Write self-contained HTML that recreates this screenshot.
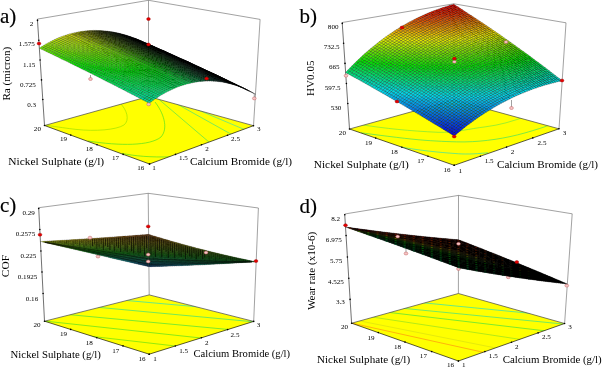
<!DOCTYPE html>
<html lang="en"><head><meta charset="utf-8"><title>Response surface plots</title>
<style>html,body{margin:0;padding:0;background:#fff}svg{display:block}text{font-family:"Liberation Serif",serif;fill:#000}text.b{stroke:#000;stroke-width:.15px}</style></head><body>
<svg width="602" height="368" viewBox="0 0 602 368">
<rect width="602" height="368" fill="#fff"/>
<!-- panel a -->
<path d="M37.4 19.1 L148.5 0.3 L260.1 19.4 L253.5 125.7 M148.5 0.3 L148.5 96.5" fill="none" stroke="#555" stroke-width=".55"/>
<clipPath id="fca"><path d="M149.5 164.0 L253.5 125.7 L148.5 96.5 L44.5 125.5Z"/></clipPath>
<path d="M149.5 164.0 L253.5 125.7 L148.5 96.5 L44.5 125.5Z" fill="#ff0"/>
<g clip-path="url(#fca)" fill="none" stroke-width=".8" stroke-opacity=".85">
<path d="M120 103 C127 110 130 120 124 125 C116 130 95 131.5 76 129.4 C68 128.5 58 127 46 125.2" stroke="#9be000"/>
<path d="M155 102 C163 112 169 128 161 137 C150 146 120 146 88 141" stroke="#4fe020"/>
<path d="M155.9 96.8 L212.1 144.7" stroke="#50e050"/>
<path d="M170.0 100.1 L235.0 136.4" stroke="#40e080"/>
<path d="M195.6 108.9 L249.4 131.6" stroke="#40e0a8"/>
<path d="M122 153.4 C135 156 150 157.5 172 156.8" stroke="#4fe020"/>
</g>
<path d="M44.5 125.5 L148.5 96.5 L253.5 125.7" fill="none" stroke="#444" stroke-width=".7"/>
<path d="M44.5 125.5 L149.5 164.0 L253.5 125.7" fill="none" stroke="#000" stroke-width=".65"/>
<circle cx="149.5" cy="164.0" r=".8"/>
<circle cx="149.5" cy="164.0" r=".8"/>
<circle cx="123.2" cy="154.4" r=".8"/>
<circle cx="175.5" cy="154.4" r=".8"/>
<circle cx="97.0" cy="144.8" r=".8"/>
<circle cx="201.5" cy="144.8" r=".8"/>
<circle cx="70.8" cy="135.1" r=".8"/>
<circle cx="227.5" cy="135.3" r=".8"/>
<circle cx="44.5" cy="125.5" r=".8"/>
<circle cx="253.5" cy="125.7" r=".8"/>
<path d="M37.4 19.1 L44.5 125.5" fill="none" stroke="#111" stroke-width=".6"/>
<circle cx="37.5" cy="20.4" r=".8"/>
<circle cx="38.8" cy="40.2" r=".8"/>
<circle cx="40.1" cy="60.0" r=".8"/>
<circle cx="41.5" cy="79.9" r=".8"/>
<circle cx="42.8" cy="99.5" r=".8"/>
<ellipse cx="148.5" cy="19.0" rx="1.9" ry="1.5" fill="#e60000" stroke="#900" stroke-width=".4"/>
<g transform="scale(.1)" stroke="#000" stroke-width="2.1" stroke-linejoin="round">
<path fill="#000000" d="M1377 395l21 9-21-9-22-9zM1355 387l22 8-22-9-22-9zM1399 405l21 9-22-10-21-9zM1442 423l22 10-22-10-22-9zM1420 414l22 9-22-9-21-9zM1311 371l22 8-22-10-22-7zM1529 461l22 10-22-9-22-10zM1355 388l22 8-22-9-22-8zM1399 406l21 8-21-9-22-9zM1289 364l22 7-22-9-22-8zM1333 381l22 7-22-9-22-8zM1420 415l22 9-22-10-21-8zM1464 433l22 9-22-9-22-9zM1507 452l22 9-22-9-21-10zM1377 398l22 8-22-10-22-8zM1355 390l22 8-22-10-22-7zM1399 407l21 8-21-9-22-8zM1442 425l22 8-22-9-22-9zM1486 443l21 9-21-10-22-9zM1377 400l22 7-22-9-22-8zM1464 434l22 9-22-10-22-8zM1508 452l21 9-22-9-21-9zM1551 471l22 9-22-9-22-10zM1399 409l22 8-22-10-22-7zM1529 462l22 9-22-10-21-9zM1421 419l21 7-21-9-22-8zM1464 436l22 8-22-10-22-8zM1508 454l21 8-21-10-22-8zM1443 428l21 8-22-10-21-7zM1530 463l21 9-22-10-21-8zM1573 481l21 9-21-9-22-9zM1616 500l22 9-22-9-22-10zM1659 519l22 10-22-10-21-10zM1486 445l22 9-22-10-22-8zM1464 438l22 7-22-9-21-8zM1508 455l22 8-22-9-22-9zM1551 473l22 8-22-9-21-9zM1595 491l21 9-22-10-21-9zM1638 509l21 10-21-10-22-9zM1486 448l22 7-22-10-22-7zM1530 465l21 8-21-10-22-8zM1573 482l22 9-22-10-22-8zM1616 501l22 8-22-9-21-9zM1508 457l22 8-22-10-22-7zM1552 474l21 8-22-9-21-8zM1595 492l21 9-21-10-22-9zM1638 510l22 9-22-10-22-8zM1681 529l22 9-22-9-21-10zM1530 467l22 7-22-9-22-8zM1660 520l21 9-21-10-22-9zM1703 539l21 9-21-10-22-9zM1552 476l21 8-21-10-22-7zM1595 494l22 8-22-10-22-8zM1638 511l22 9-22-10-21-8zM1682 530l21 9-22-10-21-9zM1725 548l21 10-22-10-21-9zM1573 486l22 8-22-10-21-8zM1617 503l21 8-21-9-22-8zM1660 521l22 9-22-10-22-9zM1703 539l22 9-22-9-21-9zM1595 496l22 7-22-9-22-8zM1639 513l21 8-22-10-21-8zM1617 506l22 7-22-10-22-7zM1660 523l22 8-22-10-21-8zM1746 559l22 9-22-10-21-9zM1639 515l21 8-21-10-22-7zM1682 533l21 8-21-10-22-8zM1725 550l21 9-21-10-22-8zM1768 569l21 9-21-10-22-9zM1660 525l22 8-22-10-21-8zM1704 542l21 8-22-9-21-8zM1747 560l21 9-22-10-21-9zM1790 578l21 9-22-9-21-9zM1833 597l21 10-22-10-21-10zM1875 616l22 10-22-10-21-9zM1682 535l22 7-22-9-22-8zM1725 552l22 8-22-10-21-8zM1768 570l22 8-22-9-21-9zM1811 588l22 9-22-10-21-9zM1854 607l21 9-21-9-21-10zM1897 626l21 10-21-10-22-10zM1704 545l21 7-21-10-22-7zM1747 562l21 8-21-10-22-8zM1790 580l21 8-21-10-22-8zM1833 598l21 9-21-10-22-9zM1876 617l21 9-22-10-21-9zM1918 636l22 10-22-10-21-10zM1726 555l21 7-22-10-21-7zM1769 572l21 8-22-10-21-8zM1812 590l21 8-22-10-21-8zM1855 608l21 9-22-10-21-9zM1897 627l21 9-21-10-21-9zM1747 564l22 8-22-10-21-7zM1790 582l22 8-22-10-21-8zM1833 600l22 8-22-10-21-8zM1876 618l21 9-21-10-21-9zM1769 574l21 8-21-10-22-8zM1855 610l21 8-21-10-22-8zM1898 628l21 9-22-10-21-9zM1940 647l21 9-21-10-21-9zM1791 584l21 8-22-10-21-8zM1876 619l22 9-22-10-21-8zM1919 638l21 9-21-10-21-9zM1962 657l21 9-22-10-21-9zM1812 594l22 8-22-10-21-8zM1983 667l21 9-21-10-21-9zM1898 629l21 9-21-10-22-9zM1941 648l21 9-22-10-21-9zM1834 604l21 7-21-9-22-8zM1962 658l21 9-21-10-21-9zM2005 677l21 9-22-10-21-9zM1920 639l21 9-22-10-21-9zM1856 614l21 7-22-10-21-7zM1984 668l21 9-22-10-21-9zM2026 687l21 9-21-10-21-9zM1877 624l21 7-21-10-21-7zM1920 641l21 8-21-10-22-8zM2005 678l21 9-21-10-21-9zM2048 697l21 9-22-10-21-9zM1942 651l21 8-22-10-21-8zM2027 688l21 9-22-10-21-9zM2069 707l21 9-21-10-21-9zM1963 661l21 8-21-10-21-8zM2006 679l21 9-22-10-21-9zM2048 698l21 9-21-10-21-9zM2091 717l21 9-22-10-21-9zM1985 671l21 8-22-10-21-8zM2027 689l21 9-21-10-21-9zM2070 708l21 9-22-10-21-9zM2112 727l21 9-21-10-21-9zM2154 746l21 10-21-10-21-10zM2176 756l20 10-21-10-21-10zM2049 699l21 9-22-10-21-9zM2091 718l21 9-21-10-21-9zM2134 737l20 9-21-10-21-9zM2155 747l21 9-22-10-20-9zM2197 766l21 10-22-10-20-10zM2070 710l21 8-21-10-21-9zM2113 728l21 9-22-10-21-9zM2134 738l21 9-21-10-21-9zM2176 757l21 9-21-10-21-9zM2218 777l21 9-21-10-21-10zM2092 720l21 8-22-10-21-8zM2260 797l21 10-21-10-21-11zM2113 730l21 8-21-10-21-8zM2155 748l21 9-21-10-21-9zM2198 767l20 10-21-11-21-9zM2240 787l20 10-21-11-21-9zM2282 807l20 10-21-10-21-10zM2092 722l21 8-21-10-21-8zM2135 740l20 8-21-10-21-8zM2177 758l21 9-22-10-21-9zM2219 777l21 10-22-10-20-10zM2261 797l21 10-22-10-20-10zM2114 732l21 8-22-10-21-8zM2156 750l21 8-22-10-20-8zM2198 769l21 8-21-10-21-9zM2135 742l21 8-21-10-21-8zM2177 760l21 9-21-11-21-8zM2220 779l20 9-21-11-21-8zM2157 752l20 8-21-10-21-8zM2199 770l21 9-22-10-21-9zM2241 789l21 9-22-10-20-9zM2178 763l21 7-22-10-20-8zM2220 781l21 8-21-10-21-9zM2262 799l21 9-21-10-21-9zM2304 818l21 10-21-11-21-9zM2430 879l20 11-21-11-21-11zM2471 900l20 11-21-10-20-11zM2199 773l21 8-21-11-21-7zM2242 791l20 8-21-10-21-8zM2284 810l20 8-21-10-21-9zM2326 829l20 9-21-10-21-10zM2451 889l20 11-21-10-20-11zM2221 783l21 8-22-10-21-8zM2263 801l21 9-22-11-20-8zM2305 820l21 9-22-11-20-8zM2347 839l21 9-22-10-20-9zM2242 793l21 8-21-10-21-8zM2326 830l21 9-21-10-21-9zM2368 849l21 10-21-11-21-9zM2410 869l20 10-21-11-20-9zM2452 889l20 10-21-10-21-10zM2493 910l20 11-21-11-20-11zM2534 931l21 11-22-10-20-11zM2431 879l21 10-22-10-20-10zM2264 804l20 7-21-10-21-8zM2348 840l20 9-21-10-21-9zM2390 860l20 9-21-10-21-10zM2473 900l20 10-21-11-20-10zM2514 920l20 11-21-10-20-11zM2411 870l20 9-21-10-20-9zM2452 890l21 10-21-11-21-10zM2285 814l21 8-22-11-20-7zM2327 832l21 8-22-10-20-8zM2369 851l21 9-22-11-20-9zM2494 910l20 10-21-10-20-10zM2390 861l21 9-21-10-21-9zM2474 900l20 10-21-10-21-10zM2306 824l21 8-21-10-21-8zM2348 842l21 9-21-11-21-8zM2370 853l20 8-21-10-21-9zM2411 871l21 9-21-10-21-9zM2453 891l21 9-22-10-20-10zM2328 835l20 7-21-10-21-8zM2349 845l21 8-22-11-20-7zM2391 863l20 8-21-10-20-8zM2433 882l20 9-21-11-21-9zM2370 855l21 8-21-10-21-8zM2412 874l21 8-22-11-20-8zM2392 866l20 8-21-11-21-8z"/>
<path fill="#000600" d="M1267 357l22 7-22-10-22-6zM1311 373l22 8-22-10-22-7zM1245 351l22 6-22-9-22-6zM1289 367l22 6-22-9-22-7zM1333 383l22 7-22-9-22-8zM1355 392l22 8-22-10-22-7zM1223 345l22 6-22-9-22-6zM1267 361l22 6-22-10-22-6zM1311 376l22 7-22-10-22-6zM1333 386l22 6-22-9-22-7zM1377 402l22 7-22-9-22-8zM1245 355l22 6-22-10-22-6zM1289 370l22 6-22-9-22-6zM1311 380l22 6-22-10-22-6zM1355 395l22 7-22-10-22-6zM1399 412l22 7-22-10-22-7zM1333 389l22 6-22-9-22-6zM1377 405l22 7-22-10-22-7zM1421 421l22 7-22-9-22-7zM1355 399l22 6-22-10-22-6zM1399 415l22 6-22-9-22-7zM1443 431l21 7-21-10-22-7zM1377 408l22 7-22-10-22-6zM1421 424l22 7-22-10-22-6zM1465 440l21 8-22-10-21-7zM1399 418l22 6-22-9-22-7zM1443 434l22 6-22-9-22-7zM1486 450l22 7-22-9-21-8zM1421 428l22 6-22-10-22-6zM1465 443l21 7-21-10-22-6zM1508 460l22 7-22-10-22-7zM1443 437l22 6-22-9-22-6zM1486 453l22 7-22-10-21-7zM1530 469l22 7-22-9-22-7zM1465 447l21 6-21-10-22-6zM1508 463l22 6-22-9-22-7zM1552 479l21 7-21-10-22-7zM1487 457l21 6-22-10-21-6zM1530 473l22 6-22-10-22-6zM1574 489l21 7-22-10-21-7zM1508 466l22 7-22-10-21-6zM1552 482l22 7-22-10-22-6zM1595 499l22 7-22-10-21-7zM1530 476l22 6-22-9-22-7zM1574 492l21 7-21-10-22-7zM1617 508l22 7-22-9-22-7zM1552 486l22 6-22-10-22-6zM1596 502l21 6-22-9-21-7zM1639 518l21 7-21-10-22-7zM1574 496l22 6-22-10-22-6zM1617 512l22 6-22-10-21-6zM1661 528l21 7-22-10-21-7zM1596 505l21 7-21-10-22-6zM1639 521l22 7-22-10-22-6zM1682 538l22 7-22-10-21-7zM1618 515l21 6-22-9-21-7zM1661 531l21 7-21-10-22-7zM1704 548l22 7-22-10-22-7zM1639 525l22 6-22-10-21-6zM1683 541l21 7-22-10-21-7zM1726 557l21 7-21-9-22-7zM1748 567l21 7-22-10-21-7zM1661 535l22 6-22-10-22-6zM1704 551l22 6-22-9-21-7zM1726 561l22 6-22-10-22-6zM1769 577l22 7-22-10-21-7zM1683 545l21 6-21-10-22-6zM1748 571l21 6-21-10-22-6zM1791 587l21 7-21-10-22-7zM1813 597l21 7-22-10-21-7zM1834 607l22 7-22-10-21-7zM1856 617l21 7-21-10-22-7zM1899 634l21 7-22-10-21-7zM1920 644l22 7-22-10-21-7zM1942 654l21 7-21-10-22-7zM1963 664l22 7-22-10-21-7zM1985 674l21 7-21-10-22-7zM2007 684l21 8-22-11-21-7zM2028 694l21 8-21-10-21-8zM2050 704l21 8-22-10-21-8z"/>
<path fill="#060c00" d="M1201 340l22 5-22-9-22-6zM1179 335l22 5-22-10-22-4zM1224 350l21 5-22-10-22-5zM1202 345l22 5-23-10-22-5zM1246 359l21 5-22-9-21-5zM1268 369l21 5-22-10-21-5zM1290 378l21 5-22-9-21-5z"/>
<path fill="#000c00" d="M1267 364l22 6-22-9-22-6zM1289 374l22 6-22-10-22-6zM1311 383l22 6-22-9-22-6zM1333 393l22 6-22-10-22-6zM1311 388l22 5-22-10-21-5zM1355 403l22 5-22-9-22-6zM1333 397l22 6-22-10-22-5zM1377 412l22 6-22-10-22-5zM1355 407l22 5-22-9-22-6zM1399 422l22 6-22-10-22-6zM1377 417l22 5-22-10-22-5zM1421 432l22 5-22-9-22-6zM1399 426l22 6-22-10-22-5zM1443 441l22 6-22-10-22-5zM1421 436l22 5-22-9-22-6zM1465 451l22 6-22-10-22-6zM1443 446l22 5-22-10-22-5zM1487 461l21 5-21-9-22-6zM1465 456l22 5-22-10-22-5zM1509 471l21 5-22-10-21-5zM1487 465l22 6-22-10-22-5zM1530 480l22 6-22-10-21-5zM1509 475l21 5-21-9-22-6zM1552 490l22 6-22-10-22-6zM1531 485l21 5-22-10-21-5zM1574 500l22 5-22-9-22-6zM1552 495l22 5-22-10-21-5zM1596 510l22 5-22-10-22-5zM1574 505l22 5-22-10-22-5zM1618 520l21 5-21-10-22-5zM1596 515l22 5-22-10-22-5zM1640 529l21 6-22-10-21-5zM1618 524l22 5-22-9-22-5z"/>
<path fill="#0c1200" d="M1157 331l22 4-22-9-22-5zM1180 340l22 5-23-10-22-4z"/>
<path fill="#0c1800" d="M1135 327l22 4-22-10-22-4zM1158 337l22 3-23-9-22-4zM1180 346l22 4-22-10-22-3zM1202 356l22 4-22-10-22-4zM1224 365l22 4-22-9-22-4zM1246 375l22 4-22-10-22-4zM1268 385l22 4-22-10-22-4z"/>
<path fill="#061200" d="M1224 354l22 5-22-9-22-5zM1202 350l22 4-22-9-22-5zM1246 364l22 5-22-10-22-5zM1224 360l22 4-22-10-22-4zM1268 374l22 4-22-9-22-5zM1246 369l22 5-22-10-22-4zM1290 383l21 5-21-10-22-4zM1268 379l22 4-22-9-22-5zM1312 393l21 4-22-9-21-5zM1290 389l22 4-22-10-22-4zM1334 402l21 5-22-10-21-4zM1312 398l22 4-22-9-22-4zM1355 412l22 5-22-10-21-5zM1334 408l21 4-21-10-22-4zM1356 418l21 4-22-10-21-4zM1378 427l21 5-22-10-21-4zM1399 437l22 4-22-9-21-5z"/>
<path fill="#121e00" d="M1113 324l22 3-22-10-22-3zM1135 333l23 4-23-10-22-3zM1158 343l22 3-22-9-23-4zM1180 353l22 3-22-10-22-3z"/>
<path fill="#181e00" d="M1091 321l22 3-22-10-22-3zM1113 330l22 3-22-9-22-3z"/>
<path fill="#1e2400" d="M1069 318l22 3-22-10-22-2zM1091 328l22 2-22-9-22-3z"/>
<path fill="#242a00" d="M1047 317l22 1-22-9-22-2zM1069 326l22 2-22-10-22-1z"/>
<path fill="#122400" d="M1136 340l22 3-23-10-22-3zM1158 350l22 3-22-10-22-3zM1180 359l22 3-22-9-22-3zM1202 369l22 3-22-10-22-3zM1224 379l22 3-22-10-22-3zM1246 388l22 3-22-9-22-3zM1268 398l22 3-22-10-22-3z"/>
<path fill="#2a3600" d="M1025 315l22 2-22-10-22-1zM1047 325l22 1-22-9-22-2zM1069 335l22 1-22-10-22-1z"/>
<path fill="#182400" d="M1114 338l22 2-23-10-22-2z"/>
<path fill="#0c1e00" d="M1202 362l22 3-22-9-22-3zM1224 372l22 3-22-10-22-3zM1246 382l22 3-22-10-22-3zM1268 391l22 3-22-9-22-3zM1290 401l22 3-22-10-22-3zM1312 411l22 3-22-10-22-3zM1334 420l22 4-22-10-22-3z"/>
<path fill="#303c00" d="M1003 314l22 1-22-9-22-1zM1025 324l22 1-22-10-22-1zM1047 334l22 1-22-10-22-1zM1070 343l22 1-23-9-22-1z"/>
<path fill="#1e3000" d="M1091 336l23 2-23-10-22-2zM1114 346l22 1-22-9-23-2zM1136 355l22 2-22-10-22-1zM1158 365l22 2-22-10-22-2zM1180 375l22 2-22-10-22-2z"/>
<path fill="#182a00" d="M1136 347l22 3-22-10-22-2zM1158 357l22 2-22-9-22-3zM1180 367l22 2-22-10-22-2zM1202 377l22 2-22-10-22-2zM1224 386l22 2-22-9-22-2z"/>
<path fill="#3c4200" d="M981 314l22 0-22-9-22-1zM1003 324l22 0-22-10-22 0z"/>
<path fill="#061800" d="M1290 394l22 4-22-9-22-4zM1312 404l22 4-22-10-22-4zM1334 414l22 4-22-10-22-4zM1356 424l22 3-22-9-22-4zM1378 433l21 4-21-10-22-3zM1400 443l21 4-22-10-21-4zM1422 453l21 4-22-10-21-4zM1443 463l22 3-22-9-21-4z"/>
<path fill="#001200" d="M1377 422l22 4-22-9-22-5zM1399 432l22 4-22-10-22-4zM1421 441l22 5-22-10-22-4zM1443 451l22 5-22-10-22-5zM1421 447l22 4-22-10-22-4zM1465 461l22 4-22-9-22-5zM1443 457l22 4-22-10-22-4zM1487 471l22 4-22-10-22-4zM1509 480l22 5-22-10-22-4zM1531 490l21 5-21-10-22-5zM1553 500l21 5-22-10-21-5zM1574 510l22 5-22-10-21-5zM1596 520l22 4-22-9-22-5zM1618 530l22 4-22-10-22-4z"/>
<path fill="#424e00" d="M959 314l22 0-22-10-22 0zM981 324l22 0-22-10-22 0zM1003 334l22-1-22-9-22 0zM1026 343l22 0-23-10-22 1z"/>
<path fill="#243600" d="M1092 344l22 2-23-10-22-1zM1114 354l22 1-22-9-22-2zM1136 364l22 1-22-10-22-1zM1158 373l22 2-22-10-22-1z"/>
<path fill="#4e5400" d="M937 315l22-1-22-10-22 1zM959 325l22-1-22-10-22 1z"/>
<path fill="#364200" d="M1025 333l22 1-22-10-22 0zM1048 343l22 0-23-9-22-1zM1070 353l22 0-22-10-22 0z"/>
<path fill="#5a6000" d="M915 316l22-1-22-10-22 1zM937 326l22-1-22-10-22 1z"/>
<path fill="#2a3c00" d="M1092 353l22 1-22-10-22-1zM1114 363l22 1-22-10-22-1zM1136 373l22 0-22-9-22-1zM1158 383l22 0-22-10-22 0z"/>
<path fill="#666600" d="M893 318l22-2-22-10-22 2z"/>
<path fill="#485400" d="M981 334l22 0-22-10-22 1zM1003 344l23-1-23-9-22 0zM1026 354l22-1-22-10-23 1z"/>
<path fill="#183000" d="M1202 385l22 1-22-9-22-2zM1224 394l22 2-22-10-22-1zM1246 404l22 2-22-10-22-2zM1268 414l22 2-22-10-22-2zM1290 424l22 1-22-9-22-2z"/>
<path fill="#122a00" d="M1246 396l22 2-22-10-22-2zM1268 406l22 2-22-10-22-2zM1290 416l22 2-22-10-22-2zM1312 425l22 3-22-10-22-2zM1334 435l22 2-22-9-22-3z"/>
<path fill="#0c2400" d="M1290 408l22 3-22-10-22-3zM1312 418l22 2-22-9-22-3zM1334 428l22 2-22-10-22-2zM1356 437l22 3-22-10-22-2zM1378 447l22 3-22-10-22-3zM1400 457l22 3-22-10-22-3z"/>
<path fill="#727200" d="M871 320l22-2-22-10-22 2zM893 330l22-3-22-9-22 2z"/>
<path fill="#666c00" d="M915 327l22-1-22-10-22 2z"/>
<path fill="#546000" d="M959 336l22-2-22-9-22 1zM981 345l22-1-22-10-22 2zM1004 355l22-1-23-10-22 1z"/>
<path fill="#3c4e00" d="M1048 353l22 0-22-10-22 0zM1070 363l22 0-22-10-22 0zM1092 373l22 0-22-10-22 0z"/>
<path fill="#304800" d="M1092 363l22 0-22-10-22 0zM1114 373l22 0-22-10-22 0zM1136 382l22 1-22-10-22 0zM1158 392l22 0-22-9-22-1z"/>
<path fill="#1e3600" d="M1180 383l22 2-22-10-22-2zM1202 393l22 1-22-9-22-2zM1224 403l22 1-22-10-22-1zM1246 413l22 1-22-10-22-1zM1268 423l22 1-22-10-22-1z"/>
<path fill="#061e00" d="M1356 430l22 3-22-9-22-4zM1378 440l22 3-22-10-22-3zM1400 450l22 3-22-10-22-3zM1422 460l21 3-21-10-22-3zM1444 470l21 3-22-10-21-3zM1465 479l22 4-22-10-21-3z"/>
<path fill="#787e00" d="M849 323l22-3-22-10-22 3z"/>
<path fill="#606c00" d="M937 337l22-1-22-10-22 1zM959 347l22-2-22-9-22 1z"/>
<path fill="#001800" d="M1465 466l22 5-22-10-22-4zM1487 476l22 4-22-9-22-5zM1465 473l22 3-22-10-22-3zM1509 486l22 4-22-10-22-4zM1487 483l22 3-22-10-22-3zM1531 496l22 4-22-10-22-4zM1509 492l22 4-22-10-22-3zM1553 506l21 4-21-10-22-4zM1531 502l22 4-22-10-22-4zM1575 516l21 4-22-10-21-4zM1553 512l22 4-22-10-22-4zM1596 526l22 4-22-10-21-4zM1618 536l22 4-22-10-22-4z"/>
<path fill="#243c00" d="M1180 392l22 1-22-10-22 0zM1202 402l22 1-22-10-22-1z"/>
<path fill="#848a00" d="M827 326l22-3-22-10-22 3z"/>
<path fill="#7e7e00" d="M871 332l22-2-22-10-22 3z"/>
<path fill="#6c7800" d="M915 340l22-3-22-10-22 3zM937 349l22-2-22-10-22 3z"/>
<path fill="#425a00" d="M1048 364l22-1-22-10-22 1zM1070 374l22-1-22-10-22 1zM1092 383l22 0-22-10-22 1z"/>
<path fill="#5a6c00" d="M982 357l22-2-23-10-22 2zM1004 367l22-2-22-10-22 2zM1026 377l22-2-22-10-22 2z"/>
<path fill="#969c00" d="M805 330l22-4-22-10-22 4zM827 340l22-4-22-10-22 4zM849 350l22-4-22-10-22 4z"/>
<path fill="#8a9000" d="M849 336l22-4-22-9-22 3z"/>
<path fill="#788400" d="M893 342l22-2-22-10-22 2zM916 352l21-3-22-9-22 2z"/>
<path fill="#4e6000" d="M1026 365l22-1-22-10-22 1zM1048 375l22-1-22-10-22 1z"/>
<path fill="#364e00" d="M1114 383l22-1-22-9-22 0zM1136 393l22-1-22-10-22 1zM1158 402l22 0-22-10-22 1z"/>
<path fill="#667800" d="M960 359l22-2-23-10-22 2zM982 369l22-2-22-10-22 2z"/>
<path fill="#2a4800" d="M1180 402l22 0-22-10-22 0zM1202 412l22 0-22-10-22 0zM1224 422l22 0-22-10-22 0z"/>
<path fill="#244200" d="M1224 412l22 1-22-10-22-1zM1246 422l22 1-22-10-22-1z"/>
<path fill="#000606" d="M1705 555l21 6-22-10-21-6zM1726 565l22 6-22-10-21-6zM1770 581l21 6-22-10-21-6zM1748 575l22 6-22-10-22-6zM1791 591l22 6-22-10-21-6zM1770 585l21 6-21-10-22-6zM1813 601l21 6-21-10-22-6zM1791 595l22 6-22-10-21-6zM1835 610l21 7-22-10-21-6zM1877 627l22 7-22-10-21-7zM1856 620l21 7-21-10-21-7zM1899 637l21 7-21-10-22-7zM1921 647l21 7-22-10-21-7zM1878 630l21 7-22-10-21-7zM1899 641l22 6-22-10-21-7zM1942 657l21 7-21-10-21-7zM1921 651l21 6-21-10-22-6zM1964 667l21 7-22-10-21-7zM1943 661l21 6-22-10-21-6zM1985 677l22 7-22-10-21-7zM1964 671l21 6-21-10-21-6zM2007 687l21 7-21-10-22-7zM1986 681l21 6-22-10-21-6zM2029 697l21 7-22-10-21-7zM2071 714l21 8-21-10-21-8zM2007 691l22 6-22-10-21-6zM2050 708l21 6-21-10-21-7zM2093 725l21 7-22-10-21-8zM2029 701l21 7-21-11-22-6zM2072 718l21 7-22-11-21-6zM2114 735l21 7-21-10-21-7zM2050 711l22 7-22-10-21-7zM2093 728l21 7-21-10-21-7zM2136 745l21 7-22-10-21-7zM2072 721l21 7-21-10-22-7zM2115 738l21 7-22-10-21-7zM2157 755l21 8-21-11-21-7zM2093 732l22 6-22-10-21-7zM2136 748l21 7-21-10-21-7zM2178 765l21 8-21-10-21-8zM2115 742l21 6-21-10-22-6zM2157 759l21 6-21-10-21-7zM2200 776l21 7-22-10-21-8zM2221 786l21 7-21-10-21-7zM2136 752l21 7-21-11-21-6zM2179 769l21 7-22-11-21-6zM2200 779l21 7-21-10-21-7zM2243 796l21 8-22-11-21-7zM2158 762l21 7-22-10-21-7zM2179 773l21 6-21-10-21-7zM2222 789l21 7-22-10-21-7zM2264 807l21 7-21-10-21-8zM2201 783l21 6-22-10-21-6zM2243 800l21 7-21-11-21-7zM2285 817l21 7-21-10-21-7zM2307 827l21 8-22-11-21-7zM2222 793l21 7-21-11-21-6zM2265 810l20 7-21-10-21-7zM2286 820l21 7-22-10-20-7zM2328 838l21 7-21-10-21-8zM2244 804l21 6-22-10-21-7zM2265 814l21 6-21-10-21-6zM2307 831l21 7-21-11-21-7zM2349 848l21 7-21-10-21-7zM2286 824l21 7-21-11-21-6zM2329 841l20 7-21-10-21-7zM2371 858l21 8-22-11-21-7zM2308 835l21 6-22-10-21-7zM2350 851l21 7-22-10-20-7zM2329 845l21 6-21-10-21-6z"/>
<path fill="#a2a800" d="M783 334l22-4-22-10-22 4zM805 344l22-4-22-10-22 4zM827 354l22-4-22-10-22 4z"/>
<path fill="#849000" d="M871 346l22-4-22-10-22 4zM894 356l22-4-23-10-22 4z"/>
<path fill="#123000" d="M1312 434l22 1-22-10-22-1zM1334 443l22 2-22-10-22-1zM1356 453l22 2-22-10-22-2zM1378 463l22 2-22-10-22-2z"/>
<path fill="#0c2a00" d="M1356 445l22 2-22-10-22-2zM1378 455l22 2-22-10-22-2zM1400 465l22 2-22-10-22-2zM1422 475l22 2-22-10-22-2z"/>
<path fill="#000c06" d="M1661 539l22 6-22-10-21-6zM1683 549l22 6-22-10-22-6zM1640 534l21 5-21-10-22-5zM1661 544l22 5-22-10-21-5zM1705 559l21 6-21-10-22-6zM1683 554l22 5-22-10-22-5zM1727 569l21 6-22-10-21-6zM1705 564l22 5-22-10-22-5zM1748 579l22 6-22-10-21-6zM1770 589l21 6-21-10-22-6zM1813 604l22 6-22-9-22-6zM1792 599l21 5-22-9-21-6zM1835 615l21 5-21-10-22-6zM1813 609l22 6-22-11-21-5zM1856 625l22 5-22-10-21-5zM1878 635l21 6-21-11-22-5zM1835 619l21 6-21-10-22-6zM1857 629l21 6-22-10-21-6zM1900 645l21 6-22-10-21-6zM1878 639l22 6-22-10-21-6zM1921 655l22 6-22-10-21-6zM1900 649l21 6-21-10-22-6zM1943 665l21 6-21-10-22-6zM1922 659l21 6-22-10-21-6zM1965 675l21 6-22-10-21-6zM1943 670l22 5-22-10-21-6zM1986 685l21 6-21-10-21-6zM1965 680l21 5-21-10-22-5zM2008 695l21 6-22-10-21-6zM1986 690l22 5-22-10-21-5zM2029 705l21 6-21-10-21-6zM2051 716l21 5-22-10-21-6zM2072 726l21 6-21-11-21-5zM2094 736l21 6-22-10-21-6zM2115 746l21 6-21-10-21-6z"/>
<path fill="#aeb400" d="M761 339l22-5-22-10-22 5z"/>
<path fill="#728400" d="M938 362l22-3-23-10-21 3zM960 372l22-3-22-10-22 3z"/>
<path fill="#3c5a00" d="M1114 393l22 0-22-10-22 0zM1136 403l22-1-22-9-22 0zM1158 413l22-1-22-10-22 1z"/>
<path fill="#183600" d="M1290 432l22 2-22-10-22-1zM1312 442l22 1-22-9-22-2zM1334 452l22 1-22-10-22-1z"/>
<path fill="#062400" d="M1422 467l22 3-22-10-22-3zM1444 477l21 2-21-9-22-3zM1466 487l21 2-22-10-21-2zM1488 497l21 2-22-10-21-2z"/>
<path fill="#486000" d="M1070 385l22-2-22-9-22 1z"/>
<path fill="#c0c600" d="M739 344l22-5-22-10-22 5zM761 354l22-5-22-10-22 5z"/>
<path fill="#aeba00" d="M783 349l22-5-22-10-22 5zM806 359l21-5-22-10-22 5z"/>
<path fill="#909c00" d="M872 360l22-4-23-10-22 4z"/>
<path fill="#7e9000" d="M916 366l22-4-22-10-22 4zM938 376l22-4-22-10-22 4z"/>
<path fill="#607800" d="M1004 379l22-2-22-10-22 2zM1026 389l22-2-22-10-22 2z"/>
<path fill="#546c00" d="M1048 387l22-2-22-10-22 2zM1070 397l22-2-22-10-22 2z"/>
<path fill="#486600" d="M1092 395l22-2-22-10-22 2zM1114 405l22-2-22-10-22 2z"/>
<path fill="#304e00" d="M1180 412l22 0-22-10-22 0z"/>
<path fill="#1e4200" d="M1268 432l22 0-22-9-22-1zM1290 442l22 0-22-10-22 0zM1312 452l22 0-22-10-22 0z"/>
<path fill="#001e00" d="M1487 489l22 3-22-9-22-4zM1509 499l22 3-22-10-22-3zM1531 509l22 3-22-10-22-3zM1575 522l21 4-21-10-22-4zM1597 532l21 4-22-10-21-4zM1553 519l22 3-22-10-22-3zM1575 529l22 3-22-10-22-3zM1618 542l22 4-22-10-21-4zM1597 539l21 3-21-10-22-3z"/>
<path fill="#ccd800" d="M717 350l22-6-22-10-22 6zM740 360l21-6-22-10-22 6zM762 370l22-6-23-10-21 6z"/>
<path fill="#9ca800" d="M850 364l22-4-23-10-22 4z"/>
<path fill="#8a9c00" d="M894 369l22-3-22-10-22 4zM916 379l22-3-22-10-22 3z"/>
<path fill="#6c8400" d="M982 382l22-3-22-10-22 3zM1004 392l22-3-22-10-22 3z"/>
<path fill="#305400" d="M1202 422l22 0-22-10-22 0zM1224 432l22 0-22-10-22 0z"/>
<path fill="#244800" d="M1246 432l22 0-22-10-22 0zM1268 442l22 0-22-10-22 0zM1290 452l22 0-22-10-22 0z"/>
<path fill="#001206" d="M1640 540l21 4-21-10-22-4zM1662 550l21 4-22-10-21-4zM1683 560l22 4-22-10-21-4zM1727 574l21 5-21-10-22-5zM1705 570l22 4-22-10-22-4zM1748 584l22 5-22-10-21-5zM1727 580l21 4-21-10-22-4zM1770 594l22 5-22-10-22-5zM1749 590l21 4-22-10-21-4zM1792 604l21 5-21-10-22-5zM1770 600l22 4-22-10-21-4zM1814 614l21 5-22-10-21-5zM1835 624l22 5-22-10-21-5zM1792 610l22 4-22-10-22-4zM1814 620l21 4-21-10-22-4zM1857 634l21 5-21-10-22-5zM1836 630l21 4-22-10-21-4zM1879 644l21 5-22-10-21-5zM1900 654l22 5-22-10-21-5z"/>
<path fill="#123c00" d="M1356 462l22 1-22-10-22-1zM1378 472l22 1-22-10-22-1zM1400 482l22 1-22-10-22-1zM1422 492l22 1-22-10-22-1z"/>
<path fill="#dee400" d="M696 357l21-7-22-10-22 7z"/>
<path fill="#bac600" d="M784 364l22-5-23-10-22 5z"/>
<path fill="#a8ba00" d="M828 369l22-5-23-10-21 5zM850 379l22-5-22-10-22 5z"/>
<path fill="#9cae00" d="M872 374l22-5-22-9-22 4z"/>
<path fill="#789000" d="M960 386l22-4-22-10-22 4zM982 396l22-4-22-10-22 4z"/>
<path fill="#5a7800" d="M1048 399l22-2-22-10-22 2zM1070 409l22-2-22-10-22 2z"/>
<path fill="#4e7200" d="M1092 407l22-2-22-10-22 2zM1115 417l21-2-22-10-22 2z"/>
<path fill="#426600" d="M1136 415l22-2-22-10-22 2zM1159 425l21-2-22-10-22 2z"/>
<path fill="#365a00" d="M1180 423l22-1-22-10-22 1zM1203 433l21-1-22-10-22 1zM1225 443l22-1-23-10-21 1z"/>
<path fill="#0c3000" d="M1400 473l22 2-22-10-22-2zM1422 483l22 2-22-10-22-2zM1444 493l22 2-22-10-22-2z"/>
<path fill="#062a00" d="M1444 485l22 2-22-10-22-2zM1466 495l22 2-22-10-22-2zM1488 505l21 2-21-10-22-2zM1510 515l21 2-22-10-21-2z"/>
<path fill="#668400" d="M1026 402l22-3-22-10-22 3z"/>
<path fill="#184200" d="M1334 462l22 0-22-10-22 0zM1356 472l22 0-22-10-22 0zM1378 482l22 0-22-10-22 0z"/>
<path fill="#001806" d="M1640 546l22 4-22-10-22-4zM1662 556l21 4-21-10-22-4zM1684 566l21 4-22-10-21-4zM1705 576l22 4-22-10-21-4zM1727 586l22 4-22-10-22-4zM1749 596l21 4-21-10-22-4zM1771 606l21 4-22-10-21-4zM1792 616l22 4-22-10-21-4zM1814 626l22 4-22-10-22-4z"/>
<path fill="#deea00" d="M674 364l22-7-23-10-22 7zM718 367l22-7-23-10-21 7zM652 371l22-7-23-10-21 7z"/>
<path fill="#bacc00" d="M806 374l22-5-22-10-22 5z"/>
<path fill="#96ae00" d="M894 384l22-5-22-10-22 5z"/>
<path fill="#84a200" d="M938 389l22-3-22-10-22 3zM960 400l22-4-22-10-22 3z"/>
<path fill="#2a5400" d="M1247 442l21 0-22-10-22 0zM1269 452l21 0-22-10-21 0zM1291 462l21 0-22-10-21 0z"/>
<path fill="#002400" d="M1509 507l22 2-22-10-21-2zM1531 517l22 2-22-10-22-2zM1553 527l22 2-22-10-22-2zM1575 537l22 2-22-10-22-2zM1619 549l21 3-22-10-21-3z"/>
<path fill="#c6d800" d="M784 380l22-6-22-10-22 6z"/>
<path fill="#729600" d="M1004 406l22-4-22-10-22 4z"/>
<path fill="#668a00" d="M1049 412l21-3-22-10-22 3z"/>
<path fill="#1e4800" d="M1312 462l22 0-22-10-22 0zM1334 472l22 0-22-10-22 0zM1356 482l22 0-22-10-22 0z"/>
<path fill="#d8ea00" d="M696 374l22-7-22-10-22 7zM740 377l22-7-22-10-22 7zM630 380l22-9-22-10-22 8zM674 382l22-8-22-10-22 7z"/>
<path fill="#b4cc00" d="M828 384l22-5-22-10-22 5z"/>
<path fill="#a2ba00" d="M872 389l22-5-22-10-22 5z"/>
<path fill="#90ae00" d="M916 394l22-5-22-10-22 5zM939 404l21-4-22-11-22 5z"/>
<path fill="#547e00" d="M1093 419l22-2-23-10-22 2zM1115 429l22-2-22-10-22 2z"/>
<path fill="#487200" d="M1137 427l22-2-23-10-21 2zM1159 437l22-2-22-10-22 2z"/>
<path fill="#3c6600" d="M1181 435l22-2-23-10-21 2zM1203 445l22-2-22-10-22 2z"/>
<path fill="#d2ea00" d="M762 387l22-7-22-10-22 7zM718 384l22-7-22-10-22 7zM609 388l21-8-22-11-22 9zM653 390l21-8-22-11-22 9z"/>
<path fill="#c0d800" d="M806 391l22-7-22-10-22 6z"/>
<path fill="#7ea200" d="M983 410l21-4-22-10-22 4z"/>
<path fill="#6c9600" d="M1027 416l22-4-23-10-22 4zM1049 426l22-4-22-10-22 4z"/>
<path fill="#608a00" d="M1071 422l22-3-23-10-21 3zM1093 432l22-3-22-10-22 3z"/>
<path fill="#001e06" d="M1640 552l22 4-22-10-22-4zM1662 562l22 4-22-10-22-4zM1684 572l21 4-21-10-22-4zM1706 582l21 4-22-10-21-4zM1727 592l22 4-22-10-21-4zM1749 602l22 4-22-10-22-4zM1771 612l21 4-21-10-22-4z"/>
<path fill="#aecc00" d="M850 395l22-6-22-10-22 5z"/>
<path fill="#9cba00" d="M894 399l22-5-22-10-22 5z"/>
<path fill="#305a00" d="M1247 453l22-1-22-10-22 1z"/>
<path fill="#0c3600" d="M1466 503l22 2-22-10-22-2z"/>
<path fill="#ccea00" d="M740 394l22-7-22-10-22 7zM785 397l21-6-22-11-22 7zM696 392l22-8-22-10-22 8zM587 398l22-10-23-10-21 9zM631 399l22-9-23-10-21 8zM675 400l21-8-22-10-21 8z"/>
<path fill="#bade00" d="M829 401l21-6-22-11-22 7z"/>
<path fill="#8aae00" d="M961 414l22-4-23-10-21 4z"/>
<path fill="#78a200" d="M1005 420l22-4-23-10-21 4zM1027 430l22-4-22-10-22 4z"/>
<path fill="#306000" d="M1269 463l22-1-22-10-22 1z"/>
<path fill="#245400" d="M1313 472l21 0-22-10-21 0zM1335 482l21 0-22-10-21 0z"/>
<path fill="#124200" d="M1400 492l22 0-22-10-22 0zM1422 502l22 0-22-10-22 0zM1444 512l22 0-22-10-22 0z"/>
<path fill="#0c3c00" d="M1444 502l22 1-22-10-22-1zM1466 512l22 1-22-10-22-1zM1488 522l22 1-22-10-22-1z"/>
<path fill="#002a00" d="M1531 525l22 2-22-10-21-2zM1597 547l22 2-22-10-22-2zM1619 557l21 2-21-10-22-2z"/>
<path fill="#a8cc00" d="M873 405l21-6-22-10-22 6zM895 415l22-6-23-10-21 6z"/>
<path fill="#9cc000" d="M917 409l22-5-23-10-22 5z"/>
<path fill="#4e7e00" d="M1137 439l22-2-22-10-22 2zM1159 449l22-2-22-10-22 2z"/>
<path fill="#427200" d="M1181 447l22-2-22-10-22 2zM1203 457l22-2-22-10-22 2z"/>
<path fill="#366600" d="M1225 455l22-2-22-10-22 2zM1247 465l22-2-22-10-22 2zM1269 475l22-2-22-10-22 2z"/>
<path fill="#063600" d="M1488 513l22 2-22-10-22-2zM1510 523l21 2-21-10-22-2zM1532 533l21 2-22-10-21-2z"/>
<path fill="#c6ea00" d="M719 402l21-8-22-10-22 8zM763 404l22-7-23-10-22 7zM807 407l22-6-23-10-21 6zM653 409l22-9-22-10-22 9z"/>
<path fill="#b4de00" d="M851 411l22-6-23-10-21 6z"/>
<path fill="#96c000" d="M939 419l22-5-22-10-22 5z"/>
<path fill="#84ae00" d="M983 424l22-4-22-10-22 4z"/>
<path fill="#669600" d="M1071 436l22-4-22-10-22 4zM1093 446l22-4-22-10-22 4z"/>
<path fill="#5a8a00" d="M1115 442l22-3-22-10-22 3z"/>
<path fill="#2a6000" d="M1291 473l22-1-22-10-22 1zM1313 483l22-1-22-10-22 1z"/>
<path fill="#184e00" d="M1378 492l22 0-22-10-22 0zM1400 502l22 0-22-10-22 0z"/>
<path fill="#003000" d="M1553 535l22 2-22-10-22-2zM1575 545l22 2-22-10-22-2zM1597 555l22 2-22-10-22-2zM1619 565l22 2-22-10-22-2z"/>
<path fill="#002406" d="M1640 559l22 3-22-10-21-3zM1662 569l22 3-22-10-22-3zM1684 579l22 3-22-10-22-3zM1706 589l21 3-21-10-22-3zM1728 599l21 3-22-10-21-3zM1749 609l22 3-22-10-21-3z"/>
<path fill="#c0ea00" d="M565 407l22-9-22-11-22 10zM697 410l22-8-23-10-21 8zM741 412l22-8-23-10-21 8zM785 415l22-8-22-10-22 7zM609 408l22-9-22-11-22 10z"/>
<path fill="#baea00" d="M829 418l22-7-22-10-22 6zM544 418l21-11-22-10-21 11zM588 418l21-10-22-10-22 9zM675 419l22-9-22-10-22 9zM719 420l22-8-22-10-22 8zM763 422l22-7-22-11-22 8zM807 425l22-7-22-11-22 8zM631 418l22-9-22-10-22 9z"/>
<path fill="#aede00" d="M873 421l22-6-22-10-22 6zM895 431l22-6-22-10-22 6z"/>
<path fill="#a2cc00" d="M917 425l22-6-22-10-22 6z"/>
<path fill="#90c000" d="M961 429l22-5-22-10-22 5z"/>
<path fill="#7eb400" d="M1005 434l22-4-22-10-22 4zM1027 444l22-4-22-10-22 4z"/>
<path fill="#72a200" d="M1049 440l22-4-22-10-22 4z"/>
<path fill="#548a00" d="M1137 452l22-3-22-10-22 3zM1159 462l22-3-22-10-22 3z"/>
<path fill="#3c7200" d="M1225 467l22-2-22-10-22 2zM1247 477l22-2-22-10-22 2z"/>
<path fill="#1e5400" d="M1357 492l21 0-22-10-21 0zM1379 502l21 0-22-10-21 0z"/>
<path fill="#487e00" d="M1181 459l22-2-22-10-22 2zM1203 469l22-2-22-10-22 2z"/>
<path fill="#b4ea00" d="M851 428l22-7-22-10-22 7zM566 428l22-10-23-11-21 11zM610 428l21-10-22-10-21 10zM654 429l21-10-22-10-22 9zM698 429l21-9-22-10-22 9zM741 431l22-9-22-10-22 8zM785 433l22-8-22-10-22 7zM829 435l22-7-22-10-22 7z"/>
<path fill="#9cd200" d="M939 435l22-6-22-10-22 6z"/>
<path fill="#8ac000" d="M983 440l22-6-22-10-22 5zM1005 450l22-6-22-10-22 6z"/>
<path fill="#6ca200" d="M1071 450l22-4-22-10-22 4z"/>
<path fill="#609600" d="M1115 456l22-4-22-10-22 4z"/>
<path fill="#306c00" d="M1291 485l22-2-22-10-22 2zM1313 495l22-2-22-10-22 2z"/>
<path fill="#246000" d="M1335 493l22-1-22-10-22 1zM1357 503l22-1-22-10-22 1z"/>
<path fill="#124e00" d="M1422 512l22 0-22-10-22 0zM1444 522l22 0-22-10-22 0zM1466 532l22 0-22-10-22 0z"/>
<path fill="#0c4200" d="M1466 522l22 0-22-10-22 0zM1488 532l22 0-22-10-22 0zM1510 542l22 0-22-10-22 0z"/>
<path fill="#063c00" d="M1510 532l22 1-22-10-22-1zM1532 542l21 1-21-10-22-1zM1554 552l21 1-22-10-21-1z"/>
<path fill="#003600" d="M1553 543l22 2-22-10-21-2zM1575 553l22 2-22-10-22-2zM1597 563l22 2-22-10-22-2zM1619 573l22 2-22-10-22-2z"/>
<path fill="#002a06" d="M1641 567l21 2-22-10-21-2zM1662 577l22 2-22-10-21-2zM1684 587l22 2-22-10-22-2zM1706 597l22 2-22-10-22-2zM1728 607l21 2-21-10-22-2z"/>
<path fill="#aeea00" d="M522 429l22-11-22-10-22 11zM873 438l22-7-22-10-22 7zM588 439l22-11-22-10-22 10zM632 438l22-9-23-11-21 10zM676 439l22-10-23-10-21 10zM720 440l21-9-22-11-21 9zM764 441l21-8-22-11-22 9zM808 443l21-8-22-10-22 8zM852 445l21-7-22-10-22 7z"/>
<path fill="#a8de00" d="M917 441l22-6-22-10-22 6z"/>
<path fill="#96d200" d="M961 445l22-5-22-11-22 6z"/>
<path fill="#78b400" d="M1049 455l22-5-22-10-22 4z"/>
<path fill="#6ca800" d="M1093 460l22-4-22-10-22 4z"/>
<path fill="#5a9600" d="M1137 466l22-4-22-10-22 4z"/>
<path fill="#4e8a00" d="M1181 472l22-3-22-10-22 3zM1203 483l22-4-22-10-22 3z"/>
<path fill="#427e00" d="M1225 479l22-2-22-10-22 2zM1247 490l22-3-22-10-22 2z"/>
<path fill="#367200" d="M1269 487l22-2-22-10-22 2z"/>
<path fill="#185400" d="M1401 512l21 0-22-10-21 0zM1423 522l21 0-22-10-21 0z"/>
<path fill="#a8ea00" d="M501 440l21-11-22-10-21 11zM545 439l21-11-22-10-22 11zM896 448l21-7-22-10-22 7zM611 449l21-11-22-10-22 11zM654 449l22-10-22-10-22 9zM698 449l22-9-22-11-22 10zM742 450l22-9-23-10-21 9zM786 451l22-8-23-10-21 8zM830 453l22-8-23-10-21 8zM874 456l22-8-23-10-21 7z"/>
<path fill="#a2e400" d="M939 452l22-7-22-10-22 6z"/>
<path fill="#90d200" d="M983 455l22-5-22-10-22 5z"/>
<path fill="#84c600" d="M1027 460l22-5-22-11-22 6z"/>
<path fill="#72b400" d="M1071 465l22-5-22-10-22 5zM1093 475l22-5-22-10-22 5z"/>
<path fill="#66a800" d="M1115 470l22-4-22-10-22 4z"/>
<path fill="#5a9c00" d="M1159 476l22-4-22-10-22 4z"/>
<path fill="#367800" d="M1291 497l22-2-22-10-22 2z"/>
<path fill="#2a6c00" d="M1335 505l22-2-22-10-22 2z"/>
<path fill="#1e6000" d="M1379 513l22-1-22-10-22 1zM1401 523l22-1-22-10-22 1z"/>
<path fill="#003006" d="M1641 575l21 2-21-10-22-2zM1662 585l22 2-22-10-21-2zM1684 595l22 2-22-10-22-2zM1706 605l22 2-22-10-22-2zM1728 615l21 2-21-10-22-2z"/>
<path fill="#00120c" d="M1857 640l22 4-22-10-21-4zM1879 650l21 4-21-10-22-4zM1922 665l21 5-21-11-22-5zM1901 660l21 5-22-11-21-4zM1944 675l21 5-22-10-21-5zM1922 670l22 5-22-10-21-5zM1965 685l21 5-21-10-21-5zM1944 681l21 4-21-10-22-5zM1987 695l21 5-22-10-21-5zM1965 691l22 4-22-10-21-4zM2008 705l22 5-22-10-21-5zM1987 701l21 4-21-10-22-4zM2030 716l21 4-21-10-22-5zM2051 726l22 5-22-11-21-4zM2073 736l21 5-21-10-22-5zM2095 746l21 5-22-10-21-5zM2116 757l21 4-21-10-21-5zM2138 767l21 5-22-11-21-4z"/>
<path fill="#9cea00" d="M479 453l22-13-22-10-22 12zM523 451l22-12-23-10-21 11zM589 460l22-11-23-10-21 11zM896 466l22-8-22-10-22 8zM940 469l22-7-23-10-21 6zM699 470l21-10-22-11-21 10zM743 470l21-10-22-10-22 10zM786 471l22-9-22-11-22 9zM830 472l22-9-22-10-22 9zM874 474l22-8-22-10-22 7z"/>
<path fill="#a2ea00" d="M567 450l21-11-22-11-21 11zM918 458l21-6-22-11-21 7zM633 459l21-10-22-11-21 11zM677 459l21-10-22-10-22 10zM720 460l22-10-22-10-22 9zM764 460l22-9-22-10-22 9zM808 462l22-9-22-10-22 8zM852 463l22-7-22-11-22 8z"/>
<path fill="#9ce400" d="M962 462l21-7-22-10-22 7z"/>
<path fill="#8ad200" d="M1006 466l21-6-22-10-22 5z"/>
<path fill="#7ec600" d="M1050 470l21-5-22-10-22 5z"/>
<path fill="#60a800" d="M1137 480l22-4-22-10-22 4zM1160 491l21-5-22-10-22 4z"/>
<path fill="#549c00" d="M1181 486l22-3-22-11-22 4z"/>
<path fill="#489000" d="M1225 493l22-3-22-11-22 4z"/>
<path fill="#3c8400" d="M1269 500l22-3-22-10-22 3z"/>
<path fill="#307800" d="M1313 507l22-2-22-10-22 2zM1335 517l22-2-22-10-22 2z"/>
<path fill="#246c00" d="M1357 515l22-2-22-10-22 2zM1379 525l22-2-22-10-22 2z"/>
<path fill="#125400" d="M1444 532l22 0-22-10-21 0z"/>
<path fill="#0c4e00" d="M1488 542l22 0-22-10-22 0zM1510 552l22 0-22-10-22 0z"/>
<path fill="#064800" d="M1532 552l22 0-22-10-22 0zM1554 562l21 0-21-10-22 0z"/>
<path fill="#003c00" d="M1575 562l22 1-22-10-21-1zM1597 573l22 0-22-10-22-1zM1619 583l22 1-22-11-22 0z"/>
<path fill="#001e0c" d="M1793 622l21 4-22-10-21-4zM1814 633l22 3-22-10-21-4zM1836 643l21 3-21-10-22-3zM1858 653l21 3-22-10-21-3zM1879 663l22 3-22-10-21-3zM1901 673l21 4-21-11-22-3zM1923 684l21 3-22-10-21-4z"/>
<path fill="#00180c" d="M1836 636l21 4-21-10-22-4zM1857 646l22 4-22-10-21-4zM1879 656l22 4-22-10-22-4zM1901 666l21 4-21-10-22-4zM1922 677l22 4-22-11-21-4zM1944 687l21 4-21-10-22-4zM1966 697l21 4-22-10-21-4zM2009 711l21 5-22-11-21-4zM2030 721l21 5-21-10-21-5z"/>
<path fill="#90ea00" d="M458 465l21-12-22-11-21 13zM524 474l21-13-22-10-21 12zM568 472l21-12-22-10-22 11zM634 481l21-11-22-11-22 12zM677 480l22-10-22-11-22 11zM940 486l22-7-22-10-22 7zM984 489l22-7-22-10-22 7zM743 490l22-10-22-10-22 10zM787 491l22-10-23-10-21 9zM831 491l21-9-22-10-21 9zM875 493l21-9-22-10-22 8zM918 494l22-8-22-10-22 8z"/>
<path fill="#96ea00" d="M502 463l21-12-22-11-22 13zM545 461l22-11-22-11-22 12zM611 471l22-12-22-10-22 11zM655 470l22-11-23-10-21 10zM918 476l22-7-22-11-22 8zM962 479l22-7-22-10-22 7zM721 480l22-10-23-10-21 10zM765 480l21-9-22-11-21 10zM809 481l21-9-22-10-22 9zM852 482l22-8-22-11-22 9zM896 484l22-8-22-10-22 8z"/>
<path fill="#96e400" d="M984 472l22-6-23-11-21 7z"/>
<path fill="#84d200" d="M1028 476l22-6-23-10-21 6z"/>
<path fill="#78c600" d="M1072 480l21-5-22-10-21 5z"/>
<path fill="#6cb400" d="M1116 485l21-5-22-10-22 5z"/>
<path fill="#4e9c00" d="M1203 496l22-3-22-10-22 3zM1225 507l22-4-22-10-22 3z"/>
<path fill="#429000" d="M1247 503l22-3-22-10-22 3zM1269 513l22-3-22-10-22 3z"/>
<path fill="#368400" d="M1291 510l22-3-22-10-22 3zM1313 520l22-3-22-10-22 3z"/>
<path fill="#186000" d="M1423 534l21-2-21-10-22 1zM1445 544l21-1-22-11-21 2z"/>
<path fill="#125a00" d="M1466 543l22-1-22-10-22 0zM1488 553l22-1-22-10-22 1z"/>
<path fill="#003606" d="M1641 584l21 1-21-10-22-2zM1663 594l21 1-22-10-21-1zM1684 604l22 1-22-10-21-1zM1706 614l22 1-22-10-22-1z"/>
<path fill="#00240c" d="M1771 620l22 2-22-10-22-3zM1793 630l21 3-21-11-22-2zM1814 640l22 3-22-10-21-3zM1836 650l22 3-22-10-22-3zM1858 660l21 3-21-10-22-3zM1880 671l21 2-22-10-21-3z"/>
<path fill="#84e400" d="M437 479l21-14-22-10-21 13zM503 486l21-12-22-11-22 13zM1050 503l22-7-22-10-22 7zM612 493l22-12-23-10-21 11zM722 501l21-11-22-10-22 11zM1028 510l22-7-22-10-22 7zM678 502l21-11-22-11-21 12zM941 505l21-8-22-11-22 8zM984 507l22-7-22-11-22 8zM831 512l22-10-22-11-22 10zM875 512l22-9-22-10-22 9zM919 514l22-9-23-11-21 9z"/>
<path fill="#8ae400" d="M480 476l22-13-23-10-21 12zM546 484l22-12-23-11-21 13zM590 482l21-11-22-11-21 12zM1028 493l22-7-22-10-22 6zM656 492l21-12-22-10-21 11zM699 491l22-11-22-10-22 10zM962 497l22-8-22-10-22 7zM1006 500l22-7-22-11-22 7zM765 501l22-10-22-11-22 10zM809 501l22-10-22-10-22 10zM853 502l22-9-23-11-21 9zM897 503l21-9-22-10-21 9z"/>
<path fill="#90e400" d="M1006 482l22-6-22-10-22 6z"/>
<path fill="#84d800" d="M1050 486l22-6-22-10-22 6z"/>
<path fill="#72c600" d="M1094 491l22-6-23-10-21 5z"/>
<path fill="#66ba00" d="M1138 495l22-4-23-11-21 5z"/>
<path fill="#5aa800" d="M1182 501l21-5-22-10-21 5z"/>
<path fill="#2a7800" d="M1357 527l22-2-22-10-22 2z"/>
<path fill="#1e6c00" d="M1401 535l22-1-22-11-22 2zM1423 546l22-2-22-10-22 1z"/>
<path fill="#064e00" d="M1532 562l22 0-22-10-22 0zM1554 572l22 0-22-10-22 0zM1576 583l21-1-21-10-22 0z"/>
<path fill="#004800" d="M1576 572l21 1-22-11-21 0zM1597 582l22 1-22-10-21-1zM1619 593l22 0-22-10-22-1z"/>
<path fill="#002a0c" d="M1749 617l22 3-22-11-21-2zM1771 627l22 3-22-10-22-3zM1793 638l21 2-21-10-22-3zM1815 648l21 2-22-10-21-2zM1836 658l22 2-22-10-21-2z"/>
<path fill="#000c0c" d="M2008 700l21 5-21-10-22-5zM2030 710l21 6-22-11-21-5zM2051 720l21 6-21-10-21-6zM2073 731l21 5-22-10-21-6zM2094 741l21 5-21-10-21-5zM2137 757l21 5-22-10-21-6zM2158 767l21 6-21-11-21-5zM2116 751l21 6-22-11-21-5zM2137 761l21 6-21-10-21-6zM2180 777l21 6-22-10-21-6zM2159 772l21 5-22-10-21-6zM2201 787l21 6-21-10-21-6zM2180 782l21 5-21-10-21-5zM2223 798l21 6-22-11-21-6zM2244 808l21 6-21-10-21-6zM2202 792l21 6-22-11-21-5zM2223 803l21 5-21-10-21-6zM2266 819l20 5-21-10-21-6zM2245 813l21 6-22-11-21-5zM2287 829l21 6-22-11-20-5zM2266 824l21 5-21-10-21-6zM2308 839l21 6-21-10-21-6zM2287 834l21 5-21-10-21-5z"/>
<path fill="#72e400" d="M416 493l21-14-22-11-22 14zM613 516l21-13-22-10-21 12zM679 525l21-12-22-11-22 12zM1073 531l21-7-22-11-22 7zM1116 534l22-7-22-10-22 7zM963 534l22-8-22-11-22 9zM788 533l22-11-22-11-22 11zM832 532l21-10-22-10-21 10zM1007 536l22-8-22-11-22 9zM1051 538l22-7-23-11-21 8zM876 533l21-10-22-11-22 10zM919 533l22-9-22-10-22 9z"/>
<path fill="#7ee400" d="M459 489l21-13-22-11-21 14zM525 497l21-13-22-10-21 12zM568 495l22-13-22-10-22 12zM1072 513l22-6-22-11-22 7zM634 503l22-11-22-11-22 12zM700 513l22-12-23-10-21 11zM744 512l21-11-22-11-21 11zM788 511l21-10-22-10-22 10zM1007 517l21-7-22-10-22 7zM963 515l21-8-22-10-21 8zM853 522l22-10-22-10-22 10zM897 523l22-9-22-11-22 9z"/>
<path fill="#7ed800" d="M1072 496l22-5-22-11-22 6z"/>
<path fill="#6cc600" d="M1116 501l22-6-22-10-22 6zM1138 511l22-5-22-11-22 6z"/>
<path fill="#60ba00" d="M1160 506l22-5-22-10-22 4z"/>
<path fill="#54a800" d="M1204 511l21-4-22-11-21 5z"/>
<path fill="#489c00" d="M1248 517l21-4-22-10-22 4z"/>
<path fill="#3c9000" d="M1291 523l22-3-22-10-22 3z"/>
<path fill="#308400" d="M1335 530l22-3-22-10-22 3z"/>
<path fill="#247800" d="M1379 538l22-3-22-10-22 2zM1401 548l22-2-22-11-22 3z"/>
<path fill="#126000" d="M1467 554l21-1-22-10-21 1zM1488 564l22-1-22-10-21 1z"/>
<path fill="#0c5a00" d="M1510 563l22-1-22-10-22 1zM1532 573l22-1-22-10-22 1z"/>
<path fill="#003c06" d="M1641 593l22 1-22-10-22-1zM1663 603l21 1-21-10-22-1z"/>
<path fill="#369000" d="M1313 533l22-3-22-10-22 3zM1335 544l22-4-22-10-22 3z"/>
<path fill="#6ce400" d="M438 503l21-14-22-10-21 14zM504 511l21-14-22-11-22 14zM569 518l22-13-23-10-21 13zM635 526l21-12-22-11-21 13zM701 535l21-12-22-10-21 12zM744 534l22-12-22-10-22 11zM1095 541l21-7-22-10-21 7zM941 544l22-10-22-10-22 9zM985 545l22-9-22-10-22 8zM810 543l22-11-22-10-22 11zM854 543l22-10-23-11-21 10zM1029 547l22-9-22-10-22 8zM1073 549l22-8-22-10-22 7zM898 543l21-10-22-10-21 10z"/>
<path fill="#78e400" d="M481 500l22-14-23-10-21 13zM547 508l21-13-22-11-21 13zM591 505l21-12-22-11-22 13zM1050 520l22-7-22-10-22 7zM1094 524l22-7-22-10-22 6zM656 514l22-12-22-10-22 11zM722 523l22-11-22-11-22 12zM766 522l22-11-23-10-21 11zM810 522l21-10-22-11-21 10zM985 526l22-9-23-10-21 8zM1029 528l21-8-22-10-21 7zM941 524l22-9-22-10-22 9z"/>
<path fill="#78d800" d="M1094 507l22-6-22-10-22 5z"/>
<path fill="#5aba00" d="M1182 516l22-5-22-10-22 5zM1204 526l22-5-22-10-22 5z"/>
<path fill="#4eae00" d="M1226 521l22-4-23-10-21 4z"/>
<path fill="#429c00" d="M1270 527l21-4-22-10-21 4z"/>
<path fill="#2a8400" d="M1357 540l22-2-22-11-22 3zM1379 551l22-3-22-10-22 2z"/>
<path fill="#186c00" d="M1445 556l22-2-22-10-22 2zM1467 566l21-2-21-10-22 2z"/>
<path fill="#00300c" d="M1750 626l21 1-22-10-21-2zM1771 636l22 2-22-11-21-1zM1793 646l22 2-22-10-22-2zM1815 656l21 2-21-10-22-2z"/>
<path fill="#3c9c00" d="M1292 537l21-4-22-10-21 4z"/>
<path fill="#004806" d="M1641 603l22 0-22-10-22 0zM1663 613l22 0-22-10-22 0zM1685 623l21 0-21-10-22 0z"/>
<path fill="#004206" d="M1685 613l21 1-22-10-21-1zM1706 623l22 1-22-10-21-1z"/>
<path fill="#66e400" d="M460 514l21-14-22-11-21 14zM526 521l21-13-22-11-21 14zM591 529l22-13-22-11-22 13zM657 537l22-12-23-11-21 12zM1138 544l22-6-22-11-22 7zM723 546l21-12-22-11-21 12zM767 544l21-11-22-11-22 12zM1117 551l21-7-22-10-21 7zM920 554l21-10-22-11-21 10zM964 554l21-9-22-11-22 10zM1007 555l22-8-22-11-22 9zM832 554l22-11-22-11-22 11zM876 553l22-10-22-10-22 10zM1051 557l22-8-22-11-22 9z"/>
<path fill="#72d800" d="M1116 517l22-6-22-10-22 6z"/>
<path fill="#66cc00" d="M1160 521l22-5-22-10-22 5z"/>
<path fill="#48ae00" d="M1248 531l22-4-22-10-22 4zM1270 542l22-5-22-10-22 4z"/>
<path fill="#1e7800" d="M1423 558l22-2-22-10-22 2z"/>
<path fill="#0c6600" d="M1510 574l22-1-22-10-22 1zM1532 585l22-2-22-10-22 1z"/>
<path fill="#065a00" d="M1554 583l22 0-22-11-22 1zM1576 594l22-1-22-10-22 0z"/>
<path fill="#004e00" d="M1598 593l21 0-22-11-21 1zM1619 603l22 0-22-10-21 0z"/>
<path fill="#00360c" d="M1728 624l22 2-22-11-22-1zM1750 634l21 2-21-10-22-2zM1772 645l21 1-22-10-21-2zM1793 655l22 1-22-10-21-1z"/>
<path fill="#60e400" d="M482 525l22-14-23-11-21 14zM548 532l21-14-22-10-21 13zM614 539l21-13-22-10-22 13zM679 548l22-13-22-10-22 12zM1160 555l22-7-22-10-22 6zM789 555l21-12-22-10-21 11zM1095 559l22-8-22-10-22 8zM1139 562l21-7-22-11-21 7zM898 564l22-10-22-11-22 10zM942 564l22-10-23-10-21 10zM986 565l21-10-22-10-21 9zM1029 566l22-9-22-10-22 8zM1073 567l22-8-22-10-22 8z"/>
<path fill="#3ca200" d="M1314 548l21-4-22-11-21 4z"/>
<path fill="#309000" d="M1357 554l22-3-22-11-22 4z"/>
<path fill="#6cd800" d="M1138 527l22-6-22-10-22 6z"/>
<path fill="#60cc00" d="M1182 532l22-6-22-10-22 5z"/>
<path fill="#54ba00" d="M1226 536l22-5-22-10-22 5z"/>
<path fill="#248400" d="M1401 561l22-3-22-10-22 3z"/>
<path fill="#187800" d="M1445 568l22-2-22-10-22 2zM1467 579l22-3-22-10-22 2z"/>
<path fill="#126c00" d="M1489 576l21-2-22-10-21 2z"/>
<path fill="#5ae400" d="M505 535l21-14-22-10-22 14zM570 542l21-13-22-11-21 14zM636 550l21-13-22-11-21 13zM702 558l21-12-22-11-22 13zM1183 565l21-7-22-10-22 7zM745 556l22-12-23-10-21 12zM811 565l21-11-22-11-21 12zM855 564l21-11-22-10-22 11zM1117 570l22-8-22-11-22 8zM920 575l22-11-22-10-22 10zM964 575l22-10-22-11-22 10zM1008 575l21-9-22-11-21 10zM1051 576l22-9-22-10-22 9z"/>
<path fill="#4eba00" d="M1248 547l22-5-22-11-22 5z"/>
<path fill="#42ae00" d="M1292 552l22-4-22-11-22 5z"/>
<path fill="#36a200" d="M1336 558l21-4-22-10-21 4z"/>
<path fill="#2a9000" d="M1379 564l22-3-22-10-22 3z"/>
<path fill="#005a00" d="M1598 604l21-1-21-10-22 1zM1620 614l21-1-22-10-21 1z"/>
<path fill="#004e06" d="M1641 613l22 0-22-10-22 0z"/>
<path fill="#00420c" d="M1728 634l22 0-22-10-22-1zM1750 644l22 1-22-11-22 0zM1772 654l21 1-21-10-22-1z"/>
<path fill="#002a12" d="M1858 668l22 3-22-11-22-2zM1880 678l21 3-21-10-22-3zM1901 689l22 2-22-10-21-3zM1923 699l22 2-22-10-22-2zM1945 709l21 3-21-11-22-2z"/>
<path fill="#002412" d="M1901 681l22 3-22-11-21-2zM1923 691l21 3-21-10-22-3zM1945 701l21 3-22-10-21-3zM1966 712l22 2-22-10-21-3zM1988 722l21 3-21-11-22-2z"/>
<path fill="#001e12" d="M1944 694l22 3-22-10-21-3zM1966 704l21 3-21-10-22-3zM1988 714l21 4-22-11-21-3zM2009 725l22 3-22-10-21-4zM2031 735l21 3-21-10-22-3zM2052 745l22 4-22-11-21-3z"/>
<path fill="#001812" d="M1987 707l22 4-22-10-21-4zM2009 718l21 3-21-10-22-4zM2052 732l21 4-22-10-21-5zM2031 728l21 4-22-11-21-3zM2073 742l22 4-22-10-21-4zM2052 738l21 4-21-10-21-4zM2095 752l21 5-21-11-22-4zM2074 749l21 3-22-10-21-4zM2116 763l22 4-22-10-21-5zM2095 759l21 4-21-11-21-3zM2138 773l21 4-21-10-22-4zM2117 769l21 4-22-10-21-4zM2159 783l22 5-22-11-21-4zM2181 794l21 4-21-10-22-5zM2202 804l22 4-22-10-21-4zM2224 815l21 4-21-11-22-4zM2245 825l21 4-21-10-21-4z"/>
<path fill="#66d800" d="M1160 538l22-6-22-11-22 6z"/>
<path fill="#5acc00" d="M1204 542l22-6-22-10-22 6z"/>
<path fill="#1e8400" d="M1423 571l22-3-22-10-22 3z"/>
<path fill="#0c7200" d="M1510 586l22-1-22-11-21 2zM1532 597l22-2-22-10-22 1z"/>
<path fill="#066600" d="M1554 595l22-1-22-11-22 2zM1576 605l22-1-22-10-22 1z"/>
<path fill="#54cc00" d="M1226 552l22-5-22-11-22 6z"/>
<path fill="#54e400" d="M527 546l21-14-22-11-21 14zM592 553l22-14-23-10-21 13zM658 561l21-13-22-11-21 13zM724 569l21-13-22-10-21 12zM1161 572l22-7-23-10-21 7zM1205 575l21-6-22-11-21 7zM767 567l22-12-22-11-22 12zM877 575l21-11-22-11-21 11zM1139 580l22-8-22-10-22 8zM833 576l22-12-23-10-21 11zM1095 578l22-8-22-11-22 8zM986 585l22-10-22-10-22 10zM1030 586l21-10-22-10-21 9z"/>
<path fill="#48c000" d="M1270 557l22-5-22-10-22 5z"/>
<path fill="#3cae00" d="M1314 562l22-4-22-10-22 4z"/>
<path fill="#30a200" d="M1358 568l21-4-22-10-21 4z"/>
<path fill="#249600" d="M1401 575l22-4-22-10-22 3z"/>
<path fill="#127e00" d="M1489 589l21-3-21-10-22 3zM1511 599l21-2-22-11-21 3z"/>
<path fill="#005406" d="M1663 623l22 0-22-10-22 0zM1685 634l22-1-22-10-22 0z"/>
<path fill="#00480c" d="M1707 633l21 1-22-11-21 0zM1728 644l22 0-22-10-21-1zM1750 654l22 0-22-10-22 0z"/>
<path fill="#003012" d="M1837 666l21 2-22-10-21-2zM1858 677l22 1-22-10-21-2zM1880 687l21 2-21-11-22-1zM1902 697l21 2-22-10-21-2z"/>
<path fill="#60de00" d="M1182 548l22-6-22-10-22 6z"/>
<path fill="#1e8a00" d="M1445 581l22-2-22-11-22 3z"/>
<path fill="#5ade00" d="M1204 558l22-6-22-10-22 6z"/>
<path fill="#4ecc00" d="M1248 563l22-6-22-10-22 5z"/>
<path fill="#4ee400" d="M549 557l21-15-22-10-21 14zM615 564l21-14-22-11-22 14zM680 571l22-13-23-10-21 13zM1183 583l22-8-22-10-22 7zM789 578l22-13-22-10-22 12zM855 587l22-12-22-11-22 12zM899 586l21-11-22-11-21 11zM942 585l22-10-22-11-22 11zM1074 587l21-9-22-11-22 9zM1117 588l22-8-22-10-22 8zM1161 591l22-8-22-11-22 8z"/>
<path fill="#42c000" d="M1292 567l22-5-22-10-22 5z"/>
<path fill="#36ae00" d="M1336 573l22-5-22-10-22 4z"/>
<path fill="#2aa200" d="M1379 579l22-4-22-11-21 4z"/>
<path fill="#1e9600" d="M1423 585l22-4-22-10-22 4zM1445 595l22-3-22-11-22 4z"/>
<path fill="#188a00" d="M1467 592l22-3-22-10-22 2z"/>
<path fill="#067200" d="M1554 607l22-2-22-10-22 2zM1576 617l22-2-22-10-22 2z"/>
<path fill="#006600" d="M1598 615l22-1-22-10-22 1zM1620 626l21-2-21-10-22 1z"/>
<path fill="#005a06" d="M1641 624l22-1-22-10-21 1zM1663 635l22-1-22-11-22 1zM1685 645l22-1-22-10-22 1z"/>
<path fill="#003612" d="M1815 665l22 1-22-10-22-1z"/>
<path fill="#54de00" d="M1226 569l22-6-22-11-22 6z"/>
<path fill="#48cc00" d="M1270 573l22-6-22-10-22 6z"/>
<path fill="#0c7e00" d="M1532 609l22-2-22-10-21 2z"/>
<path fill="#00540c" d="M1707 644l21 0-21-11-22 1zM1728 654l22 0-22-10-21 0zM1750 665l22-1-22-10-22 0z"/>
<path fill="#004212" d="M1793 664l22 1-22-10-21-1zM1815 675l22 0-22-10-22-1zM1837 685l21 1-21-11-22 0zM1859 695l21 1-22-10-21-1z"/>
<path fill="#42e400" d="M571 567l21-14-22-11-21 15zM637 575l21-14-22-11-21 14zM702 582l22-13-22-11-22 13zM768 590l21-12-22-11-21 13zM1249 596l21-6-22-11-21 7zM834 599l21-12-22-11-22 12zM877 597l22-11-22-11-22 12zM1183 601l22-8-22-10-22 8zM1227 604l22-8-22-10-22 7zM943 607l21-11-22-11-21 11zM987 606l21-10-22-11-22 11zM1030 606l22-10-22-10-22 10zM1074 607l22-10-22-10-22 9zM1118 608l21-9-22-11-21 9zM1161 609l22-8-22-10-22 8z"/>
<path fill="#3cc000" d="M1314 578l22-5-22-11-22 5z"/>
<path fill="#30ae00" d="M1358 583l21-4-21-11-22 5z"/>
<path fill="#24a200" d="M1401 589l22-4-22-10-22 4z"/>
<path fill="#128a00" d="M1489 602l22-3-22-10-22 3z"/>
<path fill="#003c12" d="M1837 675l21 2-21-11-22-1zM1858 686l22 1-22-10-21-2zM1880 696l22 1-22-10-22-1z"/>
<path fill="#3ce400" d="M593 578l22-14-23-11-21 14zM659 585l21-14-22-10-21 14zM724 593l22-13-22-11-22 13zM1292 600l22-6-22-11-22 7zM790 601l21-13-22-10-21 12zM1271 607l21-7-22-10-21 6zM856 610l21-13-22-10-21 12zM899 608l22-12-22-10-22 11zM1205 612l22-8-22-11-22 8zM1249 614l22-7-22-11-22 8zM1009 617l21-11-22-10-21 10zM1052 617l22-10-22-11-22 10zM1096 617l22-9-22-11-22 10zM1140 619l21-10-22-10-21 9z"/>
<path fill="#4ede00" d="M1248 579l22-6-22-10-22 6z"/>
<path fill="#42d200" d="M1292 583l22-5-22-11-22 6z"/>
<path fill="#1ea200" d="M1423 599l22-4-22-10-22 4zM1445 610l22-4-22-11-22 4z"/>
<path fill="#189600" d="M1467 606l22-4-22-10-22 3z"/>
<path fill="#0c8a00" d="M1511 612l21-3-21-10-22 3zM1533 623l21-3-22-11-21 3z"/>
<path fill="#067e00" d="M1554 620l22-3-22-10-22 2z"/>
<path fill="#004812" d="M1772 664l21 0-21-10-22 0zM1794 675l21 0-22-11-21 0zM1815 685l22 0-22-10-21 0z"/>
<path fill="#36c000" d="M1336 588l22-5-22-10-22 5z"/>
<path fill="#2ab400" d="M1380 593l21-4-22-10-21 4z"/>
<path fill="#007200" d="M1598 628l22-2-22-11-22 2z"/>
<path fill="#006606" d="M1642 636l21-1-22-11-21 2zM1663 646l22-1-22-10-21 1z"/>
<path fill="#001212" d="M2159 777l21 5-21-10-21-5zM2181 788l21 4-22-10-21-5zM2202 798l21 5-21-11-21-4zM2224 808l21 5-22-10-21-5zM2245 819l21 5-21-11-21-5zM2266 829l21 5-21-10-21-5z"/>
<path fill="#36e400" d="M615 589l22-14-22-11-22 14zM681 596l21-14-22-11-21 14zM747 604l21-14-22-10-22 13zM1314 610l22-6-22-10-22 6zM812 612l22-13-23-11-21 13zM1293 617l21-7-22-10-21 7zM921 619l22-12-22-11-22 12zM965 618l22-12-23-10-21 11zM1183 620l22-8-22-11-22 8zM1227 622l22-8-22-10-22 8zM1031 628l21-11-22-11-21 11zM1074 628l22-11-22-10-22 10zM1118 628l22-9-22-11-22 9zM1162 629l21-9-22-11-21 10z"/>
<path fill="#48e400" d="M746 580l21-13-22-11-21 13zM1227 586l21-7-22-10-21 6zM1205 593l22-7-22-11-22 8zM811 588l22-12-22-11-22 13zM921 596l21-11-22-10-21 11zM964 596l22-11-22-10-22 10zM1008 596l22-10-22-11-22 10zM1052 596l22-9-23-11-21 10zM1096 597l21-9-22-10-21 9zM1139 599l22-8-22-11-22 8z"/>
<path fill="#42de00" d="M1270 590l22-7-22-10-22 6z"/>
<path fill="#3cd200" d="M1314 594l22-6-22-10-22 5z"/>
<path fill="#24b400" d="M1402 604l21-5-22-10-21 4z"/>
<path fill="#129600" d="M1489 616l22-4-22-10-22 4z"/>
<path fill="#007e00" d="M1576 630l22-2-22-11-22 3zM1598 640l22-2-22-10-22 2z"/>
<path fill="#00600c" d="M1707 655l21-1-21-10-22 1zM1729 666l21-1-22-11-21 1z"/>
<path fill="#003018" d="M1923 708l22 1-22-10-21-2zM1945 718l21 2-21-11-22-1z"/>
<path fill="#002a18" d="M1966 720l22 2-22-10-21-3zM1988 730l21 2-21-10-22-2zM2010 740l21 3-22-11-21-2zM2031 751l22 2-22-10-21-3z"/>
<path fill="#002418" d="M2009 732l22 3-22-10-21-3zM2031 743l21 2-21-10-22-3zM2053 753l21 3-22-11-21-2zM2074 763l21 3-21-10-21-3zM2096 774l21 2-22-10-21-3z"/>
<path fill="#30c000" d="M1358 599l22-6-22-10-22 5z"/>
<path fill="#007206" d="M1620 638l22-2-22-10-22 2zM1642 648l21-2-21-10-22 2zM1663 659l22-2-22-11-21 2z"/>
<path fill="#30e400" d="M638 600l21-15-22-10-22 14zM703 607l21-14-22-11-21 14zM769 614l21-13-22-11-21 14zM1336 621l22-6-22-11-22 6zM834 623l22-13-22-11-22 13zM878 620l21-12-22-11-21 13zM1271 625l22-8-22-10-22 7zM1315 628l21-7-22-11-21 7zM943 629l22-11-22-11-22 12zM987 628l22-11-22-11-22 12zM1205 631l22-9-22-10-22 8zM1249 633l22-8-22-11-22 8zM1096 638l22-10-22-11-22 11zM1140 639l22-10-22-10-22 9z"/>
<path fill="#36d200" d="M1336 604l22-5-22-11-22 6z"/>
<path fill="#2ac000" d="M1380 609l22-5-22-11-22 6z"/>
<path fill="#1eb400" d="M1424 614l21-4-22-11-21 5z"/>
<path fill="#18a200" d="M1467 620l22-4-22-10-22 4z"/>
<path fill="#0c9600" d="M1511 626l22-3-22-11-22 4z"/>
<path fill="#068a00" d="M1555 633l21-3-22-10-21 3z"/>
<path fill="#00660c" d="M1685 657l22-2-22-10-22 1zM1707 667l22-1-22-11-22 2z"/>
<path fill="#005412" d="M1772 675l22 0-22-11-22 1zM1794 685l21 0-21-10-22 0z"/>
<path fill="#003c18" d="M1902 706l21 2-21-11-22-1zM1924 717l21 1-22-10-21-2zM1945 727l22 1-22-10-21-1z"/>
<path fill="#001e18" d="M2074 756l21 3-21-10-22-4zM2095 766l22 3-22-10-21-3zM2138 780l21 3-21-10-21-4zM2117 776l21 4-21-11-22-3zM2160 790l21 4-22-11-21-3zM2181 800l21 4-21-10-21-4zM2139 787l21 3-22-10-21-4zM2160 797l21 3-21-10-21-3zM2203 811l21 4-22-11-21-4zM2224 821l21 4-21-10-21-4z"/>
<path fill="#2ae400" d="M660 610l21-14-22-11-21 15zM725 618l22-14-23-11-21 14zM791 625l21-13-22-11-21 13zM1358 631l22-6-22-10-22 6zM900 631l21-12-22-11-21 12zM1293 635l22-7-22-11-22 8zM1009 639l22-11-22-11-22 11zM1053 638l21-10-22-11-21 11zM965 640l22-12-22-10-22 11zM1184 640l21-9-22-11-21 9zM1227 641l22-8-22-11-22 9zM1271 643l22-8-22-10-22 8z"/>
<path fill="#2ad200" d="M1358 615l22-6-22-10-22 5z"/>
<path fill="#24c000" d="M1402 619l22-5-22-10-22 5z"/>
<path fill="#18b400" d="M1445 625l22-5-22-10-21 4z"/>
<path fill="#12a800" d="M1489 630l22-4-22-10-22 4z"/>
<path fill="#069600" d="M1533 637l22-4-22-10-22 3zM1555 647l21-4-21-10-22 4z"/>
<path fill="#008a00" d="M1576 643l22-3-22-10-21 3zM1598 654l22-3-22-11-22 3z"/>
<path fill="#007e06" d="M1620 651l22-3-22-10-22 2zM1642 661l21-2-21-11-22 3z"/>
<path fill="#006012" d="M1750 676l22-1-22-10-21 1zM1772 686l22-1-22-10-22 1z"/>
<path fill="#004e18" d="M1837 695l22 0-22-10-22 0zM1859 706l21 0-21-11-22 0zM1881 716l21 0-22-10-21 0z"/>
<path fill="#004218" d="M1880 706l22 0-22-10-21-1zM1902 716l22 1-22-11-22 0zM1924 727l21 0-21-10-22-1z"/>
<path fill="#003618" d="M1967 728l21 2-22-10-21-2zM1988 739l22 1-22-10-21-2z"/>
<path fill="#24e400" d="M682 621l21-14-22-11-21 14zM747 628l22-14-22-10-22 14zM813 636l21-13-22-11-21 13zM856 633l22-13-22-10-22 13zM1336 638l22-7-22-10-21 7zM922 642l21-13-22-10-21 12zM1315 646l21-8-21-10-22 7zM1031 650l22-12-22-10-22 11zM1075 649l21-11-22-10-21 10zM1118 649l22-10-22-11-22 10zM1162 649l22-9-22-11-22 10zM1206 650l21-9-22-10-21 9zM1249 652l22-9-22-10-22 8z"/>
<path fill="#24d200" d="M1380 625l22-6-22-10-22 6z"/>
<path fill="#1ec600" d="M1424 630l21-5-21-11-22 5z"/>
<path fill="#12b400" d="M1467 635l22-5-22-10-22 5z"/>
<path fill="#0ca800" d="M1511 641l22-4-22-11-22 4z"/>
<path fill="#00720c" d="M1685 669l22-2-22-10-22 2zM1707 679l22-2-22-10-22 2z"/>
<path fill="#006c12" d="M1729 677l21-1-21-10-22 1zM1751 688l21-2-22-10-21 1z"/>
<path fill="#005418" d="M1816 696l21-1-22-10-21 0zM1837 706l22 0-22-11-21 1zM1859 717l22-1-22-10-22 0z"/>
<path fill="#18e400" d="M704 632l21-14-22-11-21 14zM769 639l22-14-22-11-22 14zM835 647l21-14-22-10-21 13zM1402 652l22-6-22-10-22 6zM1380 659l22-7-22-10-22 7zM900 655l22-13-22-11-22 13zM966 663l21-12-22-11-21 13zM1010 662l21-12-22-11-22 12zM1315 664l22-8-22-10-22 8zM1359 667l21-8-22-10-21 7zM1075 671l22-11-22-11-22 11zM1119 671l21-11-22-11-21 11zM1206 671l22-10-22-11-22 10zM1250 672l21-10-22-10-21 9zM1162 670l22-10-22-11-22 11z"/>
<path fill="#1ed200" d="M1402 636l22-6-22-11-22 6z"/>
<path fill="#18c600" d="M1446 640l21-5-22-10-21 5z"/>
<path fill="#0cb400" d="M1489 646l22-5-22-11-22 5z"/>
<path fill="#06a800" d="M1533 651l22-4-22-10-22 4z"/>
<path fill="#009c00" d="M1576 658l22-4-22-11-21 4z"/>
<path fill="#008a06" d="M1620 664l22-3-22-10-22 3z"/>
<path fill="#007e0c" d="M1664 672l21-3-22-10-21 2z"/>
<path fill="#006018" d="M1794 697l22-1-22-11-22 1zM1816 707l21-1-21-10-22 1zM1837 718l22-1-22-11-21 1z"/>
<path fill="#003c1e" d="M1967 738l21 1-21-11-22-1zM1988 748l22 1-22-10-21-1zM2010 758l22 2-22-11-22-1zM2032 769l21 1-21-10-22-2z"/>
<path fill="#00361e" d="M2010 749l21 2-21-11-22-1zM2032 760l21 1-22-10-21-2zM2053 770l21 2-21-11-21-1zM2075 780l21 2-22-10-21-2z"/>
<path fill="#002a1e" d="M2053 761l21 2-21-10-22-2zM2139 795l21 2-21-10-22-3zM2160 805l22 3-22-11-21-2zM2182 816l21 2-21-10-22-3z"/>
<path fill="#00421e" d="M1945 737l22 1-22-11-21 0zM1967 747l21 1-21-10-22-1zM1989 758l21 0-22-10-21-1z"/>
<path fill="#12e400" d="M726 643l21-15-22-10-21 14zM791 650l22-14-22-11-22 14zM857 658l21-14-22-11-21 14zM1424 663l22-6-22-11-22 6zM1402 670l22-7-22-11-22 7zM922 666l22-13-22-11-22 13zM1032 672l21-12-22-10-21 12zM1293 673l22-9-22-10-22 8zM1337 675l22-8-22-11-22 8zM1272 682l21-9-22-11-21 10zM1141 681l21-11-22-10-21 11zM1184 681l22-10-22-11-22 10zM1228 681l22-9-22-11-22 10z"/>
<path fill="#1ee400" d="M1380 642l22-6-22-11-22 6zM1358 649l22-7-22-11-22 7zM878 644l22-13-22-11-22 13zM987 651l22-12-22-11-22 12zM1337 656l21-7-22-11-21 8zM944 653l21-13-22-11-21 13zM1293 654l22-8-22-11-22 8zM1053 660l22-11-22-11-22 12zM1097 660l21-11-22-11-21 11zM1228 661l21-9-22-11-21 9zM1140 660l22-11-22-10-22 10zM1184 660l22-10-22-10-22 9zM1271 662l22-8-22-11-22 9z"/>
<path fill="#18d800" d="M1424 646l22-6-22-10-22 6z"/>
<path fill="#12c600" d="M1468 651l21-5-22-11-21 5z"/>
<path fill="#06b400" d="M1511 656l22-5-22-10-22 5z"/>
<path fill="#00a800" d="M1555 662l21-4-21-11-22 4z"/>
<path fill="#009c06" d="M1598 668l22-4-22-10-22 4zM1620 678l22-3-22-11-22 4z"/>
<path fill="#00900c" d="M1642 675l22-3-22-11-22 3zM1664 685l21-3-21-10-22 3z"/>
<path fill="#00840c" d="M1685 682l22-3-22-10-21 3z"/>
<path fill="#007812" d="M1729 690l22-2-22-11-22 2zM1751 700l21-2-21-10-22 2z"/>
<path fill="#006c18" d="M1772 698l22-1-22-11-21 2zM1794 709l22-2-22-10-22 1zM1816 719l21-1-21-11-22 2z"/>
<path fill="#004e1e" d="M1902 727l22 0-22-11-21 0zM1924 737l21 0-21-10-22 0zM1946 747l21 0-22-10-21 0z"/>
<path fill="#00301e" d="M2074 772l22 2-22-11-21-2zM2096 782l21 2-21-10-22-2zM2118 793l21 2-22-11-21-2zM2139 803l21 2-21-10-21-2z"/>
<path fill="#00241e" d="M2117 784l22 3-22-11-21-2zM2182 808l21 3-22-11-21-3zM2203 818l21 3-21-10-21-3z"/>
<path fill="#0ce400" d="M748 654l21-15-22-11-21 15zM814 661l21-14-22-11-22 14zM879 668l21-13-22-11-21 14zM1446 674l22-7-22-10-22 6zM944 676l22-13-22-10-22 13zM988 674l22-12-23-11-21 12zM1381 678l21-8-22-11-21 8zM1054 683l21-12-22-11-21 12zM1097 682l22-11-22-11-22 11zM1315 684l22-9-22-11-22 9zM1359 686l22-8-22-11-22 8zM1250 692l22-10-22-10-22 9zM1206 692l22-11-22-10-22 10z"/>
<path fill="#12d800" d="M1446 657l22-6-22-11-22 6z"/>
<path fill="#0cc600" d="M1489 661l22-5-22-10-21 5z"/>
<path fill="#00ba00" d="M1533 666l22-4-22-11-22 5zM1555 677l22-5-22-10-22 4z"/>
<path fill="#00a806" d="M1577 672l21-4-22-10-21 4zM1598 683l22-5-22-10-21 4z"/>
<path fill="#008412" d="M1707 693l22-3-22-11-22 3zM1729 703l22-3-22-10-22 3z"/>
<path fill="#00541e" d="M1881 727l21 0-21-11-22 1zM1902 737l22 0-22-10-21 0z"/>
<path fill="#06e400" d="M770 665l21-15-22-11-21 15zM836 672l21-14-22-11-21 14zM901 679l21-13-22-11-21 13zM1424 681l22-7-22-11-22 7zM1468 684l22-6-22-11-22 7zM967 687l21-13-22-11-22 13zM1010 685l22-13-22-10-22 12zM1402 688l22-7-22-11-21 8zM1163 692l21-11-22-11-21 11zM1294 693l21-9-22-11-21 9zM1076 694l21-12-22-11-21 12zM1119 693l22-12-22-10-22 11zM1337 694l22-8-22-11-22 9z"/>
<path fill="#009c0c" d="M1642 689l22-4-22-10-22 3z"/>
<path fill="#0cd800" d="M1468 667l21-6-21-10-22 6z"/>
<path fill="#06c600" d="M1511 672l22-6-22-10-22 5z"/>
<path fill="#009012" d="M1686 696l21-3-22-11-21 3zM1707 706l22-3-22-10-21 3z"/>
<path fill="#007818" d="M1772 711l22-2-22-11-21 2z"/>
<path fill="#00601e" d="M1859 728l22-1-22-10-22 1zM1881 739l21-2-21-10-22 1z"/>
<path fill="#00de00" d="M792 676l22-15-23-11-21 15zM858 683l21-15-22-10-21 14zM923 690l21-14-22-10-21 13zM989 698l21-13-22-11-21 13zM1424 699l22-8-22-10-22 7zM1141 704l22-12-22-11-22 12zM1098 705l21-12-22-11-21 12zM1359 705l22-9-22-10-22 8z"/>
<path fill="#06d800" d="M1490 678l21-6-22-11-21 6z"/>
<path fill="#00ba06" d="M1577 688l21-5-21-11-22 5z"/>
<path fill="#00a80c" d="M1620 693l22-4-22-11-22 5z"/>
<path fill="#009c12" d="M1664 699l22-3-22-11-22 4zM1686 710l21-4-21-10-22 3z"/>
<path fill="#008418" d="M1751 713l21-2-21-11-22 3z"/>
<path fill="#005a24" d="M1924 748l22-1-22-10-22 0zM1946 758l21 0-21-11-22 1zM1967 769l22-1-22-10-21 0z"/>
<path fill="#004e24" d="M1967 758l22 0-22-11-21 0zM1989 768l21 0-21-10-22 0zM2010 779l22 0-22-11-21 0z"/>
<path fill="#004224" d="M2010 768l22 1-22-11-21 0z"/>
<path fill="#003624" d="M2096 791l22 2-22-11-21-2zM2118 801l21 2-21-10-22-2zM2139 812l22 1-22-10-21-2z"/>
<path fill="#00c600" d="M1533 682l22-5-22-11-22 6z"/>
<path fill="#00781e" d="M1794 721l22-2-22-10-22 2zM1816 732l22-2-22-11-22 2z"/>
<path fill="#006c1e" d="M1838 730l21-2-22-10-21 1zM1859 740l22-1-22-11-21 2z"/>
<path fill="#003c24" d="M2053 779l22 1-22-10-21-1zM2075 790l21 1-21-11-22-1zM2096 800l22 1-22-10-21-1z"/>
<path fill="#004824" d="M2032 779l21 0-21-10-22-1zM2054 789l21 1-22-11-21 0z"/>
<path fill="#00de06" d="M814 687l22-15-22-11-22 15zM880 694l21-15-22-11-21 15zM1490 695l21-7-21-10-22 6zM945 701l22-14-23-11-21 14zM1468 702l22-7-22-11-22 7zM1512 705l21-6-22-11-21 7zM1011 709l21-13-22-11-21 13zM1403 707l21-8-22-11-21 8zM1446 709l22-7-22-11-22 8zM1054 707l22-13-22-11-22 13zM1120 716l21-12-22-11-21 12zM1163 714l22-11-22-11-22 12zM1207 714l21-11-22-11-21 11zM1250 713l22-10-22-11-22 11zM1294 714l21-10-21-11-22 10zM1337 714l22-9-22-11-22 10zM1381 716l22-9-22-11-22 9zM1425 718l21-9-22-10-21 8z"/>
<path fill="#00d800" d="M1511 688l22-6-22-10-21 6z"/>
<path fill="#00cc06" d="M1555 693l22-5-22-11-22 5z"/>
<path fill="#00ba0c" d="M1599 698l21-5-22-10-21 5z"/>
<path fill="#00ae12" d="M1642 704l22-5-22-10-22 4zM1664 714l22-4-22-11-22 5z"/>
<path fill="#009018" d="M1729 717l22-4-22-10-22 3z"/>
<path fill="#00841e" d="M1773 724l21-3-22-10-21 2zM1794 735l22-3-22-11-21 3z"/>
<path fill="#006024" d="M1903 749l21-1-22-11-21 2zM1924 760l22-2-22-10-21 1z"/>
<path fill="#003024" d="M2161 813l21 3-22-11-21-2z"/>
<path fill="#00e400" d="M1446 691l22-7-22-10-22 7zM1032 696l22-13-22-11-22 13zM1381 696l21-8-21-10-22 8zM1185 703l21-11-22-11-21 11zM1228 703l22-11-22-11-22 11zM1272 703l22-10-22-11-22 10zM1315 704l22-10-22-10-21 9z"/>
<path fill="#00d806" d="M1533 699l22-6-22-11-22 6z"/>
<path fill="#009c18" d="M1707 721l22-4-22-11-21 4z"/>
<path fill="#00de0c" d="M836 697l22-14-22-11-22 15zM902 704l21-14-22-11-21 15zM1555 709l22-6-22-10-22 6zM967 712l22-14-22-11-22 14zM1490 712l22-7-22-10-22 7zM1533 716l22-7-22-10-21 6zM1033 720l21-13-22-11-21 13zM1468 720l22-8-22-10-22 7zM1076 718l22-13-22-11-22 13zM1141 727l22-13-22-10-21 12zM1185 725l22-11-22-11-22 11zM1229 724l21-11-22-10-21 11zM1272 724l22-10-22-11-22 10zM1316 724l21-10-22-10-21 10zM1359 725l22-9-22-11-22 9zM1403 727l22-9-22-11-22 9zM1446 728l22-8-22-11-21 9zM1250 735l22-11-22-11-21 11zM1294 735l22-11-22-10-22 10zM1338 735l21-10-22-11-21 10z"/>
<path fill="#00cc0c" d="M1577 703l22-5-22-10-22 5z"/>
<path fill="#00ba12" d="M1620 709l22-5-22-11-21 5z"/>
<path fill="#00901e" d="M1751 727l22-3-22-11-22 4zM1773 738l21-3-21-11-22 3z"/>
<path fill="#007824" d="M1838 742l21-2-21-10-22 2zM1859 753l22-2-22-11-21 2z"/>
<path fill="#006c24" d="M1881 751l22-2-22-10-22 1zM1903 761l21-1-21-11-22 2z"/>
<path fill="#00ae18" d="M1686 725l21-4-21-11-22 4z"/>
<path fill="#00a21e" d="M1729 731l22-4-22-10-22 4zM1751 742l22-4-22-11-22 4z"/>
<path fill="#008424" d="M1816 745l22-3-22-10-22 3zM1838 756l21-3-21-11-22 3z"/>
<path fill="#005a2a" d="M1989 780l21-1-21-11-22 1zM2011 790l21-1-22-10-21 1z"/>
<path fill="#004e2a" d="M2032 789l22 0-22-10-22 0zM2054 800l21 0-21-11-22 0z"/>
<path fill="#00482a" d="M2075 800l21 0-21-10-21-1zM2097 810l21 1-22-11-21 0z"/>
<path fill="#00de12" d="M858 708l22-14-22-11-22 14zM924 715l21-14-22-11-21 14zM1577 720l22-6-22-11-22 6zM989 723l22-14-22-11-22 14zM1512 723l21-7-21-11-22 7zM1555 727l22-7-22-11-22 7zM1055 731l21-13-22-11-21 13zM1098 728l22-12-22-11-22 13zM1490 731l22-8-22-11-22 8zM1534 734l21-7-22-11-21 7zM1120 739l21-12-21-11-22 12zM1163 737l22-12-22-11-22 13zM1207 736l22-12-22-10-22 11zM1381 736l22-9-22-11-22 9zM1425 737l21-9-21-10-22 9zM1468 739l22-8-22-11-22 8zM1272 746l22-11-22-11-22 11zM1316 746l22-11-22-11-22 11zM1360 746l21-10-22-11-21 10zM1403 747l22-10-22-10-22 9z"/>
<path fill="#00cc12" d="M1599 714l21-5-21-11-22 5z"/>
<path fill="#00ba18" d="M1642 719l22-5-22-10-22 5zM1664 730l22-5-22-11-22 5z"/>
<path fill="#00602a" d="M1946 770l21-1-21-11-22 2z"/>
<path fill="#003c2a" d="M2118 811l21 1-21-11-22-1z"/>
<path fill="#00de18" d="M880 719l22-15-22-10-22 14zM946 726l21-14-22-11-21 14zM1599 731l22-6-22-11-22 6zM968 737l21-14-22-11-21 14zM1011 734l22-14-22-11-22 14zM1577 737l22-6-22-11-22 7zM1076 742l22-14-22-10-21 13zM1512 742l22-8-22-11-22 8zM1555 745l22-8-22-10-21 7zM1142 750l21-13-22-10-21 12zM1185 748l22-12-22-11-22 12zM1229 747l21-12-21-11-22 12zM1447 748l21-9-22-11-21 9zM1490 750l22-8-22-11-22 8zM1294 757l22-11-22-11-22 11zM1381 757l22-10-22-11-21 10zM1425 758l22-10-22-11-22 10zM1251 758l21-12-22-11-21 12zM1338 757l22-11-22-11-22 11z"/>
<path fill="#00ae1e" d="M1708 735l21-4-22-10-21 4z"/>
<path fill="#009024" d="M1794 748l22-3-22-10-21 3z"/>
<path fill="#00662a" d="M1968 781l21-1-22-11-21 1z"/>
<path fill="#00cc18" d="M1621 725l21-6-22-10-21 5z"/>
<path fill="#00782a" d="M1881 763l22-2-22-10-22 2zM1903 774l21-2-21-11-22 2z"/>
<path fill="#006c2a" d="M1924 772l22-2-22-10-21 1zM1946 782l22-1-22-11-22 2z"/>
<path fill="#00de1e" d="M902 730l22-15-22-11-22 15zM924 741l22-15-22-11-22 15zM1621 741l21-6-21-10-22 6zM990 748l21-14-22-11-21 14zM1033 745l22-14-22-11-22 14zM1599 748l22-7-22-10-22 6zM1055 756l21-14-21-11-22 14zM1098 753l22-14-22-11-22 14zM1534 752l21-7-21-11-22 8zM1577 755l22-7-22-11-22 8zM1164 761l21-13-22-11-21 13zM1207 759l22-12-22-11-22 12zM1468 759l22-9-22-11-21 9zM1512 761l22-9-22-10-22 8zM1273 769l21-12-22-11-21 12zM1316 768l22-11-22-11-22 11zM1360 767l21-10-21-11-22 11zM1403 768l22-10-22-11-22 10zM1447 768l21-9-21-11-22 10z"/>
<path fill="#00cc1e" d="M1642 735l22-5-22-11-21 6zM1664 746l22-6-22-10-22 5z"/>
<path fill="#00c01e" d="M1686 740l22-5-22-10-22 5z"/>
<path fill="#00ae24" d="M1729 746l22-4-22-11-21 4zM1751 757l22-5-22-10-22 4z"/>
<path fill="#00a224" d="M1773 752l21-4-21-10-22 4z"/>
<path fill="#00962a" d="M1816 759l22-3-22-11-22 3zM1838 770l21-4-21-10-22 3z"/>
<path fill="#00842a" d="M1859 766l22-3-22-10-21 3z"/>
<path fill="#006630" d="M1989 791l22-1-22-10-21 1zM2011 802l21-1-21-11-22 1z"/>
<path fill="#005a30" d="M2032 801l22-1-22-11-21 1zM2054 811l21 0-21-11-22 1z"/>
<path fill="#004e30" d="M2075 811l22-1-22-10-21 0z"/>
<path fill="#00c024" d="M1708 751l21-5-21-11-22 5z"/>
<path fill="#00a22a" d="M1794 763l22-4-22-11-21 4z"/>
<path fill="#008430" d="M1881 777l22-3-22-11-22 3z"/>
<path fill="#007830" d="M1924 785l22-3-22-10-21 2z"/>
<path fill="#007230" d="M1968 793l21-2-21-10-22 1z"/>
<path fill="#00de24" d="M946 752l22-15-22-11-22 15zM1642 752l22-6-22-11-21 6zM1012 759l21-14-22-11-21 14zM1621 759l21-7-21-11-22 7zM1120 764l22-14-22-11-22 14zM1556 763l21-8-22-10-21 7zM1599 766l22-7-22-11-22 7zM1077 767l21-14-22-11-21 14zM1534 771l22-8-22-11-22 9zM1577 774l22-8-22-11-21 8zM1186 772l21-13-22-11-21 13zM1229 770l22-12-22-11-22 12zM1490 770l22-9-22-11-22 9zM1338 779l22-12-22-10-22 11zM1251 781l22-12-22-11-22 12zM1295 780l21-12-22-11-21 12zM1382 778l21-10-22-11-21 10zM1425 779l22-11-22-10-22 10zM1469 779l21-9-22-11-21 9zM1512 780l22-9-22-10-22 9z"/>
<path fill="#00cc24" d="M1686 757l22-6-22-11-22 6z"/>
<path fill="#00c02a" d="M1729 762l22-5-22-11-21 5z"/>
<path fill="#00ae2a" d="M1773 767l21-4-21-11-22 5z"/>
<path fill="#00a230" d="M1816 773l22-3-22-11-22 4zM1838 784l22-4-22-10-22 3z"/>
<path fill="#009630" d="M1860 780l21-3-22-11-21 4z"/>
<path fill="#008a30" d="M1903 787l21-2-21-11-22 3z"/>
<path fill="#007e30" d="M1946 795l22-2-22-11-22 3z"/>
<path fill="#007236" d="M1989 804l22-2-22-11-21 2zM2011 814l21-2-21-10-22 2z"/>
<path fill="#006636" d="M2032 812l22-1-22-10-21 1z"/>
<path fill="#00de2a" d="M968 763l22-15-22-11-22 15zM1664 763l22-6-22-11-22 6zM1034 770l21-14-22-11-21 14zM1643 769l21-6-22-11-21 7zM1099 778l21-14-22-11-21 14zM1142 775l22-14-22-11-22 14zM1621 777l22-8-22-10-22 7zM1164 786l22-14-22-11-22 14zM1556 782l21-8-21-11-22 8zM1599 785l22-8-22-11-22 8zM1208 783l21-13-22-11-21 13zM1317 791l21-12-22-11-21 12zM1360 790l22-12-22-11-22 12zM1491 790l21-10-22-10-21 9zM1273 792l22-12-22-11-22 12zM1403 789l22-10-22-11-21 10zM1447 789l22-10-22-11-22 11zM1534 791l22-9-22-11-22 9z"/>
<path fill="#00d22a" d="M1708 767l21-5-21-11-22 6z"/>
<path fill="#00c030" d="M1751 772l22-5-22-10-22 5zM1773 783l22-5-22-11-22 5z"/>
<path fill="#00b430" d="M1795 778l21-5-22-10-21 4z"/>
<path fill="#009636" d="M1881 791l22-4-22-10-21 3zM1903 801l22-3-22-11-22 4z"/>
<path fill="#008a36" d="M1925 798l21-3-22-10-21 2zM1946 809l22-3-22-11-21 3z"/>
<path fill="#007e36" d="M1968 806l21-2-21-11-22 2z"/>
<path fill="#00de30" d="M1686 773l22-6-22-10-22 6zM990 774l22-15-22-11-22 15zM1664 780l22-7-22-10-21 6zM1056 781l21-14-22-11-21 14zM1643 787l21-7-21-11-22 8zM1121 789l21-14-22-11-21 14zM1230 794l21-13-22-11-21 13zM1621 795l22-8-22-10-22 8zM1186 797l22-14-22-11-22 14zM1578 793l21-8-22-11-21 8zM1295 803l22-12-22-11-22 12zM1338 802l22-12-22-11-21 12zM1382 801l21-12-21-11-22 12zM1469 800l22-10-22-11-22 10zM1512 801l22-10-22-11-21 10zM1425 800l22-11-22-10-22 10zM1556 802l22-9-22-11-22 9z"/>
<path fill="#00a236" d="M1860 795l21-4-21-11-22 4z"/>
<path fill="#00d230" d="M1730 778l21-6-22-10-21 5z"/>
<path fill="#00b436" d="M1816 789l22-5-22-11-21 5z"/>
<path fill="#007e3c" d="M1989 816l22-2-22-10-21 2z"/>
<path fill="#00de36" d="M1012 785l22-15-22-11-22 15zM1708 784l22-6-22-11-22 6zM1077 792l22-14-22-11-21 14zM1686 791l22-7-22-11-22 7zM1664 798l22-7-22-11-21 7zM1143 800l21-14-22-11-21 14zM1208 808l22-14-22-11-22 14zM1251 805l22-13-22-11-21 13zM1599 804l22-9-22-10-21 8zM1643 806l21-8-21-11-22 8zM1317 814l21-12-21-11-22 12zM1360 812l22-11-22-11-22 12zM1404 812l21-12-22-11-21 12zM1447 811l22-11-22-11-22 11zM1491 811l21-10-21-11-22 10zM1534 812l22-10-22-11-22 10zM1578 813l21-9-21-11-22 9zM1469 822l22-11-22-11-22 11z"/>
<path fill="#00b43c" d="M1838 799l22-4-22-11-22 5zM1860 810l21-5-21-10-22 4z"/>
<path fill="#00a23c" d="M1881 805l22-4-22-10-21 4z"/>
<path fill="#008a3c" d="M1968 819l21-3-21-10-22 3z"/>
<path fill="#00d236" d="M1751 789l22-6-22-11-21 6z"/>
<path fill="#00c036" d="M1795 794l21-5-21-11-22 5z"/>
<path fill="#00963c" d="M1925 812l21-3-21-11-22 3z"/>
<path fill="#00a842" d="M1903 816l22-4-22-11-22 4zM1925 827l21-4-21-11-22 4z"/>
<path fill="#00de3c" d="M1034 797l22-16-22-11-22 15zM1730 795l21-6-21-11-22 6zM1099 803l22-14-22-11-22 14zM1751 806l22-7-22-10-21 6zM1708 802l22-7-22-11-22 7zM1686 809l22-7-22-11-22 7zM1730 812l21-6-21-11-22 7zM1165 811l21-14-22-11-21 14zM1230 819l21-14-21-11-22 14zM1273 816l22-13-22-11-22 13zM1621 815l22-9-22-11-22 9zM1665 817l21-8-22-11-21 8zM1426 822l21-11-22-11-21 12zM1556 823l22-10-22-11-22 10zM1295 827l22-13-22-11-22 13zM1339 825l21-13-22-10-21 12zM1382 823l22-11-22-11-22 11zM1513 822l21-10-22-11-21 10zM1599 824l22-9-22-11-21 9zM1643 826l22-9-22-11-22 9zM1447 833l22-11-22-11-21 11zM1534 833l22-10-22-11-21 10zM1491 833l22-11-22-11-22 11z"/>
<path fill="#00c03c" d="M1816 804l22-5-22-10-21 5z"/>
<path fill="#009642" d="M1946 823l22-4-22-10-21 3z"/>
<path fill="#00d23c" d="M1773 799l22-5-22-11-22 6z"/>
<path fill="#00de42" d="M1056 808l21-16-21-11-22 16zM1078 819l21-16-22-11-21 16zM1121 815l22-15-22-11-22 14zM1773 816l22-6-22-11-22 7zM1143 826l22-15-22-11-22 15zM1187 822l21-14-22-11-21 14zM1708 820l22-8-22-10-22 7zM1751 823l22-7-22-10-21 6zM1252 830l21-14-22-11-21 14zM1686 828l22-8-22-11-21 8zM1404 834l22-12-22-10-22 11zM1578 834l21-10-21-11-22 10zM1317 838l22-13-22-11-22 13zM1361 836l21-13-22-11-21 13zM1621 835l22-9-22-11-22 9zM1665 837l21-9-21-11-22 9zM1426 846l21-13-21-11-22 12zM1469 844l22-11-22-11-22 11zM1513 844l21-11-21-11-22 11zM1556 844l22-10-22-11-22 10zM1600 845l21-10-22-11-21 10z"/>
<path fill="#00b442" d="M1881 821l22-5-22-11-21 5z"/>
<path fill="#00d242" d="M1795 810l21-6-21-10-22 5z"/>
<path fill="#00c642" d="M1838 815l22-5-22-11-22 5z"/>
<path fill="#00c648" d="M1860 826l21-5-21-11-22 5z"/>
<path fill="#00b448" d="M1903 832l22-5-22-11-22 5z"/>
<path fill="#00d248" d="M1816 821l22-6-22-11-21 6z"/>
<path fill="#00de48" d="M1100 830l21-15-22-12-21 16zM1795 827l21-6-21-11-22 6zM1730 831l21-8-21-11-22 8zM1165 837l22-15-22-11-22 15zM1208 833l22-14-22-11-21 14zM1773 834l22-7-22-11-22 7zM1230 844l22-14-22-11-22 14zM1274 841l21-14-22-11-21 14zM1708 839l22-8-22-11-22 8zM1752 842l21-8-22-11-21 8zM1382 847l22-13-22-11-21 13zM1686 847l22-8-22-11-21 9zM1339 849l22-13-22-11-22 13zM1643 846l22-9-22-11-22 9zM1491 855l22-11-22-11-22 11zM1621 856l22-10-22-11-21 10zM1448 857l21-13-22-11-21 13zM1534 855l22-11-22-11-21 11zM1578 855l22-10-22-11-22 10z"/>
<path fill="#00d84e" d="M1838 832l22-6-22-11-22 6z"/>
<path fill="#00c64e" d="M1882 837l21-5-22-11-21 5z"/>
<path fill="#00de4e" d="M1122 841l21-15-22-11-21 15zM1817 838l21-6-22-11-21 6zM1187 848l21-15-21-11-22 15zM1795 845l22-7-22-11-22 7zM1773 852l22-7-22-11-21 8zM1252 855l22-14-22-11-22 14zM1296 852l21-14-22-11-21 14zM1730 850l22-8-22-11-22 8zM1361 860l21-13-21-11-22 13zM1404 858l22-12-22-12-22 13zM1665 857l21-10-21-10-22 9zM1708 858l22-8-22-11-22 8zM1469 868l22-13-22-11-21 13zM1513 866l21-11-21-11-22 11zM1600 866l21-10-21-11-22 10zM1643 867l22-10-22-11-22 10zM1556 866l22-11-22-11-22 11z"/>
<path fill="#00d854" d="M1860 842l22-5-22-11-22 6z"/>
<path fill="#00de54" d="M1144 852l21-15-22-11-21 15zM1838 849l22-7-22-10-21 6zM1209 859l21-15-22-11-21 15zM1817 856l21-7-21-11-22 7zM1752 861l21-9-21-10-22 8zM1795 863l22-7-22-11-22 7zM1274 866l22-14-22-11-22 14zM1317 863l22-14-22-11-21 14zM1339 874l22-14-22-11-22 14zM1383 871l21-13-22-11-21 13zM1730 869l22-8-22-11-22 8zM1426 869l22-12-22-11-22 12zM1687 868l21-10-22-11-21 10zM1448 880l21-12-21-11-22 12zM1491 879l22-13-22-11-22 13zM1535 878l21-12-22-11-21 11zM1578 877l22-11-22-11-22 11zM1621 877l22-10-22-11-21 10zM1665 878l22-10-22-11-22 10z"/>
<path fill="#00de5a" d="M1166 863l21-15-22-11-21 15zM1231 870l21-15-22-11-21 15zM1773 871l22-8-22-11-21 9zM1296 878l21-15-21-11-22 14zM1361 885l22-14-22-11-22 14zM1404 883l22-14-22-11-21 13zM1708 879l22-10-22-11-21 10zM1752 880l21-9-21-10-22 8zM1556 889l22-12-22-11-21 12zM1687 889l21-10-21-11-22 10zM1470 891l21-12-22-11-21 12zM1513 890l22-12-22-12-22 13zM1600 888l21-11-21-11-22 11zM1643 888l22-10-22-11-22 10zM1730 890l22-10-22-11-22 10z"/>
<path fill="#00de60" d="M1187 875l22-16-22-11-21 15zM1253 881l21-15-22-11-21 15zM1318 889l21-15-22-11-21 15zM1426 894l22-14-22-11-22 14zM1383 897l21-14-21-12-22 14zM1578 900l22-12-22-11-22 12zM1708 900l22-10-22-11-21 10zM1491 903l22-13-22-11-21 12zM1535 901l21-12-21-11-22 12zM1665 899l22-10-22-11-22 10zM1622 899l21-11-22-11-21 11z"/>
<path fill="#00de66" d="M1209 886l22-16-22-11-22 16zM1274 893l22-15-22-12-21 15zM1340 900l21-15-22-11-21 15zM1405 908l21-14-22-11-21 14zM1448 905l22-14-22-11-22 14zM1513 914l22-13-22-11-22 13zM1557 912l21-12-22-11-21 12zM1600 911l22-12-22-11-22 12zM1687 910l21-10-21-11-22 10zM1643 910l22-11-22-11-21 11z"/>
<path fill="#00de6c" d="M1231 897l22-16-22-11-22 16zM1296 904l22-15-22-11-22 15zM1253 908l21-15-21-12-22 16zM1318 915l22-15-22-11-22 15zM1361 911l22-14-22-12-21 15zM1426 919l22-14-22-11-21 14zM1470 916l21-13-21-12-22 14zM1622 922l21-12-21-11-22 12zM1492 927l21-13-22-11-21 13zM1535 925l22-13-22-11-22 13zM1578 923l22-12-22-11-21 12zM1665 921l22-11-22-11-22 11z"/>
<path fill="#00de72" d="M1275 920l21-16-22-11-21 15zM1383 922l22-14-22-11-22 14zM1340 926l21-15-21-11-22 15zM1448 930l22-14-22-11-22 14zM1643 933l22-12-22-11-21 12zM1513 938l22-13-22-11-21 13zM1557 936l21-13-21-11-22 13zM1600 934l22-12-22-11-22 12z"/>
<path fill="#00de78" d="M1297 931l21-16-22-11-21 16zM1362 938l21-16-22-11-21 15zM1405 934l21-15-21-11-22 14zM1427 945l21-15-22-11-21 15zM1470 941l22-14-22-11-22 14zM1535 950l22-14-22-11-22 13zM1578 947l22-13-22-11-21 13zM1622 945l21-12-21-11-22 12z"/>
<path fill="#00de7e" d="M1318 942l22-16-22-11-21 16zM1383 949l22-15-22-12-21 16zM1448 956l22-15-22-11-21 15zM1492 953l21-15-21-11-22 14zM1557 961l21-14-21-11-22 14zM1600 958l22-13-22-11-22 13z"/>
<path fill="#00de84" d="M1340 953l22-15-22-12-22 16zM1405 960l22-15-22-11-22 15zM1470 967l22-14-22-12-22 15zM1514 964l21-14-22-12-21 15zM1535 975l22-14-22-11-21 14zM1579 972l21-14-22-11-21 14z"/>
<path fill="#00de8a" d="M1362 965l21-16-21-11-22 15zM1427 971l21-15-21-11-22 15zM1492 979l22-15-22-11-22 14zM1557 986l22-14-22-11-22 14z"/>
<path fill="#00d890" d="M1384 976l21-16-22-11-21 16zM1449 983l21-16-22-11-21 15zM1514 990l21-15-21-11-22 15z"/>
<path fill="#00d896" d="M1405 987l22-16-22-11-21 16zM1470 994l22-15-22-12-21 16zM1535 1001l22-15-22-11-21 15z"/>
<path fill="#00d89c" d="M1427 999l22-16-22-12-22 16zM1449 1010l21-16-21-11-22 16zM1492 1005l22-15-22-11-22 15zM1514 1017l21-16-21-11-22 15z"/>
<path fill="#00d8a2" d="M1471 1022l21-17-22-11-21 16z"/>
<path fill="#00d8a8" d="M1492 1033l22-16-22-12-21 17z"/>
</g>
<ellipse cx="148.5" cy="44.5" rx="1.9" ry="1.5" fill="#e60000" stroke="#900" stroke-width=".4"/>
<ellipse cx="39.0" cy="43.5" rx="1.9" ry="1.5" fill="#e60000" stroke="#900" stroke-width=".4"/>
<ellipse cx="206.6" cy="78.6" rx="1.9" ry="1.5" fill="#e60000" stroke="#900" stroke-width=".4"/>
<path d="M90.5 79.0L90.5 75.0" stroke="#777" stroke-width=".7"/><ellipse cx="90.5" cy="79.0" rx="1.9" ry="1.5" fill="#f6c4c4" stroke="#b55" stroke-width=".45"/>
<ellipse cx="148.7" cy="104.3" rx="1.9" ry="1.5" fill="#f6c4c4" stroke="#b55" stroke-width=".45"/>
<path d="M254.3 98.4L254.3 94.0" stroke="#777" stroke-width=".7"/><ellipse cx="254.3" cy="98.4" rx="1.9" ry="1.5" fill="#f6c4c4" stroke="#b55" stroke-width=".45"/>
<text x="0.0" y="23.0" font-size="21" class="b">a)</text>
<text x="33.3" y="25.7" font-size="7.1" text-anchor="end">2</text>
<text x="34.8" y="45.7" font-size="7.1" text-anchor="end">1.575</text>
<text x="35.3" y="66.9" font-size="7.1" text-anchor="end">1.15</text>
<text x="35.9" y="86.7" font-size="7.1" text-anchor="end">0.725</text>
<text x="36.1" y="106.8" font-size="7.1" text-anchor="end">0.3</text>
<text x="9.9" y="100.6" font-size="10.5" textLength="53.9" lengthAdjust="spacingAndGlyphs" class="t" transform="rotate(-90 9.9 100.6)">Ra (micron)</text>
<text x="37.4" y="131.3" font-size="7.1" text-anchor="middle">20</text>
<text x="63.5" y="141.3" font-size="7.1" text-anchor="middle">19</text>
<text x="89.2" y="151.0" font-size="7.1" text-anchor="middle">18</text>
<text x="115.5" y="160.3" font-size="7.1" text-anchor="middle">17</text>
<text x="140.7" y="169.8" font-size="7.1" text-anchor="middle">16</text>
<text x="154.0" y="169.8" font-size="7.1" text-anchor="middle">1</text>
<text x="183.4" y="160.3" font-size="7.1" text-anchor="middle">1.5</text>
<text x="207.0" y="151.0" font-size="7.1" text-anchor="middle">2</text>
<text x="235.5" y="141.3" font-size="7.1" text-anchor="middle">2.5</text>
<text x="258.7" y="131.3" font-size="7.1" text-anchor="middle">3</text>
<text x="8.2" y="164.7" font-size="11" textLength="96.0" lengthAdjust="spacingAndGlyphs" class="t">Nickel Sulphate (g/l)</text>
<text x="190.0" y="164.6" font-size="11" textLength="102.0" lengthAdjust="spacingAndGlyphs" class="t">Calcium Bromide (g/l)</text>
<!-- panel b -->
<path d="M342.2 22.5 L453.8 3.8 L566.0 22.8 L559.0 128.8 M453.8 3.8 L454.0 100.0" fill="none" stroke="#555" stroke-width=".55"/>
<clipPath id="fcb"><path d="M454.2 165.3 L559.0 128.8 L454.0 100.0 L349.5 129.0Z"/></clipPath>
<path d="M454.2 165.3 L559.0 128.8 L454.0 100.0 L349.5 129.0Z" fill="#ff0"/>
<g clip-path="url(#fcb)" fill="none" stroke-width=".8" stroke-opacity=".85">
<path d="M360 124.5 C385 128.5 410 131 438 132.3 C455 133 470 128.5 485 126.9 C500 125 512 121.5 527 116" stroke="#70e840"/>
<path d="M361 132.8 C385 136 410 139.2 425 140.3 C440 141.4 455 142 465 141.9 C485 141.5 505 138.5 525 132.9 C535 130 545 127 552 124" stroke="#40e060"/>
<path d="M400 146.9 C420 150.5 440 152.5 455 153.5 C465 154.3 472 154.2 488 152.8" stroke="#30e0b0"/>
</g>
<path d="M349.5 129.0 L454.0 100.0 L559.0 128.8" fill="none" stroke="#444" stroke-width=".7"/>
<path d="M349.5 129.0 L454.2 165.3 L559.0 128.8" fill="none" stroke="#000" stroke-width=".65"/>
<circle cx="454.2" cy="165.3" r=".8"/>
<circle cx="454.2" cy="165.3" r=".8"/>
<circle cx="428.0" cy="156.2" r=".8"/>
<circle cx="480.4" cy="156.2" r=".8"/>
<circle cx="401.9" cy="147.2" r=".8"/>
<circle cx="506.6" cy="147.1" r=".8"/>
<circle cx="375.7" cy="138.1" r=".8"/>
<circle cx="532.8" cy="137.9" r=".8"/>
<circle cx="349.5" cy="129.0" r=".8"/>
<circle cx="559.0" cy="128.8" r=".8"/>
<path d="M342.2 22.5 L349.5 129.0" fill="none" stroke="#111" stroke-width=".6"/>
<circle cx="342.3" cy="23.4" r=".8"/>
<circle cx="343.6" cy="43.3" r=".8"/>
<circle cx="345.0" cy="63.4" r=".8"/>
<circle cx="346.4" cy="83.5" r=".8"/>
<circle cx="347.8" cy="103.5" r=".8"/>
<path d="M511.5 108.0L511.5 100.0" stroke="#777" stroke-width=".7"/><ellipse cx="511.5" cy="108.0" rx="1.9" ry="1.5" fill="#f6c4c4" stroke="#b55" stroke-width=".45"/>
<g transform="scale(.1)" stroke="#000" stroke-width="2.5" stroke-linejoin="round">
<path fill="#e40600" d="M4538 63l22-6-22-14-22 6zM4516 70l22-7-22-14-23 6zM4494 76l22-6-23-15-22 7z"/>
<path fill="#e40c00" d="M4561 77l22-6-23-14-22 6zM4538 84l23-7-23-14-22 7zM4471 83l23-7-23-14-22 7zM4449 90l22-7-22-14-22 7z"/>
<path fill="#e41200" d="M4583 92l22-6-22-15-22 6zM4516 90l22-6-22-14-22 6zM4494 97l22-7-22-14-23 7zM4427 98l22-8-22-14-23 8zM4472 105l22-8-23-14-22 7zM4405 106l22-8-23-14-22 8z"/>
<path fill="#e41800" d="M4561 98l22-6-22-15-23 7zM4538 105l23-7-23-14-22 6zM4516 112l22-7-22-15-22 7zM4449 112l23-7-23-15-22 8zM4382 114l23-8-23-14-22 8zM4427 120l22-8-22-14-22 8zM4360 122l22-8-22-14-22 8z"/>
<path fill="#e41e00" d="M4605 106l23-6-23-14-22 6zM4583 112l22-6-22-14-22 6zM4561 119l22-7-22-14-23 7zM4494 119l22-7-22-15-22 8zM4472 126l22-7-22-14-23 7zM4405 128l22-8-22-14-23 8zM4338 131l22-9-22-14-23 9zM4383 136l22-8-23-14-22 8zM4316 140l22-9-23-14-22 9z"/>
<path fill="#e42400" d="M4628 121l22-6-22-15-23 6zM4605 127l23-6-23-15-22 6zM4539 126l22-7-23-14-22 7zM4516 133l23-7-23-14-22 7zM4494 140l22-7-22-14-22 7zM4450 134l22-8-23-14-22 8zM4427 142l23-8-23-14-22 8zM4360 145l23-9-23-14-22 9zM4294 149l22-9-23-14-22 9z"/>
<path fill="#e42a00" d="M4650 135l22-6-22-14-22 6zM4583 133l22-6-22-15-22 7zM4561 140l22-7-22-14-22 7zM4539 147l22-7-22-14-23 7zM4472 148l22-8-22-14-22 8zM4405 150l22-8-22-14-22 8zM4450 156l22-8-22-14-23 8zM4338 154l22-9-22-14-22 9zM4383 159l22-9-22-14-23 9zM4272 159l22-10-23-14-22 10zM4316 163l22-9-22-14-22 9zM4249 169l23-10-23-14-22 10z"/>
<path fill="#e43000" d="M4628 141l22-6-22-14-23 6zM4605 148l23-7-23-14-22 6zM4583 155l22-7-22-15-22 7zM4516 155l23-8-23-14-22 7zM4494 162l22-7-22-15-22 8zM4428 165l22-9-23-14-22 8zM4361 168l22-9-23-14-22 9zM4294 173l22-10-22-14-22 10zM4227 179l22-10-22-14-22 10z"/>
<path fill="#e43600" d="M4672 149l22-5-22-15-22 6zM4561 162l22-7-22-15-22 7zM4472 170l22-8-22-14-22 8zM4405 173l23-8-23-15-22 9zM4339 177l22-9-23-14-22 9zM4272 182l22-9-22-14-23 10z"/>
<path fill="#e43c00" d="M4650 156l22-7-22-14-22 6zM4628 162l22-6-22-15-23 7zM4539 169l22-7-22-15-23 8zM4517 177l22-8-23-14-22 7zM4450 179l22-9-22-14-22 9zM4383 182l22-9-22-14-22 9zM4317 187l22-10-23-14-22 10zM4205 189l22-10-22-14-22 10zM4250 193l22-11-23-13-22 10z"/>
<path fill="#e44200" d="M4694 164l23-6-23-14-22 5zM4606 169l22-7-23-14-22 7zM4583 176l23-7-23-14-22 7zM4494 185l23-8-23-15-22 8zM4428 187l22-8-22-14-23 8zM4361 191l22-9-22-14-22 9zM4294 196l23-9-23-14-22 9zM4183 200l22-11-22-14-22 11z"/>
<path fill="#e45400" d="M4717 179l22-6-22-15-23 6zM4694 185l23-6-23-15-22 6zM4583 198l23-8-23-14-22 7zM4495 207l22-8-23-14-22 8zM4428 210l22-9-22-14-22 9zM4361 215l22-10-22-14-22 10zM4250 217l22-11-22-13-22 10zM4295 220l22-10-23-14-22 10zM4139 222l22-11-22-14-22 12z"/>
<path fill="#e44800" d="M4672 170l22-6-22-15-22 7zM4650 177l22-7-22-14-22 6zM4561 183l22-7-22-14-22 7zM4472 193l22-8-22-15-22 9zM4406 196l22-9-23-14-22 9zM4339 201l22-10-22-14-22 10zM4228 203l22-10-23-14-22 10zM4272 206l22-10-22-14-22 11z"/>
<path fill="#e46000" d="M4739 193l22-6-22-14-22 6zM4717 199l22-6-22-14-23 6zM4628 205l22-7-22-15-22 7zM4606 212l22-7-22-15-23 8zM4539 213l22-8-22-14-22 8zM4517 221l22-8-22-14-22 8zM4450 224l22-8-22-15-22 9zM4384 229l22-10-23-14-22 10zM4273 231l22-11-23-14-22 11zM4317 234l22-10-22-14-22 10zM4117 234l22-12-22-13-22 11zM4162 236l22-11-23-14-22 11z"/>
<path fill="#e44e00" d="M4628 183l22-6-22-15-22 7zM4606 190l22-7-22-14-23 7zM4539 191l22-8-22-14-22 8zM4517 199l22-8-22-14-23 8zM4450 201l22-8-22-14-22 8zM4383 205l23-9-23-14-22 9zM4317 210l22-9-22-14-23 9zM4161 211l22-11-22-14-22 11zM4206 214l22-11-23-14-22 11z"/>
<path fill="#e45a00" d="M4672 191l22-6-22-15-22 7zM4650 198l22-7-22-14-22 6zM4561 205l22-7-22-15-22 8zM4472 216l23-9-23-14-22 8zM4406 219l22-9-22-14-23 9zM4339 224l22-9-22-14-22 9zM4184 225l22-11-23-14-22 11zM4228 228l22-11-22-14-22 11z"/>
<path fill="#e46c00" d="M4761 208l22-6-22-15-22 6zM4650 219l22-7-22-14-22 7zM4628 227l22-8-22-14-22 7zM4561 228l23-8-23-15-22 8zM4539 236l22-8-22-15-22 8zM4473 239l22-9-23-14-22 8zM4406 243l22-9-22-15-22 10zM4295 245l22-11-22-14-22 11zM4340 248l22-10-23-14-22 10zM4140 248l22-12-23-14-22 12zM4184 250l22-11-22-14-22 11zM4229 252l22-11-23-13-22 11z"/>
<path fill="#e46600" d="M4694 206l23-7-23-14-22 6zM4672 212l22-6-22-15-22 7zM4584 220l22-8-23-14-22 7zM4495 230l22-9-22-14-23 9zM4428 234l22-10-22-14-22 9zM4362 238l22-9-23-14-22 9zM4206 239l22-11-22-14-22 11zM4251 241l22-10-23-14-22 11zM4095 246l22-12-22-14-22 12z"/>
<path fill="#e47200" d="M4739 214l22-6-22-15-22 6zM4717 220l22-6-22-15-23 7zM4694 227l23-7-23-14-22 6zM4606 234l22-7-22-15-22 8zM4517 244l22-8-22-15-22 9zM4451 248l22-9-23-15-22 10zM4384 253l22-10-22-14-22 9zM4273 255l22-10-22-14-22 10zM4074 258l21-12-22-14-22 13zM4118 260l22-12-23-14-22 12z"/>
<path fill="#e47800" d="M4783 223l22-6-22-15-22 6zM4672 234l22-7-22-15-22 7zM4584 242l22-8-22-14-23 8zM4495 253l22-9-22-14-22 9zM4428 257l23-9-23-14-22 9zM4318 259l22-11-23-14-22 11zM4362 262l22-9-22-15-22 10zM4162 262l22-12-22-14-22 12zM4207 264l22-12-23-13-22 11zM4251 266l22-11-22-14-22 11z"/>
<path fill="#e47e00" d="M4761 229l22-6-22-15-22 6zM4739 235l22-6-22-15-22 6zM4650 241l22-7-22-15-22 8zM4628 249l22-8-22-14-22 7zM4561 250l23-8-23-14-22 8zM4539 259l22-9-22-14-22 8zM4473 262l22-9-22-14-22 9zM4406 267l22-10-22-14-22 10zM4296 269l22-10-23-14-22 10zM4052 271l22-13-23-13-22 12zM4096 272l22-12-23-14-21 12zM4140 273l22-11-22-14-22 12zM4185 275l22-11-23-14-22 12z"/>
<path fill="#e48a00" d="M4805 237l22-6-22-14-22 6zM4783 243l22-6-22-14-22 6zM4761 250l22-7-22-14-22 6zM4672 256l22-7-22-15-22 7zM4650 263l22-7-22-15-22 8zM4584 265l22-8-22-15-23 8zM4562 273l22-8-23-15-22 9zM4495 276l22-9-22-14-22 9zM4429 281l22-10-23-14-22 10zM4318 283l22-10-22-14-22 10zM4030 284l22-13-23-14-22 13zM4074 285l22-13-22-14-22 13zM4119 286l21-13-22-13-22 12zM4163 287l22-12-23-13-22 11zM4207 289l22-11-22-14-22 11z"/>
<path fill="#ea9600" d="M4827 252l22-6-22-15-22 6zM4805 258l22-6-22-15-22 6zM4694 270l23-7-23-14-22 7zM4606 279l22-8-22-14-22 8zM4517 291l22-9-22-15-22 9zM4451 295l22-10-22-14-22 10zM4340 297l22-10-22-14-22 10zM4008 297l22-13-23-14-21 14zM4097 298l22-12-23-14-22 13zM4141 299l22-12-23-14-21 13zM4185 301l22-12-22-14-22 12zM4230 303l22-12-23-13-22 11z"/>
<path fill="#e48400" d="M4717 242l22-7-22-15-23 7zM4694 249l23-7-23-15-22 7zM4606 257l22-8-22-15-22 8zM4517 267l22-8-22-15-22 9zM4451 271l22-9-22-14-23 9zM4340 273l22-11-22-14-22 11zM4384 277l22-10-22-14-22 9zM4229 278l22-12-22-14-22 12zM4274 280l22-11-23-14-22 11z"/>
<path fill="#eaa200" d="M4849 267l22-6-22-15-22 6zM4739 278l22-7-22-15-22 7zM4717 285l22-7-22-15-23 7zM4628 294l22-8-22-15-22 8zM4540 305l22-9-23-14-22 9zM4473 309l22-9-22-15-22 10zM4363 311l22-10-23-14-22 10zM4208 315l22-12-23-14-22 12zM4252 317l22-12-22-14-22 12z"/>
<path fill="#ea9000" d="M4739 256l22-6-22-15-22 7zM4717 263l22-7-22-14-23 7zM4628 271l22-8-22-14-22 8zM4539 282l23-9-23-14-22 8zM4473 285l22-9-22-14-22 9zM4362 287l22-10-22-15-22 11zM4407 291l22-10-23-14-22 10zM4252 291l22-11-23-14-22 12zM4296 294l22-11-22-14-22 11zM4052 298l22-13-22-14-22 13z"/>
<path fill="#eaae00" d="M4871 282l22-6-22-15-22 6zM4761 293l22-7-22-15-22 7zM4739 300l22-7-22-15-22 7zM4650 308l22-8-22-14-22 8zM4562 319l22-9-22-14-22 9zM4495 324l22-10-22-14-22 9zM4385 325l22-10-22-14-22 10zM4230 329l22-12-22-14-22 12zM4274 331l22-12-22-14-22 12zM4319 333l22-11-23-14-22 11z"/>
<path fill="#ea9c00" d="M4783 264l22-6-22-15-22 7zM4761 271l22-7-22-14-22 6zM4672 278l22-8-22-14-22 7zM4650 286l22-8-22-15-22 8zM4584 287l22-8-22-14-22 8zM4562 296l22-9-22-14-23 9zM4495 300l22-9-22-15-22 9zM4385 301l22-10-23-14-22 10zM4429 305l22-10-22-14-22 10zM4274 305l22-11-22-14-22 11zM4318 308l22-11-22-14-22 11zM3986 311l22-14-22-13-22 13zM4031 311l21-13-22-14-22 13zM4075 311l22-13-23-13-22 13zM4119 312l22-13-22-13-22 12zM4163 313l22-12-22-14-22 12z"/>
<path fill="#eaa800" d="M4827 273l22-6-22-15-22 6zM4805 279l22-6-22-15-22 6zM4783 286l22-7-22-15-22 7zM4694 292l23-7-23-15-22 8zM4672 300l22-8-22-14-22 8zM4606 302l22-8-22-15-22 8zM4584 310l22-8-22-15-22 9zM4517 314l23-9-23-14-22 9zM4407 315l22-10-22-14-22 10zM4451 319l22-10-22-14-22 10zM4296 319l22-11-22-14-22 11zM4341 322l22-11-23-14-22 11zM3965 325l21-14-22-14-22 14zM4009 324l22-13-23-14-22 14zM4053 324l22-13-23-13-21 13zM4097 325l22-13-22-14-22 13zM4142 326l21-13-22-14-22 13zM4186 327l22-12-23-14-22 12z"/>
<path fill="#eab400" d="M4849 288l22-6-22-15-22 6zM4827 294l22-6-22-15-22 6zM4805 301l22-7-22-15-22 7zM4716 307l23-7-22-15-23 7zM4694 315l22-8-22-15-22 8zM4628 316l22-8-22-14-22 8zM4540 328l22-9-22-14-23 9zM4429 329l22-10-22-14-22 10zM4473 333l22-9-22-15-22 10zM4363 336l22-11-22-14-22 11zM3943 339l22-14-23-14-21 15zM3987 338l22-14-23-13-21 14zM4031 338l22-14-22-13-22 13zM4075 338l22-13-22-14-22 13zM4120 338l22-12-23-14-22 13zM4164 339l22-12-23-14-21 13zM4208 341l22-12-22-14-22 12zM4252 342l22-11-22-14-22 12z"/>
<path fill="#eac000" d="M4893 297l22-6-22-15-22 6zM4871 303l22-6-22-15-22 6zM4849 309l22-6-22-15-22 6zM4739 322l22-8-22-14-23 7zM4650 331l22-8-22-15-22 8zM4562 343l22-9-22-15-22 9zM4496 348l22-10-23-14-22 9zM4385 350l22-10-22-15-22 11zM3965 352l22-14-22-13-22 14zM4010 352l21-14-22-14-22 14zM4054 351l21-13-22-14-22 14zM4098 351l22-13-23-13-22 13zM4142 352l22-13-22-13-22 12zM4186 353l22-12-22-14-22 12zM4230 354l22-12-22-13-22 12zM4275 356l22-11-23-14-22 11z"/>
<path fill="#eacc00" d="M4915 312l22-6-22-15-22 6zM4893 318l22-6-22-15-22 6zM4783 329l22-7-22-15-22 7zM4761 336l22-7-22-15-22 8zM4672 345l22-8-22-14-22 8zM4584 357l22-9-22-14-22 9zM4518 362l22-10-22-14-22 10zM4407 364l22-10-22-14-22 10zM4253 368l22-12-23-14-22 12zM3944 367l21-15-22-13-22 15zM3988 366l22-14-23-14-22 14zM4032 365l22-14-23-13-21 14zM4076 365l22-14-23-13-21 13zM4209 367l21-13-22-13-22 12zM4297 370l22-11-22-14-22 11z"/>
<path fill="#ead800" d="M4937 327l22-6-22-15-22 6zM4915 333l22-6-22-15-22 6zM4805 344l22-7-22-15-22 7zM4783 351l22-7-22-15-22 7zM4694 360l22-8-22-15-22 8zM4628 363l22-9-22-15-22 9zM4606 372l22-9-22-15-22 9zM4540 376l22-9-22-15-22 10zM4430 379l22-11-23-14-22 10zM4010 379l22-14-22-13-22 14zM4275 382l22-12-22-14-22 12zM3922 382l22-15-23-13-21 14zM3966 380l22-14-23-14-21 15zM4319 384l22-11-22-14-22 11z"/>
<path fill="#eaba00" d="M4783 307l22-6-22-15-22 7zM4761 314l22-7-22-14-22 7zM4672 323l22-8-22-15-22 8zM4606 325l22-9-22-14-22 8zM4584 334l22-9-22-15-22 9zM4518 338l22-10-23-14-22 10zM4407 340l22-11-22-14-22 10zM4451 343l22-10-22-14-22 10zM4297 345l22-12-23-14-22 12zM4341 347l22-11-22-14-22 11z"/>
<path fill="#eac600" d="M4827 315l22-6-22-15-22 7zM4805 322l22-7-22-14-22 6zM4716 329l23-7-23-15-22 8zM4694 337l22-8-22-14-22 8zM4628 339l22-8-22-15-22 9zM4606 348l22-9-22-14-22 9zM4540 352l22-9-22-15-22 10zM4429 354l22-11-22-14-22 11zM4474 358l22-10-23-15-22 10zM3921 354l22-15-22-13-22 14zM4319 359l22-12-22-14-22 12zM4363 361l22-11-22-14-22 11zM4120 365l22-13-22-14-22 13zM4164 366l22-13-22-14-22 13z"/>
<path fill="#ead200" d="M4871 324l22-6-22-15-22 6zM4849 330l22-6-22-15-22 6zM4827 337l22-7-22-15-22 7zM4738 344l23-8-22-14-23 7zM4716 352l22-8-22-15-22 8zM4650 354l22-9-22-14-22 8zM4562 367l22-10-22-14-22 9zM4452 368l22-10-23-15-22 11zM4496 372l22-10-22-14-22 10zM3900 368l21-14-22-14-22 15zM4341 373l22-12-22-14-22 12zM4385 375l22-11-22-14-22 11zM4231 381l22-13-23-14-21 13zM4054 379l22-14-22-14-22 14zM4098 378l22-13-22-14-22 14zM4143 379l21-13-22-14-22 13zM4187 379l22-12-23-14-22 13z"/>
<path fill="#eae400" d="M4959 342l22-6-22-15-22 6zM4827 359l22-7-22-15-22 7zM4805 366l22-7-22-15-22 7zM4716 375l22-8-22-15-22 8zM4650 377l22-8-22-15-22 9zM4628 386l22-9-22-14-22 9zM4562 391l22-10-22-14-22 9zM4452 393l22-11-22-14-22 11zM3989 394l21-15-22-13-22 14zM4297 396l22-12-22-14-22 12zM3945 395l21-15-22-13-22 15zM4341 398l22-11-22-14-22 11zM4386 401l22-11-23-15-22 12z"/>
<path fill="#eade00" d="M4893 339l22-6-22-15-22 6zM4871 345l22-6-22-15-22 6zM4849 352l22-7-22-15-22 7zM4760 359l23-8-22-15-23 8zM4738 367l22-8-22-15-22 8zM4672 369l22-9-22-15-22 9zM4584 381l22-9-22-15-22 10zM4474 382l22-10-22-14-22 10zM4518 386l22-10-22-14-22 10zM3878 384l22-16-23-13-21 15zM4363 387l22-12-22-14-22 12zM4408 390l22-11-23-15-22 11zM4033 393l21-14-22-14-22 14zM4209 393l22-12-22-14-22 12zM4253 394l22-12-22-14-22 13zM4077 392l21-14-22-13-22 14zM4121 392l22-13-23-14-22 13zM4165 392l22-13-23-13-21 13z"/>
<path fill="#eaea00" d="M4937 348l22-6-22-15-22 6zM4915 354l22-6-22-15-22 6zM4893 360l22-6-22-15-22 6zM4871 367l22-7-22-15-22 7zM4782 374l23-8-22-15-23 8zM4760 381l22-7-22-15-22 8zM4694 383l22-8-22-15-22 9zM4672 392l22-9-22-14-22 8zM4606 396l22-10-22-14-22 9zM4540 401l22-10-22-15-22 10zM4496 396l22-10-22-14-22 10zM3857 399l21-15-22-14-22 16zM3901 397l21-15-22-14-22 16zM4430 404l22-11-22-14-22 11zM4474 407l22-11-22-14-22 11zM4011 407l22-14-23-14-21 15zM4055 406l22-14-23-13-21 14zM4187 406l22-13-22-14-22 13zM4231 407l22-13-22-13-22 12zM4275 408l22-12-22-14-22 12zM4320 410l21-12-22-14-22 12zM4099 406l22-14-23-14-21 14zM4143 406l22-14-22-13-22 13z"/>
<path fill="#deea00" d="M4981 357l22-6-22-15-22 6zM4959 363l22-6-22-15-22 6zM4937 369l22-6-22-15-22 6zM4915 375l22-6-22-15-22 6zM4804 388l22-7-21-15-23 8zM4716 398l22-9-22-14-22 8zM4628 410l22-9-22-15-22 10zM4562 415l22-10-22-14-22 10zM3879 412l22-15-23-13-21 15zM4452 418l22-11-22-14-22 11zM3989 422l22-15-22-13-22 14zM4033 420l22-14-22-13-22 14zM4077 420l22-14-22-14-22 14zM4254 421l21-13-22-14-22 13zM4298 422l22-12-23-14-22 12zM4342 424l22-12-23-14-21 12z"/>
<path fill="#d2ea00" d="M5002 372l22-6-21-15-22 6zM4980 378l22-6-21-15-22 6zM4848 396l22-7-21-15-23 7zM4826 403l22-7-22-15-22 7zM4738 413l22-9-22-15-22 9zM4672 415l22-9-22-14-22 9zM4540 425l22-10-22-14-22 10zM4474 432l22-11-22-14-22 11zM3858 428l21-16-22-13-22 16zM3902 426l21-16-22-13-22 15zM4012 435l21-15-22-13-22 15zM4056 434l21-14-22-14-22 14zM4100 433l21-14-22-13-22 14zM4276 435l22-13-23-14-21 13zM4320 436l22-12-22-14-22 12zM4364 438l22-12-22-14-22 12z"/>
<path fill="#c0ea00" d="M5024 387l22-5-22-16-22 6zM5002 393l22-6-22-15-22 6zM4980 399l22-6-22-15-22 6zM4958 405l22-6-22-15-22 6zM4848 418l22-7-22-15-22 7zM4826 426l22-8-22-15-22 8zM4760 427l22-8-22-15-22 9zM4738 436l22-9-22-14-22 8zM4672 439l22-9-22-15-22 10zM4606 444l22-10-22-14-22 9zM3836 444l22-16-23-13-21 16zM4540 450l22-10-22-15-22 11zM3946 452l22-15-23-14-21 16zM3990 450l22-15-23-13-21 15zM4430 455l22-12-22-14-22 11zM4188 460l22-13-22-14-22 14zM4232 461l22-13-22-14-22 13z"/>
<path fill="#ccea00" d="M4958 384l22-6-21-15-22 6zM4936 390l22-6-21-15-22 6zM4914 397l22-7-21-15-23 7zM4804 411l22-8-22-15-22 8zM4716 421l22-8-22-15-22 8zM4650 425l22-10-22-14-22 9zM4584 429l22-9-22-15-22 10zM3814 431l21-16-22-13-22 16zM4518 436l22-11-22-14-22 10zM3924 439l21-16-22-13-21 16zM3968 437l21-15-22-14-22 15zM4452 443l22-11-22-14-22 11zM4408 440l22-11-22-14-22 11zM4166 447l22-14-23-14-21 14zM4210 447l22-13-22-14-22 13zM4254 448l22-13-22-14-22 13z"/>
<path fill="#b4ea00" d="M5046 402l22-5-22-15-22 5zM5024 408l22-6-22-15-22 6zM4892 426l22-7-22-15-22 7zM4870 433l22-7-22-15-22 7zM4782 442l22-8-22-15-22 8zM4694 454l22-9-22-15-22 9zM4628 458l22-9-22-15-22 10zM3859 457l21-16-22-13-22 16zM4562 464l22-10-22-14-22 10zM4408 466l22-11-22-15-22 12zM3969 465l21-15-22-13-22 15zM4012 463l22-14-22-14-22 15zM4452 469l22-12-22-14-22 12zM4166 474l22-14-22-13-22 13zM4210 474l22-13-22-14-22 13zM4254 474l22-13-22-13-22 13z"/>
<path fill="#e4ea00" d="M4849 374l22-7-22-15-22 7zM4826 381l23-7-22-15-22 7zM4738 389l22-8-22-14-22 8zM4650 401l22-9-22-15-22 9zM4584 405l22-9-22-15-22 10zM4518 411l22-10-22-15-22 10zM3967 408l22-14-23-14-21 15zM3923 410l22-15-23-13-21 15zM4364 412l22-11-23-14-22 11zM4408 415l22-11-22-14-22 11zM4165 419l22-13-22-14-22 14zM4210 420l21-13-22-14-22 13zM4121 419l22-13-22-14-22 14z"/>
<path fill="#d8ea00" d="M4892 382l23-7-22-15-22 7zM4870 389l22-7-21-15-22 7zM4782 396l22-8-22-14-22 7zM4760 404l22-8-22-15-22 8zM4694 406l22-8-22-15-22 9zM4606 420l22-10-22-14-22 9zM4496 421l22-10-22-15-22 11zM3835 415l22-16-23-13-21 16zM3945 423l22-15-22-13-22 15zM4386 426l22-11-22-14-22 11zM4430 429l22-11-22-14-22 11zM4144 433l21-14-22-13-22 13zM4188 433l22-13-23-14-22 13zM4232 434l22-13-23-14-21 13z"/>
<path fill="#a2ea00" d="M5068 417l22-5-22-15-22 5zM5046 423l22-6-22-15-22 6zM5024 429l22-6-22-15-22 6zM5002 435l22-6-22-15-22 6zM4892 448l22-7-22-15-22 7zM4870 456l22-8-22-15-22 8zM4782 465l22-8-22-15-22 9zM4694 478l22-10-22-14-22 9zM3837 474l22-17-23-13-21 17zM4628 483l22-10-22-15-22 10zM3903 484l22-16-23-14-21 17zM3947 481l22-16-23-13-21 16zM4518 486l22-11-22-14-22 11zM4057 490l22-15-23-13-21 15zM4101 489l22-14-23-14-21 14zM4365 491l21-13-22-14-22 13zM4409 492l21-12-22-14-22 12zM4145 488l21-14-22-14-21 15zM4321 489l21-12-22-14-22 12z"/>
<path fill="#aeea00" d="M5002 414l22-6-22-15-22 6zM4980 420l22-6-22-15-22 6zM4958 427l22-7-22-15-22 7zM4848 441l22-8-22-15-22 8zM4760 451l22-9-22-15-22 9zM4672 463l22-9-22-15-22 10zM3815 461l21-17-22-13-22 17zM4606 468l22-10-22-14-22 10zM3925 468l21-16-22-13-22 15zM4496 472l22-11-22-15-22 11zM4079 475l21-14-22-14-22 15zM4386 478l22-12-22-14-22 12zM4035 477l21-15-22-13-22 14zM4123 475l21-15-22-13-22 14zM4298 475l22-12-22-14-22 12zM4342 477l22-13-22-14-22 13z"/>
<path fill="#96ea00" d="M5089 433l22-6-21-15-22 5zM4936 456l22-7-22-15-22 7zM4914 463l22-7-22-15-22 7zM4826 472l22-8-22-15-22 8zM4804 480l22-8-22-15-22 8zM4738 483l22-9-22-15-22 9zM4672 487l22-9-22-15-22 10zM3750 482l21-17-22-13-21 17zM3816 491l21-17-22-13-21 17zM4606 493l22-10-22-15-22 11zM3926 497l21-16-22-13-22 16zM3969 494l22-15-22-14-22 16zM4540 500l22-11-22-14-22 11zM4079 504l22-15-22-14-22 15zM4123 503l22-15-22-13-22 14zM4343 503l22-12-23-14-21 12zM4387 505l22-13-23-14-21 13zM4431 506l21-11-22-15-21 12zM4167 502l22-14-23-14-21 14z"/>
<path fill="#c6ea00" d="M4892 404l22-7-22-15-22 7zM4870 411l22-7-22-15-22 7zM4782 419l22-8-22-15-22 8zM4694 430l22-9-22-15-22 9zM4628 434l22-9-22-15-22 10zM4562 440l22-11-22-14-22 10zM4496 446l22-10-22-15-22 11zM3880 441l22-15-23-14-21 16zM4034 449l22-15-23-14-21 15zM4078 447l22-14-23-13-21 14zM4122 447l22-14-23-14-21 14zM4298 449l22-13-22-14-22 13zM4342 450l22-12-22-14-22 12zM4386 452l22-12-22-14-22 12z"/>
<path fill="#baea00" d="M4936 412l22-7-22-15-22 7zM4914 419l22-7-22-15-22 7zM4804 434l22-8-22-15-22 8zM4716 445l22-9-22-15-22 9zM4650 449l22-10-22-14-22 9zM3792 448l22-17-23-13-21 17zM4584 454l22-10-22-15-22 11zM3902 454l22-15-22-13-22 15zM4474 457l22-11-22-14-22 11zM4518 461l22-11-22-14-22 10zM4056 462l22-15-22-13-22 15zM4100 461l22-14-22-14-22 14zM4144 460l22-13-22-14-22 14zM4276 461l22-12-22-14-22 13zM4320 463l22-13-22-14-22 13zM4364 464l22-12-22-14-22 12z"/>
<path fill="#90ea00" d="M5067 438l22-5-21-16-22 6zM5045 444l22-6-21-15-22 6zM5023 451l22-7-21-15-22 6zM5001 457l22-6-21-16-22 7zM4892 471l22-8-22-15-22 8zM4870 478l22-7-22-15-22 8zM4782 489l22-9-22-15-22 9zM4716 492l22-9-22-15-22 10zM4650 497l22-10-22-14-22 10zM3882 500l21-16-22-13-21 16zM4584 504l22-11-22-14-22 10zM4035 505l22-15-22-13-22 15zM4475 509l21-12-22-14-22 12zM3992 508l21-16-22-13-22 15zM4518 511l22-11-22-14-22 11zM4321 516l22-13-22-14-22 13zM4189 515l22-14-22-13-22 14zM4233 515l22-13-22-14-22 13zM4277 515l22-13-22-14-22 14z"/>
<path fill="#84e400" d="M5111 448l22-5-22-16-22 6zM5089 454l22-6-22-15-22 5zM5067 460l22-6-22-16-22 6zM5045 466l22-6-22-16-22 7zM4935 478l22-7-21-15-22 7zM4914 486l21-8-21-15-22 8zM4826 495l22-8-22-15-22 8zM4804 504l22-9-22-15-22 9zM3729 499l21-17-22-13-22 18zM4738 507l22-9-22-15-22 9zM4672 512l22-10-22-15-22 10zM3795 508l21-17-22-13-22 17zM4606 518l22-10-22-15-22 11zM3904 513l22-16-23-13-21 16zM4014 521l21-16-22-13-21 16zM4058 519l21-15-22-14-22 15zM4497 523l21-12-22-14-21 12zM4299 529l22-13-22-14-22 13zM4343 530l22-13-22-14-22 13zM4211 529l22-14-22-14-22 14zM4255 529l22-14-22-13-22 13z"/>
<path fill="#72e400" d="M5133 463l21-5-21-15-22 5zM5111 469l22-6-22-15-22 6zM5089 475l22-6-22-15-22 6zM5067 481l22-6-22-15-22 6zM5045 487l22-6-22-15-22 6zM4913 508l22-7-21-15-22 7zM4826 519l22-9-22-15-22 9zM3708 517l21-18-23-12-21 17zM4738 531l22-9-22-15-22 10zM3773 525l22-17-23-13-21 17zM3883 530l21-17-22-13-22 17zM4672 537l22-10-22-15-22 10zM3992 537l22-16-22-13-22 15zM4562 540l22-11-22-14-22 11zM4606 543l22-10-22-15-22 11zM3949 540l21-17-22-13-22 16zM4102 546l22-15-23-14-21 15zM4146 544l22-14-23-14-21 15zM4190 543l21-14-22-14-21 15zM4409 545l22-12-22-14-22 12zM4453 547l22-12-22-14-22 12z"/>
<path fill="#a8ea00" d="M4936 434l22-7-22-15-22 7zM4914 441l22-7-22-15-22 7zM4826 449l22-8-22-15-22 8zM4804 457l22-8-22-15-22 8zM4738 459l22-8-22-15-22 9zM4716 468l22-9-22-14-22 9zM3771 465l21-17-22-13-21 17zM4650 473l22-10-22-14-22 9zM3881 471l21-17-22-13-21 16zM4540 475l22-11-22-14-22 11zM4584 479l22-11-22-14-22 10zM4430 480l22-11-22-14-22 11zM3991 479l21-16-22-13-21 15zM4474 483l22-11-22-15-22 12zM4189 488l21-14-22-14-22 14zM4233 488l21-14-22-13-22 13zM4277 488l21-13-22-14-22 13z"/>
<path fill="#9cea00" d="M4980 442l22-7-22-15-22 7zM4958 449l22-7-22-15-22 7zM4848 464l22-8-22-15-22 8zM4760 474l22-9-22-14-22 8zM3794 478l21-17-23-13-21 17zM3860 487l21-16-22-14-22 17zM4562 489l22-10-22-15-22 11zM4452 495l22-12-22-14-22 11zM4013 492l22-15-23-14-21 16zM4496 497l22-11-22-14-22 11zM4211 501l22-13-23-14-21 14zM4255 502l22-14-23-14-21 14zM4299 502l22-13-23-14-21 13z"/>
<path fill="#66e400" d="M5154 479l22-5-22-16-21 5zM5132 484l22-5-21-16-22 6zM5110 490l22-6-21-15-22 6zM5088 496l22-6-21-15-22 6zM4957 516l22-8-22-15-22 8zM4935 523l22-7-22-15-22 7zM4847 533l22-8-21-15-22 9zM3730 530l21-18-22-13-21 18zM4782 537l22-10-22-14-22 9zM3796 538l21-17-22-13-22 17zM4760 546l22-9-22-15-22 9zM3861 547l22-17-23-13-21 17zM4694 551l22-10-22-14-22 10zM3971 553l21-16-22-14-21 17zM4584 555l22-12-22-14-22 11zM4124 559l22-15-22-13-22 15zM4168 558l22-15-22-13-22 14zM4431 559l22-12-22-14-22 12zM4475 561l22-12-22-14-22 12z"/>
<path fill="#54e400" d="M5176 494l22-5-22-15-22 5zM5154 500l22-6-22-15-22 5zM5132 506l22-6-22-16-22 6zM5110 512l22-6-22-16-22 6zM5088 518l22-6-22-16-22 7zM5066 525l22-7-22-15-21 6zM4957 539l22-8-22-15-22 7zM4935 547l22-8-22-16-22 8zM3709 548l21-18-22-13-22 19zM4847 557l22-9-22-15-22 9zM3774 556l22-18-23-13-21 18zM4782 561l21-10-21-14-22 9zM3840 564l21-17-22-13-21 17zM4716 566l22-10-22-15-22 10zM3949 569l22-16-22-13-22 16zM4650 572l22-10-22-15-22 11zM4059 577l22-16-23-13-21 15zM4541 578l22-12-22-14-22 11zM4584 580l22-11-22-14-21 11zM4212 585l22-14-22-14-22 15zM4256 585l22-15-22-13-22 14zM4300 584l22-13-23-14-21 13zM4344 584l21-13-22-14-21 14zM4387 585l22-13-22-14-22 13zM4431 586l22-13-22-14-22 13z"/>
<path fill="#8ae400" d="M4979 464l22-7-21-15-22 7zM4957 471l22-7-21-15-22 7zM4848 487l22-9-22-14-22 8zM4760 498l22-9-22-15-22 9zM4694 502l22-10-22-14-22 9zM3772 495l22-17-23-13-21 17zM3838 504l22-17-23-13-21 17zM4628 508l22-11-22-14-22 10zM3948 510l21-16-22-13-21 16zM4562 515l22-11-22-15-22 11zM4101 517l22-14-22-14-22 15zM4145 516l22-14-22-14-22 15zM4365 517l22-12-22-14-22 12zM4409 519l22-13-22-14-22 13zM4453 521l22-12-23-14-21 11z"/>
<path fill="#7ee400" d="M5023 472l22-6-22-15-22 6zM5001 479l22-7-22-15-22 7zM4979 486l22-7-22-15-22 7zM4892 493l22-7-22-15-22 7zM4870 502l22-9-22-15-22 9zM4782 513l22-9-22-15-22 9zM4716 517l22-10-22-15-22 10zM3860 517l22-17-22-13-22 17zM4650 522l22-10-22-15-22 11zM4584 529l22-11-22-14-22 11zM3970 523l22-15-23-14-21 16zM4540 526l22-11-22-15-22 11zM4080 532l21-15-22-13-21 15zM4124 531l21-15-22-13-22 14zM4168 530l21-15-22-13-22 14zM4387 531l22-12-22-14-22 12zM4431 533l22-12-22-15-22 13zM4475 535l22-12-22-14-22 12z"/>
<path fill="#48e400" d="M5197 510l22-5-21-16-22 5zM5175 515l22-5-21-16-22 6zM5153 521l22-6-21-15-22 6zM5132 527l21-6-21-15-22 6zM5000 546l22-7-21-16-22 8zM4978 554l22-8-21-15-22 8zM4891 563l22-8-22-15-22 8zM4869 572l22-9-22-15-22 9zM3797 569l21-18-22-13-22 18zM4803 576l22-10-22-15-21 10zM3862 577l22-17-23-13-21 17zM4738 581l22-10-22-15-22 10zM3972 583l21-17-22-13-22 16zM4672 587l22-11-22-14-22 10zM4081 590l22-15-22-14-22 16zM4563 592l21-12-21-14-22 12zM4606 595l22-12-22-14-22 11zM4234 599l22-14-22-14-22 14zM4278 598l22-14-22-14-22 15zM4322 598l22-14-22-13-22 13zM4366 598l21-13-22-14-21 13zM4409 599l22-13-22-14-22 13zM4453 600l22-12-22-15-22 13z"/>
<path fill="#36e400" d="M5219 525l22-5-22-15-22 5zM5197 531l22-6-22-15-22 5zM5175 537l22-6-22-16-22 6zM5153 543l22-6-22-16-21 6zM5131 549l22-6-21-16-22 6zM5109 555l22-6-21-16-22 7zM5000 569l22-8-22-15-22 8zM4978 577l22-8-22-15-22 8zM4891 587l22-9-22-15-22 9zM3775 587l22-18-23-13-21 18zM3841 595l21-18-22-13-21 18zM4803 600l22-9-22-15-22 9zM3907 603l21-17-22-13-21 17zM4738 606l21-11-21-14-22 10zM4016 609l21-16-22-14-21 17zM4628 609l22-11-22-15-22 12zM4672 612l22-10-22-15-22 11zM4125 617l22-15-22-14-22 16zM4169 615l22-15-22-14-22 16zM4519 616l22-12-22-14-22 12zM4563 618l21-12-21-14-22 12z"/>
<path fill="#6ce400" d="M5023 494l22-7-22-15-22 7zM5001 501l22-7-22-15-22 7zM4979 508l22-7-22-15-22 7zM4891 516l22-8-21-15-22 9zM4869 525l22-9-21-14-22 8zM4804 527l22-8-22-15-22 9zM3839 534l21-17-22-13-21 17zM4716 541l22-10-22-14-22 10zM3905 543l21-17-22-13-21 17zM4650 547l22-10-22-15-22 11zM4015 550l21-16-22-13-22 16zM4058 548l22-16-22-13-22 15zM4497 549l22-12-22-14-22 12zM4541 552l21-12-22-14-21 11zM4212 557l21-14-22-14-21 14zM4256 557l21-14-22-14-22 14zM4299 557l22-14-22-14-22 14zM4343 557l22-13-22-14-22 13zM4387 558l22-13-22-14-22 13z"/>
<path fill="#60e400" d="M5066 503l22-7-21-15-22 6zM5045 509l21-6-21-16-22 7zM5023 516l22-7-22-15-22 7zM4913 531l22-8-22-15-22 8zM3686 536l22-19-23-13-21 19zM4825 542l22-9-21-14-22 8zM3752 543l21-18-22-13-21 18zM3927 556l22-16-23-14-21 17zM4628 558l22-11-22-14-22 10zM4037 563l21-15-22-14-21 16zM4081 561l21-15-22-14-22 16zM4519 563l22-11-22-15-22 12zM4563 566l21-11-22-15-21 12zM4234 571l22-14-23-14-21 14zM4278 570l21-13-22-14-21 14zM4322 571l21-14-22-14-22 14zM4365 571l22-13-22-14-22 13zM4409 572l22-13-22-14-22 13z"/>
<path fill="#2ae400" d="M5240 541l22-5-21-16-22 5zM5218 546l22-5-21-16-22 6zM5196 552l22-6-21-15-22 6zM5175 558l21-6-21-15-22 6zM5022 584l22-8-22-15-22 8zM5000 592l22-8-22-15-22 8zM4912 602l22-9-21-15-22 9zM3863 608l22-18-23-13-21 18zM4825 615l22-10-22-14-22 9zM3929 616l21-17-22-13-21 17zM4759 620l22-10-22-15-21 11zM4038 622l22-16-23-13-21 16zM4650 624l22-12-22-14-22 11zM4694 627l22-11-22-14-22 10zM4147 631l22-16-22-13-22 15zM4191 629l22-15-22-14-22 15zM4541 630l22-12-22-14-22 12zM4585 632l21-11-22-15-21 12z"/>
<path fill="#18e400" d="M5262 557l21-6-21-15-22 5zM5240 562l22-5-22-16-22 5zM5218 568l22-6-22-16-22 6zM5196 574l22-6-22-16-21 6zM5174 580l22-6-21-16-22 6zM5152 586l22-6-21-16-22 7zM5021 607l22-8-21-15-22 8zM5000 615l21-8-21-15-22 8zM4912 626l22-9-22-15-22 9zM4847 630l22-10-22-15-22 10zM3908 634l21-18-22-13-22 18zM3973 643l22-17-23-14-21 17zM4716 642l21-11-21-15-22 11zM4082 649l22-16-22-14-22 17zM4126 646l21-15-22-14-21 16zM4650 650l22-12-22-14-22 11zM4366 654l22-14-22-14-22 14zM4235 656l22-15-22-14-22 15zM4279 655l21-15-22-14-21 15zM4322 654l22-14-22-14-22 14zM4410 654l22-14-22-14-22 14zM4453 654l22-13-22-14-21 13zM4497 655l22-12-22-14-22 12zM4541 657l22-12-22-15-22 13z"/>
<path fill="#78e400" d="M4957 493l22-7-22-15-22 7zM4935 501l22-8-22-15-21 8zM4848 510l22-8-22-15-22 8zM3751 512l21-17-22-13-21 17zM4760 522l22-9-22-15-22 9zM3817 521l21-17-22-13-21 17zM4694 527l22-10-22-15-22 10zM4628 533l22-11-22-14-22 10zM3926 526l22-16-22-13-22 16zM4036 534l22-15-23-14-21 16zM4519 537l21-11-22-15-21 12zM4277 543l22-14-22-14-22 14zM4321 543l22-13-22-14-22 13zM4365 544l22-13-22-14-22 13zM4233 543l22-14-22-14-22 14z"/>
<path fill="#42e400" d="M5110 533l22-6-22-15-22 6zM5088 540l22-7-22-15-22 7zM5066 547l22-7-22-15-22 7zM4956 562l22-8-21-15-22 8zM4935 570l21-8-21-15-22 8zM3688 567l21-19-23-12-21 18zM3753 574l21-18-22-13-21 18zM4847 581l22-9-22-15-22 9zM3819 582l21-18-22-13-21 18zM4781 585l22-9-21-15-22 10zM3928 586l21-17-22-13-21 17zM4716 591l22-10-22-15-22 10zM3994 596l21-17-22-13-21 17zM4037 593l22-16-22-14-22 16zM4650 598l22-11-22-15-22 11zM4147 602l22-16-23-13-21 15zM4191 600l21-15-22-13-21 14zM4497 602l22-12-22-15-22 13zM4541 604l22-12-22-14-22 12z"/>
<path fill="#06e400" d="M5283 572l22-5-22-16-21 6zM5196 595l22-6-22-15-22 6zM5174 602l22-7-22-15-22 6zM5152 608l22-6-22-16-21 7zM5130 615l22-7-21-15-22 7zM3625 624l21-19-23-13-21 20zM5021 630l22-8-22-15-21 8zM4999 639l22-9-21-15-22 9zM4912 650l22-9-22-15-22 9zM3886 651l22-17-23-13-21 17zM4846 655l22-10-21-15-22 10zM3952 660l21-17-22-14-21 18zM4781 660l22-10-22-15-22 10zM4716 667l21-11-21-14-22 11zM4061 665l21-16-22-13-21 16zM4170 673l22-15-22-14-22 16zM4214 671l21-15-22-14-21 16zM4606 673l22-12-22-14-21 12z"/>
<path fill="#5ae400" d="M5001 523l22-7-22-15-22 7zM4979 531l22-8-22-15-22 8zM4891 540l22-9-22-15-22 9zM4869 548l22-8-22-15-22 8zM4803 551l22-9-21-15-22 10zM3818 551l21-17-22-13-21 17zM4738 556l22-10-22-15-22 10zM3884 560l21-17-22-13-22 17zM4672 562l22-11-22-14-22 10zM3993 566l22-16-23-13-21 16zM4606 569l22-11-22-15-22 12zM4103 575l21-16-22-13-21 15zM4146 573l22-15-22-14-22 15zM4190 572l22-15-22-14-22 15zM4453 573l22-12-22-14-22 12zM4497 575l22-12-22-14-22 12z"/>
<path fill="#4ee400" d="M5044 532l22-7-21-16-22 7zM5022 539l22-7-21-16-22 7zM4913 555l22-8-22-16-22 9zM3665 554l21-18-22-13-21 18zM3731 561l21-18-22-13-21 18zM4825 566l22-9-22-15-22 9zM4760 571l22-10-22-15-22 10zM3906 573l21-17-22-13-21 17zM4694 576l22-10-22-15-22 11zM4015 579l22-16-22-13-22 16zM4628 583l22-11-22-14-22 11zM4125 588l21-15-22-14-21 16zM4169 586l21-14-22-14-22 15zM4475 588l22-13-22-14-22 12zM4519 590l22-12-22-15-22 12z"/>
<path fill="#0ce400" d="M5261 578l22-6-21-15-22 5zM5239 583l22-5-21-16-22 6zM5218 589l21-6-21-15-22 6zM5065 615l22-8-22-15-22 7zM5043 622l22-7-22-16-22 8zM3690 630l21-19-22-13-21 20zM4956 632l22-8-22-16-22 9zM3755 637l22-19-23-13-21 19zM4934 641l22-9-22-15-22 9zM3821 644l21-19-22-12-21 18zM4868 645l22-10-21-15-22 10zM4803 650l22-10-22-15-22 10zM3995 656l22-17-22-13-22 17zM4737 656l22-11-22-14-21 11zM4104 662l22-16-22-13-22 16zM4672 664l22-11-22-15-22 12zM4344 668l22-14-22-14-22 14zM4388 668l22-14-22-14-22 14zM4257 670l22-15-22-14-22 15zM4301 669l21-15-22-14-21 15zM4432 668l21-14-21-14-22 14zM4475 669l22-14-22-14-22 13zM4519 670l22-13-22-14-22 12zM4563 671l22-12-22-14-22 12z"/>
<path fill="#00de06" d="M5304 588l22-5-21-16-22 5zM5283 593l21-5-21-16-22 6zM5261 599l22-6-22-15-22 5zM5239 605l22-6-22-16-21 6zM5217 611l22-6-21-16-22 6zM5195 617l22-6-21-16-22 7zM5173 624l22-7-21-15-22 6zM3582 632l20-20-22-13-21 20zM5043 646l22-8-22-16-22 8zM3734 656l21-19-22-13-21 19zM4955 656l22-9-21-15-22 9zM3800 662l21-18-22-13-21 18zM4934 665l21-9-21-15-22 9zM4868 669l22-9-22-15-22 10zM3974 673l21-17-22-13-21 17zM4803 675l22-10-22-15-22 10zM4083 679l21-17-22-13-21 16zM4737 682l22-11-22-15-21 11zM4040 682l21-17-22-13-22 17zM4192 687l22-16-22-13-22 15zM4628 688l22-12-22-15-22 12zM4388 696l22-14-22-14-22 14zM4432 696l22-14-22-14-22 14z"/>
<path fill="#24e400" d="M5153 564l22-6-22-15-22 6zM5131 571l22-7-22-15-22 6zM5109 578l22-7-22-16-22 7zM5087 585l22-7-22-16-21 7zM3623 592l21-19-22-13-21 20zM4978 600l22-8-22-15-22 8zM3689 598l21-18-22-13-21 19zM3754 605l21-18-22-13-21 18zM4890 611l22-9-21-15-22 9zM3820 613l21-18-22-13-21 18zM3885 621l22-18-22-13-22 18zM4803 625l22-10-22-15-22 10zM3995 626l21-17-22-13-22 16zM4737 631l22-11-21-14-22 10zM4104 633l21-16-22-13-21 15zM4628 635l22-11-22-15-22 12zM4257 641l21-15-22-13-21 14zM4300 640l22-14-22-14-22 14zM4344 640l22-14-22-14-22 14zM4388 640l22-14-22-14-22 14zM4432 640l21-13-22-14-21 13zM4475 641l22-12-22-15-22 13zM4519 643l22-13-22-14-22 13z"/>
<path fill="#00de18" d="M5326 604l21-5-21-16-22 5zM5304 609l22-5-22-16-21 5zM5260 620l22-5-21-16-22 6zM5239 626l21-6-21-15-22 6zM5217 633l22-7-22-15-22 6zM5195 639l22-6-22-16-22 7zM5173 646l22-7-22-15-21 7zM5151 653l22-7-21-15-22 7zM3561 652l21-20-23-13-20 21zM3626 657l21-20-22-13-21 20zM5042 669l22-8-21-15-22 8zM4955 680l22-9-22-15-21 9zM4933 690l22-10-21-15-22 10zM3953 691l21-18-22-13-21 18zM4868 694l22-10-22-15-22 10zM4018 699l22-17-23-13-21 17zM4803 700l21-10-21-15-22 11zM4127 706l22-17-23-13-21 16zM4694 705l21-12-21-14-22 11zM4737 708l22-11-22-15-22 11zM4280 712l21-15-22-14-21 15zM4323 711l22-15-22-14-22 15zM4541 711l22-13-22-14-22 13zM4628 714l22-12-22-14-22 12zM4236 714l22-16-22-13-22 15zM4585 712l21-12-21-14-22 12z"/>
<path fill="#3ce400" d="M5044 554l22-7-22-15-22 7zM5022 561l22-7-22-15-22 7zM4913 578l22-8-22-15-22 8zM3644 573l21-19-22-13-21 19zM3710 580l21-19-22-13-21 19zM4825 591l22-10-22-15-22 10zM3885 590l21-17-22-13-22 17zM4759 595l22-10-21-14-22 10zM3950 599l22-16-23-14-21 17zM4694 602l22-11-22-15-22 11zM4060 606l21-16-22-13-22 16zM4103 604l22-16-22-13-22 15zM4584 606l22-11-22-15-21 12zM4213 614l21-15-22-14-21 15zM4256 613l22-15-22-13-22 14zM4300 612l22-14-22-14-22 14zM4344 612l22-14-22-14-22 14zM4388 612l21-13-22-14-21 13zM4431 613l22-13-22-14-22 13zM4475 614l22-12-22-14-22 12z"/>
<path fill="#30e400" d="M5087 562l22-7-21-15-22 7zM5066 569l21-7-21-15-22 7zM5044 576l22-7-22-15-22 7zM4956 585l22-8-22-15-21 8zM4934 593l22-8-21-15-22 8zM3667 586l21-19-23-13-21 19zM3732 592l21-18-22-13-21 19zM4869 596l22-9-22-15-22 9zM3798 600l21-18-22-13-22 18zM4847 605l22-9-22-15-22 10zM4781 610l22-10-22-15-22 10zM3972 612l22-16-22-13-22 16zM4716 616l22-10-22-15-22 11zM4082 619l21-15-22-14-21 16zM4606 621l22-12-22-14-22 11zM4235 627l21-14-22-14-21 15zM4278 626l22-14-22-14-22 15zM4322 626l22-14-22-14-22 14zM4366 626l22-14-22-14-22 14zM4410 626l21-13-22-14-21 13zM4453 627l22-13-22-14-22 13zM4497 629l22-13-22-14-22 12z"/>
<path fill="#00de24" d="M5347 620l22-5-22-16-21 5zM5325 625l22-5-21-16-22 5zM5303 630l22-5-21-16-22 6zM5282 636l21-6-21-15-22 5zM5260 642l22-6-22-16-21 6zM5238 648l22-6-21-16-22 7zM5216 655l22-7-21-15-22 6zM3583 665l21-21-22-12-21 20zM5086 676l22-8-22-15-22 8zM5064 684l22-8-22-15-22 8zM3736 688l21-20-23-12-21 19zM3801 694l21-19-22-13-21 19zM4977 695l22-9-22-15-22 9zM3866 701l21-19-22-12-21 18zM3931 708l22-17-22-13-22 17zM4890 709l21-10-21-15-22 10zM4040 713l22-18-22-13-22 17zM4824 715l22-10-22-15-21 10zM4106 722l21-16-22-14-21 17zM4149 719l22-16-22-14-22 17zM4715 719l22-11-22-15-21 12zM4759 722l22-11-22-14-22 11zM4258 728l22-16-22-14-22 16zM4301 726l22-15-22-14-21 15zM4563 725l22-13-22-14-22 13zM4606 727l22-13-22-14-21 12zM4650 729l22-12-22-15-22 12z"/>
<path fill="#00de12" d="M5282 615l22-6-21-16-22 6zM5086 653l22-8-22-15-21 8zM5064 661l22-8-21-15-22 8zM3691 662l21-19-22-13-21 20zM3757 668l21-19-23-12-21 19zM4977 671l22-9-22-15-22 9zM3822 675l21-18-22-13-21 18zM3887 682l22-18-23-13-21 19zM4890 684l22-9-22-15-22 9zM4824 690l22-11-21-14-22 10zM4062 695l21-16-22-14-21 17zM4759 697l22-11-22-15-22 11zM4171 703l21-16-22-14-21 16zM4650 702l22-12-22-14-22 12zM4214 700l22-15-22-14-22 16zM4367 710l21-14-22-14-21 14zM4410 710l22-14-22-14-22 14zM4454 710l22-14-22-14-22 14zM4497 710l22-13-22-14-21 13z"/>
<path fill="#00de36" d="M5368 635l22-5-21-15-22 5zM5347 641l21-6-21-15-22 5zM5325 646l22-5-22-16-22 5zM5303 652l22-6-22-16-21 6zM5281 658l22-6-21-16-22 6zM5259 664l22-6-21-16-22 6zM5238 671l21-7-21-16-22 7zM5216 677l22-6-22-16-21 7zM5194 684l22-7-21-15-22 7zM3562 685l21-20-22-13-21 21zM5085 700l22-8-21-16-22 8zM5064 708l21-8-21-16-22 9zM3780 713l21-19-22-13-21 19zM3845 720l21-19-22-13-21 19zM4976 720l22-9-21-16-22 10zM3910 727l21-19-22-13-21 19zM4889 734l22-10-21-15-22 10zM4781 737l21-11-21-15-22 11zM4824 741l22-11-22-15-22 11zM4084 739l22-17-22-13-22 17zM4193 746l21-16-21-14-22 16zM4715 746l22-12-22-15-21 12zM4345 753l22-15-22-13-22 15zM4476 752l22-14-22-14-22 14zM4519 752l22-14-22-14-21 14zM4563 753l22-13-22-15-22 13zM4389 752l21-14-21-14-22 14zM4432 752l22-14-22-14-22 14z"/>
<path fill="#12e400" d="M5131 593l21-7-21-15-22 7zM5109 600l22-7-22-15-22 7zM5087 607l22-7-22-15-22 7zM3602 612l21-20-22-12-21 19zM3668 618l21-20-22-12-21 19zM4978 624l22-9-22-15-22 8zM3733 624l21-19-22-13-21 19zM3799 631l21-18-22-13-21 18zM4890 635l22-9-22-15-21 9zM3864 638l21-17-22-13-21 17zM4825 640l22-10-22-15-22 10zM3930 647l21-18-22-13-21 18zM4759 645l22-10-22-15-22 11zM4039 652l21-16-22-14-21 17zM4694 653l22-11-22-15-22 11zM4148 660l22-16-23-13-21 15zM4192 658l21-16-22-13-21 15zM4585 659l21-12-21-15-22 13zM4628 661l22-11-22-15-22 12z"/>
<path fill="#00de42" d="M5390 651l21-5-21-16-22 5zM5368 656l22-5-22-16-21 6zM5346 662l22-6-21-15-22 5zM5324 668l22-6-21-16-22 6zM5303 674l21-6-21-16-22 6zM5281 680l22-6-22-16-22 6zM5259 686l22-6-22-16-21 7zM5237 693l22-7-21-15-22 6zM3519 694l21-21-22-12-21 21zM3584 698l21-21-22-12-21 20zM3672 715l20-20-22-13-21 20zM5107 715l22-8-22-15-22 8zM3737 720l21-20-22-12-21 19zM5085 723l22-8-22-15-21 8zM3802 726l21-19-22-13-21 19zM3867 732l21-18-22-13-21 19zM4998 735l22-9-22-15-22 9zM4933 739l22-10-22-15-22 10zM3932 740l22-19-23-13-21 19zM3998 748l21-18-22-13-21 18zM4802 752l22-11-22-15-21 11zM4106 752l22-17-22-13-22 17zM4215 759l21-16-22-13-21 16zM4737 760l22-12-22-14-22 12zM4367 767l22-15-22-14-22 15zM4454 766l22-14-22-14-22 14zM4498 766l21-14-21-14-22 14zM4541 766l22-13-22-15-22 14zM4585 767l21-13-21-14-22 13zM4628 768l22-13-22-14-22 13zM4411 766l21-14-22-14-21 14z"/>
<path fill="#1ee400" d="M5065 592l22-7-21-16-22 7zM5043 599l22-7-21-16-22 8zM3646 605l21-19-23-13-21 19zM4956 608l22-8-22-15-22 8zM3711 611l21-19-22-12-21 18zM4934 617l22-9-22-15-22 9zM3777 618l21-18-23-13-21 18zM4869 620l21-9-21-15-22 9zM3842 625l21-17-22-13-21 18zM3951 629l21-17-22-13-21 17zM4781 635l22-10-22-15-22 10zM4017 639l21-17-22-13-21 17zM4060 636l22-17-22-13-22 16zM4672 638l22-11-22-15-22 12zM4170 644l21-15-22-14-22 16zM4213 642l22-15-22-13-22 15zM4563 645l22-13-22-14-22 12zM4606 647l22-12-22-14-21 11z"/>
<path fill="#00de54" d="M5411 667l21-5-21-16-21 5zM5389 672l22-5-21-16-22 5zM5367 678l22-6-21-16-22 6zM5346 683l21-5-21-16-22 6zM5302 695l22-6-21-15-22 6zM5280 702l22-7-21-15-22 6zM5259 709l21-7-21-16-22 7zM5237 715l22-6-22-16-22 7zM3564 719l20-21-22-13-20 21zM5215 723l22-8-22-15-21 7zM3716 740l21-20-22-13-21 20zM5106 739l22-9-21-15-22 8zM3781 745l21-19-22-13-21 20zM5085 747l21-8-21-16-22 9zM3846 751l21-19-22-12-21 19zM3911 758l21-18-22-13-21 18zM4998 760l21-10-21-15-22 9zM3976 766l22-18-22-13-22 18zM4932 764l22-10-21-15-22 10zM4042 774l21-18-22-13-21 18zM4867 770l22-10-22-15-21 10zM4802 778l22-12-22-14-22 11zM4150 779l22-17-22-13-22 17zM4259 786l21-16-22-13-21 16zM4302 784l22-15-22-14-22 15zM4693 784l22-12-22-14-21 12zM4737 787l22-12-22-15-22 12z"/>
<path fill="#00de60" d="M5432 683l22-5-22-16-21 5zM5410 688l22-5-21-16-22 5zM5389 694l21-6-21-16-22 6zM5367 699l22-5-22-16-21 5zM5345 705l22-6-21-16-22 6zM5323 711l22-6-21-16-22 6zM5302 718l21-7-21-16-22 7zM5280 724l22-6-22-16-21 7zM3521 728l21-22-23-12-20 21zM5258 731l22-7-21-15-22 6zM3586 731l21-21-23-12-20 21zM3673 748l21-21-22-12-21 20zM3738 752l21-19-22-13-21 20zM5128 754l22-8-22-16-22 9zM5041 765l22-9-22-15-22 9zM5019 775l22-10-22-15-21 10zM3998 779l22-18-22-13-22 18zM4954 779l22-10-22-15-22 10zM4063 787l22-17-22-14-21 18zM4889 785l22-10-22-15-22 10zM4172 792l21-16-21-14-22 17zM4824 792l21-11-21-15-22 12zM4281 800l21-16-22-14-21 16zM4715 799l22-12-22-15-22 12zM4758 801l22-12-21-14-22 12zM4476 808l22-14-22-14-22 14zM4520 808l21-14-22-14-21 14zM4563 808l22-14-22-14-22 14z"/>
<path fill="#00e400" d="M5108 622l22-7-21-15-22 7zM3712 643l21-19-22-13-21 19zM4977 647l22-8-21-15-22 8zM3778 649l21-18-22-13-22 19zM4825 665l21-10-21-15-22 10zM4017 669l22-17-22-13-22 17zM4759 671l22-11-22-15-22 11zM4126 676l22-16-22-14-22 16zM4650 676l22-12-22-14-22 11zM4323 682l21-14-22-14-21 15zM4366 682l22-14-22-14-22 14zM4410 682l22-14-22-14-22 14zM4454 682l21-13-22-15-21 14zM4497 683l22-13-22-15-22 14z"/>
<path fill="#00de0c" d="M5152 631l21-7-21-16-22 7zM5130 638l22-7-22-16-22 7zM5108 645l22-7-22-16-22 8zM3604 644l21-20-23-12-20 20zM3669 650l21-20-22-12-21 19zM5021 654l22-8-22-16-22 9zM4999 662l22-8-22-15-22 8zM3865 670l21-19-22-13-21 19zM4912 675l22-10-22-15-22 10zM3931 678l21-18-22-13-21 17zM4846 679l22-10-22-14-21 10zM3996 686l21-17-22-13-21 17zM4781 686l22-11-22-15-22 11zM4105 692l21-16-22-14-21 17zM4149 689l21-16-22-13-22 16zM4672 690l22-11-22-15-22 12zM4715 693l22-11-21-15-22 12zM4301 697l22-15-22-13-22 14zM4345 696l21-14-22-14-21 14zM4258 698l21-15-22-13-21 15zM4476 696l21-13-22-14-21 13zM4519 697l22-13-22-14-22 13zM4563 698l22-12-22-15-22 13zM4606 700l22-12-22-15-21 13z"/>
<path fill="#00de72" d="M5453 699l22-5-21-16-22 5zM5431 704l22-5-21-16-22 5zM5410 710l21-6-21-16-21 6zM5388 715l22-5-21-16-22 5zM5323 733l22-6-22-16-21 7zM3478 737l21-22-22-12-21 22zM5301 740l22-7-21-15-22 6zM5279 747l22-7-21-16-22 7zM3565 752l21-21-22-12-21 21zM5258 754l21-7-21-16-22 7zM5236 761l22-7-22-16-21 8zM3717 773l21-21-22-12-21 20zM3782 778l21-20-22-13-21 20zM5127 778l22-8-21-16-22 9zM5106 787l21-9-21-15-22 8zM5041 790l21-10-21-15-22 10zM5019 799l22-9-22-15-22 9zM4042 805l21-18-21-13-22 18zM4954 804l22-10-22-15-22 10zM4107 813l22-17-22-13-22 17zM4889 811l21-11-21-15-22 11zM4216 819l21-16-22-14-21 17zM4823 819l22-12-21-15-22 12zM4324 827l22-16-22-13-22 16zM4368 825l21-15-22-14-21 15zM4411 824l22-15-22-14-22 15zM4628 823l22-13-22-15-22 14zM4671 824l22-13-21-14-22 13zM4715 826l22-13-22-14-22 12z"/>
<path fill="#00de00" d="M5086 630l22-8-21-15-22 8zM5065 638l21-8-21-15-22 7zM3647 637l21-19-22-13-21 19zM3843 657l21-19-22-13-21 19zM4890 660l22-10-22-15-22 10zM3909 664l21-17-22-13-22 17zM4694 679l22-12-22-14-22 11zM4236 685l21-15-22-14-21 15zM4279 683l22-14-22-14-22 15zM4541 684l22-13-22-14-22 13zM4585 686l21-13-21-14-22 12z"/>
<path fill="#00de84" d="M5474 715l22-5-21-16-22 5zM3609 777l21-21-22-13-21 22zM5257 777l22-7-21-16-22 7zM5235 784l22-7-21-16-22 8zM5214 792l21-8-21-15-22 8zM3761 798l21-20-22-13-21 20zM5127 802l22-9-22-15-21 9zM3826 803l21-20-22-12-21 19zM5105 811l22-9-21-15-22 9zM4021 823l21-18-22-13-21 18zM5018 824l22-9-21-16-22 10zM4086 831l21-18-22-13-21 18zM4953 830l22-11-21-15-22 11zM4151 840l21-17-21-14-22 18zM4888 837l22-11-21-15-22 11zM4259 846l22-16-22-14-21 17zM4303 843l21-16-22-13-21 16zM4780 842l22-12-22-14-22 12zM4823 845l22-12-22-14-21 11zM4411 853l22-15-22-14-22 15zM4671 852l22-13-22-15-21 13zM4455 851l21-14-22-14-21 15zM4498 851l22-15-22-14-22 15zM4541 850l22-14-22-14-21 14zM4585 850l21-14-21-14-22 14zM4628 851l22-14-22-14-22 13z"/>
<path fill="#00de2a" d="M5195 662l21-7-21-16-22 7zM5173 669l22-7-22-16-22 7zM5151 676l22-7-22-16-22 8zM3605 677l21-20-22-13-21 21zM3670 682l21-20-22-12-21 19zM5042 693l22-9-22-15-22 9zM5020 702l22-9-22-15-21 8zM4955 705l22-10-22-15-22 10zM3997 717l21-18-22-13-21 18zM4868 719l22-10-22-15-22 11zM4802 726l22-11-21-15-22 11zM4062 726l22-17-22-14-22 18zM4171 732l22-16-22-13-22 16zM4214 730l22-16-22-14-21 16zM4694 731l21-12-21-14-22 12zM4498 738l21-14-22-14-21 14zM4367 738l22-14-22-14-22 15zM4410 738l22-14-22-14-21 14zM4454 738l22-14-22-14-22 14zM4541 738l22-13-22-14-22 13z"/>
<path fill="#00de4e" d="M5324 689l22-6-22-15-21 6zM3542 706l20-21-22-12-21 21zM3629 723l20-21-22-12-20 20zM5150 722l22-7-22-16-21 8zM3694 727l21-20-23-12-20 20zM5128 730l22-8-21-15-22 8zM5041 741l22-9-21-15-22 9zM5019 750l22-9-21-15-22 9zM4954 754l22-10-21-15-22 10zM4020 761l21-18-22-13-21 18zM4889 760l22-11-22-15-22 11zM4085 770l21-18-22-13-21 17zM4824 766l22-11-22-14-22 11zM4193 776l22-17-22-13-21 16zM4237 773l21-16-22-14-21 16zM4759 775l21-12-21-15-22 12zM4346 782l21-15-22-14-21 16zM4389 781l22-15-22-14-22 15zM4432 780l22-14-22-14-21 14zM4476 780l22-14-22-14-22 14zM4519 780l22-14-22-14-21 14zM4563 780l22-13-22-14-22 13zM4606 781l22-13-22-14-21 13zM4650 783l22-13-22-15-22 13z"/>
<path fill="#00de7e" d="M5453 720l21-5-21-16-22 5zM5431 726l22-6-22-16-21 6zM5409 731l22-5-21-16-22 5zM5388 737l21-6-21-16-22 6zM5366 743l22-6-22-16-21 6zM5344 749l22-6-21-16-22 6zM5322 756l22-7-21-16-22 7zM5301 763l21-7-21-16-22 7zM3523 762l20-22-22-12-21 21zM3587 765l21-22-22-12-21 21zM5279 770l22-7-22-16-21 7zM3674 781l21-21-22-12-21 20zM3739 785l21-20-22-13-21 21zM5171 785l21-8-21-16-22 9zM5149 793l22-8-22-15-22 8zM5062 805l22-9-22-16-21 10zM3891 809l21-19-22-13-21 19zM3956 816l21-19-22-13-21 19zM5040 815l22-10-21-15-22 9zM4975 819l22-10-21-15-22 10zM4129 827l22-18-22-13-22 17zM4910 826l22-11-22-15-21 11zM4194 836l22-17-22-13-22 17zM4238 833l21-17-22-13-21 16zM4845 833l22-11-22-15-22 12zM4346 841l22-16-22-14-22 16zM4389 839l22-15-22-14-21 15zM4693 839l22-13-22-15-22 13zM4737 840l21-12-21-15-22 13z"/>
<path fill="#00d890" d="M5495 731l22-4-21-17-22 5zM5474 736l21-5-21-16-21 5zM5452 742l22-6-21-16-22 6zM5430 747l22-5-21-16-22 5zM5322 778l22-6-22-16-21 7zM3567 786l20-21-22-13-20 22zM5300 785l22-7-21-15-22 7zM5278 793l22-8-21-15-22 7zM5257 800l21-7-21-16-22 7zM3718 806l21-21-22-12-21 20zM5148 817l22-8-21-16-22 9zM5127 826l21-9-21-15-22 9zM3870 828l21-19-22-13-21 20zM3935 835l21-19-22-13-21 19zM5062 830l21-10-21-15-22 10zM4000 842l21-19-22-13-21 19zM5040 840l22-10-22-15-22 9zM4975 845l22-10-22-16-22 11zM4173 853l21-17-22-13-21 17zM4910 852l22-11-22-15-22 11zM4281 860l22-17-22-13-22 16zM4801 857l22-12-21-15-22 12zM4845 860l22-12-22-15-22 12zM4433 867l22-16-22-13-22 15zM4650 865l21-13-21-15-22 14zM4693 866l22-13-22-14-22 13zM4476 865l22-14-22-14-21 14zM4520 865l21-15-21-14-22 15zM4563 864l22-14-22-14-22 14zM4606 864l22-13-22-15-21 14z"/>
<path fill="#00de1e" d="M5129 661l22-8-21-15-22 7zM5108 668l21-7-21-16-22 8zM3648 669l21-19-22-13-21 20zM3713 675l21-19-22-13-21 19zM5020 678l22-9-21-15-22 8zM3779 681l21-19-22-13-21 19zM4999 686l21-8-21-16-22 9zM3844 688l21-18-22-13-21 18zM3909 695l22-17-22-14-22 18zM4911 699l22-9-21-15-22 9zM3975 704l21-18-22-13-21 18zM4846 705l22-11-22-15-22 11zM4084 709l21-17-22-13-21 16zM4781 711l22-11-22-14-22 11zM4193 716l21-16-22-13-21 16zM4672 717l22-12-22-15-22 12zM4345 725l22-15-22-14-22 15zM4389 724l21-14-22-14-21 14zM4432 724l22-14-22-14-22 14zM4476 724l21-14-21-14-22 14zM4519 724l22-13-22-14-22 13z"/>
<path fill="#00d8a2" d="M5516 747l22-4-21-16-22 4zM3611 811l20-22-22-12-20 21zM5278 816l22-8-22-15-21 7zM3697 826l21-20-22-13-21 21zM5256 824l22-8-21-16-22 8zM3762 831l21-21-22-12-21 20zM5235 832l21-8-21-16-22 8zM5148 842l22-9-22-16-21 9zM3914 854l21-19-22-13-21 19zM5126 851l22-9-21-16-22 10zM3979 860l21-18-22-13-21 19zM5061 855l22-10-21-15-22 10zM4044 868l21-19-22-13-21 19zM5040 865l21-10-21-15-22 10zM4975 871l21-11-21-15-22 11zM4152 871l21-18-22-13-21 18zM4217 880l21-17-22-14-21 18zM4910 878l21-11-21-15-22 11zM4368 884l22-16-22-13-22 15zM4801 884l22-12-22-15-21 12zM4325 887l21-17-21-13-22 16zM4758 882l22-13-22-14-22 12zM4520 893l21-14-21-14-22 14zM4563 893l22-15-22-14-22 15zM4606 892l22-13-22-15-21 14zM4650 893l21-14-21-14-22 14z"/>
<path fill="#00de30" d="M3540 673l21-21-22-12-21 21zM5129 684l22-8-22-15-21 7zM3627 690l21-21-22-12-21 20zM5107 692l22-8-21-16-22 8zM3692 695l21-20-22-13-21 20zM3758 700l21-19-22-13-21 20zM3823 707l21-19-22-13-21 19zM4998 711l22-9-21-16-22 9zM4933 714l22-9-22-15-22 9zM3888 714l21-19-22-13-21 19zM4911 724l22-10-22-15-21 10zM3954 721l21-17-22-13-22 17zM4019 730l21-17-22-14-21 18zM4846 730l22-11-22-14-22 10zM4128 735l21-16-22-13-21 16zM4737 734l22-12-22-14-22 11zM4236 743l22-15-22-14-22 16zM4280 741l21-15-21-14-22 16zM4323 740l22-15-22-14-22 15zM4585 740l21-13-21-15-22 13zM4628 741l22-12-22-15-22 13zM4672 743l22-12-22-14-22 12z"/>
<path fill="#00de6c" d="M5366 721l22-6-21-16-22 6zM5345 727l21-6-21-16-22 6zM3543 740l21-21-22-13-21 22zM3630 756l21-21-22-12-21 20zM3695 760l21-20-22-13-21 21zM5171 761l22-8-22-15-21 8zM5149 770l22-9-21-15-22 8zM5062 780l22-9-21-15-22 9zM3847 783l21-19-22-13-21 20zM3912 790l21-19-22-13-21 19zM3977 797l21-18-22-13-21 18zM4976 794l21-10-21-15-22 10zM4085 800l22-17-22-13-22 17zM4910 800l22-11-21-14-22 10zM4151 809l21-17-22-13-21 17zM4845 807l22-11-22-15-21 11zM4259 816l22-16-22-14-22 17zM4302 814l22-16-22-14-21 16zM4737 813l21-12-21-14-22 12zM4780 816l22-12-22-15-22 12zM4454 823l22-15-22-14-21 15zM4498 822l22-14-22-14-22 14zM4541 822l22-14-22-14-21 14zM4585 822l21-13-21-15-22 14z"/>
<path fill="#00d89c" d="M5495 752l21-5-21-16-21 5zM5473 758l22-6-21-16-22 6zM5451 763l22-5-21-16-22 5zM5430 769l21-6-21-16-21 6zM5408 775l22-6-21-16-22 6zM5387 781l21-6-21-16-22 6zM5365 787l22-6-22-16-21 7zM5343 794l22-7-21-15-22 6zM3589 798l20-21-22-12-20 21zM5321 801l22-7-21-16-22 7zM5300 808l21-7-21-16-22 8zM3675 814l21-21-22-12-21 21zM5192 824l21-8-21-16-22 9zM3827 836l21-20-22-13-21 20zM5170 833l22-9-22-15-22 8zM3892 841l21-19-22-13-21 19zM3957 848l21-19-22-13-21 19zM5083 845l22-9-22-16-21 10zM4022 855l21-19-22-13-21 19zM4087 862l21-18-22-13-21 18zM4996 860l22-10-21-15-22 10zM4195 867l21-18-22-13-21 17zM4931 867l22-11-21-15-22 11zM4260 876l21-16-22-14-21 17zM4303 873l22-16-22-14-22 17zM4823 872l22-12-22-15-22 12zM4866 875l22-12-21-15-22 12zM4411 882l22-15-22-14-21 15zM4455 880l21-15-21-14-22 16zM4541 879l22-15-22-14-21 15zM4628 879l22-14-22-14-22 13zM4671 879l22-13-22-14-21 13zM4715 880l21-13-21-14-22 13zM4498 879l22-14-22-14-22 14z"/>
<path fill="#00d8ae" d="M5537 764l22-5-21-16-22 4zM5516 769l21-5-21-17-21 5zM5494 774l22-5-21-17-22 6zM5473 779l21-5-21-16-22 5zM5343 817l21-7-21-16-22 7zM5321 824l22-7-22-16-21 7zM5299 831l22-7-21-16-22 8zM3719 839l21-21-22-12-21 20zM5278 839l21-8-21-15-22 8zM3806 856l21-20-22-13-21 20zM3871 861l21-20-22-13-21 20zM5169 857l22-9-21-15-22 9zM3936 867l21-19-22-13-21 19zM4000 873l22-18-22-13-21 18zM5083 870l21-10-21-15-22 10zM4065 881l22-19-22-13-21 19zM4130 889l22-18-22-13-22 18zM4996 886l22-11-22-15-21 11zM4931 893l22-12-22-14-21 11zM4238 893l22-17-22-13-21 17zM4347 900l21-16-22-14-21 17zM4823 899l22-13-22-14-22 12zM4498 908l22-15-22-14-22 15zM4585 907l21-15-21-14-22 15zM4541 907l22-14-22-14-21 14zM4628 907l22-14-22-14-22 13zM4671 907l22-13-22-15-21 14z"/>
<path fill="#00de3c" d="M5172 692l22-8-21-15-22 7zM5150 699l22-7-21-16-22 8zM3649 702l21-20-22-13-21 21zM5129 707l21-8-21-15-22 8zM3715 707l21-19-23-13-21 20zM5042 717l22-9-22-15-22 9zM5020 726l22-9-22-15-22 9zM4955 729l21-9-21-15-22 9zM3976 735l21-18-22-13-21 17zM4041 743l21-17-22-13-21 17zM4867 745l22-11-21-15-22 11zM4759 748l22-11-22-15-22 12zM4150 749l21-17-22-13-21 16zM4258 757l22-16-22-13-22 15zM4302 755l21-15-22-14-21 15zM4606 754l22-13-22-14-21 13zM4650 755l22-12-22-14-22 12zM4693 758l22-12-21-15-22 12z"/>
<path fill="#00de48" d="M5215 700l22-7-21-16-22 7zM5194 707l21-7-21-16-22 8zM3607 710l20-20-22-13-21 21zM5172 715l22-8-22-15-22 7zM3759 733l21-20-22-13-21 20zM5063 732l22-9-21-15-22 9zM3824 739l21-19-22-13-21 19zM3889 745l21-18-22-13-21 18zM4976 744l22-9-22-15-21 9zM4911 749l22-10-22-15-22 10zM3954 753l22-18-22-14-22 19zM4063 756l21-17-22-13-21 17zM4846 755l21-10-21-15-22 11zM4780 763l22-11-21-15-22 11zM4128 766l22-17-22-14-22 17zM4172 762l21-16-22-14-21 17zM4280 770l22-15-22-14-22 16zM4324 769l21-16-22-13-21 15zM4715 772l22-12-22-14-22 12zM4672 770l21-12-21-15-22 12z"/>
<path fill="#00d8c0" d="M5558 780l22-5-21-16-22 5zM5537 785l21-5-21-16-21 5zM3699 860l20-21-22-13-20 22zM5299 855l21-8-21-16-21 8zM5277 863l22-8-21-16-22 8zM5255 871l22-8-21-16-22 8zM3850 881l21-20-22-13-21 20zM3915 886l21-19-22-13-21 20zM5169 882l22-9-22-16-21 9zM3979 893l21-20-21-13-22 20zM5147 891l22-9-21-16-22 10zM4044 899l21-18-21-13-22 18zM5082 895l22-10-21-15-22 10zM4109 907l21-18-22-13-21 18zM4174 915l21-18-22-13-21 18zM4996 911l21-10-21-15-22 10zM4282 920l21-17-21-13-22 17zM4888 916l21-12-21-15-22 12zM4931 919l21-11-21-15-22 11zM4779 924l22-13-21-15-22 13zM4390 928l22-16-22-14-22 16zM4433 925l22-15-22-14-21 16zM4823 926l21-13-21-14-22 12z"/>
<path fill="#00de5a" d="M3499 715l20-21-22-12-20 21zM5193 730l22-7-21-16-22 8zM3651 735l21-20-23-13-20 21zM5171 738l22-8-21-15-22 7zM5150 746l21-8-21-16-22 8zM5063 756l22-9-22-15-22 9zM3803 758l21-19-22-13-21 19zM3868 764l21-19-22-13-21 19zM3933 771l21-18-22-13-21 18zM4976 769l22-9-22-16-22 10zM4911 775l21-11-21-15-22 11zM4107 783l21-17-22-14-21 18zM4845 781l22-11-21-15-22 11zM4215 789l22-16-22-14-22 17zM4780 789l22-11-22-15-21 12zM4324 798l22-16-22-13-22 15zM4367 796l22-15-22-14-21 15zM4411 795l21-15-21-14-22 15zM4454 794l22-14-22-14-22 14zM4498 794l21-14-21-14-22 14zM4541 794l22-14-22-14-22 14zM4585 794l21-13-21-14-22 13zM4628 795l22-12-22-15-22 13zM4672 797l21-13-21-14-22 13z"/>
<path fill="#00de8a" d="M5409 753l21-6-21-16-21 6zM5387 759l22-6-21-16-22 6zM5365 765l22-6-21-16-22 6zM5344 772l21-7-21-16-22 7zM3545 774l20-22-22-12-20 22zM3631 789l21-21-22-12-21 21zM3696 793l21-20-22-13-21 21zM5192 800l22-8-22-15-21 8zM3783 810l21-20-22-12-21 20zM5170 809l22-9-21-15-22 8zM3848 816l21-20-22-13-21 20zM3913 822l21-19-22-13-21 19zM5083 820l22-9-21-15-22 9zM3978 829l21-19-22-13-21 19zM4043 836l21-18-22-13-21 18zM4997 835l21-11-21-15-22 10zM4108 844l21-17-22-14-21 18zM4932 841l21-11-21-15-22 11zM4216 849l22-16-22-14-22 17zM4867 848l21-11-21-15-22 11zM4325 857l21-16-22-14-21 16zM4368 855l21-16-21-14-22 16zM4715 853l22-13-22-14-22 13zM4758 855l22-13-22-14-21 12z"/>
<path fill="#00d8cc" d="M5579 796l22-5-21-16-22 5zM5558 801l21-5-21-16-21 5zM5536 806l22-5-21-16-22 5zM5515 811l21-5-21-16-21 5zM5342 863l21-7-21-16-22 7zM3720 872l21-21-22-12-20 21zM5320 871l22-8-22-16-21 8zM5298 878l22-7-21-16-22 8zM3807 889l21-21-22-12-21 20zM3872 894l21-20-22-13-21 20zM5190 897l22-9-21-15-22 9zM5104 910l21-10-21-15-22 10zM4131 920l21-18-22-13-21 18zM4196 928l21-17-22-14-21 18zM5017 926l22-10-22-15-21 10zM4304 934l21-17-22-14-21 17zM4261 937l21-17-22-13-21 17zM4909 931l22-12-22-15-21 12zM4952 934l22-12-22-14-21 11zM4801 938l22-12-22-15-22 13zM4844 940l22-12-22-15-21 13zM4412 941l21-16-21-13-22 16zM4606 949l22-14-22-14-21 14zM4650 949l21-14-21-14-22 14z"/>
<path fill="#00d8ba" d="M5515 790l22-5-21-16-22 5zM5494 795l21-5-21-16-21 5zM5472 801l22-6-21-16-22 6zM5450 807l22-6-21-16-22 6zM5429 813l21-6-21-16-21 6zM5407 819l22-6-21-16-22 6zM5385 826l22-7-21-16-22 7zM5364 833l21-7-21-16-21 7zM5342 840l22-7-21-16-22 7zM3677 848l20-22-22-12-20 21zM5320 847l22-7-21-16-22 7zM3763 864l21-21-22-12-21 20zM3828 868l21-20-22-12-21 20zM5212 864l22-9-21-15-22 8zM3893 874l21-20-22-13-21 20zM5191 873l21-9-21-16-22 9zM5104 885l22-9-22-16-21 10zM4152 902l21-18-21-13-22 18zM5017 901l22-11-21-15-22 11zM4952 908l22-12-21-15-22 12zM4217 911l21-18-21-13-22 17zM4325 917l22-17-22-13-22 16zM4368 914l22-16-22-14-21 16zM4844 913l22-12-21-15-22 13zM4477 923l21-15-22-14-21 16zM4520 922l21-15-21-14-22 15zM4563 921l22-14-22-14-22 14zM4606 921l22-14-22-15-21 15zM4736 922l22-13-22-14-21 13zM4650 921l21-14-21-14-22 14zM4693 921l22-13-22-14-22 13z"/>
<path fill="#00d8de" d="M5600 812l22-4-21-17-22 5zM5579 817l21-5-21-16-21 5zM5319 894l22-8-21-15-22 7zM5298 902l21-8-21-16-21 9zM3851 914l21-20-22-13-21 20zM5276 911l22-9-21-15-22 8zM5190 922l21-9-21-16-22 9zM5168 931l22-9-22-16-21 10zM5103 936l22-10-21-16-22 10zM4174 946l22-18-22-13-21 18zM4239 955l22-18-22-13-22 18zM5017 952l21-11-21-15-22 11zM4347 961l22-17-22-14-22 17zM4909 957l21-12-21-14-22 12zM4455 969l22-16-22-14-22 16zM4498 967l22-16-22-14-21 16zM4541 965l22-15-22-14-21 15zM4758 964l21-13-21-14-22 13zM4801 966l21-13-21-15-22 13zM4844 967l22-12-22-15-22 13z"/>
<path fill="#00de78" d="M3500 749l21-21-22-13-21 22zM3652 768l21-20-22-13-21 21zM5214 769l22-8-21-15-22 7zM5192 777l22-8-21-16-22 8zM3804 790l21-19-22-13-21 20zM5084 796l22-9-22-16-22 9zM3869 796l21-19-22-13-21 19zM3934 803l21-19-22-13-21 19zM3999 810l21-18-22-13-21 18zM4997 809l22-10-22-15-21 10zM4064 818l21-18-22-13-21 18zM4932 815l22-11-22-15-22 11zM4172 823l22-17-22-14-21 17zM4867 822l22-11-22-15-22 11zM4281 830l21-16-21-14-22 16zM4758 828l22-12-22-15-21 12zM4802 830l21-11-21-15-22 12zM4433 838l21-15-21-14-22 15zM4476 837l22-15-22-14-22 15zM4520 836l21-14-21-14-22 14zM4563 836l22-14-22-14-22 14zM4606 836l22-13-22-14-21 13zM4650 837l21-13-21-14-22 13z"/>
<path fill="#00de66" d="M5236 738l22-7-21-16-22 8zM3608 743l21-20-22-13-21 21zM5215 746l21-8-21-15-22 7zM5193 753l22-7-22-16-22 8zM3760 765l21-20-22-12-21 19zM5106 763l22-9-22-15-21 8zM5084 771l22-8-21-16-22 9zM3825 771l21-20-22-12-21 19zM3890 777l21-19-22-13-21 19zM3955 784l21-18-22-13-21 18zM4997 784l22-9-21-15-22 9zM4020 792l22-18-22-13-22 18zM4932 789l22-10-22-15-21 11zM4129 796l21-17-22-13-21 17zM4867 796l22-11-22-15-22 11zM4194 806l21-17-22-13-21 16zM4237 803l22-17-22-13-22 16zM4802 804l22-12-22-14-22 11zM4346 811l21-15-21-14-22 16zM4389 810l22-15-22-14-22 15zM4433 809l21-15-22-14-21 15zM4606 809l22-14-22-14-21 13zM4650 810l22-13-22-14-22 12zM4693 811l22-12-22-15-21 13z"/>
<path fill="#00d8a8" d="M5451 785l22-6-22-16-21 6zM5429 791l22-6-21-16-22 6zM5408 797l21-6-21-16-21 6zM5386 803l22-6-21-16-22 6zM5364 810l22-7-21-16-22 7zM3633 823l20-21-22-13-20 22zM3784 843l21-20-22-13-21 21zM5213 840l22-8-22-16-21 8zM3849 848l21-20-22-12-21 20zM5191 848l22-8-21-16-22 9zM5104 860l22-9-21-15-22 9zM4108 876l22-18-22-14-21 18zM5018 875l22-10-22-15-22 10zM4953 881l22-10-22-15-22 11zM4173 884l22-17-22-14-21 18zM4282 890l21-17-22-13-21 16zM4845 886l21-11-21-15-22 12zM4888 889l22-11-22-15-22 12zM4390 898l21-16-21-14-22 16zM4433 896l22-16-22-13-22 15zM4476 894l22-15-22-14-21 15zM4693 894l22-14-22-14-22 13zM4736 895l22-13-22-15-21 13zM4780 896l21-12-21-15-22 13z"/>
<path fill="#00d8d8" d="M5557 822l22-5-21-16-22 5zM5536 828l21-6-21-16-21 5zM5514 833l22-5-21-17-22 6zM5493 839l21-6-21-16-22 6zM5471 845l22-6-22-16-21 6zM5449 851l22-6-21-16-22 6zM5428 858l21-7-21-16-21 7zM5406 864l22-6-21-16-22 7zM5384 871l22-7-21-15-22 7zM5363 879l21-8-21-15-21 7zM5341 886l22-7-21-16-22 8zM3764 897l21-21-22-12-21 21zM3829 901l21-20-22-13-21 21zM5233 904l22-9-21-16-22 9zM3915 919l21-20-21-13-21 20zM5211 913l22-9-21-16-22 9zM3980 925l21-20-22-12-21 19zM4045 931l21-19-22-13-21 19zM5125 926l22-10-22-16-21 10zM5060 931l22-11-21-15-22 11zM4110 938l21-18-22-13-21 18zM5038 941l22-10-21-15-22 10zM4282 951l22-17-22-14-21 17zM4930 945l22-11-21-15-22 12zM4974 949l21-12-21-15-22 12zM4390 958l22-17-22-13-21 16zM4433 955l22-16-22-14-21 16zM4822 953l22-13-21-14-22 12zM4866 955l21-12-21-15-22 12zM4585 964l21-15-21-14-22 15zM4628 963l22-14-22-14-22 14zM4671 963l22-14-22-14-21 14zM4714 964l22-14-22-14-21 13z"/>
<path fill="#00d8c6" d="M5493 817l22-6-21-16-22 6zM5471 823l22-6-21-16-22 6zM5450 829l21-6-21-16-21 6zM5428 835l22-6-21-16-22 6zM5407 842l21-7-21-16-22 7zM5385 849l22-7-22-16-21 7zM5363 856l22-7-21-16-22 7zM3785 876l21-20-22-13-21 21zM5234 879l21-8-21-16-22 9zM5212 888l22-9-22-15-21 9zM3936 899l21-19-21-13-21 19zM4001 905l21-19-22-13-21 20zM5125 900l22-9-21-15-22 9zM4066 912l21-18-22-13-21 18zM5061 905l21-10-21-15-22 10zM5039 916l22-11-22-15-22 11zM4239 924l21-17-22-14-21 18zM4974 922l22-11-22-15-22 12zM4347 930l21-16-21-14-22 17zM4866 928l22-12-22-15-22 12zM4455 939l22-16-22-13-22 15zM4498 937l22-15-22-14-21 15zM4541 936l22-15-22-14-21 15zM4585 935l21-14-21-14-22 14zM4628 935l22-14-22-14-22 14zM4714 936l22-14-21-14-22 13zM4758 937l21-13-21-15-22 13zM4671 935l22-14-22-14-21 14z"/>
<path fill="#00d896" d="M3653 802l21-21-22-13-21 21zM5235 808l22-8-22-16-21 8zM3740 818l21-20-22-13-21 21zM5213 816l22-8-21-16-22 8zM3805 823l21-20-22-13-21 20zM5105 836l22-10-22-15-22 9zM4065 849l21-18-22-13-21 18zM5018 850l22-10-22-16-21 11zM4130 858l21-18-22-13-21 17zM4953 856l22-11-22-15-21 11zM4238 863l21-17-21-13-22 16zM4888 863l22-11-22-15-21 11zM4390 868l21-15-22-14-21 16zM4346 870l22-15-22-14-21 16zM4736 867l22-12-21-15-22 13zM4780 869l21-12-21-15-22 13zM4585 878l21-14-21-14-22 14z"/>
<path fill="#00d8b4" d="M3655 835l20-21-22-12-20 21zM3741 851l21-20-22-13-21 21zM5256 847l22-8-22-15-21 8zM5234 855l22-8-21-15-22 8zM5148 866l21-9-21-15-22 9zM3957 880l22-20-22-12-21 19zM5126 876l22-10-22-15-22 9zM4022 886l22-18-22-13-22 18zM5061 880l22-10-22-15-21 10zM4087 894l21-18-21-14-22 19zM5039 890l22-10-21-15-22 10zM4974 896l22-10-21-15-22 10zM4195 897l22-17-22-13-22 17zM4260 907l22-17-22-14-22 17zM4303 903l22-16-22-14-21 17zM4909 904l22-11-21-15-22 11zM4866 901l22-12-22-14-21 11zM4758 909l22-13-22-14-22 13zM4412 912l21-16-22-14-21 16zM4455 910l21-16-21-14-22 16zM4715 908l21-13-21-15-22 14zM4801 911l22-12-22-15-21 12z"/>
<path fill="#00d8d2" d="M3742 885l21-21-22-13-21 21zM5277 887l21-9-21-15-22 8zM5255 895l22-8-22-16-21 8zM3894 906l21-20-22-12-21 20zM5168 906l22-9-21-15-22 9zM3958 912l21-19-22-13-21 19zM4023 918l21-19-22-13-21 19zM5147 916l21-10-21-15-22 9zM5082 920l22-10-22-15-21 10zM4088 925l21-18-22-13-21 18zM4153 933l21-18-22-13-21 18zM4217 942l22-18-22-13-21 17zM4995 937l22-11-21-15-22 11zM4325 947l22-17-22-13-21 17zM4369 944l21-16-22-14-21 16zM4887 943l22-12-21-15-22 12zM4477 953l21-16-21-14-22 16zM4520 951l21-15-21-14-22 15zM4563 950l22-15-22-14-22 15zM4693 949l21-13-21-15-22 14zM4736 950l22-13-22-15-22 14zM4779 951l22-13-22-14-21 13z"/>
<path fill="#00d8e4" d="M3786 910l21-21-22-13-21 21zM3873 927l21-21-22-12-21 20zM5254 919l22-8-21-16-22 9zM3937 932l21-20-22-13-21 20zM5233 928l21-9-21-15-22 9zM4002 938l21-20-22-13-21 20zM4067 944l21-19-22-13-21 19zM5146 941l22-10-21-15-22 10zM5081 946l22-10-21-16-22 11zM4131 951l22-18-22-13-21 18zM4196 959l21-17-21-14-22 18zM5060 957l21-11-21-15-22 10zM4304 964l21-17-21-13-22 17zM4995 964l22-12-22-15-21 12zM4952 960l22-11-22-15-22 11zM4369 974l21-16-21-14-22 17zM4412 971l21-16-21-14-22 17zM4887 969l22-12-22-14-21 12zM4563 979l22-15-22-14-22 15zM4606 978l22-15-22-14-21 15zM4649 978l22-15-21-14-22 14zM4693 978l21-14-21-15-22 14zM4736 978l22-14-22-14-22 14z"/>
<path fill="#00d8ea" d="M3808 922l21-21-22-12-21 21zM3959 945l21-20-22-13-21 20zM5211 937l22-9-22-15-21 9zM4024 951l21-20-22-13-21 20zM5189 947l22-10-21-15-22 9zM5125 951l21-10-21-15-22 10zM4088 957l22-19-22-13-21 19zM4153 965l21-19-21-13-22 18zM4218 973l21-18-22-13-21 17zM4261 968l21-17-21-14-22 18zM5038 967l22-10-22-16-21 11zM4326 978l21-17-22-14-21 17zM4930 972l22-12-22-15-21 12zM4973 975l22-11-21-15-22 11zM4434 985l21-16-22-14-21 16zM4477 982l21-15-21-14-22 16zM4520 980l21-15-21-14-22 16zM4779 979l22-13-22-15-21 13zM4822 980l22-13-22-14-21 13zM4865 982l22-13-21-14-22 12z"/>
<path fill="#00d2ea" d="M3830 935l21-21-22-13-21 21zM3894 939l21-20-21-13-21 21zM3981 957l21-19-22-13-21 20zM4045 963l22-19-22-13-21 20zM5168 956l21-9-21-16-22 10zM5103 961l22-10-22-15-22 10zM4110 970l21-19-21-13-22 19zM4175 978l21-19-22-13-21 19zM5081 972l22-11-22-15-21 11zM4283 982l21-18-22-13-21 17zM5016 979l22-12-21-15-22 12zM4347 991l22-17-22-13-21 17zM4390 988l22-17-22-13-21 16zM4908 984l22-12-21-15-22 12zM4952 987l21-12-21-15-22 12zM4498 996l22-16-22-13-21 15zM4542 994l21-15-22-14-21 15zM4585 993l21-15-21-14-22 15zM4628 992l21-14-21-15-22 15zM4671 992l22-14-22-15-22 15zM4714 992l22-14-22-14-21 14zM4757 992l22-13-21-15-22 14zM4800 993l22-13-21-14-22 13zM4844 995l21-13-21-15-22 13z"/>
<path fill="#00ccea" d="M3852 947l21-20-22-13-21 21zM3916 952l21-20-22-13-21 20zM4003 970l21-19-22-13-21 19zM4067 976l21-19-21-13-22 19zM5146 966l22-10-22-15-21 10zM5124 976l22-10-21-15-22 10zM4132 983l21-18-22-14-21 19zM4197 991l21-18-22-14-21 19zM4240 986l21-18-22-13-21 18zM5059 982l22-10-21-15-22 10zM4304 995l22-17-22-14-21 18zM4995 990l21-11-21-15-22 11zM4412 1001l22-16-22-14-22 17zM4455 998l22-16-22-13-21 16zM4887 997l21-13-21-15-22 13zM4930 999l22-12-22-15-22 12zM4606 1007l22-15-22-14-21 15zM4649 1006l22-14-22-14-21 14zM4736 1006l21-14-21-14-22 14zM4520 1010l22-16-22-14-22 16zM4563 1008l22-15-22-14-21 15zM4693 1006l21-14-21-14-22 14zM4779 1007l21-14-21-14-22 13zM4822 1008l22-13-22-15-22 13z"/>
<path fill="#00c6ea" d="M3873 960l21-21-21-12-21 20zM3938 965l21-20-22-13-21 20zM4024 983l21-20-21-12-21 19zM4089 989l21-19-22-13-21 19zM4154 996l21-18-22-13-21 18zM5102 987l22-11-21-15-22 11zM4261 999l22-17-22-14-21 18zM5038 994l21-12-21-15-22 12zM5081 998l21-11-21-15-22 10zM4326 1008l21-17-21-13-22 17zM4369 1005l21-17-21-14-22 17zM4973 1002l22-12-22-15-21 12zM5016 1005l22-11-22-15-21 11zM4434 1015l21-17-21-13-22 16zM4477 1012l21-16-21-14-22 16zM4908 1011l22-12-22-15-21 13zM4865 1009l22-12-22-15-21 13zM4628 1021l21-15-21-14-22 15zM4671 1020l22-14-22-14-22 14zM4714 1020l22-14-22-14-21 14zM4757 1020l22-13-22-15-21 14z"/>
<path fill="#00c0ea" d="M3895 972l21-20-22-13-21 21zM3960 977l21-20-22-12-21 20zM4111 1002l21-19-22-13-21 19zM4218 1004l22-18-22-13-21 18zM4283 1012l21-17-21-13-22 17zM5059 1009l22-11-22-16-21 12zM4348 1022l21-17-22-14-21 17zM4391 1018l21-17-22-13-21 17zM4951 1014l22-12-21-15-22 12zM4994 1017l22-12-21-15-22 12zM4455 1029l22-17-22-14-21 17zM4498 1026l22-16-22-14-21 16zM4585 1022l21-15-21-14-22 15zM4886 1024l22-13-21-14-22 12zM4542 1024l21-16-21-14-22 16zM4800 1021l22-13-22-15-21 14zM4843 1022l22-13-21-14-22 13z"/>
<path fill="#00baea" d="M3917 985l21-20-22-13-21 20zM3982 990l21-20-22-13-21 20zM4046 996l21-20-22-13-21 20zM4175 1009l22-18-22-13-21 18zM4240 1017l21-18-21-13-22 18zM4305 1026l21-18-22-13-21 17zM5037 1020l22-11-21-15-22 11zM4412 1032l22-17-22-14-21 17zM4930 1026l21-12-21-15-22 12zM4973 1029l21-12-21-15-22 12zM4692 1035l22-15-21-14-22 14zM4520 1040l22-16-22-14-22 16zM4563 1038l22-16-22-14-21 16zM4606 1036l22-15-22-14-21 15zM4649 1035l22-15-22-14-21 15zM4736 1034l21-14-21-14-22 14zM4779 1035l21-14-21-14-22 13zM4865 1037l21-13-21-15-22 13zM4822 1036l21-14-21-14-22 13z"/>
<path fill="#00b4ea" d="M3939 998l21-21-22-12-21 20zM4003 1003l21-20-21-13-21 20zM4068 1009l21-20-22-13-21 20zM4132 1015l22-19-22-13-21 19zM4197 1022l21-18-21-13-22 18zM4262 1030l21-18-22-13-21 18zM4326 1039l22-17-22-14-21 18zM4369 1035l22-17-22-13-21 17zM5016 1031l21-11-21-15-22 12zM4951 1041l22-12-22-15-21 12zM4434 1045l21-16-21-14-22 17zM4477 1042l21-16-21-14-22 17zM4908 1039l22-13-22-15-22 13zM4671 1049l21-14-21-15-22 15zM4714 1049l22-15-22-14-22 15zM4800 1049l22-13-22-15-21 14zM4585 1052l21-16-21-14-22 16zM4628 1050l21-15-21-14-22 15zM4757 1049l22-14-22-15-21 14zM4843 1050l22-13-22-15-21 14z"/>
<path fill="#00aeea" d="M3961 1010l21-20-22-13-21 21zM4025 1016l21-20-22-13-21 20zM4090 1021l21-19-22-13-21 20zM4154 1028l21-19-21-13-22 19zM4219 1036l21-19-22-13-21 18zM4283 1044l22-18-22-14-21 18zM4391 1049l21-17-21-14-22 17zM4348 1053l21-18-21-13-22 17zM4994 1043l22-12-22-14-21 12zM4542 1053l21-15-21-14-22 16zM4929 1053l22-12-21-15-22 13zM4456 1059l21-17-22-13-21 16zM4499 1056l21-16-22-14-21 16zM4886 1051l22-12-22-15-21 13zM4649 1064l22-15-22-14-21 15zM4692 1063l22-14-22-14-21 14zM4735 1063l22-14-21-15-22 15zM4778 1063l22-14-21-14-22 14z"/>
<path fill="#00a8ea" d="M3982 1023l21-20-21-13-21 20zM4047 1028l21-19-22-13-21 20zM4111 1034l21-19-21-13-21 19zM4176 1041l21-19-22-13-21 19zM4240 1049l22-19-22-13-21 19zM4305 1057l21-18-21-13-22 18zM4412 1062l22-17-22-13-21 17zM4972 1055l22-12-21-14-22 12zM4520 1070l22-17-22-13-21 16zM4563 1067l22-15-22-14-21 15zM4821 1064l22-14-21-14-22 13zM4908 1066l21-13-21-14-22 12zM4606 1065l22-15-22-14-21 16zM4865 1065l21-14-21-14-22 13z"/>
<path fill="#00a2ea" d="M4004 1036l21-20-22-13-21 20zM4068 1041l22-20-22-12-21 19zM4133 1047l21-19-22-13-21 19zM4197 1054l22-18-22-14-21 19zM4262 1062l21-18-21-14-22 19zM4370 1066l21-17-22-14-21 18zM4327 1070l21-17-22-14-21 18zM4434 1076l22-17-22-14-22 17zM4951 1068l21-13-21-14-22 12zM4477 1072l22-16-22-14-21 17zM4542 1083l21-16-21-14-22 17zM4585 1081l21-16-21-13-22 15zM4628 1079l21-15-21-14-22 15zM4671 1078l21-15-21-14-22 15zM4714 1077l21-14-21-14-22 14zM4757 1077l21-14-21-14-22 14zM4800 1077l21-13-21-15-22 14zM4843 1078l22-13-22-15-22 14zM4886 1079l22-13-22-15-21 14z"/>
<path fill="#009cea" d="M4026 1048l21-20-22-12-21 20zM4090 1054l21-20-21-13-22 20zM4155 1060l21-19-22-13-21 19zM4219 1067l21-18-21-13-22 18zM4284 1075l21-18-22-13-21 18zM4348 1084l22-18-22-13-21 17zM4391 1079l21-17-21-13-21 17zM4456 1089l21-17-21-13-22 17zM4499 1086l21-16-21-14-22 16zM4929 1081l22-13-22-15-21 13zM4606 1095l22-16-22-14-21 16zM4778 1091l22-14-22-14-21 14zM4649 1093l22-15-22-14-21 15zM4692 1092l22-15-22-14-21 15zM4735 1092l22-15-22-14-21 14zM4821 1092l22-14-22-14-21 13zM4864 1092l22-13-21-14-22 13z"/>
<path fill="#0096ea" d="M4047 1061l21-20-21-13-21 20zM4112 1067l21-20-22-13-21 20zM4176 1073l21-19-21-13-21 19zM4241 1080l21-18-22-13-21 18zM4305 1088l22-18-22-13-21 18zM4413 1093l21-17-22-14-21 17zM4477 1103l22-17-22-14-21 17zM4520 1100l22-17-22-13-21 16zM4563 1097l22-16-22-14-21 16zM4907 1094l22-13-21-15-22 13zM4757 1106l21-15-21-14-22 15zM4800 1106l21-14-21-15-22 14zM4671 1107l21-15-21-14-22 15zM4714 1106l21-14-21-15-22 15zM4843 1106l21-14-21-14-22 14z"/>
<path fill="#0090ea" d="M4069 1074l21-20-22-13-21 20zM4133 1080l22-20-22-13-21 20zM4198 1086l21-19-22-13-21 19zM4262 1094l22-19-22-13-21 18zM4327 1102l21-18-21-14-22 18zM4370 1097l21-18-21-13-22 18zM4434 1106l22-17-22-13-21 17zM4585 1111l21-16-21-14-22 16zM4628 1109l21-16-21-14-22 16zM4886 1107l21-13-21-15-22 13zM4542 1113l21-16-21-14-22 17z"/>
<path fill="#008aea" d="M4091 1087l21-20-22-13-21 20zM4155 1093l21-20-21-13-22 20zM4220 1099l21-19-22-13-21 19zM4284 1107l21-19-21-13-22 19zM4348 1115l22-18-22-13-21 18zM4391 1110l22-17-22-14-21 18zM4456 1120l21-17-21-14-22 17zM4499 1116l21-16-21-14-22 17zM4821 1120l22-14-22-14-21 14zM4563 1127l22-16-22-14-21 16zM4606 1125l22-16-22-14-21 16zM4649 1123l22-16-22-14-21 16zM4735 1120l22-14-22-14-21 14zM4778 1120l22-14-22-15-21 15zM4864 1121l22-14-22-15-21 14zM4692 1121l22-15-22-14-21 15z"/>
<path fill="#0084ea" d="M4112 1099l21-19-21-13-21 20zM4177 1105l21-19-22-13-21 20zM4241 1112l21-18-21-14-21 19zM4306 1120l21-18-22-14-21 19zM4413 1124l21-18-21-13-22 17zM4477 1133l22-17-22-13-21 17zM4520 1130l22-17-22-13-21 16zM4671 1137l21-16-21-14-22 16zM4799 1134l22-14-21-14-22 14zM4842 1134l22-13-21-15-22 14zM4628 1139l21-16-21-14-22 16zM4713 1135l22-15-21-14-22 15zM4756 1135l22-15-21-14-22 14z"/>
<path fill="#007eea" d="M4134 1112l21-19-22-13-21 19zM4198 1118l22-19-22-13-21 19zM4263 1125l21-18-22-13-21 18zM4327 1133l21-18-21-13-21 18zM4370 1128l21-18-21-13-22 18zM4434 1137l22-17-22-14-21 18zM4542 1144l21-17-21-14-22 17zM4499 1147l21-17-21-14-22 17zM4585 1141l21-16-21-14-22 16zM4649 1152l22-15-22-14-21 16zM4692 1151l21-16-21-14-21 16zM4778 1149l21-15-21-14-22 15zM4821 1149l21-15-21-14-22 14zM4735 1150l21-15-21-15-22 15z"/>
<path fill="#0078ea" d="M4156 1125l21-20-22-12-21 19zM4220 1131l21-19-21-13-22 19zM4284 1138l22-18-22-13-21 18zM4349 1146l21-18-22-13-21 18zM4391 1141l22-17-22-14-21 18zM4456 1151l21-18-21-13-22 17zM4563 1157l22-16-22-14-21 17zM4606 1155l22-16-22-14-21 16zM4713 1165l22-15-22-15-21 16zM4756 1164l22-15-22-14-21 15zM4799 1163l22-14-22-15-21 15z"/>
<path fill="#0072ea" d="M4177 1138l21-20-21-13-21 20zM4241 1144l22-19-22-13-21 19zM4306 1152l21-19-21-13-22 18zM4413 1155l21-18-21-13-22 17zM4520 1160l22-16-22-14-21 17zM4477 1164l22-17-22-14-21 18zM4585 1171l21-16-21-14-22 16zM4627 1168l22-16-21-13-22 16zM4670 1166l22-15-21-14-22 15z"/>
<path fill="#006cea" d="M4199 1151l21-20-22-13-21 20zM4263 1157l21-19-21-13-22 19zM4327 1165l22-19-22-13-21 19zM4370 1159l21-18-21-13-21 18zM4434 1168l22-17-22-14-21 18zM4499 1177l21-17-21-13-22 17zM4542 1174l21-17-21-13-22 16zM4735 1179l21-15-21-14-22 15zM4649 1182l21-16-21-14-22 16zM4692 1180l21-15-21-14-22 15zM4778 1178l21-15-21-14-22 15z"/>
<path fill="#0066ea" d="M4220 1164l21-20-21-13-21 20zM4285 1170l21-18-22-14-21 19zM4392 1173l21-18-22-14-21 18zM4349 1178l21-19-21-13-22 19zM4456 1181l21-17-21-13-22 17zM4606 1185l21-17-21-13-21 16zM4520 1191l22-17-22-14-21 17zM4563 1188l22-17-22-14-21 17zM4756 1193l22-15-22-14-21 15zM4713 1194l22-15-22-14-21 15zM4670 1196l22-16-22-14-21 16z"/>
<path fill="#0060ea" d="M4242 1177l21-20-22-13-21 20zM4306 1183l21-18-21-13-21 18zM4370 1191l22-18-22-14-21 19zM4413 1186l21-18-21-13-21 18zM4477 1195l22-18-22-13-21 17zM4627 1198l22-16-22-14-21 17zM4585 1201l21-16-21-14-22 17zM4735 1208l21-15-21-14-22 15z"/>
<path fill="#005aea" d="M4263 1190l22-20-22-13-21 20zM4328 1197l21-19-22-13-21 18zM4435 1199l21-18-22-13-21 18zM4499 1208l21-17-21-14-22 18zM4542 1205l21-17-21-14-22 17zM4606 1215l21-17-21-13-21 16zM4649 1212l21-16-21-14-22 16zM4692 1210l21-16-21-14-22 16z"/>
<path fill="#0054ea" d="M4285 1203l21-20-21-13-22 20zM4349 1210l21-19-21-13-21 19zM4392 1204l21-18-21-13-22 18zM4456 1213l21-18-21-14-21 18zM4520 1222l22-17-22-14-21 17zM4563 1218l22-17-22-13-21 17zM4670 1226l22-16-22-14-21 16zM4627 1229l22-17-22-14-21 17zM4713 1224l22-16-22-14-21 16z"/>
<path fill="#004eea" d="M4306 1216l22-19-22-14-21 20zM4371 1223l21-19-22-13-21 19zM4413 1217l22-18-22-13-21 18zM4478 1226l21-18-22-13-21 18zM4542 1235l21-17-21-13-22 17zM4585 1232l21-17-21-14-22 17zM4692 1240l21-16-21-14-22 16z"/>
<path fill="#0048ea" d="M4328 1229l21-19-21-13-22 19zM4435 1231l21-18-21-14-22 18zM4499 1239l21-17-21-14-21 18zM4606 1245l21-16-21-14-21 17zM4649 1242l21-16-21-14-22 17z"/>
<path fill="#0042ea" d="M4349 1242l22-19-22-13-21 19zM4392 1236l21-19-21-13-21 19zM4456 1244l22-18-22-13-21 18zM4520 1253l22-18-22-13-21 17zM4563 1249l22-17-22-14-21 17zM4627 1259l22-17-22-13-21 16zM4670 1256l22-16-22-14-21 16z"/>
<path fill="#003cea" d="M4413 1249l22-18-22-14-21 19zM4371 1255l21-19-21-13-22 19zM4478 1257l21-18-21-13-22 18zM4542 1266l21-17-21-14-22 18zM4584 1262l22-17-21-13-22 17zM4649 1273l21-17-21-14-22 17z"/>
<path fill="#0036ea" d="M4392 1268l21-19-21-13-21 19zM4435 1262l21-18-21-13-22 18zM4499 1271l21-18-21-14-21 18zM4563 1280l21-18-21-13-21 17zM4606 1276l21-17-21-14-22 17z"/>
<path fill="#0030ea" d="M4414 1281l21-19-22-13-21 19zM4456 1275l22-18-22-13-21 18zM4520 1284l22-18-22-13-21 18zM4584 1293l22-17-22-14-21 18zM4627 1289l22-16-22-14-21 17z"/>
<path fill="#0024ea" d="M4435 1294l21-19-21-13-21 19zM4499 1302l21-18-21-13-21 18zM4563 1311l21-18-21-13-21 17z"/>
<path fill="#002aea" d="M4478 1289l21-18-21-14-22 18zM4542 1297l21-17-21-14-22 18zM4606 1307l21-18-21-13-22 17z"/>
<path fill="#001eea" d="M4456 1307l22-18-22-14-21 19zM4520 1315l22-18-22-13-21 18zM4584 1324l22-17-22-14-21 18z"/>
<path fill="#0018ea" d="M4478 1320l21-18-21-13-22 18zM4542 1329l21-18-21-14-22 18z"/>
<path fill="#0012ea" d="M4499 1333l21-18-21-13-21 18zM4563 1342l21-18-21-13-21 18z"/>
<path fill="#000cea" d="M4520 1347l22-18-22-14-21 18z"/>
<path fill="#0006ea" d="M4542 1360l21-18-21-13-22 18z"/>
</g>
<ellipse cx="346.0" cy="75.7" rx="1.9" ry="1.5" fill="#f6c4c4" stroke="#b55" stroke-width=".45"/>
<ellipse cx="402.0" cy="27.5" rx="1.9" ry="1.5" fill="#e60000" stroke="#900" stroke-width=".4"/>
<ellipse cx="397.0" cy="101.5" rx="1.9" ry="1.5" fill="#e60000" stroke="#900" stroke-width=".4"/>
<ellipse cx="454.2" cy="136.5" rx="1.9" ry="1.5" fill="#e60000" stroke="#900" stroke-width=".4"/>
<ellipse cx="562.0" cy="80.5" rx="1.9" ry="1.5" fill="#e60000" stroke="#900" stroke-width=".4"/>
<ellipse cx="506.0" cy="42.0" rx="1.9" ry="1.5" fill="#f6c4c4" stroke="#b55" stroke-width=".45"/>
<ellipse cx="454.4" cy="61.8" rx="1.9" ry="1.5" fill="#f6c4c4" stroke="#b55" stroke-width=".45"/>
<ellipse cx="454.4" cy="58.5" rx="1.9" ry="1.5" fill="#e60000" stroke="#900" stroke-width=".4"/>
<text x="299.5" y="22.7" font-size="21" class="b">b)</text>
<text x="338.5" y="29.4" font-size="7.1" text-anchor="end">800</text>
<text x="339.6" y="49.3" font-size="7.1" text-anchor="end">732.5</text>
<text x="339.6" y="69.4" font-size="7.1" text-anchor="end">665</text>
<text x="340.6" y="89.6" font-size="7.1" text-anchor="end">597.5</text>
<text x="341.3" y="110.1" font-size="7.1" text-anchor="end">530</text>
<text x="313.8" y="95.9" font-size="10.5" textLength="35.4" lengthAdjust="spacingAndGlyphs" class="t" transform="rotate(-90 313.8 95.9)">HV0.05</text>
<text x="342.4" y="135.0" font-size="7.1" text-anchor="middle">20</text>
<text x="368.5" y="145.0" font-size="7.1" text-anchor="middle">19</text>
<text x="394.2" y="153.8" font-size="7.1" text-anchor="middle">18</text>
<text x="420.7" y="163.3" font-size="7.1" text-anchor="middle">17</text>
<text x="447.0" y="172.3" font-size="7.1" text-anchor="middle">16</text>
<text x="460.2" y="172.5" font-size="7.1" text-anchor="middle">1</text>
<text x="489.2" y="163.3" font-size="7.1" text-anchor="middle">1.5</text>
<text x="512.5" y="153.8" font-size="7.1" text-anchor="middle">2</text>
<text x="542.0" y="144.7" font-size="7.1" text-anchor="middle">2.5</text>
<text x="564.5" y="135.3" font-size="7.1" text-anchor="middle">3</text>
<text x="313.8" y="167.6" font-size="11" textLength="95.0" lengthAdjust="spacingAndGlyphs" class="t">Nickel Sulphate (g/l)</text>
<text x="497.0" y="167.6" font-size="11" textLength="101.0" lengthAdjust="spacingAndGlyphs" class="t">Calcium Bromide (g/l)</text>
<!-- panel c -->
<path d="M38.7 207.7 L148.2 193.3 L258.4 208.0 L253.7 321.4 M148.2 193.3 L149.2 294.9" fill="none" stroke="#555" stroke-width=".55"/>
<clipPath id="fcc"><path d="M149.2 354.2 L253.7 321.4 L149.2 294.9 L44.5 321.2Z"/></clipPath>
<path d="M149.2 354.2 L253.7 321.4 L149.2 294.9 L44.5 321.2Z" fill="#ff0"/>
<g clip-path="url(#fcc)" fill="none" stroke-width=".8" stroke-opacity=".85">
<path d="M102.0 298.3 L204.0 307.4" stroke="#20e0c0"/>
<path d="M82.0 305.8 L261.0 322.5" stroke="#30e080"/>
<path d="M58.0 313.6 L236.0 330.2" stroke="#40e040"/>
<path d="M36.0 320.1 L209.0 338.9" stroke="#50e020"/>
<path d="M72.1 334.1 L182.9 346.9" stroke="#60e010"/>
</g>
<path d="M44.5 321.2 L149.2 294.9 L253.7 321.4" fill="none" stroke="#444" stroke-width=".7"/>
<path d="M44.5 321.2 L149.2 354.2 L253.7 321.4" fill="none" stroke="#000" stroke-width=".65"/>
<circle cx="149.2" cy="354.2" r=".8"/>
<circle cx="149.2" cy="354.2" r=".8"/>
<circle cx="123.0" cy="345.9" r=".8"/>
<circle cx="175.3" cy="346.0" r=".8"/>
<circle cx="96.8" cy="337.7" r=".8"/>
<circle cx="201.4" cy="337.8" r=".8"/>
<circle cx="70.7" cy="329.4" r=".8"/>
<circle cx="227.6" cy="329.6" r=".8"/>
<circle cx="44.5" cy="321.2" r=".8"/>
<circle cx="253.7" cy="321.4" r=".8"/>
<path d="M38.7 207.7 L44.5 321.2" fill="none" stroke="#111" stroke-width=".6"/>
<circle cx="38.7" cy="208.5" r=".8"/>
<circle cx="39.8" cy="229.5" r=".8"/>
<circle cx="40.9" cy="251.0" r=".8"/>
<circle cx="42.0" cy="272.0" r=".8"/>
<circle cx="43.1" cy="293.5" r=".8"/>
<ellipse cx="148.2" cy="226.4" rx="1.9" ry="1.5" fill="#e60000" stroke="#900" stroke-width=".4"/>
<path d="M98.0 256.5L98.0 252.0" stroke="#777" stroke-width=".7"/><ellipse cx="98.0" cy="256.5" rx="1.9" ry="1.5" fill="#f6c4c4" stroke="#b55" stroke-width=".45"/>
<g transform="scale(.1)" stroke="#000" stroke-width="1.7" stroke-linejoin="round">
<path fill="#783600" d="M1486 2352l22-2-22-7-21 2zM1465 2353l21-1-21-7-22 2zM1508 2358l21-1-21-7-22 2z"/>
<path fill="#7e3c00" d="M1443 2355l22-2-22-6-22 1zM1421 2357l22-2-22-7-21 2zM1465 2361l21-1-21-7-22 2zM1400 2358l21-1-21-7-22 2z"/>
<path fill="#783c00" d="M1486 2360l22-2-22-6-21 1zM1529 2365l22-2-22-6-21 1zM1508 2366l21-1-21-7-22 2z"/>
<path fill="#784200" d="M1551 2371l21-1-21-7-22 2zM1486 2368l22-2-22-6-21 1zM1529 2373l22-2-22-6-21 1zM1572 2378l22-2-22-6-21 1z"/>
<path fill="#7e4200" d="M1443 2363l22-2-22-6-22 2zM1422 2365l21-2-22-6-21 1zM1465 2370l21-2-21-7-22 2z"/>
<path fill="#844200" d="M1378 2360l22-2-22-6-21 1zM1357 2361l21-1-21-7-22 2z"/>
<path fill="#784800" d="M1508 2374l21-1-21-7-22 2zM1551 2379l21-1-21-7-22 2zM1594 2384l22-2-22-6-22 2zM1529 2381l22-2-22-6-21 1z"/>
<path fill="#7e4800" d="M1486 2376l22-2-22-6-21 2zM1443 2371l22-1-22-7-21 2zM1465 2377l21-1-21-6-22 1zM1422 2373l21-2-21-6-22 1z"/>
<path fill="#844800" d="M1400 2366l22-1-22-7-22 2zM1335 2363l22-2-22-6-21 2zM1378 2368l22-2-22-6-21 1z"/>
<path fill="#784e00" d="M1573 2386l21-2-22-6-21 1zM1616 2390l21-1-21-7-22 2zM1594 2392l22-2-22-6-21 2z"/>
<path fill="#7e4e00" d="M1508 2382l21-1-21-7-22 2zM1551 2387l22-1-22-7-22 2zM1443 2379l22-2-22-6-21 2zM1486 2384l22-2-22-6-21 1zM1530 2389l21-2-22-6-21 1z"/>
<path fill="#785400" d="M1637 2397l22-2-22-6-21 1zM1659 2403l21-2-21-6-22 2zM1616 2398l21-1-21-7-22 2z"/>
<path fill="#8a4800" d="M1314 2365l21-2-21-6-22 1z"/>
<path fill="#844e00" d="M1357 2369l21-1-21-7-22 2zM1400 2374l22-1-22-7-22 2zM1422 2380l21-1-21-6-22 1zM1379 2376l21-2-22-6-21 1z"/>
<path fill="#7e5400" d="M1573 2393l21-1-21-6-22 1zM1465 2385l21-1-21-7-22 2zM1508 2390l22-1-22-7-22 2zM1551 2395l22-2-22-6-21 2zM1594 2400l22-2-22-6-21 1zM1443 2387l22-2-22-6-21 1zM1486 2392l22-2-22-6-21 1z"/>
<path fill="#8a4e00" d="M1292 2366l22-1-22-7-21 2zM1335 2371l22-2-22-6-21 2zM1271 2368l21-2-21-6-22 1z"/>
<path fill="#785a00" d="M1637 2404l22-1-22-6-21 1zM1680 2409l22-1-22-7-21 2zM1659 2411l21-2-21-6-22 1z"/>
<path fill="#8a5400" d="M1314 2372l21-1-21-6-22 1zM1292 2374l22-2-22-6-21 2zM1335 2379l22-2-22-6-21 1z"/>
<path fill="#845400" d="M1357 2377l22-1-22-7-22 2zM1400 2382l22-2-22-6-21 2z"/>
<path fill="#7e5a00" d="M1530 2396l21-1-21-6-22 1zM1573 2401l21-1-21-7-22 2zM1616 2406l21-2-21-6-22 2zM1465 2393l21-1-21-7-22 2zM1508 2398l22-2-22-6-22 2zM1551 2402l22-1-22-6-21 1zM1487 2399l21-1-22-6-21 1z"/>
<path fill="#786000" d="M1702 2415l21-1-21-6-22 1zM1723 2421l22-1-22-6-21 1z"/>
<path fill="#845a00" d="M1379 2383l21-1-21-6-22 1zM1422 2388l21-1-21-7-22 2zM1400 2390l22-2-22-6-21 1zM1443 2394l22-1-22-6-21 1z"/>
<path fill="#7e6000" d="M1594 2407l22-1-22-6-21 1zM1637 2412l22-1-22-7-21 2zM1680 2417l22-2-22-6-21 2zM1573 2409l21-2-21-6-22 1zM1616 2413l21-1-21-6-22 1zM1530 2404l21-2-21-6-22 2zM1551 2410l22-1-22-7-21 2zM1465 2401l22-2-22-6-22 1zM1508 2405l22-1-22-6-21 1z"/>
<path fill="#905400" d="M1249 2369l22-1-22-7-22 2zM1227 2371l22-2-22-6-21 2z"/>
<path fill="#8a5a00" d="M1357 2385l22-2-22-6-22 2zM1314 2380l21-1-21-7-22 2zM1292 2382l22-2-22-6-21 2z"/>
<path fill="#905a00" d="M1271 2376l21-2-21-6-22 1zM1206 2372l21-1-21-6-22 1zM1249 2377l22-1-22-7-22 2z"/>
<path fill="#7e6600" d="M1659 2418l21-1-21-6-22 1zM1702 2423l21-2-21-6-22 2zM1594 2415l22-2-22-6-21 2zM1637 2419l22-1-22-6-21 1zM1680 2424l22-1-22-6-21 1zM1530 2411l21-1-21-6-22 1zM1573 2416l21-1-21-6-22 1zM1487 2407l21-2-21-6-22 2zM1508 2413l22-2-22-6-21 2z"/>
<path fill="#786600" d="M1745 2427l21-1-21-6-22 1z"/>
<path fill="#8a6000" d="M1336 2386l21-1-22-6-21 1zM1314 2388l22-2-22-6-22 2zM1357 2393l22-2-22-6-21 1z"/>
<path fill="#846000" d="M1379 2391l21-1-21-7-22 2zM1422 2396l21-2-21-6-22 2zM1400 2397l22-1-22-6-21 1z"/>
<path fill="#7e6c00" d="M1723 2429l22-2-22-6-21 2zM1616 2421l21-2-21-6-22 2zM1659 2426l21-2-21-6-22 1zM1702 2430l21-1-21-6-22 1zM1745 2435l22-2-22-6-22 2zM1551 2418l22-2-22-6-21 1zM1594 2422l22-1-22-6-21 1zM1637 2427l22-1-22-7-21 2zM1681 2432l21-2-22-6-21 2zM1487 2414l21-1-21-6-22 1zM1530 2419l21-1-21-7-22 2zM1573 2424l21-2-21-6-22 2z"/>
<path fill="#786c00" d="M1767 2433l21-1-22-6-21 1zM1788 2439l21-1-21-6-21 1z"/>
<path fill="#846600" d="M1443 2402l22-1-22-7-21 2zM1422 2403l21-1-21-6-22 1zM1465 2408l22-1-22-6-22 1z"/>
<path fill="#966000" d="M1184 2374l22-2-22-6-21 2zM1163 2375l21-1-21-6-22 1zM1206 2380l22-1-22-7-22 2z"/>
<path fill="#906000" d="M1228 2379l21-2-22-6-21 1zM1271 2383l21-1-21-6-22 1z"/>
<path fill="#906600" d="M1292 2389l22-1-22-6-21 1zM1249 2385l22-2-22-6-21 2zM1271 2391l21-2-21-6-22 2zM1228 2386l21-1-21-6-22 1z"/>
<path fill="#8a6600" d="M1336 2394l21-1-21-7-22 2zM1379 2399l21-2-21-6-22 2z"/>
<path fill="#787200" d="M1810 2445l21-1-22-6-21 1z"/>
<path fill="#7e7200" d="M1724 2436l21-1-22-6-21 1zM1767 2441l21-2-21-6-22 2zM1616 2428l21-1-21-6-22 1zM1659 2433l22-1-22-6-22 1zM1702 2438l22-2-22-6-21 2zM1745 2442l22-1-22-6-21 1zM1551 2425l22-1-22-6-21 1zM1595 2430l21-2-22-6-21 2zM1638 2434l21-1-22-6-21 1z"/>
<path fill="#966600" d="M1141 2377l22-2-22-6-22 2zM1184 2381l22-1-22-6-21 1z"/>
<path fill="#8a6c00" d="M1314 2395l22-1-22-6-22 1zM1357 2400l22-1-22-6-21 1zM1336 2402l21-2-21-6-22 1zM1379 2406l21-1-21-6-22 1z"/>
<path fill="#846c00" d="M1400 2405l22-2-22-6-21 2zM1444 2410l21-2-22-6-21 1zM1422 2411l22-1-22-7-22 2zM1465 2416l22-2-22-6-21 2z"/>
<path fill="#7e7800" d="M1788 2447l22-2-22-6-21 2zM1831 2451l22-1-22-6-21 1zM1681 2439l21-1-21-6-22 1zM1724 2444l21-2-21-6-22 2zM1767 2448l21-1-21-6-22 1zM1810 2453l21-2-21-6-22 2zM1853 2457l21-1-21-6-22 1zM1573 2431l22-1-22-6-22 1zM1616 2436l22-2-22-6-21 2zM1659 2440l22-1-22-6-21 1zM1702 2445l22-1-22-6-21 1zM1595 2437l21-1-21-6-22 1z"/>
<path fill="#9c6600" d="M1119 2378l22-1-22-6-21 1z"/>
<path fill="#966c00" d="M1163 2383l21-2-21-6-22 2zM1206 2388l22-2-22-6-22 1zM1184 2389l22-1-22-7-21 2z"/>
<path fill="#906c00" d="M1249 2392l22-1-22-6-21 1zM1292 2397l22-2-22-6-21 2z"/>
<path fill="#847200" d="M1508 2420l22-1-22-6-21 1zM1444 2417l21-1-21-6-22 1zM1487 2422l21-2-21-6-22 2zM1530 2426l21-1-21-6-22 1z"/>
<path fill="#9c6c00" d="M1098 2380l21-2-21-6-22 2zM1141 2384l22-1-22-6-22 1z"/>
<path fill="#967200" d="M1228 2394l21-2-21-6-22 2zM1163 2390l21-1-21-6-22 1zM1206 2395l22-1-22-6-22 1z"/>
<path fill="#907200" d="M1271 2398l21-1-21-6-22 1zM1314 2403l22-1-22-7-22 2zM1249 2400l22-2-22-6-21 2zM1293 2404l21-1-22-6-21 1z"/>
<path fill="#8a7200" d="M1357 2408l22-2-22-6-21 2zM1400 2412l22-1-22-6-21 1z"/>
<path fill="#7e7e00" d="M1745 2449l22-1-22-6-21 2zM1788 2454l22-1-22-6-21 1zM1638 2442l21-2-21-6-22 2zM1681 2446l21-1-21-6-22 1zM1724 2451l21-2-21-5-22 1zM1767 2455l21-1-21-6-22 1zM1659 2447l22-1-22-6-21 2zM1702 2452l22-1-22-6-21 1zM1681 2453l21-1-21-6-22 1z"/>
<path fill="#787e00" d="M1831 2458l22-1-22-6-21 2zM1874 2463l22-1-22-6-21 1zM1810 2460l21-2-21-5-22 1zM1853 2464l21-1-21-6-22 1zM1745 2457l22-2-22-6-21 2zM1788 2461l22-1-22-6-21 1zM1724 2458l21-1-21-6-22 1zM1767 2462l21-1-21-6-22 2zM1659 2455l22-2-22-6-21 2zM1702 2459l22-1-22-6-21 1zM1681 2460l21-1-21-6-22 2z"/>
<path fill="#a26c00" d="M1076 2381l22-1-22-6-21 1z"/>
<path fill="#9c7200" d="M1120 2386l21-2-22-6-21 2zM1098 2387l22-1-22-6-22 1z"/>
<path fill="#8a7800" d="M1336 2409l21-1-21-6-22 1zM1379 2414l21-2-21-6-22 2zM1357 2415l22-1-22-6-21 1zM1401 2420l21-2-22-6-21 2z"/>
<path fill="#847800" d="M1422 2418l22-1-22-6-22 1zM1465 2423l22-1-22-6-21 1zM1508 2428l22-2-22-6-21 2zM1551 2432l22-1-22-6-21 1zM1444 2424l21-1-21-6-22 1zM1487 2429l21-1-21-6-22 1z"/>
<path fill="#727800" d="M1896 2469l21-2-21-5-22 1zM1917 2474l22-1-22-6-21 2z"/>
<path fill="#a27200" d="M1055 2383l21-2-21-6-22 2z"/>
<path fill="#9c7800" d="M1141 2392l22-2-22-6-21 2zM1120 2393l21-1-21-6-22 1zM1163 2398l21-2-21-6-22 2z"/>
<path fill="#967800" d="M1184 2396l22-1-22-6-21 1zM1228 2401l21-1-21-6-22 1z"/>
<path fill="#907800" d="M1271 2406l22-2-22-6-22 2zM1314 2410l22-1-22-6-21 1z"/>
<path fill="#847e00" d="M1530 2434l21-2-21-6-22 2zM1573 2438l22-1-22-6-22 1zM1616 2443l22-1-22-6-21 1zM1465 2430l22-1-22-6-21 1zM1508 2435l22-1-22-6-21 1zM1552 2440l21-2-22-6-21 2z"/>
<path fill="#727e00" d="M1831 2466l22-2-22-6-21 2zM1874 2470l22-1-22-6-21 1zM1810 2467l21-1-21-6-22 1zM1853 2471l21-1-21-6-22 2zM1745 2464l22-2-22-5-21 1zM1788 2468l22-1-22-6-21 1zM1724 2465l21-1-21-6-22 1zM1767 2469l21-1-21-6-22 2zM1702 2466l22-1-22-6-21 1z"/>
<path fill="#a27800" d="M1033 2384l22-1-22-6-22 1zM1076 2389l22-2-22-6-21 2z"/>
<path fill="#967e00" d="M1206 2402l22-1-22-6-22 1zM1249 2407l22-1-22-6-21 1zM1185 2404l21-2-22-6-21 2zM1228 2408l21-1-21-6-22 1z"/>
<path fill="#907e00" d="M1293 2412l21-2-21-6-22 2zM1336 2416l21-1-21-6-22 1z"/>
<path fill="#8a7e00" d="M1379 2421l22-1-22-6-22 1zM1422 2426l22-2-22-6-21 2z"/>
<path fill="#848400" d="M1595 2444l21-1-21-6-22 1zM1444 2432l21-2-21-6-22 2zM1487 2436l21-1-21-6-22 1zM1530 2441l22-1-22-6-22 1zM1465 2437l22-1-22-6-21 2zM1509 2442l21-1-22-6-21 1z"/>
<path fill="#7e8400" d="M1638 2449l21-2-21-5-22 1zM1573 2445l22-1-22-6-21 2zM1616 2450l22-1-22-6-21 1zM1552 2447l21-2-21-5-22 1zM1487 2443l22-1-22-6-22 1zM1530 2448l22-1-22-6-21 1zM1465 2445l22-2-22-6-21 2z"/>
<path fill="#6c7e00" d="M1896 2476l21-2-21-5-22 1zM1831 2473l22-2-22-5-21 1zM1874 2477l22-1-22-6-21 1zM1917 2481l22-1-22-6-21 2zM1810 2474l21-1-21-6-22 1zM1853 2478l21-1-21-6-22 2zM1745 2471l22-2-22-5-21 1zM1788 2475l22-1-22-6-21 1zM1724 2472l21-1-21-6-22 1zM1767 2476l21-1-21-6-22 2zM1703 2473l21-1-22-6-21 1z"/>
<path fill="#6c7800" d="M1939 2480l21-1-21-6-22 1z"/>
<path fill="#a87800" d="M1011 2386l22-2-22-6-21 2z"/>
<path fill="#a27e00" d="M1055 2390l21-1-21-6-22 1zM1098 2395l22-2-22-6-22 2zM1033 2391l22-1-22-6-22 2zM1076 2396l22-1-22-6-21 1z"/>
<path fill="#9c7e00" d="M1141 2399l22-1-22-6-21 1z"/>
<path fill="#908400" d="M1271 2413l22-1-22-6-22 1zM1314 2418l22-2-22-6-21 2zM1293 2419l21-1-21-6-22 1zM1336 2424l21-2-21-6-22 2z"/>
<path fill="#8a8400" d="M1357 2422l22-1-22-6-21 1zM1401 2427l21-1-21-6-22 1zM1379 2428l22-1-22-6-22 1zM1422 2433l22-1-22-6-21 1z"/>
<path fill="#667800" d="M1960 2486l22-2-22-5-21 1z"/>
<path fill="#a87e00" d="M990 2387l21-1-21-6-22 1z"/>
<path fill="#9c8400" d="M1120 2401l21-2-21-6-22 2zM1163 2405l22-1-22-6-22 1z"/>
<path fill="#968400" d="M1206 2410l22-2-22-6-21 2zM1249 2414l22-1-22-6-21 1z"/>
<path fill="#788400" d="M1595 2451l21-1-21-6-22 1zM1638 2456l21-1-21-6-22 1zM1573 2453l22-2-22-6-21 2zM1616 2457l22-1-22-6-21 1zM1509 2449l21-1-21-6-22 1zM1552 2454l21-1-21-6-22 1zM1487 2450l22-1-22-6-22 2zM1530 2455l22-1-22-6-21 1zM1466 2452l21-2-22-5-21 1z"/>
<path fill="#667e00" d="M1896 2483l21-2-21-5-22 1zM1939 2487l21-1-21-6-22 1zM1831 2480l22-2-22-5-21 1zM1874 2484l22-1-22-6-21 1zM1917 2488l22-1-22-6-21 2zM1810 2481l21-1-21-6-22 1zM1853 2485l21-1-21-6-22 2zM1746 2478l21-2-22-5-21 1zM1789 2482l21-1-22-6-21 1zM1724 2479l22-1-22-6-21 1z"/>
<path fill="#607800" d="M1982 2491l21-1-21-6-22 2zM2003 2497l22-1-22-6-21 1z"/>
<path fill="#a88400" d="M968 2388l22-1-22-6-22 2zM1011 2393l22-2-22-5-21 1zM990 2394l21-1-21-6-22 1z"/>
<path fill="#a28400" d="M1055 2397l21-1-21-6-22 1zM1098 2402l22-1-22-6-22 1z"/>
<path fill="#9c8a00" d="M1141 2407l22-2-22-6-21 2zM1185 2411l21-1-21-6-22 1zM1120 2408l21-1-21-6-22 1zM1163 2412l22-1-22-6-22 2z"/>
<path fill="#968a00" d="M1228 2416l21-2-21-6-22 2zM1271 2420l22-1-22-6-22 1z"/>
<path fill="#908a00" d="M1314 2425l22-1-22-6-21 1zM1358 2430l21-2-22-6-21 2z"/>
<path fill="#8a8a00" d="M1401 2434l21-1-21-6-22 1zM1379 2435l22-1-22-6-21 2z"/>
<path fill="#848a00" d="M1444 2439l21-2-21-5-22 1zM1422 2440l22-1-22-6-21 1zM1401 2441l21-1-21-6-22 1zM1379 2442l22-1-22-6-21 2z"/>
<path fill="#728400" d="M1659 2462l22-2-22-5-21 1zM1595 2458l21-1-21-6-22 2zM1638 2463l21-1-21-6-22 1zM1573 2460l22-2-22-5-21 1zM1616 2464l22-1-22-6-21 1zM1509 2456l21-1-21-6-22 1zM1552 2461l21-1-21-6-22 1zM1487 2457l22-1-22-6-21 2zM1466 2459l21-2-21-5-22 1z"/>
<path fill="#607e00" d="M1960 2493l22-2-22-5-21 1zM1896 2490l21-2-21-5-22 1zM1939 2494l21-1-21-6-22 1zM1832 2486l21-1-22-5-21 1zM1875 2491l21-1-22-6-21 1zM1767 2483l22-1-22-6-21 2zM1810 2488l22-2-22-5-21 1zM1853 2492l22-1-22-6-21 1zM1746 2484l21-1-21-5-22 1zM1789 2489l21-1-21-6-22 1z"/>
<path fill="#ae8400" d="M947 2390l21-2-22-5-21 1z"/>
<path fill="#a88a00" d="M1033 2399l22-2-22-6-22 2zM968 2396l22-2-22-6-21 2zM1012 2400l21-1-22-6-21 1z"/>
<path fill="#a28a00" d="M1076 2403l22-1-22-6-21 1z"/>
<path fill="#969000" d="M1206 2417l22-1-22-6-21 1zM1250 2422l21-2-22-6-21 2zM1228 2423l22-1-22-6-22 1zM1271 2427l22-1-22-6-21 2z"/>
<path fill="#909000" d="M1293 2426l21-1-21-6-22 1zM1336 2431l22-1-22-6-22 1zM1314 2432l22-1-22-6-21 1z"/>
<path fill="#6c8400" d="M1681 2467l21-1-21-6-22 2zM1659 2469l22-2-22-5-21 1zM1595 2465l21-1-21-6-22 2zM1638 2470l21-1-21-6-22 1zM1530 2462l22-1-22-6-21 1zM1573 2466l22-1-22-5-21 1zM1509 2463l21-1-21-6-22 1zM1552 2468l21-2-21-5-22 1zM1487 2464l22-1-22-6-21 2zM1466 2465l21-1-21-5-22 1z"/>
<path fill="#5a7800" d="M1982 2498l21-1-21-6-22 2zM2025 2502l21-1-21-5-22 1zM2003 2504l22-2-22-5-21 1z"/>
<path fill="#ae8a00" d="M925 2391l22-1-22-6-22 1zM903 2393l22-2-22-6-21 2z"/>
<path fill="#a29000" d="M1055 2405l21-2-21-6-22 2zM1098 2409l22-1-22-6-22 1z"/>
<path fill="#9c9000" d="M1141 2414l22-2-22-5-21 1zM1185 2418l21-1-21-6-22 1z"/>
<path fill="#8a9000" d="M1358 2437l21-2-21-5-22 1zM1336 2438l22-1-22-6-22 1zM1314 2439l22-1-22-6-21 1z"/>
<path fill="#7e8a00" d="M1444 2446l21-1-21-6-22 1zM1422 2447l22-1-22-6-21 1zM1401 2448l21-1-21-6-22 1zM1379 2449l22-1-22-6-21 2z"/>
<path fill="#5a7e00" d="M1917 2495l22-1-22-6-21 2zM1960 2499l22-1-22-5-21 1zM1896 2496l21-1-21-5-21 1zM1939 2501l21-2-21-5-22 1zM1832 2493l21-1-21-6-22 2zM1875 2498l21-2-21-5-22 1zM1767 2490l22-1-22-6-21 1zM1810 2494l22-1-22-5-21 1zM1746 2491l21-1-21-6-22 2zM1789 2496l21-2-21-5-22 1z"/>
<path fill="#547800" d="M2046 2508l22-1-22-6-21 1zM2025 2509l21-1-21-6-22 2zM2068 2513l21-1-21-5-22 1z"/>
<path fill="#ae9000" d="M947 2397l21-1-21-6-22 1z"/>
<path fill="#a89000" d="M990 2401l22-1-22-6-22 2zM1033 2406l22-1-22-6-21 1z"/>
<path fill="#a29600" d="M1077 2410l21-1-22-6-21 2zM1120 2415l21-1-21-6-22 1zM1055 2412l22-2-22-5-22 1z"/>
<path fill="#9c9600" d="M1163 2420l22-2-22-6-22 2zM1206 2424l22-1-22-6-21 1z"/>
<path fill="#969600" d="M1250 2429l21-2-21-5-22 1zM1228 2430l22-1-22-6-22 1z"/>
<path fill="#909600" d="M1293 2433l21-1-21-6-22 1zM1271 2434l22-1-22-6-21 2zM1250 2436l21-2-21-5-22 1zM1228 2437l22-1-22-6-22 1z"/>
<path fill="#668400" d="M1681 2474l22-1-22-6-22 2zM1617 2471l21-1-22-6-21 1zM1660 2475l21-1-22-5-21 1zM1703 2480l21-1-21-6-22 1zM1595 2472l22-1-22-6-22 1zM1638 2477l22-2-22-5-21 1zM1530 2469l22-1-22-6-21 1zM1573 2473l22-1-22-6-21 2zM1509 2470l21-1-21-6-22 1zM1487 2471l22-1-22-6-21 1z"/>
<path fill="#547e00" d="M1982 2505l21-1-21-6-22 1zM1918 2502l21-1-22-6-21 1zM1961 2506l21-1-22-6-21 2zM2003 2510l22-1-22-5-21 1zM1853 2499l22-1-22-6-21 1zM1896 2503l22-1-22-6-21 2zM1939 2507l22-1-22-5-21 1zM1832 2500l21-1-21-6-22 1zM1875 2504l21-1-21-5-22 1zM1767 2497l22-1-22-6-21 1zM1810 2501l22-1-22-6-21 2z"/>
<path fill="#b49000" d="M882 2394l21-1-21-6-22 1z"/>
<path fill="#ae9600" d="M925 2398l22-1-22-6-22 2zM968 2403l22-2-22-5-21 1zM903 2400l22-2-22-5-21 1z"/>
<path fill="#a89600" d="M1012 2407l21-1-21-6-22 1z"/>
<path fill="#a29c00" d="M1098 2416l22-1-22-6-21 1zM1077 2418l21-2-21-6-22 2zM1120 2422l22-1-22-6-22 1z"/>
<path fill="#9c9c00" d="M1142 2421l21-1-22-6-21 1zM1185 2425l21-1-21-6-22 2zM1163 2427l22-2-22-5-21 1z"/>
<path fill="#849000" d="M1358 2444l21-2-21-5-22 1zM1336 2445l22-1-22-6-22 1z"/>
<path fill="#788a00" d="M1444 2453l22-1-22-6-22 1zM1422 2454l22-1-22-6-21 1zM1401 2455l21-1-21-6-22 1z"/>
<path fill="#4e7800" d="M2046 2514l22-1-22-5-21 1zM2089 2519l22-2-22-5-21 1zM2068 2520l21-1-21-6-22 1z"/>
<path fill="#969c00" d="M1206 2431l22-1-22-6-21 1zM1185 2432l21-1-21-6-22 2zM1163 2434l22-2-22-5-21 1z"/>
<path fill="#b49600" d="M860 2395l22-1-22-6-22 2z"/>
<path fill="#ae9c00" d="M947 2404l21-1-21-6-22 1zM925 2405l22-1-22-6-22 2z"/>
<path fill="#a89c00" d="M990 2409l22-2-22-6-22 2zM1033 2413l22-1-22-6-21 1z"/>
<path fill="#8a9600" d="M1293 2440l21-1-21-6-22 1zM1271 2441l22-1-22-6-21 2z"/>
<path fill="#608400" d="M1681 2481l22-1-22-6-21 1zM1724 2486l22-2-22-5-21 1zM1617 2478l21-1-21-6-22 1zM1660 2482l21-1-21-6-22 2zM1552 2474l21-1-21-5-22 1zM1595 2479l22-1-22-6-22 1zM1530 2476l22-2-22-5-21 1zM1574 2480l21-1-22-6-21 1zM1466 2472l21-1-21-6-22 2zM1509 2477l21-1-21-6-22 1z"/>
<path fill="#4e7e00" d="M1982 2512l21-2-21-5-21 1zM2025 2516l21-2-21-5-22 1zM2004 2517l21-1-22-6-21 2zM1918 2508l21-1-21-5-22 1zM1961 2513l21-1-21-6-22 1zM1853 2505l22-1-22-5-21 1zM1896 2510l22-2-22-5-21 1zM1939 2514l22-1-22-6-21 1zM1789 2502l21-1-21-5-22 1zM1832 2507l21-2-21-5-22 1zM1875 2511l21-1-21-6-22 1zM1767 2503l22-1-22-5-21 1zM1810 2508l22-1-22-6-21 1z"/>
<path fill="#487800" d="M2111 2524l21-1-21-6-22 2zM2046 2521l22-1-22-6-21 2zM2089 2525l22-1-22-5-21 1zM2132 2529l22-1-22-5-21 1zM2068 2526l21-1-21-5-22 1z"/>
<path fill="#aea200" d="M968 2410l22-1-22-6-21 1zM947 2411l21-1-21-6-22 1zM990 2416l22-2-22-5-22 1z"/>
<path fill="#b49c00" d="M838 2397l22-2-22-5-21 1zM882 2401l21-1-21-6-22 1z"/>
<path fill="#a8a200" d="M1012 2414l21-1-21-6-22 2zM1055 2419l22-1-22-6-22 1z"/>
<path fill="#a2a200" d="M1098 2423l22-1-22-6-21 2zM1077 2425l21-2-21-5-22 1z"/>
<path fill="#9ca200" d="M1142 2428l21-1-21-6-22 1zM1120 2429l22-1-22-6-22 1zM1098 2430l22-1-22-6-21 2z"/>
<path fill="#7e9000" d="M1315 2446l21-1-22-6-21 1z"/>
<path fill="#789000" d="M1358 2451l21-2-21-5-22 1zM1336 2452l22-1-22-6-21 1zM1315 2453l21-1-21-6-22 1z"/>
<path fill="#728a00" d="M1444 2460l22-1-22-6-22 1zM1379 2456l22-1-22-6-21 2z"/>
<path fill="#5a8400" d="M1703 2487l21-1-21-6-22 1zM1724 2492l22-1-22-5-21 1zM1638 2483l22-1-22-5-21 1zM1681 2488l22-1-22-6-21 1zM1617 2485l21-2-21-5-22 1zM1660 2489l21-1-21-6-22 1zM1552 2481l22-1-22-6-22 2zM1595 2486l22-1-22-6-21 1zM1487 2478l22-1-22-6-21 1zM1531 2482l21-1-22-5-21 1zM1466 2479l21-1-21-6-22 1z"/>
<path fill="#8a9c00" d="M1207 2438l21-1-22-6-21 1zM1185 2439l22-1-22-6-22 2zM1163 2440l22-1-22-5-21 1z"/>
<path fill="#849600" d="M1250 2443l21-2-21-5-22 1zM1228 2444l22-1-22-6-21 1z"/>
<path fill="#487e00" d="M1982 2518l22-1-22-5-21 1zM2025 2522l21-1-21-5-21 1zM1961 2519l21-1-21-5-22 1zM1918 2515l21-1-21-6-22 2zM1853 2512l22-1-22-6-21 2zM1896 2516l22-1-22-5-21 1zM1789 2509l21-1-21-6-22 1zM1832 2513l21-1-21-5-22 1z"/>
<path fill="#ba9c00" d="M817 2398l21-1-21-6-22 1z"/>
<path fill="#b4a200" d="M860 2402l22-1-22-6-22 2zM903 2407l22-2-22-5-21 1zM838 2404l22-2-22-5-21 1z"/>
<path fill="#a8a800" d="M1033 2420l22-1-22-6-21 1zM1012 2421l21-1-21-6-22 2z"/>
<path fill="#7e9600" d="M1293 2447l22-1-22-6-22 1zM1271 2448l22-1-22-6-21 2zM1250 2450l21-2-21-5-22 1zM1228 2451l22-1-22-6-21 1z"/>
<path fill="#6c8a00" d="M1423 2461l21-1-22-6-21 1zM1401 2462l22-1-22-6-22 1zM1379 2463l22-1-22-6-21 1z"/>
<path fill="#427800" d="M2111 2530l21-1-21-5-22 1zM2154 2534l21-1-21-5-22 1zM2089 2532l22-2-22-5-21 1z"/>
<path fill="#aea800" d="M925 2412l22-1-22-6-22 2zM968 2417l22-1-22-6-21 1z"/>
<path fill="#90a200" d="M1142 2435l21-1-21-6-22 1zM1120 2436l22-1-22-6-22 1zM1098 2437l22-1-22-6-21 1zM1077 2438l21-1-21-6-22 2z"/>
<path fill="#668a00" d="M1444 2467l22-2-22-5-21 1zM1423 2468l21-1-21-6-22 1zM1401 2469l22-1-22-6-22 1zM1380 2470l21-1-22-6-21 1z"/>
<path fill="#548400" d="M1703 2493l21-1-21-5-22 1zM1746 2498l21-1-21-6-22 1zM1681 2495l22-2-22-5-21 1zM1638 2490l22-1-22-6-21 2zM1574 2487l21-1-21-6-22 1zM1617 2491l21-1-21-5-22 1zM1509 2483l22-1-22-5-22 1zM1552 2488l22-1-22-6-21 1zM1488 2484l21-1-22-5-21 1zM1531 2489l21-1-21-6-22 1zM1466 2486l22-2-22-5-22 1z"/>
<path fill="#427e00" d="M2004 2523l21-1-21-5-22 1zM2047 2528l21-2-22-5-21 1zM1939 2520l22-1-22-5-21 1zM1982 2525l22-2-22-5-21 1zM2025 2529l22-1-22-6-21 1zM1875 2517l21-1-21-5-22 1zM1918 2522l21-2-21-5-22 1zM1961 2526l21-1-21-6-22 1zM1811 2514l21-1-22-5-21 1zM1854 2519l21-2-22-5-21 1zM1897 2523l21-1-22-6-21 1zM1789 2515l22-1-22-5-21 1zM1832 2520l22-1-22-6-21 1z"/>
<path fill="#baa200" d="M795 2399l22-1-22-6-22 2z"/>
<path fill="#b4a800" d="M882 2408l21-1-21-6-22 1zM860 2409l22-1-22-6-22 2z"/>
<path fill="#a2a800" d="M1055 2426l22-1-22-6-22 1zM1033 2427l22-1-22-6-21 1zM1012 2428l21-1-21-6-22 1z"/>
<path fill="#729000" d="M1358 2457l21-1-21-5-22 1zM1336 2459l22-2-22-5-21 1zM1315 2460l21-1-21-6-22 1z"/>
<path fill="#3c7800" d="M2132 2536l22-2-22-5-21 1zM2175 2539l21-1-21-5-21 1zM2197 2545l21-2-22-5-21 1zM2111 2537l21-1-21-6-22 2zM2154 2541l21-2-21-5-22 2z"/>
<path fill="#baa800" d="M773 2401l22-2-22-5-21 1zM817 2405l21-1-21-6-22 1z"/>
<path fill="#b4ae00" d="M903 2414l22-2-22-5-21 1zM882 2415l21-1-21-6-22 1z"/>
<path fill="#aeae00" d="M947 2418l21-1-21-6-22 1z"/>
<path fill="#a8ae00" d="M990 2422l22-1-22-5-22 1zM968 2424l22-2-22-5-21 1zM947 2425l21-1-21-6-22 1zM925 2426l22-1-22-6-22 1z"/>
<path fill="#849c00" d="M1207 2445l21-1-21-6-22 1zM1185 2446l22-1-22-6-22 1zM1163 2447l22-1-22-6-21 2z"/>
<path fill="#789600" d="M1293 2454l22-1-22-6-22 1zM1271 2455l22-1-22-6-21 2zM1250 2456l21-1-21-5-22 1z"/>
<path fill="#4e8400" d="M1724 2499l22-1-22-6-21 1zM1660 2496l21-1-21-6-22 1zM1703 2500l21-1-21-6-22 2zM1746 2504l21-1-21-5-22 1zM1595 2492l22-1-22-5-21 1zM1638 2497l22-1-22-6-21 1zM1681 2501l22-1-22-5-21 1zM1617 2498l21-1-21-6-22 1zM1574 2493l21-1-21-5-22 1zM1509 2490l22-1-22-6-21 1zM1552 2494l22-1-22-5-21 1zM1488 2491l21-1-21-6-22 2z"/>
<path fill="#3c7e00" d="M2068 2533l21-1-21-6-21 2zM2004 2530l21-1-21-6-22 2zM2047 2534l21-1-21-5-22 1zM2090 2538l21-1-22-5-21 1zM1939 2527l22-1-22-6-21 2zM1982 2531l22-1-22-5-21 1zM2025 2535l22-1-22-5-21 1zM1875 2524l22-1-22-6-21 2zM1918 2528l21-1-21-5-21 1zM1811 2521l21-1-21-6-22 1zM1854 2525l21-1-21-5-22 1z"/>
<path fill="#96a200" d="M1077 2431l21-1-21-5-22 1z"/>
<path fill="#c0a800" d="M752 2402l21-1-21-6-22 1z"/>
<path fill="#baae00" d="M795 2406l22-1-22-6-22 2zM838 2411l22-2-22-5-21 1z"/>
<path fill="#aeb400" d="M925 2419l22-1-22-6-22 2zM903 2420l22-1-22-5-21 1zM882 2422l21-2-21-5-22 1zM860 2423l22-1-22-6-22 1z"/>
<path fill="#96a800" d="M1055 2433l22-2-22-5-22 1zM1033 2434l22-1-22-6-21 1zM1012 2435l21-1-21-6-22 1z"/>
<path fill="#8aa200" d="M1142 2442l21-2-21-5-22 1zM1120 2443l22-1-22-6-22 1zM1098 2444l22-1-22-6-21 1z"/>
<path fill="#608a00" d="M1444 2473l22-1-22-5-21 1zM1423 2474l21-1-21-5-22 1zM1401 2475l22-1-22-5-21 1z"/>
<path fill="#367800" d="M2175 2546l22-1-22-6-21 2zM2218 2550l21-2-21-5-21 2zM2132 2542l22-1-22-5-21 1zM2111 2543l21-1-21-5-21 1zM2154 2547l21-1-21-5-22 1z"/>
<path fill="#6c9000" d="M1358 2464l21-1-21-6-22 2zM1336 2465l22-1-22-5-21 1z"/>
<path fill="#c0ae00" d="M730 2403l22-1-22-6-22 2z"/>
<path fill="#c0b400" d="M773 2407l22-1-22-5-21 1zM708 2404l22-1-22-5-21 1zM752 2409l21-2-21-5-22 1z"/>
<path fill="#bab400" d="M817 2412l21-1-21-6-22 1z"/>
<path fill="#b4b400" d="M860 2416l22-1-22-6-22 2z"/>
<path fill="#9cae00" d="M990 2429l22-1-22-6-22 2zM969 2430l21-1-22-5-21 1zM947 2432l22-2-22-5-22 1zM925 2433l22-1-22-6-21 1z"/>
<path fill="#7e9c00" d="M1207 2452l21-1-21-6-22 1z"/>
<path fill="#729600" d="M1293 2461l22-1-22-6-22 1zM1228 2457l22-1-22-5-21 1z"/>
<path fill="#488400" d="M1724 2506l22-2-22-5-21 1zM1768 2510l21-1-22-6-21 1zM1660 2502l21-1-21-5-22 1zM1703 2507l21-1-21-6-22 1zM1595 2499l22-1-22-6-21 1zM1638 2503l22-1-22-5-21 1zM1574 2500l21-1-21-6-22 1zM1531 2496l21-2-21-5-22 1zM1466 2492l22-1-22-5-22 1zM1509 2497l22-1-22-6-21 1z"/>
<path fill="#367e00" d="M2068 2539l22-1-22-5-21 1zM1961 2532l21-1-21-5-22 1zM2004 2536l21-1-21-5-22 1zM2047 2540l21-1-21-5-22 1zM2090 2544l21-1-21-5-22 1zM1940 2533l21-1-22-5-21 1zM1897 2529l21-1-21-5-22 1zM1983 2537l21-1-22-5-21 1zM1918 2534l22-1-22-5-21 1zM1832 2526l22-1-22-5-21 1zM1875 2530l22-1-22-5-21 1z"/>
<path fill="#307800" d="M2197 2551l21-1-21-5-22 1zM2240 2555l21-2-22-5-21 2zM2133 2548l21-1-22-5-21 1zM2175 2552l22-1-22-5-21 1zM2218 2556l22-1-22-5-21 1z"/>
<path fill="#609000" d="M1358 2471l22-1-22-6-22 1zM1336 2472l22-1-22-6-21 1zM1315 2473l21-1-21-6-22 2z"/>
<path fill="#baba00" d="M795 2413l22-1-22-6-22 1z"/>
<path fill="#b4ba00" d="M838 2417l22-1-22-5-21 1zM817 2419l21-2-21-5-22 1zM795 2420l22-1-22-6-22 1z"/>
<path fill="#90a800" d="M1055 2439l22-1-22-5-22 1zM1034 2441l21-2-22-5-21 1z"/>
<path fill="#7ea200" d="M1142 2448l21-1-21-5-22 1zM1120 2449l22-1-22-5-22 1zM1099 2451l21-2-22-5-21 1zM1077 2452l22-1-22-6-22 1z"/>
<path fill="#789c00" d="M1185 2453l22-1-22-6-22 1zM1163 2454l22-1-22-6-21 1z"/>
<path fill="#6c9600" d="M1272 2462l21-1-22-6-21 1zM1250 2463l22-1-22-6-22 1zM1228 2464l22-1-22-6-21 1z"/>
<path fill="#669000" d="M1315 2466l21-1-21-5-22 1z"/>
<path fill="#5a8a00" d="M1444 2480l22-1-22-6-21 1zM1380 2477l21-2-21-5-22 1zM1423 2481l21-1-21-6-22 1z"/>
<path fill="#428400" d="M1746 2511l22-1-22-6-22 2zM1682 2508l21-1-22-6-21 1zM1725 2512l21-1-22-5-21 1zM1768 2516l21-1-21-5-22 1zM1617 2504l21-1-21-5-22 1zM1660 2509l22-1-22-6-22 1zM1552 2501l22-1-22-6-21 2zM1595 2505l22-1-22-5-21 1zM1531 2502l21-1-21-5-22 1zM1488 2498l21-1-21-6-22 1zM1466 2499l22-1-22-6-21 1zM1509 2503l22-1-22-5-21 1z"/>
<path fill="#2a7800" d="M2261 2560l21-2-21-5-21 2zM2154 2553l21-1-21-5-21 1zM2197 2557l21-1-21-5-22 1zM2240 2561l21-1-21-5-22 1zM2283 2564l21-1-22-5-21 2zM2176 2558l21-1-22-5-21 1zM2218 2562l22-1-22-5-21 1z"/>
<path fill="#c6ba00" d="M687 2406l21-2-21-5-22 1zM665 2407l22-1-22-6-22 2z"/>
<path fill="#c0ba00" d="M730 2410l22-1-22-6-22 1zM773 2414l22-1-22-6-21 2z"/>
<path fill="#a2b400" d="M904 2427l21-1-22-6-21 2zM882 2428l22-1-22-5-22 1zM860 2430l22-2-22-5-22 1z"/>
<path fill="#96ae00" d="M990 2436l22-1-22-6-21 1zM969 2437l21-1-21-6-22 2z"/>
<path fill="#84a200" d="M1077 2445l21-1-21-6-22 1z"/>
<path fill="#729c00" d="M1207 2458l21-1-21-5-22 1zM1185 2460l22-2-22-5-22 1zM1164 2461l21-1-22-6-21 1z"/>
<path fill="#669600" d="M1293 2468l22-2-22-5-21 1zM1272 2469l21-1-21-6-22 1zM1250 2470l22-1-22-6-22 1z"/>
<path fill="#307e00" d="M2025 2541l22-1-22-5-21 1zM2068 2545l22-1-22-5-21 1zM2111 2549l22-1-22-5-21 1zM1961 2539l22-2-22-5-21 1zM2004 2543l21-2-21-5-21 1zM2047 2547l21-2-21-5-22 1zM1897 2536l21-2-21-5-22 1zM1940 2540l21-1-21-6-22 1zM1854 2531l21-1-21-5-22 1zM1875 2537l22-1-22-6-21 1zM1832 2532l22-1-22-5-21 1z"/>
<path fill="#8aa800" d="M1012 2442l22-1-22-6-22 1z"/>
<path fill="#84a800" d="M1055 2446l22-1-22-6-21 2zM1034 2447l21-1-21-5-22 1zM1012 2448l22-1-22-5-22 1z"/>
<path fill="#5a9000" d="M1358 2478l22-1-22-6-22 1zM1337 2479l21-1-22-6-21 1zM1315 2480l22-1-22-6-22 1z"/>
<path fill="#548a00" d="M1401 2482l22-1-22-6-21 2zM1380 2483l21-1-21-5-22 1z"/>
<path fill="#c6c000" d="M708 2411l22-1-22-6-21 2zM643 2408l22-1-22-5-22 1z"/>
<path fill="#c0c000" d="M752 2415l21-1-21-5-22 1zM730 2417l22-2-22-5-22 1z"/>
<path fill="#aeba00" d="M838 2424l22-1-22-6-21 2zM817 2425l21-1-21-5-22 1z"/>
<path fill="#78a200" d="M1142 2455l21-1-21-6-22 1zM1120 2456l22-1-22-6-21 2z"/>
<path fill="#4e8a00" d="M1444 2487l22-1-22-6-21 1zM1423 2488l21-1-21-6-22 1zM1401 2489l22-1-22-6-21 1zM1380 2490l21-1-21-6-22 1z"/>
<path fill="#3c8400" d="M1703 2513l22-1-22-5-21 1zM1746 2518l22-2-22-5-21 1zM1789 2522l22-1-22-6-21 1zM1639 2510l21-1-22-6-21 1zM1682 2514l21-1-21-5-22 1zM1725 2519l21-1-21-6-22 1zM1574 2506l21-1-21-5-22 1zM1617 2511l22-1-22-6-22 1zM1660 2515l22-1-22-5-21 1zM1552 2507l22-1-22-5-21 1zM1596 2512l21-1-22-6-21 1zM1488 2504l21-1-21-5-22 1zM1531 2508l21-1-21-5-22 1zM1466 2505l22-1-22-5-21 1z"/>
<path fill="#2a7e00" d="M2090 2551l21-2-21-5-22 1zM2133 2554l21-1-21-5-22 1zM1983 2544l21-1-21-6-22 2zM2026 2548l21-1-22-6-21 2zM2068 2552l22-1-22-6-21 2zM2111 2556l22-2-22-5-21 2zM1918 2541l22-1-22-6-21 2zM1961 2545l22-1-22-5-21 1zM2004 2549l22-1-22-5-21 1zM1854 2538l21-1-21-6-22 1zM1897 2542l21-1-21-5-22 1zM1940 2546l21-1-21-5-22 1zM1832 2539l22-1-22-6-21 1z"/>
<path fill="#247800" d="M2261 2566l22-2-22-4-21 1zM2304 2569l21-1-21-5-21 1zM2197 2563l21-1-21-5-21 1zM2240 2567l21-1-21-5-22 1zM2283 2571l21-2-21-5-22 2zM2176 2564l21-1-21-5-22 1z"/>
<path fill="#b4c000" d="M773 2421l22-1-22-6-21 1zM752 2422l21-1-21-6-22 2zM730 2423l22-1-22-5-22 1z"/>
<path fill="#8aae00" d="M990 2443l22-1-22-6-21 1zM969 2444l21-1-21-6-22 1zM947 2445l22-1-22-6-22 1z"/>
<path fill="#609600" d="M1293 2474l22-1-22-5-21 1zM1228 2471l22-1-22-6-21 1z"/>
<path fill="#247e00" d="M2154 2559l22-1-22-5-21 1zM2133 2561l21-2-21-5-22 2zM2047 2553l21-1-21-5-21 1zM2090 2557l21-1-21-5-22 1zM1983 2550l21-1-21-5-22 1zM2026 2554l21-1-21-5-22 1zM2069 2558l21-1-22-5-21 1zM1875 2543l22-1-22-5-21 1zM1918 2547l22-1-22-5-21 1zM1961 2551l22-1-22-5-21 1zM1854 2544l21-1-21-5-22 1zM1897 2548l21-1-21-5-22 1z"/>
<path fill="#c6c600" d="M687 2412l21-1-21-5-22 1zM665 2414l22-2-22-5-22 1z"/>
<path fill="#9cb400" d="M904 2434l21-1-21-6-22 1zM882 2435l22-1-22-6-22 2z"/>
<path fill="#90ae00" d="M947 2438l22-1-22-5-22 1zM925 2439l22-1-22-5-21 1z"/>
<path fill="#6c9c00" d="M1207 2465l21-1-21-6-22 2zM1142 2462l22-1-22-6-22 1z"/>
<path fill="#368400" d="M1768 2523l21-1-21-6-22 2zM1811 2527l21-1-21-5-22 1zM1703 2520l22-1-22-6-21 1zM1746 2524l22-1-22-5-21 1zM1639 2516l21-1-21-5-22 1zM1682 2521l21-1-21-6-22 1zM1574 2513l22-1-22-6-22 1zM1617 2517l22-1-22-5-21 1zM1509 2509l22-1-22-5-21 1zM1553 2514l21-1-22-6-21 1zM1488 2510l21-1-21-5-22 1z"/>
<path fill="#1e7800" d="M2326 2574l21-1-22-5-21 1zM2219 2568l21-1-22-5-21 1zM2261 2572l22-1-22-5-21 1zM2304 2575l22-1-22-5-21 2zM2347 2579l21-2-21-4-21 1zM2197 2569l22-1-22-5-21 1zM2240 2573l21-1-21-5-21 1z"/>
<path fill="#a8ba00" d="M795 2426l22-1-22-5-22 1z"/>
<path fill="#a2ba00" d="M839 2431l21-1-22-6-21 1zM817 2432l22-1-22-6-22 1zM795 2433l22-1-22-6-22 2z"/>
<path fill="#7ea800" d="M1055 2453l22-1-22-6-21 1z"/>
<path fill="#72a200" d="M1099 2457l21-1-21-5-22 1zM1077 2458l22-1-22-5-22 1z"/>
<path fill="#5a9600" d="M1272 2475l21-1-21-5-22 1zM1250 2476l22-1-22-5-22 1zM1229 2477l21-1-22-5-21 1z"/>
<path fill="#549000" d="M1358 2484l22-1-22-5-21 1z"/>
<path fill="#488a00" d="M1445 2493l21-1-22-5-21 1zM1423 2494l22-1-22-5-22 1zM1401 2495l22-1-22-5-21 1z"/>
<path fill="#ccc600" d="M621 2410l22-2-22-5-21 1z"/>
<path fill="#bac600" d="M708 2418l22-1-22-6-21 1zM687 2419l21-1-21-6-22 2zM665 2420l22-1-22-5-22 1z"/>
<path fill="#669c00" d="M1185 2466l22-1-22-5-21 1zM1164 2467l21-1-21-5-22 1zM1142 2468l22-1-22-5-22 1z"/>
<path fill="#308400" d="M1789 2528l22-1-22-5-21 1zM1725 2525l21-1-21-5-22 1zM1768 2529l21-1-21-5-22 1zM1811 2533l21-1-21-5-22 1zM1660 2522l22-1-22-6-21 1zM1703 2526l22-1-22-5-21 1zM1596 2518l21-1-21-5-22 1zM1639 2523l21-1-21-6-22 1zM1531 2515l22-1-22-6-22 1zM1574 2519l22-1-22-5-21 1zM1466 2511l22-1-22-5-21 1zM1510 2516l21-1-22-6-21 1z"/>
<path fill="#a8c000" d="M773 2428l22-2-22-5-21 1zM752 2429l21-1-21-6-22 1zM730 2430l22-1-22-6-22 1z"/>
<path fill="#96b400" d="M860 2436l22-1-22-5-21 1z"/>
<path fill="#7eae00" d="M990 2449l22-1-22-5-21 1zM969 2450l21-1-21-5-22 1zM947 2451l22-1-22-5-22 1zM925 2452l22-1-22-5-21 1z"/>
<path fill="#78a800" d="M1034 2454l21-1-21-6-22 1zM1012 2455l22-1-22-6-22 1z"/>
<path fill="#6ca200" d="M1120 2463l22-1-22-6-21 1zM1099 2464l21-1-21-6-22 1zM1077 2465l22-1-22-6-22 1z"/>
<path fill="#549600" d="M1293 2481l22-1-22-6-21 1zM1272 2482l21-1-21-6-22 1zM1250 2483l22-1-22-6-21 1z"/>
<path fill="#4e9000" d="M1337 2485l21-1-21-5-22 1zM1315 2486l22-1-22-5-22 1z"/>
<path fill="#1e7e00" d="M2112 2562l21-1-22-5-21 1zM2154 2566l22-2-22-5-21 2zM2004 2555l22-1-22-5-21 1zM2047 2559l22-1-22-5-21 1zM2090 2563l22-1-22-5-21 1zM2133 2567l21-1-21-5-21 1zM1940 2552l21-1-21-5-22 1zM1983 2556l21-1-21-5-22 1zM2026 2560l21-1-21-5-22 1zM1876 2549l21-1-22-5-21 1zM1919 2553l21-1-22-5-21 1zM1854 2550l22-1-22-5-21 1z"/>
<path fill="#cccc00" d="M600 2411l21-1-21-6-22 1z"/>
<path fill="#c6cc00" d="M643 2415l22-1-22-6-22 2zM622 2416l21-1-22-5-21 1zM600 2417l22-1-22-5-22 1z"/>
<path fill="#90b400" d="M904 2441l21-2-21-5-22 1zM882 2442l22-1-22-6-22 1zM860 2443l22-1-22-6-21 1z"/>
<path fill="#609c00" d="M1207 2472l21-1-21-6-22 1zM1185 2473l22-1-22-6-21 1z"/>
<path fill="#187800" d="M2283 2577l21-2-21-4-22 1zM2326 2580l21-1-21-5-22 1zM2369 2583l21-1-22-5-21 2zM2219 2574l21-1-21-5-22 1zM2262 2578l21-1-22-5-21 1zM2304 2581l22-1-22-5-21 2z"/>
<path fill="#d2d200" d="M578 2412l22-1-22-6-22 2z"/>
<path fill="#b4c600" d="M708 2424l22-1-22-5-21 1z"/>
<path fill="#96ba00" d="M839 2437l21-1-21-5-22 1zM817 2438l22-1-22-5-22 1zM795 2439l22-1-22-5-21 1z"/>
<path fill="#84ae00" d="M925 2446l22-1-22-6-21 2z"/>
<path fill="#72a800" d="M1055 2459l22-1-22-5-21 1zM1034 2460l21-1-21-5-22 1z"/>
<path fill="#489000" d="M1358 2491l22-1-22-6-21 1zM1337 2492l21-1-21-6-22 1zM1315 2493l22-1-22-6-22 1z"/>
<path fill="#428a00" d="M1445 2500l21-1-21-6-22 1zM1380 2496l21-1-21-5-22 1z"/>
<path fill="#2a8400" d="M1746 2530l22-1-22-5-21 1zM1789 2535l22-2-22-5-21 1zM1682 2527l21-1-21-5-22 1zM1725 2531l21-1-21-5-22 1zM1768 2536l21-1-21-6-22 1zM1617 2524l22-1-22-6-21 1zM1660 2528l22-1-22-5-21 1zM1703 2532l22-1-22-5-21 1zM1553 2520l21-1-21-5-22 1zM1596 2525l21-1-21-6-22 1zM1488 2517l22-1-22-6-22 1zM1531 2521l22-1-22-5-21 1zM1466 2518l22-1-22-6-21 1z"/>
<path fill="#187e00" d="M2176 2570l21-1-21-5-22 2zM2069 2564l21-1-21-5-22 1zM2112 2568l21-1-21-5-22 1zM2155 2572l21-2-22-4-21 1zM2197 2575l22-1-22-5-21 1zM1962 2557l21-1-22-5-21 1zM2004 2561l22-1-22-5-21 1zM2047 2565l22-1-22-5-21 1zM2090 2569l22-1-22-5-21 1zM1897 2554l22-1-22-5-21 1zM1940 2558l22-1-22-5-21 1zM1983 2562l21-1-21-5-21 1zM1876 2555l21-1-21-5-22 1z"/>
<path fill="#127800" d="M2390 2588l21-1-21-5-21 1zM2347 2585l22-2-22-4-21 1zM2240 2579l22-1-22-5-21 1zM2283 2583l21-2-21-4-21 1zM2369 2589l21-1-21-5-22 2zM2412 2593l21-2-22-4-21 1zM2326 2586l21-1-21-5-22 1zM2219 2580l21-1-21-5-22 1zM2262 2584l21-1-21-5-22 1z"/>
<path fill="#ccd200" d="M556 2413l22-1-22-5-21 1zM535 2414l21-1-21-5-22 1zM513 2416l22-2-22-5-22 1z"/>
<path fill="#aec600" d="M687 2426l21-2-21-5-22 1zM665 2427l22-1-22-6-22 1zM643 2428l22-1-22-6-21 2z"/>
<path fill="#9cc000" d="M774 2434l21-1-22-5-21 1zM752 2435l22-1-22-5-22 1zM730 2436l22-1-22-5-22 1zM708 2437l22-1-22-5-21 1z"/>
<path fill="#84b400" d="M904 2447l21-1-21-5-22 1zM882 2448l22-1-22-5-22 1zM860 2449l22-1-22-5-21 1z"/>
<path fill="#78ae00" d="M990 2456l22-1-22-6-21 1z"/>
<path fill="#60a200" d="M1120 2469l22-1-22-5-21 1zM1099 2470l21-1-21-5-22 1zM1077 2471l22-1-22-5-22 1z"/>
<path fill="#5a9c00" d="M1164 2474l21-1-21-6-22 1zM1207 2478l22-1-22-5-22 1zM1142 2475l22-1-22-6-22 1z"/>
<path fill="#4e9600" d="M1293 2487l22-1-22-5-21 1zM1229 2484l21-1-21-6-22 1z"/>
<path fill="#3c8a00" d="M1423 2501l22-1-22-6-22 1zM1402 2502l21-1-22-6-21 1zM1380 2502l22 0-22-6-22 1z"/>
<path fill="#248400" d="M1811 2540l21-1-21-6-22 2zM1747 2537l21-1-22-6-21 1zM1790 2541l21-1-22-5-21 1zM1639 2529l21-1-21-5-22 1zM1682 2533l21-1-21-5-22 1zM1725 2538l22-1-22-6-22 1zM1574 2526l22-1-22-6-21 1zM1617 2530l22-1-22-5-21 1zM1660 2534l22-1-22-5-21 1zM1510 2522l21-1-21-5-22 1zM1553 2526l21 0-21-6-22 1zM1596 2531l21-1-21-5-22 1zM1488 2523l22-1-22-5-22 1zM1467 2524l21-1-22-5-21 1z"/>
<path fill="#bacc00" d="M643 2421l22-1-22-5-21 1zM622 2423l21-2-21-5-22 1zM600 2424l22-1-22-6-22 1z"/>
<path fill="#c0cc00" d="M578 2418l22-1-22-5-22 1z"/>
<path fill="#a8c600" d="M708 2431l22-1-22-6-21 2z"/>
<path fill="#8aba00" d="M839 2444l21-1-21-6-22 1zM817 2445l22-1-22-6-22 1zM795 2446l22-1-22-6-21 1z"/>
<path fill="#72ae00" d="M969 2457l21-1-21-6-22 1zM947 2458l22-1-22-6-22 1zM925 2459l22-1-22-6-21 1z"/>
<path fill="#6ca800" d="M1012 2461l22-1-22-5-22 1zM990 2462l22-1-22-5-21 1z"/>
<path fill="#66a800" d="M1055 2466l22-1-22-6-21 1zM1034 2467l21-1-21-6-22 1zM1012 2468l22-1-22-6-22 1z"/>
<path fill="#549c00" d="M1185 2479l22-1-22-5-21 1zM1164 2480l21-1-21-5-22 1zM1142 2481l22-1-22-5-22 1z"/>
<path fill="#489600" d="M1272 2488l21-1-21-5-22 1zM1250 2489l22-1-22-5-21 1zM1229 2490l21-1-21-5-22 1z"/>
<path fill="#429000" d="M1358 2497l22-1-22-5-21 1zM1294 2494l21-1-22-6-21 1z"/>
<path fill="#368a00" d="M1445 2506l21-1-21-5-22 1zM1423 2507l22-1-22-5-21 1zM1402 2508l21-1-21-5-22 0z"/>
<path fill="#1e8400" d="M1833 2545l21-1-22-5-21 1zM1768 2542l22-1-22-5-21 1zM1811 2546l22-1-22-5-21 1zM1704 2539l21-1-22-6-21 1zM1747 2543l21-1-21-5-22 1zM1639 2535l21-1-21-5-22 1zM1682 2540l22-1-22-6-22 1zM1531 2527l22-1-22-5-21 1zM1574 2532l22-1-22-5-21 0zM1618 2536l21-1-22-5-21 1zM1510 2528l21-1-21-5-22 1zM1553 2533l21-1-21-6-22 1zM1488 2529l22-1-22-5-21 1z"/>
<path fill="#127e00" d="M2133 2573l22-1-22-5-21 1zM2176 2577l21-2-21-5-21 2zM2026 2566l21-1-21-5-22 1zM2069 2570l21-1-21-5-22 1zM2112 2574l21-1-21-5-22 1zM2155 2578l21-1-21-5-22 1zM1919 2559l21-1-21-5-22 1zM1962 2563l21-1-21-5-22 1zM2005 2567l21-1-22-5-21 1zM1897 2560l22-1-22-5-21 1zM1940 2564l22-1-22-5-21 1z"/>
<path fill="#0c7800" d="M2305 2587l21-1-22-5-21 2zM2347 2591l22-2-22-4-21 1zM2390 2594l22-1-22-5-21 1zM2433 2597l21-1-21-5-21 2zM2240 2585l22-1-22-5-21 1zM2283 2588l22-1-22-4-21 1zM2326 2592l21-1-21-5-21 1z"/>
<path fill="#c0d200" d="M556 2420l22-2-22-5-21 1zM535 2421l21-1-21-6-22 2zM513 2422l22-1-22-5-22 1z"/>
<path fill="#a2c600" d="M687 2432l21-1-21-5-22 1zM665 2433l22-1-22-5-22 1zM643 2434l22-1-22-5-21 1z"/>
<path fill="#90c000" d="M774 2440l21-1-21-5-22 1zM752 2442l22-2-22-5-22 1zM730 2443l22-1-22-6-22 1zM708 2444l22-1-22-6-21 1z"/>
<path fill="#78b400" d="M904 2453l21-1-21-5-22 1zM882 2454l22-1-22-5-22 1zM860 2455l22-1-22-5-21 1z"/>
<path fill="#5aa200" d="M1120 2476l22-1-22-6-21 1zM1099 2477l21-1-21-6-22 1z"/>
<path fill="#4e9c00" d="M1207 2485l22-1-22-6-22 1zM1185 2486l22-1-22-6-21 1z"/>
<path fill="#3c9000" d="M1337 2498l21-1-21-5-22 1zM1315 2499l22-1-22-5-21 1zM1294 2500l21-1-21-5-22 0z"/>
<path fill="#0c7e00" d="M2198 2581l21-1-22-5-21 2zM2048 2571l21-1-22-5-21 1zM2090 2575l22-1-22-5-21 1zM2133 2579l22-1-22-5-21 1zM2176 2583l22-2-22-4-21 1zM2219 2586l21-1-21-5-21 1zM1983 2568l22-1-22-5-21 1zM2026 2572l22-1-22-5-21 1zM2069 2576l21-1-21-5-21 1zM1876 2561l21-1-21-5-22 1zM1919 2565l21-1-21-5-22 1zM1962 2569l21-1-21-5-22 1zM1897 2566l22-1-22-5-21 1z"/>
<path fill="#067800" d="M2369 2595l21-1-21-5-22 2zM2412 2598l21-1-21-4-22 1zM2454 2602l22-2-22-4-21 1zM2262 2590l21-2-21-4-22 1zM2305 2593l21-1-21-5-22 1zM2348 2596l21-1-22-4-21 1zM2390 2600l22-2-22-4-21 1zM2433 2603l21-1-21-5-21 1zM2284 2594l21-1-22-5-21 2z"/>
<path fill="#ccd800" d="M491 2417l22-1-22-6-22 2zM469 2418l22-1-22-5-21 1z"/>
<path fill="#b4cc00" d="M578 2425l22-1-22-6-22 2z"/>
<path fill="#aecc00" d="M622 2429l21-1-21-5-22 1z"/>
<path fill="#7eba00" d="M839 2450l21-1-21-5-22 1zM817 2451l22-1-22-5-22 1zM795 2452l22-1-22-5-21 1zM774 2453l21-1-21-5-22 1z"/>
<path fill="#6cae00" d="M969 2463l21-1-21-5-22 1z"/>
<path fill="#60a800" d="M1055 2472l22-1-22-5-21 1zM991 2469l21-1-22-6-21 1z"/>
<path fill="#429600" d="M1272 2494l22 0-22-6-22 1zM1250 2495l22-1-22-5-21 1z"/>
<path fill="#369000" d="M1358 2503l22-1-22-5-21 1zM1337 2504l21-1-21-5-22 1zM1315 2505l22-1-22-5-21 1z"/>
<path fill="#308a00" d="M1445 2512l21-1-21-5-22 1zM1380 2509l22-1-22-6-22 1zM1423 2513l22-1-22-5-21 1z"/>
<path fill="#188400" d="M1790 2547l21-1-21-5-22 1zM1833 2551l21-1-21-5-22 1zM1725 2544l22-1-22-5-21 1zM1768 2548l22-1-22-5-21 1zM1811 2552l22-1-22-5-21 1zM1661 2540l21 0-22-6-21 1zM1704 2545l21-1-21-5-22 1zM1596 2537l22-1-22-5-22 1zM1639 2541l22-1-22-5-21 1zM1531 2534l22-1-22-6-21 1zM1574 2538l22-1-22-5-21 1zM1467 2530l21-1-21-5-22 1zM1510 2535l21-1-21-6-22 1zM1445 2531l22-1-22-5-22 1z"/>
<path fill="#007800" d="M2476 2606l21-1-21-5-22 2zM2326 2598l22-2-22-4-21 1zM2369 2601l21-1-21-5-21 1zM2412 2604l21-1-21-5-22 2zM2455 2607l21-1-22-4-21 1zM2497 2610l22-1-22-4-21 1zM2262 2596l22-2-22-4-21 1zM2305 2599l21-1-21-5-21 1zM2348 2602l21-1-21-5-22 2z"/>
<path fill="#b4d200" d="M556 2426l22-1-22-5-21 1zM535 2427l21-1-21-5-22 1zM513 2428l22-1-22-5-22 1z"/>
<path fill="#a8cc00" d="M600 2430l22-1-22-5-22 1zM578 2431l22-1-22-5-22 1z"/>
<path fill="#96c600" d="M687 2438l21-1-21-5-22 1zM665 2439l22-1-22-5-22 1zM643 2440l22-1-22-5-21 1z"/>
<path fill="#84ba00" d="M774 2447l21-1-21-6-22 2z"/>
<path fill="#72b400" d="M904 2460l21-1-21-6-22 1z"/>
<path fill="#66ae00" d="M947 2464l22-1-22-5-22 1zM926 2465l21-1-22-5-21 1z"/>
<path fill="#5aa800" d="M1034 2473l21-1-21-5-22 1zM1012 2474l22-1-22-5-21 1z"/>
<path fill="#54a200" d="M1077 2478l22-1-22-6-22 1z"/>
<path fill="#4ea200" d="M1121 2482l21-1-22-5-21 1zM1099 2483l22-1-22-5-22 1z"/>
<path fill="#489c00" d="M1164 2486l21 0-21-6-22 1zM1142 2487l22-1-22-5-21 1z"/>
<path fill="#429c00" d="M1207 2491l22-1-22-5-22 1zM1185 2492l22-1-22-5-21 0zM1164 2493l21-1-21-6-22 1z"/>
<path fill="#128400" d="M1854 2556l22-1-22-5-21 1zM1747 2549l21-1-21-5-22 1zM1790 2553l21-1-21-5-22 1zM1833 2557l21-1-21-5-22 1zM1682 2546l22-1-22-5-21 0zM1725 2550l22-1-22-5-21 1zM1768 2554l22-1-22-5-21 1zM1661 2547l21-1-21-6-22 1zM1618 2542l21-1-21-5-22 1zM1553 2539l21-1-21-5-22 1zM1596 2543l22-1-22-5-22 1zM1488 2535l22 0-22-6-21 1zM1531 2540l22-1-22-5-21 1zM1467 2536l21-1-21-5-22 1z"/>
<path fill="#067e00" d="M2112 2580l21-1-21-5-22 1zM2155 2584l21-1-21-5-22 1zM2198 2587l21-1-21-5-22 2zM2241 2591l21-1-22-5-21 1zM2005 2573l21-1-21-5-22 1zM2048 2577l21-1-21-5-22 1zM2091 2581l21-1-22-5-21 1zM2134 2585l21-1-22-5-21 1zM1940 2570l22-1-22-5-21 1zM1983 2574l22-1-22-5-21 1zM2026 2578l22-1-22-5-21 1zM1919 2572l21-2-21-5-22 1zM1876 2567l21-1-21-5-22 1z"/>
<path fill="#c6d800" d="M448 2419l21-1-21-5-22 1z"/>
<path fill="#c0d800" d="M491 2423l22-1-22-5-22 1z"/>
<path fill="#a2cc00" d="M622 2435l21-1-21-5-22 1z"/>
<path fill="#84c000" d="M752 2448l22-1-22-5-22 1zM730 2449l22-1-22-5-22 1zM709 2450l21-1-22-5-21 1z"/>
<path fill="#78ba00" d="M839 2456l21-1-21-5-22 1z"/>
<path fill="#6cb400" d="M882 2461l22-1-22-6-22 1zM860 2462l22-1-22-6-21 1zM839 2463l21-1-21-6-22 1z"/>
<path fill="#60ae00" d="M969 2470l22-1-22-6-22 1zM947 2471l22-1-22-6-21 1z"/>
<path fill="#54a800" d="M1056 2478l21 0-22-6-21 1zM991 2475l21-1-21-5-22 1z"/>
<path fill="#3c9600" d="M1229 2496l21-1-21-5-22 1zM1207 2497l22-1-22-5-22 1z"/>
<path fill="#369600" d="M1272 2501l22-1-22-6-22 1zM1250 2502l22-1-22-6-21 1zM1229 2503l21-1-21-6-22 1z"/>
<path fill="#309000" d="M1358 2510l22-1-22-6-21 1zM1294 2506l21-1-21-5-22 1z"/>
<path fill="#2a8a00" d="M1402 2514l21-1-21-5-22 1zM1445 2519l21-1-21-6-22 1zM1380 2515l22-1-22-5-22 1z"/>
<path fill="#007e00" d="M2176 2588l22-1-22-4-21 1zM2219 2592l22-1-22-5-21 1zM2069 2582l22-1-22-5-21 1zM2112 2586l22-1-22-5-21 1zM2155 2590l21-2-21-4-21 1zM2198 2593l21-1-21-5-22 1zM1962 2575l21-1-21-5-22 1zM2005 2579l21-1-21-5-22 1zM2048 2583l21-1-21-5-22 1zM2091 2587l21-1-21-5-22 1zM1898 2573l21-1-22-6-21 1zM1941 2577l21-2-22-5-21 2zM1876 2574l22-1-22-6-21 1z"/>
<path fill="#007806" d="M2391 2606l21-2-22-4-21 1zM2433 2609l22-2-22-4-21 1zM2476 2612l21-2-21-4-21 1zM2519 2615l21-2-21-4-22 1zM2284 2600l21-1-21-5-22 2zM2327 2604l21-2-22-4-21 1zM2369 2607l22-1-22-5-21 1zM2412 2610l21-1-21-5-21 2zM2455 2613l21-1-21-5-22 2zM2498 2616l21-1-22-5-21 2z"/>
<path fill="#c6de00" d="M426 2420l22-1-22-5-22 1z"/>
<path fill="#bad800" d="M470 2424l21-1-22-5-21 1zM448 2425l22-1-22-5-22 1z"/>
<path fill="#a8d200" d="M556 2432l22-1-22-5-21 1zM535 2433l21-1-21-5-22 1z"/>
<path fill="#9ccc00" d="M600 2436l22-1-22-5-22 1zM578 2437l22-1-22-5-22 1z"/>
<path fill="#8ac600" d="M687 2445l21-1-21-6-22 1zM665 2446l22-1-22-6-22 1zM643 2447l22-1-22-6-21 1z"/>
<path fill="#72ba00" d="M817 2457l22-1-22-5-22 1zM795 2458l22-1-22-5-21 1zM774 2459l21-1-21-5-22 1z"/>
<path fill="#66b400" d="M904 2466l22-1-22-5-22 1z"/>
<path fill="#4ea800" d="M1034 2479l22-1-22-5-22 1zM1012 2480l22-1-22-5-21 1zM991 2481l21-1-21-5-22 1z"/>
<path fill="#48a200" d="M1077 2484l22-1-22-5-21 0zM1121 2488l21-1-21-5-22 1zM1056 2485l21-1-21-6-22 1z"/>
<path fill="#2a9000" d="M1337 2511l21-1-21-6-22 1zM1315 2511l22 0-22-6-21 1zM1294 2512l21-1-21-5-22 1z"/>
<path fill="#248a00" d="M1423 2520l22-1-22-6-21 1zM1402 2520l21 0-21-6-22 1z"/>
<path fill="#0c8400" d="M1811 2558l22-1-22-5-21 1zM1854 2562l22-1-22-5-21 1zM1704 2551l21-1-21-5-22 1zM1747 2555l21-1-21-5-22 1zM1790 2559l21-1-21-5-22 1zM1639 2548l22-1-22-6-21 1zM1682 2552l22-1-22-5-21 1zM1725 2556l22-1-22-5-21 1zM1618 2548l21 0-21-6-22 1zM1575 2544l21-1-22-5-21 1zM1510 2541l21-1-21-5-22 0zM1553 2545l22-1-22-5-22 1zM1488 2541l22 0-22-6-21 1zM1445 2537l22-1-22-5-21 1z"/>
<path fill="#007e06" d="M2241 2597l21-1-21-5-22 1zM2220 2598l21-1-22-5-21 1zM2134 2591l21-1-21-5-22 1zM2177 2594l21-1-22-5-21 2zM2262 2601l22-1-22-4-21 1zM1984 2580l21-1-22-5-21 1zM2027 2584l21-1-22-5-21 1zM2069 2588l22-1-22-5-21 1zM2112 2592l22-1-22-5-21 1zM1919 2578l22-1-22-5-21 1zM1962 2581l22-1-22-5-21 2zM2005 2585l22-1-22-5-21 1zM1898 2578l21 0-21-5-22 1z"/>
<path fill="#00780c" d="M2540 2619l22-1-22-5-21 2zM2434 2614l21-1-22-4-21 1zM2305 2605l22-1-22-5-21 1zM2348 2608l21-1-21-5-21 2zM2391 2611l21-1-21-4-22 1zM2476 2617l22-1-22-4-21 1zM2519 2620l21-1-21-4-21 1zM2327 2609l21-1-21-4-22 1zM2370 2613l21-2-22-4-21 1z"/>
<path fill="#78c000" d="M752 2454l22-1-22-5-22 1zM730 2455l22-1-22-5-21 1zM709 2456l21-1-21-5-22 1z"/>
<path fill="#aed800" d="M491 2429l22-1-22-5-21 1zM470 2430l21-1-21-5-22 1z"/>
<path fill="#96cc00" d="M622 2441l21-1-21-5-22 1z"/>
<path fill="#60b400" d="M882 2467l22-1-22-5-22 1zM860 2468l22-1-22-5-21 1zM839 2469l21-1-21-5-22 1z"/>
<path fill="#5aae00" d="M926 2471l21 0-21-6-22 1z"/>
<path fill="#54ae00" d="M969 2476l22-1-22-5-22 1zM947 2477l22-1-22-5-21 0z"/>
<path fill="#42a200" d="M1099 2489l22-1-22-5-22 1zM1077 2490l22-1-22-5-21 1z"/>
<path fill="#3c9c00" d="M1142 2494l22-1-22-6-21 1z"/>
<path fill="#369c00" d="M1186 2498l21-1-22-5-21 1zM1164 2499l22-1-22-5-22 1zM1142 2500l22-1-22-5-21 0z"/>
<path fill="#309600" d="M1272 2507l22-1-22-5-22 1zM1207 2503l22 0-22-6-21 1z"/>
<path fill="#249000" d="M1359 2516l21-1-22-5-21 1zM1337 2517l22-1-22-5-22 0z"/>
<path fill="#1e8a00" d="M1445 2525l22-1-22-5-22 1zM1380 2521l22-1-22-5-21 1zM1423 2526l22-1-22-5-21 0z"/>
<path fill="#068400" d="M1833 2563l21-1-21-5-22 1zM1768 2560l22-1-22-5-21 1zM1812 2564l21-1-22-5-21 1zM1661 2553l21-1-21-5-22 1zM1704 2557l21-1-21-5-22 1zM1747 2561l21-1-21-5-22 1zM1596 2549l22-1-22-5-21 1zM1639 2554l22-1-22-5-21 0zM1575 2550l21-1-21-5-22 1zM1532 2546l21-1-22-5-21 1zM1467 2542l21-1-21-5-22 1zM1510 2547l22-1-22-5-22 0zM1445 2543l22-1-22-5-21 1z"/>
<path fill="#a2d200" d="M513 2434l22-1-22-5-22 1z"/>
<path fill="#9cd200" d="M556 2438l22-1-22-5-21 1zM535 2439l21-1-21-5-22 1z"/>
<path fill="#48a800" d="M1034 2486l22-1-22-6-22 1z"/>
<path fill="#007e0c" d="M2198 2599l22-1-22-5-21 1zM2241 2603l21-2-21-4-21 1zM2155 2595l22-1-22-4-21 1zM2284 2606l21-1-21-5-22 1zM2177 2600l21-1-21-5-22 1zM2048 2589l21-1-21-5-21 1zM2091 2593l21-1-21-5-22 1zM2134 2597l21-2-21-4-22 1zM1941 2582l21-1-21-4-22 1zM1984 2586l21-1-21-5-22 1zM2027 2590l21-1-21-5-22 1zM2070 2594l21-1-22-5-21 1zM1876 2579l22-1-22-4-21 0zM1919 2583l22-1-22-4-21 0zM1962 2587l22-1-22-5-21 1z"/>
<path fill="#007812" d="M2412 2616l22-2-22-4-21 1zM2455 2619l21-2-21-4-21 1zM2498 2622l21-2-21-4-22 1zM2391 2617l21-1-21-5-21 2zM2434 2620l21-1-21-5-22 2zM2477 2623l21-1-22-5-21 2zM2305 2611l22-2-22-4-21 1zM2348 2614l22-1-22-5-21 1z"/>
<path fill="#90cc00" d="M600 2442l22-1-22-5-22 1zM578 2443l22-1-22-5-22 1z"/>
<path fill="#7ec600" d="M687 2451l22-1-22-5-22 1zM665 2452l22-1-22-5-22 1zM643 2453l22-1-22-5-21 1z"/>
<path fill="#66ba00" d="M817 2464l22-1-22-6-22 1zM795 2465l22-1-22-6-21 1zM774 2465l21 0-21-6-22 1z"/>
<path fill="#5ab400" d="M904 2472l22-1-22-5-22 1z"/>
<path fill="#3ca200" d="M1121 2494l21 0-21-6-22 1zM1056 2491l21-1-21-5-22 1z"/>
<path fill="#2a9600" d="M1251 2508l21-1-22-5-21 1zM1229 2509l22-1-22-5-22 0z"/>
<path fill="#008400" d="M1855 2568l21-1-22-5-21 1zM1790 2565l22-1-22-5-22 1zM1833 2569l22-1-22-5-21 1zM1682 2558l22-1-22-5-21 1zM1726 2562l21-1-22-5-21 1zM1769 2566l21-1-22-5-21 1zM1618 2554l21 0-21-6-22 1zM1661 2559l21-1-21-5-22 1zM1704 2563l22-1-22-5-22 1zM1553 2551l22-1-22-5-21 1zM1596 2555l22-1-22-5-21 1zM1532 2552l21-1-21-5-22 1zM1488 2548l22-1-22-6-21 1zM1467 2548l21 0-21-6-22 1z"/>
<path fill="#a2d800" d="M491 2435l22-1-22-5-21 1z"/>
<path fill="#6cc000" d="M752 2460l22-1-22-5-22 1zM730 2461l22-1-22-5-21 1z"/>
<path fill="#42a800" d="M1012 2486l22 0-22-6-21 1zM991 2487l21-1-21-5-22 1z"/>
<path fill="#36a200" d="M1099 2495l22-1-22-5-22 1zM1077 2496l22-1-22-5-21 1zM1056 2497l21-1-21-5-22 1z"/>
<path fill="#249600" d="M1272 2513l22-1-22-5-21 1zM1251 2514l21-1-21-5-22 1zM1207 2510l22-1-22-6-21 1z"/>
<path fill="#1e9000" d="M1315 2518l22-1-22-6-21 1zM1359 2522l21-1-21-5-22 1zM1294 2519l21-1-21-6-22 1z"/>
<path fill="#007e12" d="M2220 2604l21-1-21-5-22 1zM2263 2607l21-1-22-5-21 2zM2155 2601l22-1-22-5-21 2zM2198 2605l22-1-22-5-21 1zM2241 2608l22-1-22-4-21 1zM2113 2598l21-1-22-5-21 1zM2005 2591l22-1-22-5-21 1zM2048 2595l22-1-22-5-21 1zM2091 2599l22-1-22-5-21 1zM1984 2592l21-1-21-5-22 1zM1898 2584l21-1-21-5-22 1zM1941 2588l21-1-21-5-22 1zM1876 2585l22-1-22-5-21 1z"/>
<path fill="#84cc00" d="M622 2448l21-1-21-6-22 1zM600 2449l22-1-22-6-22 1zM578 2450l22-1-22-6-22 1z"/>
<path fill="#54b400" d="M882 2473l22-1-22-5-22 1zM861 2474l21-1-22-5-21 1zM839 2475l22-1-22-5-22 1z"/>
<path fill="#4eae00" d="M926 2478l21-1-21-6-22 1zM904 2478l22 0-22-6-22 1z"/>
<path fill="#48ae00" d="M969 2482l22-1-22-5-22 1zM947 2483l22-1-22-5-21 1z"/>
<path fill="#309c00" d="M1186 2504l21-1-21-5-22 1z"/>
<path fill="#188a00" d="M1402 2527l21-1-21-6-22 1zM1380 2527l22 0-22-6-21 1z"/>
<path fill="#96d200" d="M513 2440l22-1-22-5-22 1z"/>
<path fill="#90d200" d="M556 2444l22-1-22-5-21 1z"/>
<path fill="#72c600" d="M687 2457l22-1-22-5-22 1zM665 2458l22-1-22-5-22 1z"/>
<path fill="#5aba00" d="M817 2470l22-1-22-5-22 1zM795 2471l22-1-22-5-21 0z"/>
<path fill="#3ca800" d="M1034 2492l22-1-22-5-22 0z"/>
<path fill="#30a200" d="M1121 2501l21-1-21-6-22 1zM1099 2501l22 0-22-6-22 1z"/>
<path fill="#189000" d="M1337 2523l22-1-22-5-22 1zM1316 2524l21-1-22-5-21 1z"/>
<path fill="#008406" d="M1855 2574l21 0-21-6-22 1zM1812 2570l21-1-21-5-22 1zM1747 2567l22-1-22-5-21 1zM1790 2571l22-1-22-5-21 1zM1726 2568l21-1-21-5-22 1zM1639 2560l22-1-22-5-21 0zM1683 2564l21-1-22-5-21 1zM1575 2556l21-1-21-5-22 1zM1618 2560l21 0-21-6-22 1zM1510 2553l22-1-22-5-22 1zM1553 2557l22-1-22-5-21 1zM1445 2549l22-1-22-5-21 1zM1489 2553l21 0-22-5-21 0z"/>
<path fill="#007e18" d="M2284 2612l21-1-21-5-21 1zM2306 2616l21-1-22-4-21 1zM2134 2602l21-1-21-4-21 1zM2177 2606l21-1-21-5-22 1zM2220 2610l21-2-21-4-22 1zM2263 2613l21-1-21-5-22 1zM2027 2596l21-1-21-5-22 1zM2113 2604l21-2-21-4-22 1zM2156 2607l21-1-22-5-21 1zM2070 2600l21-1-21-5-22 1zM1962 2593l22-1-22-5-21 1zM2005 2597l22-1-22-5-21 1zM2048 2601l22-1-22-5-21 1zM1919 2589l22-1-22-5-21 1zM1855 2586l21-1-21-5-22 1zM1898 2590l21-1-21-5-22 1z"/>
<path fill="#007818" d="M2370 2618l21-1-21-4-22 1zM2413 2621l21-1-22-4-21 1zM2455 2624l22-1-22-4-21 1zM2327 2615l21-1-21-5-22 2zM2349 2619l21-1-22-4-21 1z"/>
<path fill="#2a9c00" d="M1164 2505l22-1-22-5-22 1zM1142 2506l22-1-22-5-21 1z"/>
<path fill="#128a00" d="M1424 2532l21-1-22-5-21 1zM1359 2528l21-1-21-5-22 1zM1402 2533l22-1-22-5-22 0z"/>
<path fill="#3cae00" d="M969 2488l22-1-22-5-22 1zM947 2489l22-1-22-5-21 1zM926 2490l21-1-21-5-22 1z"/>
<path fill="#1e9600" d="M1229 2515l22-1-22-5-22 1zM1272 2519l22 0-22-6-21 1zM1207 2516l22-1-22-5-21 0z"/>
<path fill="#8ad200" d="M535 2445l21-1-21-5-22 1z"/>
<path fill="#78c600" d="M622 2454l21-1-21-5-22 1z"/>
<path fill="#66c000" d="M709 2462l21-1-21-5-22 1zM687 2463l22-1-22-5-22 1z"/>
<path fill="#60c000" d="M752 2466l22-1-22-5-22 1zM730 2467l22-1-22-5-21 1z"/>
<path fill="#36a800" d="M1012 2493l22-1-22-6-21 1zM991 2493l21 0-21-6-22 1zM969 2494l22-1-22-5-22 1z"/>
<path fill="#00840c" d="M1833 2575l22-1-22-5-21 1zM1769 2572l21-1-21-5-22 1zM1812 2576l21-1-21-5-22 1zM1855 2580l21-1-21-5-22 1zM1704 2569l22-1-22-5-21 1zM1747 2573l22-1-22-5-21 1zM1661 2565l22-1-22-5-22 1zM1683 2570l21-1-21-5-22 1zM1596 2561l22-1-22-5-21 1zM1640 2566l21-1-22-5-21 0zM1532 2558l21-1-21-5-22 1zM1575 2562l21-1-21-5-22 1zM1467 2554l22-1-22-5-22 1zM1510 2559l22-1-22-5-21 0zM1446 2555l21-1-22-5-21 1z"/>
<path fill="#00781e" d="M2391 2623l22-2-22-4-21 1zM2434 2626l21-2-21-4-21 1zM2370 2624l21-1-21-5-21 1zM2413 2627l21-1-21-5-22 2z"/>
<path fill="#4eb400" d="M882 2479l22-1-22-5-21 1z"/>
<path fill="#42ae00" d="M926 2484l21-1-21-5-22 0zM904 2485l22-1-22-6-22 1z"/>
<path fill="#249c00" d="M1186 2510l21 0-21-6-22 1zM1121 2507l21-1-21-5-22 0zM1164 2511l22-1-22-5-22 1z"/>
<path fill="#6cc600" d="M643 2459l22-1-22-5-21 1zM622 2460l21-1-21-5-22 1z"/>
<path fill="#189600" d="M1251 2520l21-1-21-5-22 1zM1229 2521l22-1-22-5-22 1z"/>
<path fill="#007e1e" d="M2284 2617l22-1-22-4-21 1zM2327 2621l22-2-22-4-21 1zM2199 2611l21-1-22-5-21 1zM2241 2614l22-1-22-5-21 2zM2091 2605l22-1-22-5-21 1zM2134 2608l22-1-22-5-21 2zM2177 2612l22-1-22-5-21 1zM2220 2615l21-1-21-4-21 1zM1941 2594l21-1-21-5-22 1zM1984 2598l21-1-21-5-22 1zM2027 2602l21-1-21-5-22 1zM2070 2606l21-1-21-5-22 1zM1920 2595l21-1-22-5-21 1zM1963 2599l21-1-22-5-21 1zM1877 2591l21-1-22-5-21 1zM1855 2592l22-1-22-5-21 1z"/>
<path fill="#7ecc00" d="M556 2450l22 0-22-6-21 1z"/>
<path fill="#78cc00" d="M600 2455l22-1-22-5-22 1zM578 2456l22-1-22-5-22 0z"/>
<path fill="#54ba00" d="M774 2472l21-1-21-6-22 1zM752 2472l22 0-22-6-22 1z"/>
<path fill="#4eba00" d="M817 2476l22-1-22-5-22 1zM795 2477l22-1-22-5-21 1z"/>
<path fill="#48b400" d="M861 2480l21-1-21-5-22 1zM839 2481l22-1-22-5-22 1z"/>
<path fill="#30a800" d="M1034 2498l22-1-22-5-22 1zM1012 2499l22-1-22-5-21 0z"/>
<path fill="#2aa200" d="M1077 2502l22-1-22-5-21 1zM1056 2503l21-1-21-5-22 1z"/>
<path fill="#129000" d="M1294 2525l22-1-22-5-22 0zM1337 2529l22-1-22-5-21 1zM1272 2525l22 0-22-6-21 1z"/>
<path fill="#0c8a00" d="M1380 2533l22 0-22-6-21 1zM1424 2538l21-1-21-5-22 1zM1359 2534l21-1-21-5-22 1z"/>
<path fill="#66c600" d="M665 2464l22-1-22-5-22 1z"/>
<path fill="#5ac000" d="M709 2468l21-1-21-5-22 1zM687 2469l22-1-22-5-22 1z"/>
<path fill="#189c00" d="M1186 2516l21 0-21-6-22 1zM1164 2517l22-1-22-5-22 1z"/>
<path fill="#008412" d="M1790 2577l22-1-22-5-21 1zM1833 2581l22-1-22-5-21 1zM1726 2574l21-1-21-5-22 1zM1769 2578l21-1-21-5-22 1zM1661 2571l22-1-22-5-21 1zM1704 2575l22-1-22-5-21 1zM1618 2566l22 0-22-6-22 1zM1553 2563l22-1-22-5-21 1zM1597 2567l21-1-22-5-21 1zM1489 2559l21 0-21-6-22 1zM1532 2564l21-1-21-5-22 1zM1424 2556l22-1-22-5-22 1zM1467 2560l22-1-22-5-21 1z"/>
<path fill="#007e24" d="M2263 2619l21-2-21-4-22 1zM2306 2622l21-1-21-5-22 1zM2242 2620l21-1-22-5-21 1zM2285 2623l21-1-22-5-21 2zM2113 2609l21-1-21-4-22 1zM2156 2613l21-1-21-5-22 1zM2199 2616l21-1-21-4-22 1zM2006 2603l21-1-22-5-21 1zM2049 2607l21-1-22-5-21 1zM2092 2610l21-1-22-4-21 1zM2135 2614l21-1-22-5-21 1zM1898 2596l22-1-22-5-21 1zM1941 2600l22-1-22-5-21 1zM1984 2604l22-1-22-5-21 1zM1834 2593l21-1-21-5-22 1zM1877 2597l21-1-21-5-22 1z"/>
<path fill="#007824" d="M2349 2625l21-1-21-5-22 2zM2392 2628l21-1-22-4-21 1z"/>
<path fill="#42b400" d="M882 2485l22 0-22-6-21 1z"/>
<path fill="#24a200" d="M1099 2508l22-1-22-6-22 1z"/>
<path fill="#1e9c00" d="M1142 2512l22-1-22-5-21 1zM1121 2513l21-1-21-5-22 1z"/>
<path fill="#0c9000" d="M1316 2530l21-1-21-5-22 1zM1294 2531l22-1-22-5-22 0z"/>
<path fill="#068a00" d="M1402 2539l22-1-22-5-22 0zM1381 2540l21-1-22-6-21 1z"/>
<path fill="#6ccc00" d="M600 2461l22-1-22-5-22 1z"/>
<path fill="#60c600" d="M643 2465l22-1-22-5-21 1zM622 2466l21-1-21-5-22 1z"/>
<path fill="#54c000" d="M730 2473l22-1-22-5-21 1z"/>
<path fill="#36ae00" d="M904 2491l22-1-22-5-22 0z"/>
<path fill="#30ae00" d="M947 2495l22-1-22-5-21 1zM926 2496l21-1-21-5-22 1z"/>
<path fill="#2aa800" d="M991 2499l21 0-21-6-22 1zM969 2500l22-1-22-5-22 1z"/>
<path fill="#24a800" d="M1034 2504l22-1-22-5-22 1zM1013 2505l21-1-22-5-21 0z"/>
<path fill="#129600" d="M1207 2522l22-1-22-5-21 0zM1186 2522l21 0-21-6-22 1z"/>
<path fill="#0c9600" d="M1251 2526l21-1-21-5-22 1zM1229 2527l22-1-22-5-22 1z"/>
<path fill="#008a00" d="M1424 2544l21-1-21-5-22 1zM1402 2545l22-1-22-5-21 1zM1359 2540l22 0-22-6-22 1z"/>
<path fill="#008418" d="M1812 2582l21-1-21-5-22 1zM1747 2579l22-1-22-5-21 1zM1791 2583l21-1-22-5-21 1zM1834 2587l21-1-22-5-21 1zM1640 2572l21-1-21-5-22 0zM1683 2576l21-1-21-5-22 1zM1726 2580l21-1-21-5-22 1zM1575 2568l22-1-22-5-22 1zM1618 2572l22 0-22-6-21 1zM1510 2565l22-1-22-5-21 0zM1554 2569l21-1-22-5-21 1zM1446 2561l21-1-21-5-22 1zM1489 2565l21 0-21-6-22 1z"/>
<path fill="#007e2a" d="M2327 2626l22-1-22-4-21 1zM2220 2621l22-1-22-5-21 1zM2263 2624l22-1-22-4-21 1zM2306 2628l21-2-21-4-21 1zM2349 2631l21-1-21-5-22 1zM2177 2618l22-2-22-4-21 1zM2027 2608l22-1-22-5-21 1zM2070 2611l22-1-22-4-21 1zM2113 2615l22-1-22-5-21 1zM2199 2622l21-1-21-5-22 2zM2156 2619l21-1-21-5-21 1zM1920 2601l21-1-21-5-22 1zM1963 2605l21-1-21-5-22 1zM2006 2609l21-1-21-5-22 1zM2049 2612l21-1-21-4-22 1zM1812 2594l22-1-22-5-21 1zM1855 2598l22-1-22-5-21 1zM1898 2602l22-1-22-5-21 1zM1791 2595l21-1-21-5-22 1zM1834 2599l21-1-21-5-22 1zM1489 2577l22-1-22-5-22 1z"/>
<path fill="#00782a" d="M2370 2630l22-2-22-4-21 1z"/>
<path fill="#48ba00" d="M774 2478l21-1-21-5-22 0zM752 2478l22 0-22-6-22 1z"/>
<path fill="#42ba00" d="M817 2482l22-1-22-5-22 1zM796 2483l21-1-22-5-21 1z"/>
<path fill="#3cb400" d="M861 2486l21-1-21-5-22 1zM839 2487l22-1-22-5-22 1z"/>
<path fill="#1ea200" d="M1078 2508l21 0-22-6-21 1zM1056 2509l22-1-22-5-22 1z"/>
<path fill="#069000" d="M1337 2535l22-1-22-5-21 1zM1272 2531l22 0-22-6-21 1zM1316 2536l21-1-21-5-22 1z"/>
<path fill="#54c600" d="M665 2470l22-1-22-5-22 1zM643 2471l22-1-22-5-21 1z"/>
<path fill="#4ec000" d="M709 2474l21-1-21-5-22 1zM687 2475l22-1-22-5-22 1z"/>
<path fill="#36b400" d="M882 2491l22 0-22-6-21 1zM817 2488l22-1-22-5-21 1z"/>
<path fill="#129c00" d="M1143 2518l21-1-22-5-21 1zM1121 2519l22-1-22-5-22 1z"/>
<path fill="#18a200" d="M1099 2514l22-1-22-5-21 0zM1034 2510l22-1-22-5-21 1zM1078 2514l21 0-21-6-22 1z"/>
<path fill="#48c000" d="M730 2479l22-1-22-5-21 1z"/>
<path fill="#3cba00" d="M774 2483l22 0-22-5-22 0zM752 2484l22-1-22-5-22 1z"/>
<path fill="#30b400" d="M861 2492l21-1-21-5-22 1zM839 2493l22-1-22-5-22 1z"/>
<path fill="#2aae00" d="M904 2497l22-1-22-5-22 0zM882 2497l22 0-22-6-21 1z"/>
<path fill="#24ae00" d="M947 2501l22-1-22-5-21 1zM926 2502l21-1-21-5-22 1z"/>
<path fill="#1ea800" d="M991 2505l22 0-22-6-22 1zM969 2506l22-1-22-5-22 1z"/>
<path fill="#0c9c00" d="M1164 2523l22-1-22-5-21 1zM1143 2524l21-1-21-5-22 1z"/>
<path fill="#069600" d="M1208 2528l21-1-22-5-21 0zM1251 2532l21-1-21-5-22 1zM1186 2528l22 0-22-6-22 1z"/>
<path fill="#009000" d="M1294 2537l22-1-22-5-22 0zM1337 2541l22-1-22-5-21 1zM1273 2537l21 0-22-6-21 1z"/>
<path fill="#008a06" d="M1381 2545l21 0-21-5-22 0zM1424 2550l21-1-21-5-22 1zM1359 2546l22-1-22-5-22 1z"/>
<path fill="#00841e" d="M1769 2584l22-1-22-5-22 1zM1812 2588l22-1-22-5-21 1zM1661 2577l22-1-22-5-21 1zM1704 2581l22-1-22-5-21 1zM1748 2585l21-1-22-5-21 1zM1597 2573l21-1-21-5-22 1zM1640 2577l21 0-21-5-22 0zM1683 2582l21-1-21-5-22 1zM1532 2570l22-1-22-5-22 1zM1575 2574l22-1-22-5-21 1zM1424 2562l22-1-22-5-22 1zM1467 2566l22-1-22-5-21 1zM1510 2570l22 0-22-5-21 0zM1446 2567l21-1-21-5-22 1z"/>
<path fill="#007e30" d="M2242 2626l21-2-21-4-22 1zM2285 2629l21-1-21-5-22 1zM2328 2632l21-1-22-5-21 2zM2092 2616l21-1-21-5-22 1zM2135 2620l21-1-21-5-22 1zM2178 2623l21-1-22-4-21 1zM2221 2627l21-1-22-5-21 1zM2263 2630l22-1-22-5-21 2zM1941 2606l22-1-22-5-21 1zM1984 2610l22-1-22-5-21 1zM2027 2614l22-2-22-4-21 1zM2070 2617l22-1-22-5-21 1zM1877 2603l21-1-21-5-22 1zM1920 2607l21-1-21-5-22 1zM1963 2611l21-1-21-5-22 1zM1769 2596l22-1-22-5-21 1zM1812 2600l22-1-22-5-21 1zM1855 2604l22-1-22-5-21 1zM1748 2597l21-1-21-5-22 1zM1575 2586l22-1-22-5-21 1zM1532 2581l22 0-22-5-21 0zM1511 2582l21-1-21-5-22 1z"/>
<path fill="#48c600" d="M665 2476l22-1-22-5-22 1z"/>
<path fill="#42c000" d="M709 2480l21-1-21-5-22 1zM687 2481l22-1-22-5-22 1z"/>
<path fill="#36ba00" d="M796 2489l21-1-21-5-22 0z"/>
<path fill="#18a800" d="M1013 2511l21-1-21-5-22 0z"/>
<path fill="#12a200" d="M1056 2515l22-1-22-5-22 1zM1034 2516l22-1-22-5-21 1z"/>
<path fill="#0ca200" d="M1099 2519l22 0-22-5-21 0zM1078 2520l21-1-21-5-22 1z"/>
<path fill="#009600" d="M1229 2533l22-1-22-5-21 1zM1208 2534l21-1-21-5-22 0z"/>
<path fill="#009006" d="M1316 2542l21-1-21-5-22 1zM1294 2543l22-1-22-5-21 0z"/>
<path fill="#008a0c" d="M1402 2551l22-1-22-5-21 0zM1337 2547l22-1-22-5-21 1zM1381 2551l21 0-21-6-22 1z"/>
<path fill="#008424" d="M1791 2589l21-1-21-5-22 1zM1726 2586l22-1-22-5-22 1zM1769 2590l22-1-22-5-21 1zM1618 2578l22-1-22-5-21 1zM1661 2582l22 0-22-5-21 0zM1705 2587l21-1-22-5-21 1zM1554 2575l21-1-21-5-22 1zM1597 2579l21-1-21-5-22 1zM1489 2571l21-1-21-5-22 1zM1532 2576l22-1-22-5-22 0zM1424 2568l22-1-22-5-22 0zM1467 2572l22-1-22-5-21 1z"/>
<path fill="#007e36" d="M2306 2633l22-1-22-4-21 1zM2113 2621l22-1-22-5-21 1zM2156 2624l22-1-22-4-21 1zM2199 2628l22-1-22-5-21 1zM2242 2631l21-1-21-4-21 1zM2285 2634l21-1-21-4-22 1zM2006 2615l21-1-21-5-22 1zM2049 2618l21-1-21-5-22 2zM2092 2622l21-1-21-5-22 1zM2135 2625l21-1-21-4-22 1zM1942 2612l21-1-22-5-21 1zM1899 2608l21-1-22-5-21 1zM1985 2616l21-1-22-5-21 1zM1791 2601l21-1-21-5-22 1zM1834 2605l21-1-21-5-22 1zM1877 2609l22-1-22-5-22 1zM1683 2593l22 0-22-5-21 0zM1726 2597l22 0-22-5-21 1zM1769 2602l22-1-22-5-21 1zM1619 2590l21-1-22-5-21 1zM1662 2594l21-1-21-5-22 1zM1705 2598l21-1-21-4-22 0zM1554 2586l21 0-21-5-22 0zM1597 2591l22-1-22-5-22 1zM1532 2587l22-1-22-5-21 1zM1489 2583l22-1-22-5-21 1z"/>
<path fill="#36c000" d="M730 2485l22-1-22-5-21 1zM709 2486l21-1-21-5-22 1z"/>
<path fill="#30ba00" d="M774 2489l22 0-22-6-22 1zM752 2490l22-1-22-5-22 1z"/>
<path fill="#2ab400" d="M817 2494l22-1-22-5-21 1z"/>
<path fill="#24b400" d="M861 2498l21-1-21-5-22 1zM839 2499l22-1-22-5-22 1z"/>
<path fill="#1eae00" d="M904 2502l22 0-22-5-22 0zM882 2503l22-1-22-5-21 1z"/>
<path fill="#18ae00" d="M948 2507l21-1-22-5-21 1zM926 2508l22-1-22-5-22 0z"/>
<path fill="#12a800" d="M991 2511l22 0-22-6-22 1zM969 2512l22-1-22-5-21 1z"/>
<path fill="#069c00" d="M1121 2525l22-1-22-5-22 0z"/>
<path fill="#009c00" d="M1164 2529l22-1-22-5-21 1zM1099 2525l22 0-22-6-21 1zM1143 2530l21-1-21-5-22 1z"/>
<path fill="#009606" d="M1251 2538l22-1-22-5-22 1zM1186 2534l22 0-22-6-22 1zM1229 2539l22-1-22-5-21 1z"/>
<path fill="#2aba00" d="M796 2494l21 0-21-5-22 0zM730 2491l22-1-22-5-21 1z"/>
<path fill="#007e3c" d="M2178 2629l21-1-21-5-22 1zM2221 2632l21-1-21-4-22 1zM2264 2636l21-2-22-4-21 1zM2156 2630l22-1-22-5-21 1zM2199 2633l22-1-22-4-21 1zM2028 2619l21-1-22-4-21 1zM2071 2623l21-1-22-5-21 1zM2114 2627l21-2-22-4-21 1zM1920 2613l22-1-22-5-21 1zM1963 2616l22 0-22-5-21 1zM2006 2620l22-1-22-4-21 1zM2049 2624l22-1-22-5-21 1zM1899 2614l21-1-21-5-22 1zM1813 2606l21-1-22-5-21 1zM1856 2610l21-1-22-5-21 1zM1748 2602l21 0-21-5-22 0zM1791 2607l22-1-22-5-22 1zM1640 2595l22-1-22-5-21 1zM1683 2599l22-1-22-5-21 1zM1727 2603l21-1-22-5-21 1zM1576 2591l21 0-22-5-21 0zM1619 2596l21-1-21-5-22 1zM1511 2588l21-1-21-5-22 1zM1554 2592l22-1-22-5-22 1zM1489 2589l22-1-22-5-21 0z"/>
<path fill="#0ca800" d="M1013 2516l21 0-21-5-22 0zM948 2513l21-1-21-5-22 1z"/>
<path fill="#06a200" d="M1056 2521l22-1-22-5-22 1zM1034 2522l22-1-22-5-21 0z"/>
<path fill="#00900c" d="M1273 2543l21 0-21-6-22 1z"/>
<path fill="#009012" d="M1316 2548l21-1-21-5-22 1zM1251 2544l22-1-22-5-22 1zM1294 2548l22 0-22-5-21 0z"/>
<path fill="#008a12" d="M1359 2552l22-1-22-5-22 1z"/>
<path fill="#008a18" d="M1402 2557l22-1-22-5-21 0zM1338 2553l21-1-22-5-21 1zM1381 2557l21 0-21-6-22 1z"/>
<path fill="#00842a" d="M1748 2591l21-1-21-5-22 1zM1640 2583l21-1-21-5-22 1zM1683 2588l22-1-22-5-22 0zM1726 2592l22-1-22-5-21 1zM1618 2584l22-1-22-5-21 1zM1575 2580l22-1-22-5-21 1zM1511 2576l21 0-22-6-21 1zM1554 2581l21-1-21-5-22 1zM1403 2568l21 0-22-6-21 1zM1446 2573l21-1-21-5-22 1z"/>
<path fill="#24ba00" d="M774 2495l22-1-22-5-22 1zM752 2496l22-1-22-5-22 1z"/>
<path fill="#1eb400" d="M817 2499l22 0-22-5-21 0zM796 2500l21-1-21-5-22 1z"/>
<path fill="#18b400" d="M861 2504l21-1-21-5-22 1zM839 2505l22-1-22-5-22 0z"/>
<path fill="#12ae00" d="M904 2508l22 0-22-6-22 1zM882 2509l22-1-22-5-21 1z"/>
<path fill="#06a800" d="M991 2517l22-1-22-5-22 1zM969 2518l22-1-22-5-21 1z"/>
<path fill="#00a200" d="M1078 2526l21-1-21-5-22 1zM1013 2522l21 0-21-6-22 1z"/>
<path fill="#009c06" d="M1121 2531l22-1-22-5-22 0zM1164 2535l22-1-22-5-21 1zM1099 2531l22 0-22-6-21 1z"/>
<path fill="#00960c" d="M1208 2540l21-1-21-5-22 0z"/>
<path fill="#007e42" d="M2242 2637l22-1-22-5-21 1zM2135 2631l21-1-21-5-21 2zM2178 2635l21-2-21-4-22 1zM2221 2638l21-1-21-5-22 1zM2092 2628l22-1-22-5-21 1zM1942 2617l21-1-21-4-22 1zM1985 2621l21-1-21-4-22 0zM2028 2625l21-1-21-5-22 1zM2071 2629l21-1-21-5-22 1zM1877 2614l22 0-22-5-21 1zM1920 2618l22-1-22-4-21 1zM1963 2622l22-1-22-5-21 1zM1834 2611l22-1-22-5-21 1zM1770 2607l21 0-22-5-21 0zM1856 2615l21-1-21-4-22 1zM1813 2611l21 0-21-5-22 1zM1705 2604l22-1-22-5-22 1zM1662 2600l21-1-21-5-22 1zM1748 2608l22-1-22-5-21 1zM1597 2596l22 0-22-5-21 0zM1640 2601l22-1-22-5-21 1zM1533 2593l21-1-22-5-21 1zM1576 2597l21-1-21-5-22 1zM1468 2589l21 0-21-6-22 1zM1511 2594l22-1-22-5-22 1z"/>
<path fill="#00a206" d="M1056 2527l22-1-22-5-22 1zM1034 2527l22 0-22-5-21 0z"/>
<path fill="#008a1e" d="M1359 2558l22-1-22-5-21 1zM1402 2562l22 0-22-5-21 0zM1338 2559l21-1-21-5-22 1z"/>
<path fill="#0cae00" d="M926 2513l22 0-22-5-22 0zM861 2510l21-1-21-5-22 1z"/>
<path fill="#009c0c" d="M1143 2536l21-1-21-5-22 1z"/>
<path fill="#009612" d="M1186 2540l22 0-22-6-22 1zM1229 2545l22-1-22-5-21 1zM1164 2541l22-1-22-5-21 1z"/>
<path fill="#009018" d="M1273 2549l21-1-21-5-22 1zM1316 2554l22-1-22-5-22 0zM1251 2550l22-1-22-5-22 1z"/>
<path fill="#008430" d="M1662 2588l21 0-22-6-21 1zM1705 2593l21-1-21-5-22 1zM1597 2585l21-1-21-5-22 1zM1640 2589l22-1-22-5-22 1zM1424 2573l22 0-22-5-21 0zM1468 2578l21-1-22-5-21 1zM1403 2574l21-1-21-5-22 1z"/>
<path fill="#18ba00" d="M774 2501l22-1-22-5-22 1z"/>
<path fill="#12b400" d="M817 2505l22 0-22-6-21 1z"/>
<path fill="#00a806" d="M991 2523l22-1-22-5-22 1zM969 2524l22-1-22-5-21 1z"/>
<path fill="#00a20c" d="M1078 2532l21-1-21-5-22 1zM1013 2528l21-1-21-5-22 1z"/>
<path fill="#008a24" d="M1381 2563l21-1-21-5-22 1zM1359 2564l22-1-22-5-21 1z"/>
<path fill="#007e48" d="M2114 2632l21-1-21-4-22 1zM2157 2636l21-1-22-5-21 1zM2200 2639l21-1-22-5-21 2zM2006 2626l22-1-22-5-21 1zM2092 2633l22-1-22-4-21 1zM2135 2637l22-1-22-5-21 1zM2049 2630l22-1-22-5-21 1zM1899 2619l21-1-21-4-22 0zM1942 2623l21-1-21-5-22 1zM1985 2627l21-1-21-5-22 1zM1791 2612l22-1-22-4-21 0zM1834 2616l22-1-22-4-21 0zM1877 2620l22-1-22-5-21 1zM1684 2605l21-1-22-5-21 1zM1727 2609l21-1-21-5-22 1zM1770 2613l21-1-21-5-22 1zM1662 2606l22-1-22-5-22 1zM1619 2601l21 0-21-5-22 0zM1554 2598l22-1-22-5-21 1zM1597 2602l22-1-22-5-21 1zM1489 2594l22 0-22-5-21 0zM1533 2599l21-1-21-5-22 1z"/>
<path fill="#06ae00" d="M904 2514l22-1-22-5-22 1zM883 2515l21-1-22-5-21 1z"/>
<path fill="#00a800" d="M948 2519l21-1-21-5-22 0z"/>
<path fill="#009c12" d="M1121 2536l22 0-22-5-22 0zM1099 2537l22-1-22-5-21 1z"/>
<path fill="#009618" d="M1208 2545l21 0-21-5-22 0zM1186 2546l22-1-22-5-22 1z"/>
<path fill="#00901e" d="M1294 2554l22 0-22-6-21 1zM1273 2555l21-1-21-5-22 1z"/>
<path fill="#0cb400" d="M796 2506l21-1-21-5-22 1z"/>
<path fill="#06b400" d="M839 2510l22 0-22-5-22 0zM817 2511l22-1-22-5-21 1z"/>
<path fill="#00a212" d="M1056 2533l22-1-22-5-22 0zM1034 2533l22 0-22-6-21 1z"/>
<path fill="#00961e" d="M1229 2550l22 0-22-5-21 0zM1165 2547l21-1-22-5-21 1z"/>
<path fill="#009024" d="M1316 2559l22 0-22-5-22 0zM1251 2556l22-1-22-5-22 0z"/>
<path fill="#007e4e" d="M2178 2640l22-1-22-4-21 1zM2028 2631l21-1-21-5-22 1zM2071 2634l21-1-21-4-22 1zM2114 2638l21-1-21-5-22 1zM2157 2641l21-1-21-4-22 1zM2007 2632l21-1-22-5-21 1zM1921 2624l21-1-22-5-21 1zM1964 2628l21-1-22-5-21 1zM1813 2617l21-1-21-5-22 1zM1856 2621l21-1-21-5-22 1zM1899 2625l22-1-22-5-22 1zM1705 2610l22-1-22-5-21 1zM1748 2614l22-1-22-5-21 1zM1791 2618l22-1-22-5-21 1zM1641 2606l21 0-22-5-21 0zM1684 2611l21-1-21-5-22 1zM1576 2603l21-1-21-5-22 1zM1619 2607l22-1-22-5-22 1zM1468 2595l21-1-21-5-22 1zM1511 2599l22 0-22-5-22 0zM1554 2604l22-1-22-5-21 1z"/>
<path fill="#00ae00" d="M926 2519l22 0-22-6-22 1zM861 2515l22 0-22-5-22 0z"/>
<path fill="#009c18" d="M1143 2542l21-1-21-5-22 0zM1078 2538l21-1-21-5-22 1zM1121 2542l22 0-22-6-22 1z"/>
<path fill="#00a80c" d="M948 2524l21 0-21-5-22 0zM991 2529l22-1-22-5-22 1zM926 2525l22-1-22-5-22 1z"/>
<path fill="#00ae06" d="M904 2520l22-1-22-5-21 1z"/>
<path fill="#009624" d="M1208 2551l21-1-21-5-22 1zM1186 2552l22-1-22-5-21 1z"/>
<path fill="#00902a" d="M1294 2560l22-1-22-5-21 1zM1273 2561l21-1-21-5-22 1zM1230 2556l21 0-22-6-21 1z"/>
<path fill="#008a2a" d="M1338 2565l21-1-21-5-22 0zM1381 2569l22-1-22-5-22 1z"/>
<path fill="#00a812" d="M969 2529l22 0-22-5-21 0z"/>
<path fill="#008436" d="M1446 2578l22 0-22-5-22 0zM1424 2579l22-1-22-5-21 1z"/>
<path fill="#007e54" d="M2050 2635l21-1-22-4-21 1zM2093 2639l21-1-22-5-21 1zM2136 2642l21-1-22-4-21 1zM1985 2633l22-1-22-5-21 1zM2028 2636l22-1-22-4-21 1zM2071 2640l22-1-22-5-21 1zM1942 2629l22-1-22-5-21 1zM1835 2622l21-1-22-5-21 1zM1878 2626l21-1-22-5-21 1zM1921 2630l21-1-21-5-22 1zM1727 2615l21-1-21-5-22 1zM1770 2619l21-1-21-5-22 1zM1813 2623l22-1-22-5-22 1zM1662 2611l22 0-22-5-21 0zM1705 2616l22-1-22-5-21 1zM1598 2608l21-1-22-5-21 1zM1641 2612l21-1-21-5-22 1zM1490 2600l21-1-22-5-21 1zM1533 2604l21 0-21-5-22 0zM1576 2609l22-1-22-5-22 1zM1468 2601l22-1-22-5-22 1z"/>
<path fill="#00b406" d="M839 2516l22-1-22-5-22 1z"/>
<path fill="#00ae0c" d="M883 2520l21 0-21-5-22 0zM861 2521l22-1-22-5-22 1z"/>
<path fill="#00a218" d="M1013 2534l21-1-21-5-22 1zM1056 2538l22 0-22-5-22 0z"/>
<path fill="#009c1e" d="M1100 2543l21-1-22-5-21 1z"/>
<path fill="#009c24" d="M1143 2547l22 0-22-5-22 0zM1078 2543l22 0-22-5-22 0zM1121 2548l22-1-22-5-21 1z"/>
<path fill="#008a30" d="M1316 2565l22 0-22-6-22 1zM1359 2570l22-1-22-5-21 1z"/>
<path fill="#00ae12" d="M904 2525l22 0-22-5-21 0z"/>
<path fill="#00a818" d="M948 2530l21-1-21-5-22 1zM991 2534l22 0-22-5-22 0zM926 2531l22-1-22-5-22 0z"/>
<path fill="#00962a" d="M1165 2552l21 0-21-5-22 0zM1208 2557l22-1-22-5-22 1z"/>
<path fill="#009030" d="M1251 2561l22 0-22-5-21 0zM1295 2566l21-1-22-5-21 1zM1230 2562l21-1-21-5-22 1z"/>
<path fill="#00843c" d="M1468 2583l21 0-21-5-22 0zM1403 2580l21-1-21-5-22 1zM1446 2584l22-1-22-5-22 1z"/>
<path fill="#00a21e" d="M1035 2539l21-1-22-5-21 1z"/>
<path fill="#008a36" d="M1338 2570l21 0-21-5-22 0zM1381 2575l22-1-22-5-22 1zM1316 2571l22-1-22-5-21 1z"/>
<path fill="#007e5a" d="M2114 2643l22-1-22-4-21 1zM1964 2634l21-1-21-5-22 1zM2007 2637l21-1-21-4-22 1zM2050 2641l21-1-21-5-22 1zM2093 2645l21-2-21-4-22 1zM1856 2627l22-1-22-5-21 1zM1942 2635l22-1-22-5-21 1zM1899 2631l22-1-22-5-21 1zM1748 2620l22-1-22-5-21 1zM1792 2624l21-1-22-5-21 1zM1835 2628l21-1-21-5-22 1zM1684 2616l21 0-21-5-22 0zM1727 2620l21 0-21-5-22 1zM1619 2613l22-1-22-5-21 1zM1662 2617l22-1-22-5-21 1zM1554 2609l22 0-22-5-21 0zM1598 2614l21-1-21-5-22 1zM1511 2605l22-1-22-5-21 1zM1446 2601l22 0-22-5-21 0zM1490 2606l21-1-21-5-22 1z"/>
<path fill="#00ae18" d="M883 2526l21-1-21-5-22 1z"/>
<path fill="#00a81e" d="M969 2535l22-1-22-5-21 1z"/>
<path fill="#00a224" d="M1013 2540l22-1-22-5-22 0zM1056 2544l22-1-22-5-21 1zM991 2540l22 0-22-6-22 1z"/>
<path fill="#009630" d="M1143 2553l22-1-22-5-22 1zM1186 2557l22 0-22-5-21 0z"/>
<path fill="#009036" d="M1273 2566l22 0-22-5-22 0z"/>
<path fill="#009c2a" d="M1100 2549l21-1-21-5-22 0z"/>
<path fill="#008a3c" d="M1360 2575l21 0-22-5-21 0zM1338 2576l22-1-22-5-22 1z"/>
<path fill="#00ae1e" d="M904 2531l22 0-22-6-21 1z"/>
<path fill="#00a824" d="M948 2536l21-1-21-5-22 1zM926 2536l22 0-22-5-22 0z"/>
<path fill="#00a22a" d="M1035 2545l21-1-21-5-22 1z"/>
<path fill="#009c30" d="M1121 2554l22-1-22-5-21 1zM1078 2549l22 0-22-6-22 1zM1056 2550l22-1-22-5-21 1z"/>
<path fill="#009636" d="M1165 2558l21-1-21-5-22 1zM1208 2563l22-1-22-5-22 0zM1143 2559l22-1-22-5-22 1z"/>
<path fill="#00903c" d="M1251 2567l22-1-22-5-21 1zM1295 2572l21-1-21-5-22 0zM1230 2568l21-1-21-5-22 1z"/>
<path fill="#008a42" d="M1381 2580l22 0-22-5-21 0zM1316 2577l22-1-22-5-21 1zM1360 2581l21-1-21-5-22 1z"/>
<path fill="#008442" d="M1425 2585l21-1-22-5-21 1z"/>
<path fill="#007e60" d="M1985 2638l22-1-22-4-21 1zM2028 2642l22-1-22-5-21 1zM2071 2646l22-1-22-5-21 1zM1878 2632l21-1-21-5-22 1zM1921 2635l21 0-21-5-22 1zM1964 2639l21-1-21-4-22 1zM2007 2643l21-1-21-5-22 1zM1770 2624l22 0-22-5-22 1zM1813 2629l22-1-22-5-21 1zM1856 2632l22 0-22-5-21 1zM1706 2621l21-1-22-4-21 0zM1749 2625l21-1-22-4-21 0zM1792 2629l21 0-21-5-22 0zM1684 2622l22-1-22-5-22 1zM1641 2618l21-1-21-5-22 1zM1533 2610l21-1-21-5-22 1zM1576 2614l22 0-22-5-22 0zM1619 2619l22-1-22-5-21 1zM1468 2606l22 0-22-5-22 0zM1511 2611l22-1-22-5-21 1z"/>
<path fill="#00a82a" d="M970 2541l21-1-22-5-21 1z"/>
<path fill="#00a230" d="M1013 2545l22 0-22-5-22 0zM991 2546l22-1-22-5-21 1z"/>
<path fill="#009c36" d="M1100 2554l21 0-21-5-22 0z"/>
<path fill="#00963c" d="M1186 2563l22 0-22-6-21 1z"/>
<path fill="#009042" d="M1273 2572l22 0-22-6-22 1zM1208 2568l22 0-22-5-22 0zM1251 2573l22-1-22-5-21 1z"/>
<path fill="#008448" d="M1403 2586l22-1-22-5-22 0zM1446 2590l22-1-22-5-21 1zM1381 2586l22 0-22-6-21 1zM1425 2591l21-1-21-5-22 1z"/>
<path fill="#007e66" d="M2050 2647l21-1-21-5-22 1zM1899 2636l22-1-22-4-21 1zM1942 2640l22-1-22-4-21 0zM1986 2644l21-1-22-5-21 1zM2029 2648l21-1-22-5-21 1zM1835 2633l21-1-21-4-22 1zM1878 2637l21-1-21-4-22 0zM1727 2626l22-1-22-5-21 1zM1770 2630l22-1-22-5-21 1zM1813 2634l22-1-22-4-21 0zM1663 2623l21-1-22-5-21 1zM1706 2627l21-1-21-5-22 1zM1641 2623l22 0-22-5-22 1zM1555 2615l21-1-22-5-21 1zM1598 2619l21 0-21-5-22 0zM1490 2611l21 0-21-5-22 0zM1447 2607l21-1-22-5-21 1zM1533 2616l22-1-22-5-22 1zM1468 2612l22-1-22-5-21 1z"/>
<path fill="#00a830" d="M948 2541l22 0-22-5-22 0z"/>
<path fill="#00a236" d="M1035 2550l21 0-21-5-22 0zM970 2546l21 0-21-5-22 0z"/>
<path fill="#009c3c" d="M1078 2555l22-1-22-5-22 1zM1121 2559l22 0-22-5-21 0zM1056 2555l22 0-22-5-21 0z"/>
<path fill="#009642" d="M1165 2564l21-1-21-5-22 1zM1143 2564l22 0-22-5-22 0z"/>
<path fill="#008a48" d="M1295 2577l21 0-21-5-22 0zM1338 2582l22-1-22-5-22 1z"/>
<path fill="#00a23c" d="M1013 2551l22-1-22-5-22 1zM991 2551l22 0-22-5-21 0z"/>
<path fill="#009c42" d="M1100 2560l21-1-21-5-22 1zM1078 2560l22 0-22-5-22 0z"/>
<path fill="#009648" d="M1187 2569l21-1-22-5-21 1zM1122 2565l21-1-22-5-21 1zM1165 2569l22 0-22-5-22 0z"/>
<path fill="#009048" d="M1230 2573l21 0-21-5-22 0zM1273 2578l22-1-22-5-22 1z"/>
<path fill="#008a4e" d="M1316 2582l22 0-22-5-21 0zM1360 2587l21-1-21-5-22 1zM1295 2583l21-1-21-5-22 1z"/>
<path fill="#00844e" d="M1403 2591l22 0-22-5-22 0zM1446 2596l22-1-22-5-21 1z"/>
<path fill="#007e6c" d="M1921 2641l21-1-21-5-22 1zM1964 2645l22-1-22-5-22 1zM2007 2649l22-1-22-5-21 1zM1857 2638l21-1-22-5-21 1zM1900 2642l21-1-22-5-21 1zM1943 2646l21-1-22-5-21 1zM1835 2639l22-1-22-5-22 1zM1749 2631l21-1-21-5-22 1zM1792 2635l21-1-21-5-22 1zM1684 2628l22-1-22-5-21 1zM1727 2632l22-1-22-5-21 1zM1619 2624l22-1-22-4-21 0zM1663 2628l21 0-21-5-22 0zM1576 2620l22-1-22-5-21 1zM1512 2616l21 0-22-5-21 0zM1555 2621l21-1-21-5-22 1zM1447 2613l21-1-21-5-22 1zM1490 2617l22-1-22-5-22 1z"/>
<path fill="#008454" d="M1381 2592l22-1-22-5-21 1zM1425 2596l21 0-21-5-22 0z"/>
<path fill="#00a242" d="M1035 2556l21-1-21-5-22 1z"/>
<path fill="#00904e" d="M1208 2574l22-1-22-5-21 1zM1252 2578l21 0-22-5-21 0z"/>
<path fill="#008a54" d="M1338 2587l22 0-22-5-22 0zM1317 2588l21-1-22-5-21 1z"/>
<path fill="#007e72" d="M1986 2650l21-1-21-5-22 1zM1878 2643l22-1-22-5-21 1zM1964 2650l22 0-22-5-21 1zM1921 2647l22-1-22-5-21 1zM1814 2640l21-1-22-5-21 1zM1857 2644l21-1-21-5-22 1zM1770 2636l22-1-22-5-21 1zM1749 2637l21-1-21-5-22 1zM1706 2633l21-1-21-5-22 1zM1598 2625l21-1-21-5-22 1zM1641 2629l22-1-22-5-22 1zM1684 2633l22 0-22-5-21 0zM1533 2621l22 0-22-5-21 0zM1576 2626l22-1-22-5-21 1zM1425 2613l22 0-22-5-22 0zM1468 2618l22-1-22-5-21 1zM1512 2622l21-1-21-5-22 1z"/>
<path fill="#00a248" d="M1013 2556l22 0-22-5-22 0z"/>
<path fill="#009c4e" d="M1100 2565l22 0-22-5-22 0zM1078 2566l22-1-22-5-22 1zM1035 2561l21 0-21-5-22 0z"/>
<path fill="#00964e" d="M1143 2570l22-1-22-5-21 1zM1187 2574l21 0-21-5-22 0z"/>
<path fill="#009054" d="M1273 2583l22 0-22-5-21 0zM1230 2579l22-1-22-5-22 1z"/>
<path fill="#00845a" d="M1360 2592l21 0-21-5-22 0zM1403 2597l22-1-22-5-22 1z"/>
<path fill="#009c48" d="M1056 2561l22-1-22-5-21 1z"/>
<path fill="#008a5a" d="M1338 2593l22-1-22-5-21 1zM1295 2589l22-1-22-5-22 0z"/>
<path fill="#007e78" d="M1900 2648l21-1-21-5-22 1zM1943 2651l21-1-21-4-22 1zM1878 2649l22-1-22-5-21 1zM1792 2641l22-1-22-5-22 1zM1835 2645l22-1-22-5-21 1zM1728 2637l21 0-22-5-21 1zM1771 2641l21 0-22-5-21 1zM1620 2630l21-1-22-5-21 1zM1663 2634l21-1-21-5-22 1zM1706 2638l22-1-22-4-22 0zM1555 2626l21 0-21-5-22 0zM1598 2631l22-1-22-5-22 1zM1447 2618l21 0-21-5-22 0zM1533 2627l22-1-22-5-21 1zM1490 2623l22-1-22-5-22 1z"/>
<path fill="#009654" d="M1122 2570l21 0-21-5-22 0zM1165 2575l22-1-22-5-22 1z"/>
<path fill="#00905a" d="M1252 2584l21-1-21-5-22 1zM1208 2580l22-1-22-5-21 0zM1187 2580l21 0-21-6-22 1z"/>
<path fill="#008460" d="M1382 2597l21 0-22-5-21 0zM1425 2602l21-1-21-5-22 1zM1360 2598l22-1-22-5-22 1zM1403 2602l22 0-22-5-21 0z"/>
<path fill="#009c54" d="M1057 2566l21 0-22-5-21 0z"/>
<path fill="#009c5a" d="M1100 2571l22-1-22-5-22 1zM1078 2571l22 0-22-5-21 0z"/>
<path fill="#009060" d="M1230 2585l22-1-22-5-22 1zM1208 2585l22 0-22-5-21 0z"/>
<path fill="#008a60" d="M1317 2594l21-1-21-5-22 1zM1273 2589l22 0-22-6-21 1z"/>
<path fill="#007e7e" d="M1921 2652l22-1-22-4-21 1zM1857 2649l21 0-21-5-22 1zM1900 2653l21-1-21-4-22 1zM1814 2645l21 0-21-5-22 1zM1749 2642l22-1-22-4-21 0zM1792 2646l22-1-22-4-21 0zM1641 2635l22-1-22-5-21 1zM1685 2639l21-1-22-5-21 1zM1577 2631l21 0-22-5-21 0zM1620 2635l21 0-21-5-22 1zM1425 2619l22-1-22-5-21 1zM1469 2623l21 0-22-5-21 0zM1512 2628l21-1-21-5-22 1zM1555 2632l22-1-22-5-22 1zM1404 2619l21 0-21-5-22 0zM1447 2624l22-1-22-5-22 1z"/>
<path fill="#00965a" d="M1143 2576l22-1-22-5-21 0z"/>
<path fill="#009660" d="M1122 2576l21 0-21-6-22 1zM1165 2581l22-1-22-5-22 1zM1100 2577l22-1-22-5-22 0z"/>
<path fill="#009066" d="M1252 2590l21-1-21-5-22 1zM1187 2586l21-1-21-5-22 1zM1230 2590l22 0-22-5-22 0z"/>
<path fill="#008a66" d="M1295 2594l22 0-22-5-22 0zM1338 2599l22-1-22-5-21 1z"/>
<path fill="#008466" d="M1382 2603l21-1-21-5-22 1zM1425 2608l22-1-22-5-22 0z"/>
<path fill="#009666" d="M1143 2581l22 0-22-5-21 0z"/>
<path fill="#008a6c" d="M1273 2595l22-1-22-5-21 1zM1317 2599l21 0-21-5-22 0zM1252 2595l21 0-21-5-22 0z"/>
<path fill="#00846c" d="M1360 2604l22-1-22-5-22 1zM1403 2608l22 0-22-6-21 1z"/>
<path fill="#007e84" d="M1835 2650l22-1-22-4-21 0zM1879 2654l21-1-22-4-21 0zM1728 2643l21-1-21-5-22 1zM1771 2647l21-1-21-5-22 1zM1814 2651l21-1-21-5-22 1zM1706 2644l22-1-22-5-21 1zM1663 2640l22-1-22-5-22 1zM1598 2636l22-1-22-4-21 0zM1641 2640l22 0-22-5-21 0zM1533 2633l22-1-22-5-21 1zM1577 2637l21-1-21-5-22 1zM1469 2629l21-1-21-5-22 1zM1425 2624l22 0-22-5-21 0z"/>
<path fill="#00966c" d="M1122 2582l21-1-21-5-22 1z"/>
<path fill="#00906c" d="M1165 2586l22 0-22-5-22 0zM1209 2591l21-1-22-5-21 1z"/>
<path fill="#008a72" d="M1295 2600l22-1-22-5-22 1zM1274 2600l21 0-22-5-21 0z"/>
<path fill="#008472" d="M1339 2604l21 0-22-5-21 0zM1382 2609l21-1-21-5-22 1z"/>
<path fill="#007e8a" d="M1857 2655l22-1-22-5-22 1zM1749 2648l22-1-22-5-21 1zM1792 2652l22-1-22-5-21 1zM1685 2645l21-1-21-5-22 1zM1404 2625l21-1-21-5-22 1zM1447 2629l22 0-22-5-22 0zM1382 2625l22 0-22-5-22 0z"/>
<path fill="#009672" d="M1144 2587l21-1-22-5-21 1z"/>
<path fill="#009072" d="M1230 2596l22-1-22-5-21 1zM1187 2591l22 0-22-5-22 0z"/>
<path fill="#008478" d="M1404 2614l21-1-22-5-21 1zM1360 2609l22 0-22-5-21 0zM1382 2614l22 0-22-5-22 0zM1339 2610l21-1-21-5-22 1z"/>
<path fill="#00788a" d="M1836 2656l21-1-22-5-21 1zM1771 2653l21-1-21-5-22 1zM1728 2649l21-1-21-5-22 1zM1814 2657l22-1-22-5-22 1zM1620 2641l21-1-21-5-22 1zM1663 2645l22 0-22-5-22 0zM1706 2649l22 0-22-5-21 1zM1426 2630l21-1-22-5-21 1zM1404 2630l22 0-22-5-22 0zM1382 2631l22-1-22-5-21 1z"/>
<path fill="#008a78" d="M1317 2605l22-1-22-5-22 1zM1252 2601l22-1-22-5-22 1zM1295 2605l22 0-22-5-21 0z"/>
<path fill="#009078" d="M1209 2596l21 0-21-5-22 0zM1165 2592l22-1-22-5-21 1z"/>
<path fill="#00907e" d="M1187 2597l22-1-22-5-22 1z"/>
<path fill="#008a7e" d="M1230 2601l22 0-22-5-21 0zM1274 2606l21-1-21-5-22 1z"/>
<path fill="#00847e" d="M1360 2615l22-1-22-5-21 1zM1317 2610l22 0-22-5-22 0z"/>
<path fill="#00787e" d="M1490 2628l22 0-22-5-21 0z"/>
<path fill="#00728a" d="M1750 2654l21-1-22-5-21 1zM1793 2658l21-1-22-5-21 1zM1642 2646l21-1-22-5-21 1zM1728 2654l22 0-22-5-22 0zM1685 2650l21-1-21-4-22 0zM1447 2635l22-1-22-5-21 1zM1426 2635l21 0-21-5-22 0z"/>
<path fill="#009084" d="M1209 2602l21-1-21-5-22 1z"/>
<path fill="#008a84" d="M1252 2606l22 0-22-5-22 0zM1295 2611l22-1-22-5-21 1z"/>
<path fill="#008484" d="M1339 2615l21 0-21-5-22 0zM1382 2620l22-1-22-5-22 1z"/>
<path fill="#007884" d="M1512 2633l21 0-21-5-22 0zM1598 2642l22-1-22-5-21 1zM1555 2637l22 0-22-5-22 1zM1490 2634l22-1-22-5-21 1z"/>
<path fill="#006c8a" d="M1771 2658l22 0-22-5-21 1zM1663 2651l22-1-22-5-21 1zM1707 2655l21-1-22-5-21 1zM1750 2659l21-1-21-4-22 0zM1685 2656l22-1-22-5-22 1zM1404 2636l22-1-22-5-22 1zM1382 2637l22-1-22-5-21 1z"/>
<path fill="#008a8a" d="M1230 2607l22-1-22-5-21 1zM1274 2611l21 0-21-5-22 0z"/>
<path fill="#00848a" d="M1317 2616l22-1-22-5-22 1zM1360 2620l22 0-22-5-21 0z"/>
<path fill="#007284" d="M1534 2638l21-1-22-4-21 0zM1577 2642l21 0-21-5-22 0zM1620 2647l22-1-22-5-22 1zM1469 2634l21 0-21-5-22 0zM1512 2639l22-1-22-5-22 1z"/>
<path fill="#008490" d="M1296 2616l21 0-22-5-21 0zM1339 2621l21-1-21-5-22 1zM1317 2621l22 0-22-5-21 0z"/>
<path fill="#006c84" d="M1555 2643l22-1-22-5-21 1zM1599 2647l21 0-22-5-21 0zM1642 2652l21-1-21-5-22 1zM1577 2648l22-1-22-5-22 1zM1491 2639l21 0-22-5-21 0zM1534 2644l21-1-21-5-22 1zM1469 2640l22-1-22-5-22 1z"/>
<path fill="#008a90" d="M1252 2612l22-1-22-5-22 1z"/>
<path fill="#00668a" d="M1728 2660l22-1-22-5-21 1zM1707 2661l21-1-21-5-22 1zM1447 2641l22-1-22-5-21 0zM1426 2641l21 0-21-6-22 1zM1404 2642l22-1-22-5-22 1z"/>
<path fill="#008a96" d="M1274 2617l22-1-22-5-22 1z"/>
<path fill="#006684" d="M1664 2657l21-1-22-5-21 1zM1620 2652l22 0-22-5-21 0zM1512 2644l22 0-22-5-21 0zM1556 2649l21-1-22-5-21 1zM1599 2653l21-1-21-5-22 1zM1491 2645l21-1-21-5-22 1z"/>
<path fill="#007e90" d="M1361 2626l21-1-22-5-21 1zM1296 2622l21-1-21-5-22 1z"/>
<path fill="#006084" d="M1685 2661l22 0-22-5-21 1zM1642 2657l22 0-22-5-22 0zM1620 2658l22-1-22-5-21 1zM1534 2649l22 0-22-5-22 0zM1577 2654l22-1-22-5-21 1zM1469 2646l22-1-22-5-22 1zM1512 2650l22-1-22-5-21 1zM1448 2646l21 0-22-5-21 0z"/>
<path fill="#007890" d="M1339 2626l22 0-22-5-22 0zM1317 2627l22-1-22-5-21 1z"/>
<path fill="#007290" d="M1361 2632l21-1-21-5-22 0zM1339 2632l22 0-22-6-22 1z"/>
<path fill="#005a84" d="M1664 2662l21-1-21-4-22 0zM1642 2663l22-1-22-5-22 1zM1556 2654l21 0-21-5-22 0zM1599 2659l21-1-21-5-22 1zM1491 2651l21-1-21-5-22 1zM1534 2655l22-1-22-5-22 1zM1469 2651l22 0-22-5-21 0z"/>
<path fill="#006690" d="M1361 2637l21 0-21-5-22 0z"/>
<path fill="#005484" d="M1577 2659l22 0-22-5-21 0zM1621 2664l21-1-22-5-21 1zM1513 2656l21-1-22-5-21 1zM1556 2660l21-1-21-5-22 1zM1448 2652l21-1-21-5-22 1z"/>
<path fill="#00608a" d="M1383 2642l21 0-22-5-21 0z"/>
<path fill="#005a8a" d="M1426 2647l22-1-22-5-22 1zM1404 2647l22 0-22-5-21 0z"/>
<path fill="#004e84" d="M1599 2664l22 0-22-5-22 0zM1491 2656l22 0-22-5-22 0zM1534 2661l22-1-22-5-21 1zM1578 2665l21-1-22-5-21 1zM1469 2657l22-1-22-5-21 1zM1448 2657l21 0-21-5-22 0z"/>
<path fill="#00548a" d="M1426 2652l22 0-22-5-22 0z"/>
<path fill="#004884" d="M1513 2661l21 0-21-5-22 0zM1556 2666l22-1-22-5-22 1zM1534 2666l22 0-22-5-21 0zM1491 2662l22-1-22-5-22 1z"/>
<path fill="#004284" d="M1470 2662l21 0-22-5-21 0zM1513 2667l21-1-21-5-22 1z"/>
<path fill="#003c84" d="M1491 2667l22 0-22-5-21 0z"/>
</g>
<path d="M92.5 239.1L92.5 246.1M94.7 239.0L94.7 243.9M96.8 238.9L96.9 248.9M99.0 238.8L99.1 246.9M101.1 238.6L101.2 244.3M103.3 238.5L103.4 250.2M105.5 238.4L105.5 245.8M107.6 238.3L107.7 246.9M109.8 238.2L109.9 250.3M111.9 238.1L112.0 244.3M114.1 238.0L114.3 251.5M116.3 237.8L116.4 246.4M118.4 237.7L118.5 248.0M120.6 237.6L120.7 252.0M122.7 237.5L122.8 244.8M124.9 237.4L125.1 250.9M127.1 237.2L127.2 252.0M129.2 237.1L129.3 245.0M131.4 237.0L131.5 251.3M133.5 236.9L133.7 253.3M135.7 236.7L135.8 245.3M137.8 236.6L138.0 252.4M140.0 236.5L140.2 253.0M142.2 236.4L142.3 245.8M144.3 236.2L144.6 255.9M146.5 236.1L146.6 248.2M148.6 236.0L148.8 251.5M150.8 236.6L151.0 254.7M152.9 237.2L153.0 246.8M155.1 237.8L155.4 257.0M157.3 238.4L157.4 250.1M159.4 239.0L159.6 250.8M161.6 239.6L161.8 257.5M163.7 240.2L163.8 249.8M165.9 240.8L166.0 251.9M168.0 241.4L168.3 257.9M170.2 242.0L170.3 251.2M172.3 242.6L172.5 252.4M174.5 243.1L174.8 258.2M176.7 243.7L176.8 251.2M178.8 244.3L179.0 255.4M181.0 244.8L181.2 256.9M183.1 245.4L183.2 251.8M185.3 245.9L185.5 258.9M187.4 246.5L187.5 253.1M189.6 247.0L189.7 256.5M191.7 247.6L191.9 257.6M193.9 248.1L194.0 253.3M196.0 248.7L196.2 259.0M198.2 249.2L198.3 256.6M200.3 249.7L200.4 254.6M202.5 250.2L202.7 259.4M204.6 250.8L204.8 257.4" fill="none" stroke="#000" stroke-width="1.00" opacity="0.62"/>
<path d="M46.9 241.2L46.9 241.9M49.1 241.1L49.1 242.7M51.3 241.0L51.3 242.1M53.5 241.0L53.5 242.4M55.6 240.9L55.6 243.5M57.8 240.8L57.8 242.4M60.0 240.7L60.0 242.8M62.1 240.6L62.2 244.4M64.3 240.5L64.3 242.7M66.5 240.4L66.5 243.6M68.7 240.3L68.7 245.1M70.8 240.2L70.8 242.6M73.0 240.0L73.0 245.6M75.2 239.9L75.2 244.0M77.3 239.8L77.4 244.3M79.5 239.7L79.5 246.4M81.7 239.6L81.7 243.0M83.8 239.5L83.9 246.9M86.0 239.4L86.0 245.7M88.2 239.3L88.2 243.6M90.3 239.2L90.4 248.2M206.8 251.3L206.9 255.4M208.9 251.8L209.1 259.7M211.1 252.3L211.2 257.9M213.2 252.8L213.3 256.7M215.4 253.3L215.6 260.3M217.5 253.8L217.6 257.1M219.7 254.3L219.8 259.2M221.8 254.7L221.9 259.5M224.0 255.2L224.0 257.9M226.1 255.7L226.3 260.8M228.3 256.1L228.3 258.5M230.4 256.6L230.5 259.9M232.5 257.1L232.7 260.7M234.7 257.5L234.7 259.1M236.8 258.0L236.9 260.6M239.0 258.4L239.1 260.9M241.1 258.8L241.2 259.9M243.3 259.3L243.3 261.0M245.4 259.7L245.5 261.3M247.6 260.1L247.6 260.7M249.7 260.5L249.8 261.4" fill="none" stroke="#000" stroke-width="1.00" opacity="0.31"/>
<path d="M44.8 242.2L49.1 242.9L53.5 243.5L57.8 244.2L62.2 244.9L66.5 245.6L70.9 246.3L75.2 246.9L79.5 247.6L83.9 248.3L88.2 249.0L92.6 249.7L96.9 250.4L101.3 251.2L105.6 251.9L109.9 252.6L114.3 253.3L118.6 254.0L122.9 254.7L127.3 255.4L131.6 256.1L135.9 256.8L140.3 257.5L144.6 258.2L148.9 258.9L153.2 259.0L157.6 259.2L161.9 259.4L166.2 259.6L170.5 259.7L174.8 259.9L179.1 260.0L183.4 260.2L187.7 260.3L192.0 260.5L196.3 260.6L200.6 260.7L204.9 260.8L209.2 260.9L213.4 261.1L217.7 261.2L222.0 261.3L226.3 261.3L230.6 261.4L234.8 261.5L239.1 261.6L243.4 261.6L247.6 261.7L251.9 261.7M44.8 242.3L49.1 243.1L53.5 243.9L57.8 244.7L62.2 245.5L66.5 246.3L70.9 247.1L75.2 247.9L79.6 248.7L83.9 249.5L88.2 250.3L92.6 251.2L96.9 252.0L101.3 252.8L105.6 253.6L110.0 254.4L114.3 255.2L118.6 256.0L123.0 256.9L127.3 257.7L131.7 258.5L136.0 259.3L140.3 260.1L144.7 260.9L149.0 261.7L153.3 261.8L157.6 261.8L161.9 261.9L166.2 262.0L170.5 262.0L174.9 262.1L179.2 262.1L183.5 262.1L187.7 262.2L192.0 262.2L196.3 262.2L200.6 262.2L204.9 262.2L209.2 262.2L213.5 262.2L217.8 262.2L222.0 262.2L226.3 262.1L230.6 262.1L234.9 262.1L239.1 262.0L243.4 262.0L247.7 261.9L251.9 261.8M44.8 242.4L49.1 243.3L53.5 244.2L57.8 245.1L62.2 246.0L66.5 246.9L70.9 247.8L75.2 248.7L79.6 249.7L83.9 250.6L88.3 251.5L92.6 252.4L96.9 253.3L101.3 254.2L105.6 255.1L110.0 256.0L114.3 257.0L118.7 257.9L123.0 258.8L127.4 259.7L131.7 260.6L136.0 261.5L140.4 262.4L144.7 263.3L149.1 264.2L153.4 264.2L157.7 264.2L162.0 264.1L166.3 264.1L170.6 264.0L174.9 264.0L179.2 263.9L183.5 263.9L187.8 263.8L192.1 263.7L196.4 263.6L200.7 263.5L205.0 263.4L209.2 263.3L213.5 263.2L217.8 263.1L222.1 263.0L226.3 262.9L230.6 262.7L234.9 262.6L239.1 262.4L243.4 262.3L247.7 262.1L251.9 261.9" fill="none" stroke="#000" stroke-width=".9" opacity="0.50"/>
<path d="M148.3 234L148.3 267" stroke="#555" stroke-width=".55" opacity=".7"/>
<ellipse cx="40.0" cy="234.7" rx="1.9" ry="1.5" fill="#e60000" stroke="#900" stroke-width=".4"/>
<ellipse cx="256.0" cy="261.0" rx="1.9" ry="1.5" fill="#e60000" stroke="#900" stroke-width=".4"/>
<ellipse cx="90.0" cy="237.7" rx="1.9" ry="1.5" fill="#f6c4c4" stroke="#b55" stroke-width=".45"/>
<ellipse cx="148.2" cy="254.6" rx="1.9" ry="1.5" fill="#f6c4c4" stroke="#b55" stroke-width=".45"/>
<ellipse cx="148.2" cy="261.4" rx="1.9" ry="1.5" fill="#f6c4c4" stroke="#b55" stroke-width=".45"/>
<ellipse cx="206.0" cy="252.6" rx="1.9" ry="1.5" fill="#f6c4c4" stroke="#b55" stroke-width=".45"/>
<text x="0.0" y="212.4" font-size="21" class="b">c)</text>
<text x="34.9" y="214.7" font-size="7.1" text-anchor="end">0.29</text>
<text x="35.2" y="236.3" font-size="7.1" text-anchor="end">0.2575</text>
<text x="36.4" y="258.1" font-size="7.1" text-anchor="end">0.225</text>
<text x="37.3" y="279.0" font-size="7.1" text-anchor="end">0.1925</text>
<text x="38.2" y="300.5" font-size="7.1" text-anchor="end">0.16</text>
<text x="9.2" y="277.2" font-size="10.5" textLength="22.2" lengthAdjust="spacingAndGlyphs" class="t" transform="rotate(-90 9.2 277.2)">COF</text>
<text x="37.0" y="327.3" font-size="7.1" text-anchor="middle">20</text>
<text x="63.5" y="336.0" font-size="7.1" text-anchor="middle">19</text>
<text x="89.2" y="344.6" font-size="7.1" text-anchor="middle">18</text>
<text x="115.7" y="352.8" font-size="7.1" text-anchor="middle">17</text>
<text x="142.0" y="361.0" font-size="7.1" text-anchor="middle">16</text>
<text x="155.0" y="361.3" font-size="7.1" text-anchor="middle">1</text>
<text x="183.7" y="352.8" font-size="7.1" text-anchor="middle">1.5</text>
<text x="206.7" y="344.5" font-size="7.1" text-anchor="middle">2</text>
<text x="235.0" y="336.7" font-size="7.1" text-anchor="middle">2.5</text>
<text x="258.5" y="327.3" font-size="7.1" text-anchor="middle">3</text>
<text x="10.6" y="357.8" font-size="10.6" textLength="90.3" lengthAdjust="spacingAndGlyphs" class="t">Nickel Sulphate (g/l)</text>
<text x="193.4" y="357.4" font-size="10.6" textLength="96.7" lengthAdjust="spacingAndGlyphs" class="t">Calcium Bromide (g/l)</text>
<!-- panel d -->
<path d="M344.7 214.0 L458.5 195.4 L572.2 213.8 L564.6 323.5 M458.5 195.4 L458.4 293.5" fill="none" stroke="#555" stroke-width=".55"/>
<clipPath id="fcd"><path d="M458.4 361.0 L564.6 323.5 L458.4 293.5 L351.6 323.2Z"/></clipPath>
<path d="M458.4 361.0 L564.6 323.5 L458.4 293.5 L351.6 323.2Z" fill="#ff0"/>
<g clip-path="url(#fcd)" fill="none" stroke-width=".8" stroke-opacity=".85">
<path d="M417.0 302.2 L535.0 313.8" stroke="#20e0c0"/>
<path d="M397.0 307.7 L567.0 324.4" stroke="#30e090"/>
<path d="M382.1 311.6 L547.9 331.2" stroke="#40e040"/>
<path d="M364.1 315.8 L526.9 340.4" stroke="#90e020"/>
<path d="M352.2 319.4 L502.8 349.4" stroke="#d8e010"/>
<path d="M345.2 321.7 L488.8 353.5" stroke="#ff9010"/>
</g>
<path d="M351.6 323.2 L458.4 293.5 L564.6 323.5" fill="none" stroke="#444" stroke-width=".7"/>
<path d="M351.6 323.2 L458.4 361.0 L564.6 323.5" fill="none" stroke="#000" stroke-width=".65"/>
<circle cx="458.4" cy="361.0" r=".8"/>
<circle cx="458.4" cy="361.0" r=".8"/>
<circle cx="431.7" cy="351.6" r=".8"/>
<circle cx="484.9" cy="351.6" r=".8"/>
<circle cx="405.0" cy="342.1" r=".8"/>
<circle cx="511.5" cy="342.2" r=".8"/>
<circle cx="378.3" cy="332.6" r=".8"/>
<circle cx="538.1" cy="332.9" r=".8"/>
<circle cx="351.6" cy="323.2" r=".8"/>
<circle cx="564.6" cy="323.5" r=".8"/>
<path d="M344.7 214.0 L351.6 323.2" fill="none" stroke="#111" stroke-width=".6"/>
<circle cx="344.8" cy="214.8" r=".8"/>
<circle cx="346.1" cy="235.6" r=".8"/>
<circle cx="347.4" cy="257.0" r=".8"/>
<circle cx="348.8" cy="278.2" r=".8"/>
<circle cx="350.1" cy="299.4" r=".8"/>
<path d="M406.0 253.5L406.0 249.0" stroke="#777" stroke-width=".7"/><ellipse cx="406.0" cy="253.5" rx="1.9" ry="1.5" fill="#f6c4c4" stroke="#b55" stroke-width=".45"/>
<ellipse cx="458.5" cy="268.9" rx="1.9" ry="1.5" fill="#f6c4c4" stroke="#b55" stroke-width=".45"/>
<ellipse cx="508.3" cy="277.2" rx="1.9" ry="1.5" fill="#f6c4c4" stroke="#b55" stroke-width=".45"/>
<ellipse cx="566.8" cy="285.6" rx="1.9" ry="1.5" fill="#f6c4c4" stroke="#b55" stroke-width=".45"/>
<g transform="scale(.1)" stroke="#000" stroke-width="2.5" stroke-linejoin="round">
<path fill="#360600" d="M4584 2404l23 2-22-9-23-1zM4562 2402l22 2-22-8-22-2zM4607 2412l22 2-22-8-23-2zM4584 2411l23 1-23-8-22-2zM4562 2409l22 2-22-9-22-2zM4607 2419l22 2-22-9-23-1z"/>
<path fill="#3c0600" d="M4540 2400l22 2-22-8-22-2zM4518 2398l22 2-22-8-22-2zM4496 2396l22 2-22-8-22-2z"/>
<path fill="#300600" d="M4629 2421l22 2-22-9-22-2zM4651 2429l22 2-22-8-22-2zM4629 2427l22 2-22-8-22-2zM4673 2438l22 2-22-9-22-2zM4651 2436l22 2-22-9-22-2zM4629 2434l22 2-22-9-23-1zM4673 2444l22 2-22-8-22-2zM4651 2443l22 1-22-8-22-2zM4673 2451l22 2-22-9-22-1z"/>
<path fill="#3c0c00" d="M4540 2407l22 2-22-9-22-2zM4518 2405l22 2-22-9-22-2zM4496 2403l22 2-22-9-22-2zM4540 2413l22 2-22-8-22-2zM4518 2411l22 2-22-8-22-2zM4540 2420l22 2-22-9-22-2zM4496 2409l22 2-22-8-22-2zM4518 2418l22 2-22-9-22-2zM4474 2407l22 2-22-8-23-2zM4496 2416l22 2-22-9-22-2zM4540 2426l22 2-22-8-22-2zM4473 2413l23 3-22-9-23-2zM4518 2424l22 2-22-8-22-2zM4496 2422l22 2-22-8-23-3zM4473 2420l23 2-23-9-22-2zM4518 2430l22 2-22-8-22-2z"/>
<path fill="#360c00" d="M4584 2417l23 2-23-8-22-2zM4562 2415l22 2-22-8-22-2zM4606 2426l23 1-22-8-23-2zM4584 2424l22 2-22-9-22-2zM4562 2422l22 2-22-9-22-2zM4606 2432l23 2-23-8-22-2zM4584 2430l22 2-22-8-22-2zM4562 2428l22 2-22-8-22-2zM4606 2439l22 2-22-9-22-2zM4584 2437l22 2-22-9-22-2zM4562 2435l22 2-22-9-22-2zM4606 2445l22 2-22-8-22-2zM4540 2432l22 3-22-9-22-2zM4584 2443l22 2-22-8-22-2zM4562 2441l22 2-22-8-22-3zM4584 2449l22 2-22-8-22-2z"/>
<path fill="#420600" d="M4474 2394l22 2-22-8-23-2zM4451 2392l23 2-23-8-22-2z"/>
<path fill="#2a0600" d="M4695 2446l22 2-22-8-22-2zM4717 2455l22 2-22-9-22-2zM4695 2453l22 2-22-9-22-2zM4739 2463l22 2-22-8-22-2zM4717 2462l22 1-22-8-22-2zM4739 2470l22 2-22-9-22-1zM4695 2460l22 2-22-9-22-2zM4717 2468l22 2-22-8-22-2zM4695 2466l22 2-22-8-22-2zM4717 2475l22 2-22-9-22-2z"/>
<path fill="#420c00" d="M4429 2390l22 2-22-8-22-2zM4474 2401l22 2-22-9-23-2zM4407 2388l22 2-22-8-22-2zM4451 2399l23 2-23-9-22-2zM4429 2397l22 2-22-9-22-2zM4407 2395l22 2-22-9-22-2zM4451 2405l23 2-23-8-22-2zM4429 2403l22 2-22-8-22-2zM4451 2411l22 2-22-8-22-2zM4407 2401l22 2-22-8-22-3zM4429 2409l22 2-22-8-22-2zM4407 2407l22 2-22-8-22-2zM4451 2418l22 2-22-9-22-2z"/>
<path fill="#300c00" d="M4628 2441l23 2-22-9-23-2zM4651 2449l22 2-22-8-23-2zM4628 2447l23 2-23-8-22-2zM4673 2458l22 2-22-9-22-2zM4651 2456l22 2-22-9-23-2zM4628 2454l23 2-23-9-22-2zM4651 2462l22 2-22-8-23-2zM4606 2451l22 3-22-9-22-2zM4628 2460l23 2-23-8-22-3zM4606 2458l22 2-22-9-22-2zM4651 2469l22 2-22-9-23-2zM4628 2466l23 3-23-9-22-2zM4651 2475l22 2-22-8-23-3zM4651 2481l22 2-22-8-23-2z"/>
<path fill="#240600" d="M4761 2472l22 2-22-9-22-2zM4783 2481l22 1-22-8-22-2zM4761 2479l22 2-22-9-22-2zM4739 2477l22 2-22-9-22-2zM4783 2487l22 2-22-8-22-2zM4761 2485l22 2-22-8-22-2zM4739 2483l22 2-22-8-22-2zM4783 2494l22 2-22-9-22-2zM4761 2492l22 2-22-9-22-2zM4783 2500l22 2-22-8-22-2zM4761 2498l22 2-22-8-22-2zM4783 2507l22 2-22-9-22-2z"/>
<path fill="#480c00" d="M4385 2386l22 2-22-8-23-2zM4362 2384l23 2-23-8-22-2zM4340 2382l22 2-22-8-22-2zM4385 2392l22 3-22-9-23-2zM4362 2390l23 2-23-8-22-2zM4340 2388l22 2-22-8-22-2zM4385 2399l22 2-22-9-23-2zM4318 2386l22 2-22-8-23-3zM4362 2396l23 3-23-9-22-2zM4384 2405l23 2-22-8-23-3zM4340 2394l22 2-22-8-22-2zM4318 2392l22 2-22-8-23-2z"/>
<path fill="#1e0600" d="M4805 2489l22 2-22-9-22-1zM4827 2498l21 2-21-9-22-2zM4805 2496l22 2-22-9-22-2zM4848 2506l22 2-22-8-21-2zM4827 2504l21 2-21-8-22-2zM4805 2502l22 2-22-8-22-2zM4848 2513l22 2-22-9-21-2zM4827 2511l21 2-21-9-22-2zM4805 2509l22 2-22-9-22-2zM4849 2520l21 2-22-9-21-2zM4827 2518l22 2-22-9-22-2zM4805 2516l22 2-22-9-22-2zM4849 2526l21 2-21-8-22-2zM4827 2524l22 2-22-8-22-2zM4805 2522l22 2-22-8-22-2zM4849 2533l22 2-22-9-22-2zM4827 2531l22 2-22-9-22-2zM4849 2539l22 3-22-9-22-2zM4827 2537l22 2-22-8-22-2zM4849 2546l22 2-22-9-22-2z"/>
<path fill="#2a0c00" d="M4673 2464l22 2-22-8-22-2zM4695 2473l22 2-22-9-22-2zM4673 2471l22 2-22-9-22-2zM4717 2481l22 2-22-8-22-2zM4695 2479l22 2-22-8-22-2zM4673 2477l22 2-22-8-22-2zM4717 2488l22 2-22-9-22-2zM4695 2486l22 2-22-9-22-2zM4673 2483l22 3-22-9-22-2zM4717 2494l22 2-22-8-22-2zM4695 2492l22 2-22-8-22-3zM4673 2490l22 2-22-9-22-2zM4717 2501l22 2-22-9-22-2zM4695 2498l22 3-22-9-22-2zM4717 2507l22 2-22-8-22-3zM4695 2505l22 2-22-9-22-2zM4717 2513l22 3-22-9-22-2zM4717 2520l22 2-22-9-22-2z"/>
<path fill="#4e0c00" d="M4318 2380l22 2-22-8-23-3zM4295 2377l23 3-23-9-22-2zM4273 2375l22 2-22-8-22-2zM4251 2373l22 2-22-8-23-2zM4295 2384l23 2-23-9-22-2zM4273 2381l22 3-22-9-22-2zM4250 2379l23 2-22-8-23-2zM4295 2390l23 2-23-8-22-3zM4228 2377l22 2-22-8-22-3z"/>
<path fill="#180600" d="M4870 2515l22 2-22-9-22-2zM4892 2524l22 2-22-9-22-2zM4914 2532l22 2-22-8-22-2zM4870 2522l22 2-22-9-22-2zM4892 2530l22 2-22-8-22-2zM4870 2528l22 2-22-8-21-2zM4914 2539l22 2-22-9-22-2zM4892 2537l22 2-22-9-22-2zM4871 2535l21 2-22-9-21-2zM4914 2546l22 2-22-9-22-2zM4892 2544l22 2-22-9-21-2zM4871 2542l21 2-21-9-22-2zM4914 2552l22 2-22-8-22-2zM4893 2550l21 2-22-8-21-2zM4871 2548l22 2-22-8-22-3zM4914 2559l22 2-22-9-21-2zM4893 2557l21 2-21-9-22-2zM4871 2555l22 2-22-9-22-2zM4915 2566l21 2-22-9-21-2zM4893 2563l22 3-22-9-22-2zM4871 2561l22 2-22-8-22-3zM4915 2572l21 2-21-8-22-3zM4893 2570l22 2-22-9-22-2zM4915 2579l22 2-22-9-22-2zM4893 2576l22 3-22-9-22-2zM4915 2585l22 2-22-8-22-3z"/>
<path fill="#3c1200" d="M4496 2428l22 2-22-8-23-2zM4473 2426l23 2-23-8-22-2zM4518 2437l22 2-22-9-22-2zM4496 2434l22 3-22-9-23-2zM4473 2432l23 2-23-8-22-2zM4518 2443l22 2-22-8-22-3zM4496 2441l22 2-22-9-23-2zM4473 2438l23 3-23-9-22-2zM4518 2449l22 2-22-8-22-2zM4496 2447l22 2-22-8-23-3zM4473 2445l23 2-23-9-22-2zM4518 2455l22 3-22-9-22-2zM4451 2442l22 3-22-9-22-2zM4496 2453l22 2-22-8-23-2zM4518 2462l22 2-22-9-22-2z"/>
<path fill="#361200" d="M4540 2439l22 2-22-9-22-2zM4562 2447l22 2-22-8-22-2zM4540 2445l22 2-22-8-22-2zM4584 2456l22 2-22-9-22-2zM4562 2454l22 2-22-9-22-2zM4540 2451l22 3-22-9-22-2zM4584 2462l22 2-22-8-22-2zM4562 2460l22 2-22-8-22-3zM4540 2458l22 2-22-9-22-2zM4584 2468l22 3-22-9-22-2zM4562 2466l22 2-22-8-22-2zM4540 2464l22 2-22-8-22-3zM4584 2475l22 2-22-9-22-2zM4562 2472l22 3-22-9-22-2zM4540 2470l22 2-22-8-22-2zM4584 2481l22 2-22-8-22-3zM4562 2479l22 2-22-9-22-2zM4584 2487l22 2-22-8-22-2z"/>
<path fill="#421200" d="M4429 2415l22 3-22-9-22-2zM4407 2413l22 2-22-8-23-2zM4451 2424l22 2-22-8-22-3zM4384 2411l23 2-23-8-22-2zM4429 2422l22 2-22-9-22-2zM4407 2419l22 3-22-9-23-2zM4451 2430l22 2-22-8-22-2zM4384 2417l23 2-23-8-22-2zM4429 2428l22 2-22-8-22-3zM4407 2425l22 3-22-9-23-2zM4451 2436l22 2-22-8-22-2zM4384 2423l23 2-23-8-22-2zM4429 2434l22 2-22-8-22-3zM4407 2431l22 3-22-9-23-2z"/>
<path fill="#240c00" d="M4739 2490l22 2-22-9-22-2zM4739 2496l22 2-22-8-22-2zM4761 2505l22 2-22-9-22-2zM4739 2503l22 2-22-9-22-2zM4783 2514l22 2-22-9-22-2zM4761 2511l22 3-22-9-22-2zM4739 2509l22 2-22-8-22-2zM4783 2520l22 2-22-8-22-3zM4761 2518l22 2-22-9-22-2zM4739 2516l22 2-22-9-22-2zM4783 2526l22 3-22-9-22-2zM4761 2524l22 2-22-8-22-2zM4739 2522l22 2-22-8-22-3zM4783 2533l22 2-22-9-22-2zM4761 2531l22 2-22-9-22-2zM4739 2528l22 3-22-9-22-2zM4783 2539l22 3-22-9-22-2zM4761 2537l22 2-22-8-22-3zM4783 2546l22 2-22-9-22-2zM4761 2543l22 3-22-9-22-2zM4783 2552l22 2-22-8-22-3z"/>
<path fill="#540c00" d="M4228 2371l23 2-23-8-22-3zM4206 2368l22 3-22-9-23-2zM4183 2366l23 2-23-8-22-2zM4161 2364l22 2-22-8-23-3zM4206 2374l22 3-22-9-23-2zM4138 2361l23 3-23-9-22-2zM4183 2372l23 2-23-8-22-2zM4161 2369l22 3-22-8-23-3zM3776 2318l23 3-23-8-23-3zM3753 2315l23 3-23-8-22-3zM3730 2317l23 3-23-8-23-3zM3707 2319l23 3-23-8-23-3z"/>
<path fill="#481200" d="M4362 2403l22 2-22-9-22-2zM4340 2400l22 3-22-9-22-2zM4317 2398l23 2-22-8-23-2zM4362 2409l22 2-22-8-22-3zM4340 2406l22 3-22-9-23-2zM4317 2404l23 2-23-8-22-2zM4362 2415l22 2-22-8-22-3zM4340 2412l22 3-22-9-23-2zM4317 2410l23 2-23-8-22-2zM4362 2421l22 2-22-8-22-3z"/>
<path fill="#120000" d="M4936 2541l22 2-22-9-22-2zM4958 2550l22 2-22-9-22-2zM4980 2559l22 1-22-8-22-2zM4980 2565l22 2-22-8-22-3z"/>
<path fill="#301200" d="M4606 2464l22 2-22-8-22-2zM4628 2473l23 2-23-9-22-2zM4606 2471l22 2-22-9-22-2zM4628 2479l23 2-23-8-22-2zM4606 2477l22 2-22-8-22-3zM4651 2488l22 2-22-9-23-2zM4628 2485l23 3-23-9-22-2zM4606 2483l22 2-22-8-22-2zM4651 2494l22 2-22-8-23-3zM4628 2492l23 2-23-9-22-2zM4606 2489l22 3-22-9-22-2zM4651 2500l22 3-22-9-23-2zM4628 2498l23 2-23-8-22-3zM4606 2496l22 2-22-9-22-2zM4651 2506l22 3-22-9-23-2zM4629 2504l22 2-23-8-22-2zM4651 2513l22 2-22-9-22-2zM4629 2510l22 3-22-9-23-2z"/>
<path fill="#4e1200" d="M4273 2387l22 3-22-9-23-2zM4250 2385l23 2-23-8-22-2zM4295 2396l22 2-22-8-22-3zM4228 2383l22 2-22-8-22-3zM4273 2393l22 3-22-9-23-2zM4250 2391l23 2-23-8-22-2zM4295 2402l22 2-22-8-22-3zM4228 2388l22 3-22-8-22-3zM4273 2399l22 3-22-9-23-2zM4250 2397l23 2-23-8-22-3z"/>
<path fill="#120600" d="M4936 2548l22 2-22-9-22-2zM4958 2556l22 3-22-9-22-2zM4936 2554l22 2-22-8-22-2zM4958 2563l22 2-22-9-22-2zM4936 2561l22 2-22-9-22-2zM4980 2572l22 2-22-9-22-2zM4958 2570l22 2-22-9-22-2zM4936 2568l22 2-22-9-22-2zM4980 2579l22 2-22-9-22-2zM4958 2576l22 3-22-9-22-2zM4936 2574l22 2-22-8-21-2zM4980 2585l22 2-22-8-22-3zM4958 2583l22 2-22-9-22-2zM4937 2581l21 2-22-9-21-2zM4980 2592l22 2-22-9-22-2zM4959 2590l21 2-22-9-21-2zM4937 2587l22 3-22-9-22-2zM4959 2596l21 2-21-8-22-3zM4937 2594l22 2-22-9-22-2zM4915 2591l22 3-22-9-22-2zM4959 2603l22 2-22-9-22-2zM4937 2600l22 3-22-9-22-3zM4959 2609l22 2-22-8-22-3zM4937 2607l22 2-22-9-22-2zM4959 2615l22 3-22-9-22-2zM4937 2613l22 2-22-8-22-3zM4959 2622l22 2-22-9-22-2z"/>
<path fill="#0c0000" d="M5002 2567l21 2-21-9-22-1zM5024 2576l21 2-22-9-21-2zM5002 2574l22 2-22-9-22-2zM5024 2583l21 2-21-9-22-2zM5002 2581l22 2-22-9-22-2zM5024 2589l21 3-21-9-22-2zM5024 2596l22 2-22-9-22-2z"/>
<path fill="#5a0c00" d="M4116 2359l22 2-22-8-23-3zM4093 2356l23 3-23-9-22-2zM4071 2354l22 2-22-8-23-3zM4048 2351l23 3-23-9-22-2zM4003 2346l23 3-23-9-23-2zM3980 2343l23 3-23-8-22-3zM3958 2341l22 2-22-8-23-3zM3935 2338l23 3-23-9-22-2zM3912 2335l23 3-22-8-23-3zM3890 2332l22 3-22-8-23-3zM3867 2330l23 2-23-8-23-2zM3844 2327l23 3-23-8-22-3zM3822 2324l22 3-22-8-23-3zM3799 2321l23 3-23-8-23-3z"/>
<path fill="#541200" d="M4206 2380l22 3-22-9-23-2zM4138 2367l23 2-23-8-22-2zM4183 2378l23 2-23-8-22-3zM4161 2375l22 3-22-9-23-2zM4205 2386l23 2-22-8-23-2zM4138 2373l23 2-23-8-22-3zM4183 2383l22 3-22-8-22-3zM4161 2381l22 2-22-8-23-2zM3799 2326l22 3-22-8-23-3zM3776 2323l23 3-23-8-23-3zM3707 2324l23 3-23-8-23-3zM3661 2318l23 3-23-8-22-3z"/>
<path fill="#060000" d="M5045 2585l22 2-22-9-21-2zM5067 2594l22 2-22-9-22-2zM5045 2592l22 2-22-9-21-2zM5089 2602l22 2-22-8-22-2zM5067 2600l22 2-22-8-22-2zM5046 2598l21 2-22-8-21-3zM5089 2609l22 2-22-9-22-2zM5067 2607l22 2-22-9-21-2zM5046 2605l21 2-21-9-22-2zM5089 2616l22 2-22-9-22-2zM5068 2614l21 2-22-9-21-2zM5046 2612l22 2-22-9-22-2zM5089 2623l22 2-22-9-21-2zM5068 2620l21 3-21-9-22-2zM5090 2629l21 2-22-8-21-3zM5046 2618l22 2-22-8-22-3zM5068 2627l22 2-22-9-22-2zM5090 2636l21 2-21-9-22-2zM5068 2634l22 2-22-9-22-2zM5090 2642l22 3-22-9-22-2zM5068 2640l22 2-22-8-22-3zM5090 2649l22 2-22-9-22-2zM5068 2647l22 2-22-9-22-2zM5090 2655l22 3-22-9-22-2zM5090 2662l22 2-22-9-22-2z"/>
<path fill="#2a1200" d="M4673 2496l22 2-22-8-22-2zM4673 2503l22 2-22-9-22-2zM4695 2511l22 2-22-8-22-2zM4673 2509l22 2-22-8-22-3zM4695 2517l22 3-22-9-22-2zM4673 2515l22 2-22-8-22-3zM4717 2526l22 2-22-8-22-3zM4695 2524l22 2-22-9-22-2zM4673 2521l22 3-22-9-22-2zM4717 2532l22 3-22-9-22-2zM4651 2519l22 2-22-8-22-3zM4695 2530l22 2-22-8-22-3zM4673 2527l22 3-22-9-22-2zM4651 2525l22 2-22-8-22-3zM4695 2536l22 2-22-8-22-3zM4673 2534l22 2-22-9-22-2zM4695 2542l22 3-22-9-22-2z"/>
<path fill="#1e0c00" d="M4805 2529l22 2-22-9-22-2zM4805 2535l22 2-22-8-22-3zM4827 2544l22 2-22-9-22-2zM4805 2542l22 2-22-9-22-2zM4849 2552l22 3-22-9-22-2zM4827 2550l22 2-22-8-22-2zM4805 2548l22 2-22-8-22-3zM4849 2559l22 2-22-9-22-2zM4827 2557l22 2-22-9-22-2zM4849 2565l22 3-22-9-22-2zM4805 2554l22 3-22-9-22-2zM4827 2563l22 2-22-8-22-3zM4805 2561l22 2-22-9-22-2zM4849 2572l22 2-22-9-22-2zM4783 2558l22 3-22-9-22-3zM4827 2569l22 3-22-9-22-2zM4805 2567l22 2-22-8-22-3zM4827 2575l22 3-22-9-22-2zM4805 2573l22 2-22-8-22-3zM4827 2582l22 2-22-9-22-2z"/>
<path fill="#5a1200" d="M4116 2364l22 3-22-8-23-3zM4093 2362l23 2-23-8-22-2zM4071 2359l22 3-22-8-23-3zM4116 2370l22 3-22-9-23-2zM4048 2357l23 2-23-8-22-2zM4093 2368l23 2-23-8-22-3zM4071 2365l22 3-22-9-23-2zM4003 2352l22 2-22-8-23-3zM4048 2362l23 3-23-8-23-3zM3980 2349l23 3-23-9-22-2zM3958 2346l22 3-22-8-23-3zM3935 2343l23 3-23-8-23-3zM3912 2341l23 2-23-8-22-3zM3890 2338l22 3-22-9-23-2zM3867 2335l23 3-23-8-23-3zM3844 2332l23 3-23-8-22-3zM3821 2329l23 3-22-8-23-3z"/>
<path fill="#481800" d="M4295 2408l22 2-22-8-22-3zM4340 2418l22 3-22-9-23-2zM4317 2416l23 2-23-8-22-2zM4362 2427l22 2-22-8-22-3zM4295 2413l22 3-22-8-22-3zM4340 2424l22 3-22-9-23-2zM4317 2422l23 2-23-8-22-3zM4362 2433l22 2-22-8-22-3zM4295 2419l22 3-22-9-22-2zM4340 2430l22 3-22-9-23-2zM4317 2428l23 2-23-8-22-3zM4295 2425l22 3-22-9-23-2zM4340 2436l22 3-22-9-23-2z"/>
<path fill="#421800" d="M4384 2429l23 2-23-8-22-2zM4429 2440l22 2-22-8-22-3zM4407 2438l22 2-22-9-23-2zM4384 2435l23 3-23-9-22-2zM4429 2446l22 2-22-8-22-2zM4407 2444l22 2-22-8-23-3zM4384 2441l23 3-23-9-22-2zM4429 2452l22 2-22-8-22-2zM4362 2439l22 2-22-8-22-3zM4406 2449l23 3-22-8-23-3zM4384 2447l22 2-22-8-22-2zM4429 2458l22 2-22-8-23-3zM4406 2455l23 3-23-9-22-2z"/>
<path fill="#3c1800" d="M4473 2451l23 2-23-8-22-3zM4451 2448l22 3-22-9-22-2zM4495 2459l23 3-22-9-23-2zM4473 2457l22 2-22-8-22-3zM4451 2454l22 3-22-9-22-2zM4495 2465l23 3-23-9-22-2zM4473 2463l22 2-22-8-22-3zM4451 2460l22 3-22-9-22-2zM4495 2471l23 3-23-9-22-2zM4473 2469l22 2-22-8-22-3zM4451 2466l22 3-22-9-22-2zM4495 2477l23 3-23-9-22-2zM4473 2475l22 2-22-8-22-3zM4496 2483l22 3-23-9-22-2z"/>
<path fill="#4e1800" d="M4228 2394l22 3-22-9-23-2zM4273 2405l22 3-22-9-23-2zM4250 2403l23 2-23-8-22-3zM4228 2400l22 3-22-9-23-2zM4273 2411l22 2-22-8-23-2zM4205 2398l23 2-23-8-22-3zM4250 2408l23 3-23-8-22-3zM4228 2406l22 2-22-8-23-2zM4272 2417l23 2-22-8-23-3zM4205 2403l23 3-23-8-22-3zM4250 2414l22 3-22-9-22-2z"/>
<path fill="#000000" d="M5111 2611l21 2-21-9-22-2zM5133 2620l21 2-22-9-21-2zM5111 2618l22 2-22-9-22-2zM5154 2629l22 2-22-9-21-2zM5133 2627l21 2-21-9-22-2zM5176 2638l22 2-22-9-22-2zM5111 2625l22 2-22-9-22-2zM5155 2636l21 2-22-9-21-2zM5198 2647l21 2-21-9-22-2zM5133 2634l22 2-22-9-22-2zM5176 2645l22 2-22-9-21-2zM5220 2656l21 2-22-9-21-2zM5111 2631l22 3-22-9-22-2zM5155 2642l21 3-21-9-22-2zM5198 2654l22 2-22-9-22-2zM5241 2665l22 2-22-9-21-2zM5133 2640l22 2-22-8-22-3zM5176 2651l22 3-22-9-21-3zM5220 2662l21 3-21-9-22-2zM5263 2674l22 2-22-9-22-2zM5111 2638l22 2-22-9-21-2zM5155 2649l21 2-21-9-22-2zM5198 2660l22 2-22-8-22-3zM5242 2671l21 3-22-9-21-3zM5285 2683l21 2-21-9-22-2zM5133 2647l22 2-22-9-22-2zM5177 2658l21 2-22-9-21-2zM5307 2692l21 2-22-9-21-2zM5220 2669l22 2-22-9-22-2zM5263 2680l22 3-22-9-21-3zM5112 2645l21 2-22-9-21-2zM5155 2656l22 2-22-9-22-2zM5198 2667l22 2-22-9-21-2zM5285 2689l22 3-22-9-22-3zM5328 2701l22 2-22-9-21-2zM5242 2678l21 2-21-9-22-2zM5133 2654l22 2-22-9-21-2zM5177 2665l21 2-21-9-22-2zM5220 2676l22 2-22-9-22-2zM5264 2687l21 2-22-9-21-2zM5307 2698l21 3-21-9-22-3zM5350 2710l21 2-21-9-22-2zM5112 2651l21 3-21-9-22-3zM5155 2662l22 3-22-9-22-2zM5199 2674l21 2-22-9-21-2zM5242 2685l22 2-22-9-22-2zM5285 2696l22 2-22-9-21-2zM5328 2707l22 3-22-9-21-3zM5372 2719l21 2-22-9-21-2zM5134 2660l21 2-22-8-21-3zM5177 2671l22 3-22-9-22-3zM5220 2683l22 2-22-9-21-2zM5264 2694l21 2-21-9-22-2zM5307 2705l21 2-21-9-22-2zM5350 2716l22 3-22-9-22-3zM5393 2728l22 2-22-9-21-2zM5285 2703l22 2-22-9-21-2zM5112 2658l22 2-22-9-22-2zM5155 2669l22 2-22-9-21-2zM5199 2680l21 3-21-9-22-3zM5242 2692l22 2-22-9-22-2zM5329 2714l21 2-22-9-21-2zM5372 2725l21 3-21-9-22-3zM5415 2737l21 2-21-9-22-2zM5264 2701l21 2-21-9-22-2zM5307 2712l22 2-22-9-22-2zM5134 2667l21 2-21-9-22-2zM5177 2678l22 2-22-9-22-2zM5221 2689l21 3-22-9-21-3zM5350 2723l22 2-22-9-21-2zM5393 2735l22 2-22-9-21-3zM5437 2746l21 2-22-9-21-2zM5112 2664l22 3-22-9-22-3zM5242 2698l22 3-22-9-21-3zM5286 2710l21 2-22-9-21-2zM5329 2721l21 2-21-9-22-2zM5156 2676l21 2-22-9-21-2zM5199 2687l22 2-22-9-22-2zM5372 2732l21 3-21-10-22-2zM5415 2744l22 2-22-9-22-2zM5458 2755l21 2-21-9-21-2zM5134 2673l22 3-22-9-22-3zM5221 2696l21 2-21-9-22-2zM5264 2707l22 3-22-9-22-3zM5307 2719l22 2-22-9-21-2zM5351 2730l21 2-22-9-21-2zM5177 2685l22 2-22-9-21-2zM5394 2741l21 3-22-9-21-3zM5437 2753l21 2-21-9-22-2zM5480 2764l21 2-22-9-21-2zM5112 2671l22 2-22-9-22-2zM5156 2682l21 3-21-9-22-3zM5199 2693l22 3-22-9-22-2zM5243 2705l21 2-22-9-21-2zM5286 2716l21 3-21-9-22-3zM5329 2728l22 2-22-9-22-2zM5372 2739l22 2-22-9-21-2zM5501 2773l22 2-22-9-21-2zM5415 2750l22 3-22-9-21-3zM5458 2762l22 2-22-9-21-2zM5134 2680l22 2-22-9-22-2zM5178 2691l21 2-22-8-21-3zM5221 2702l22 3-22-9-22-3zM5264 2714l22 2-22-9-21-2zM5308 2725l21 3-22-9-21-3zM5351 2737l21 2-21-9-22-2zM5394 2748l21 2-21-9-22-2zM5480 2771l21 2-21-9-22-2zM5523 2782l21 3-21-10-22-2zM5437 2760l21 2-21-9-22-3zM5112 2677l22 3-22-9-21-3zM5156 2689l22 2-22-9-22-2zM5199 2700l22 2-22-9-21-2zM5243 2711l21 3-21-9-22-3zM5286 2723l22 2-22-9-22-2zM5329 2734l22 3-22-9-21-3zM5373 2746l21 2-22-9-21-2zM5416 2757l21 3-22-10-21-2zM5459 2769l21 2-22-9-21-2zM5502 2780l21 2-22-9-21-2zM5545 2792l21 2-22-9-21-3zM5134 2686l22 3-22-9-22-3zM5178 2697l21 3-21-9-22-2zM5221 2709l22 2-22-9-22-2zM5265 2720l21 3-22-9-21-3zM5308 2732l21 2-21-9-22-2zM5351 2743l22 3-22-9-22-3zM5394 2755l22 2-22-9-21-2zM5437 2766l22 3-22-9-21-3zM5480 2778l22 2-22-9-21-2zM5523 2789l22 3-22-10-21-2zM5566 2801l21 2-21-9-21-2zM5113 2683l21 3-22-9-21-2zM5156 2695l22 2-22-8-22-3zM5200 2706l21 3-22-9-21-3zM5243 2718l22 2-22-9-22-2zM5286 2729l22 3-22-9-21-3zM5330 2741l21 2-22-9-21-2zM5373 2752l21 3-21-9-22-3zM5416 2764l21 2-21-9-22-2zM5459 2775l21 3-21-9-22-3zM5502 2787l21 2-21-9-22-2zM5545 2798l21 3-21-9-22-3zM5588 2810l21 2-22-9-21-2zM5135 2692l21 3-22-9-21-3zM5178 2704l22 2-22-9-22-2zM5222 2715l21 3-22-9-21-3zM5265 2727l21 2-21-9-22-2zM5308 2738l22 3-22-9-22-3zM5351 2750l22 2-22-9-21-2zM5395 2761l21 3-22-9-21-3zM5438 2773l21 2-22-9-21-2zM5481 2785l21 2-22-9-21-3zM5524 2796l21 2-22-9-21-2zM5566 2808l22 2-22-9-21-3zM5609 2819l21 3-21-10-21-2zM5113 2690l22 2-22-9-22-2zM5156 2701l22 3-22-9-21-3zM5200 2713l22 2-22-9-22-2zM5243 2724l22 3-22-9-21-3zM5287 2736l21 2-22-9-21-2zM5330 2747l21 3-21-9-22-3zM5373 2759l22 2-22-9-22-2zM5416 2771l22 2-22-9-21-3zM5459 2782l22 3-22-10-21-2zM5502 2794l22 2-22-9-21-2zM5545 2805l21 3-21-10-21-2zM5588 2817l21 2-21-9-22-2zM5631 2828l21 3-22-9-21-3zM5135 2699l21 2-21-9-22-2zM5178 2710l22 3-22-9-22-3zM5222 2722l21 2-21-9-22-2zM5265 2733l22 3-22-9-22-3zM5308 2745l22 2-22-9-21-2zM5352 2756l21 3-22-9-21-3zM5395 2768l21 3-21-10-22-2zM5438 2780l21 2-21-9-22-2zM5481 2791l21 3-21-9-22-3zM5524 2803l21 2-21-9-22-2zM5567 2814l21 3-22-9-21-3zM5610 2826l21 2-22-9-21-2zM5652 2838l21 2-21-9-21-3zM5330 2754l22 2-22-9-22-2zM5546 2812l21 2-22-9-21-2zM5113 2696l22 3-22-9-22-3zM5157 2708l21 2-22-9-21-2zM5200 2719l22 3-22-9-22-3zM5244 2731l21 2-22-9-21-2zM5287 2742l21 3-21-9-22-3zM5373 2766l22 2-22-9-21-3zM5417 2777l21 3-22-9-21-3zM5460 2789l21 2-22-9-21-2zM5503 2800l21 3-22-9-21-3zM5588 2824l22 2-22-9-21-3zM5631 2835l21 3-21-10-21-2zM5309 2751l21 3-22-9-21-3zM5352 2763l21 3-21-10-22-2zM5524 2810l22 2-22-9-21-3zM5567 2821l21 3-21-10-21-2zM5135 2705l22 3-22-9-22-3zM5179 2717l21 2-22-9-21-2zM5222 2728l22 3-22-9-22-3zM5265 2740l22 2-22-9-21-2zM5395 2775l22 2-22-9-22-2zM5438 2786l22 3-22-9-21-3zM5481 2798l22 2-22-9-21-2zM5610 2833l21 2-21-9-22-2zM5287 2749l22 2-22-9-22-2zM5331 2760l21 3-22-9-21-3zM5374 2772l21 3-22-9-21-3zM5503 2807l21 3-21-10-22-2zM5546 2819l21 2-21-9-22-2zM5589 2830l21 3-22-9-21-3zM5113 2702l22 3-22-9-22-3zM5157 2714l22 3-22-9-22-3zM5200 2726l22 2-22-9-21-2zM5244 2737l21 3-21-9-22-3zM5417 2784l21 2-21-9-22-2zM5460 2795l21 3-21-9-22-3zM5266 2746l21 3-22-9-21-3zM5309 2758l22 2-22-9-22-2zM5352 2769l22 3-22-9-21-3zM5396 2781l21 3-22-9-21-3zM5482 2805l21 2-22-9-21-3zM5525 2816l21 3-22-9-21-3zM5567 2828l22 2-22-9-21-2zM5135 2711l22 3-22-9-22-3zM5179 2723l21 3-21-9-22-3zM5222 2734l22 3-22-9-22-2zM5439 2793l21 2-22-9-21-2zM5114 2708l21 3-22-9-21-2zM5417 2790l22 3-22-9-21-3zM5244 2743l22 3-22-9-22-3zM5288 2755l21 3-22-9-21-3zM5331 2767l21 2-21-9-22-2zM5374 2779l22 2-22-9-22-3zM5460 2802l22 3-22-10-21-2zM5503 2814l22 2-22-9-21-2zM5546 2825l21 3-21-9-21-3zM5157 2720l22 3-22-9-22-3zM5201 2732l21 2-22-8-21-3zM5136 2717l21 3-22-9-21-3zM5396 2788l21 2-21-9-22-2zM5439 2799l21 3-21-9-22-3zM5223 2741l21 2-22-9-21-2zM5266 2752l22 3-22-9-22-3zM5309 2764l22 3-22-9-21-3zM5353 2776l21 3-22-10-21-2zM5482 2811l21 3-21-9-22-3zM5525 2823l21 2-21-9-22-2zM5179 2729l22 3-22-9-22-3zM5114 2715l22 2-22-9-22-2zM5157 2726l22 3-22-9-21-3zM5374 2785l22 3-22-9-21-3zM5418 2797l21 2-22-9-21-2zM5461 2809l21 2-22-9-21-3zM5201 2738l22 3-22-9-22-3zM5244 2750l22 2-22-9-21-2zM5288 2761l21 3-21-9-22-3zM5331 2773l22 3-22-9-22-3zM5504 2820l21 3-22-9-21-3zM5136 2723l21 3-21-9-22-2zM5179 2735l22 3-22-9-22-3zM5353 2782l21 3-21-9-22-3zM5396 2794l22 3-22-9-22-3zM5439 2806l22 3-22-10-21-2zM5482 2818l22 2-22-9-21-2zM5223 2747l21 3-21-9-22-3zM5266 2759l22 2-22-9-22-2zM5310 2770l21 3-22-9-21-3zM5114 2721l22 2-22-8-22-3zM5158 2732l21 3-22-9-21-3zM5201 2744l22 3-22-9-22-3zM5331 2780l22 2-22-9-21-3zM5375 2791l21 3-22-9-21-3zM5418 2803l21 3-21-9-22-3zM5461 2815l21 3-21-9-22-3zM5245 2756l21 3-22-9-21-3zM5288 2768l22 2-22-9-22-2zM5136 2730l22 2-22-9-22-2zM5180 2741l21 3-22-9-21-3zM5223 2753l22 3-22-9-22-3zM5310 2777l21 3-21-10-22-2zM5353 2789l22 2-22-9-22-2zM5397 2800l21 3-22-9-21-3zM5440 2812l21 3-22-9-21-3zM5267 2765l21 3-22-9-21-3zM5114 2727l22 3-22-9-22-3zM5158 2738l22 3-22-9-22-2zM5202 2750l21 3-22-9-21-3zM5245 2762l22 3-22-9-22-3zM5288 2774l22 3-22-9-21-3zM5332 2786l21 3-22-9-21-3zM5375 2798l22 2-22-9-22-2zM5418 2810l22 2-22-9-21-3zM5136 2736l22 2-22-8-22-3zM5180 2747l22 3-22-9-22-3zM5223 2759l22 3-22-9-21-3zM5267 2771l21 3-21-9-22-3zM5310 2783l22 3-22-9-22-3zM5354 2795l21 3-22-9-21-3zM5397 2807l21 3-21-10-22-2zM5289 2780l21 3-22-9-21-3zM5115 2733l21 3-22-9-21-3zM5158 2744l22 3-22-9-22-2zM5202 2756l21 3-21-9-22-3zM5245 2768l22 3-22-9-22-3zM5332 2792l22 3-22-9-22-3zM5375 2804l22 3-22-9-21-3zM5267 2777l22 3-22-9-22-3zM5311 2789l21 3-22-9-21-3zM5137 2741l21 3-22-8-21-3zM5180 2753l22 3-22-9-22-3zM5224 2765l21 3-22-9-21-3zM5354 2801l21 3-21-9-22-3zM5246 2774l21 3-22-9-21-3zM5289 2786l22 3-22-9-22-3zM5333 2798l21 3-22-9-21-3zM5115 2739l22 2-22-8-22-3zM5159 2750l21 3-22-9-21-3zM5202 2762l22 3-22-9-22-3zM5224 2771l22 3-22-9-22-3zM5268 2783l21 3-22-9-21-3zM5311 2795l22 3-22-9-22-3zM5137 2747l22 3-22-9-22-2zM5181 2759l21 3-22-9-21-3zM5115 2744l22 3-22-8-22-4zM5203 2768l21 3-22-9-21-3zM5246 2780l22 3-22-9-22-3zM5289 2792l22 3-22-9-21-3zM5159 2756l22 3-22-9-22-3zM5137 2753l22 3-22-9-22-3zM5181 2765l22 3-22-9-22-3zM5224 2777l22 3-22-9-21-3zM5268 2789l21 3-21-9-22-3zM5116 2750l21 3-22-9-21-3zM5159 2762l22 3-22-9-22-3zM5203 2774l21 3-21-9-22-3zM5246 2786l22 3-22-9-22-3zM5138 2759l21 3-22-9-21-3zM5181 2771l22 3-22-9-22-3zM5225 2783l21 3-22-9-21-3zM5116 2756l22 3-22-9-22-3zM5160 2768l21 3-22-9-21-3zM5203 2780l22 3-22-9-22-3zM5138 2765l22 3-22-9-22-3zM5182 2777l21 3-22-9-21-3zM5116 2762l22 3-22-9-22-3zM5160 2774l22 3-22-9-22-3zM5138 2770l22 4-22-9-22-3zM5116 2767l22 3-22-8-22-4z"/>
<path fill="#600c00" d="M4026 2349l22 2-22-8-23-3z"/>
<path fill="#541800" d="M4205 2392l23 2-23-8-22-3zM4138 2378l23 3-23-8-22-3zM4183 2389l22 3-22-9-22-2zM4160 2387l23 2-22-8-23-3zM4138 2384l22 3-22-9-22-2zM4183 2395l22 3-22-9-23-2zM4115 2382l23 2-22-8-23-3zM4160 2392l23 3-23-8-22-3zM4138 2390l22 2-22-8-23-2zM3753 2320l23 3-23-8-23-3zM3798 2332l23 2-22-8-23-3zM3776 2329l22 3-22-9-23-3zM3730 2322l23 4-23-9-23-3z"/>
<path fill="#361800" d="M4518 2468l22 2-22-8-23-3zM4540 2476l22 3-22-9-22-2zM4518 2474l22 2-22-8-23-3zM4562 2485l22 2-22-8-22-3zM4540 2482l22 3-22-9-22-2zM4518 2480l22 2-22-8-23-3zM4562 2491l22 2-22-8-22-3zM4540 2488l22 3-22-9-22-2zM4562 2497l22 2-22-8-22-3zM4518 2486l22 2-22-8-23-3zM4540 2494l22 3-22-9-22-2zM4518 2492l22 2-22-8-22-3zM4562 2503l22 2-22-8-22-3zM4540 2500l22 3-22-9-22-2z"/>
<path fill="#0c0600" d="M5002 2587l22 2-22-8-22-2zM5002 2594l22 2-22-9-22-2zM5024 2603l22 2-22-9-22-2zM5002 2601l22 2-22-9-22-2zM4980 2598l22 3-22-9-21-2zM5024 2609l22 3-22-9-22-2zM5002 2607l22 2-22-8-22-3zM4981 2605l21 2-22-9-21-2zM5024 2616l22 2-22-9-22-2zM5002 2614l22 2-22-9-21-2zM4981 2611l21 3-21-9-22-2zM5024 2622l22 3-22-9-22-2zM5003 2620l21 2-22-8-21-3zM4981 2618l22 2-22-9-22-2zM5025 2629l21 2-22-9-21-2zM5003 2627l22 2-22-9-22-2zM5025 2635l21 3-21-9-22-2zM4981 2624l22 3-22-9-22-3zM5003 2633l22 2-22-8-22-3zM4981 2630l22 3-22-9-22-2zM5025 2642l22 2-22-9-22-2zM5003 2639l22 3-22-9-22-3zM5025 2648l22 3-22-9-22-3z"/>
<path fill="#601200" d="M4025 2354l23 3-22-8-23-3z"/>
<path fill="#5a1800" d="M4116 2376l22 2-22-8-23-2zM4093 2373l23 3-23-8-22-3zM4025 2360l23 2-23-8-22-2zM4070 2371l23 2-22-8-23-3zM4048 2368l22 3-22-9-23-2zM4003 2357l22 3-22-8-23-3zM4093 2379l22 3-22-9-23-2zM4025 2365l23 3-23-8-22-3zM4070 2376l23 3-23-8-22-3zM3980 2354l23 3-23-8-22-3zM4003 2363l22 2-22-8-23-3zM3958 2352l22 2-22-8-23-3zM3980 2360l23 3-23-9-22-2zM3935 2349l23 3-23-9-23-2zM3957 2357l23 3-22-8-23-3zM3912 2346l23 3-23-8-22-3zM3889 2343l23 3-22-8-23-3zM3935 2354l22 3-22-8-23-3zM3867 2340l22 3-22-8-23-3zM3844 2337l23 3-23-8-23-3zM3821 2334l23 3-23-8-22-3z"/>
<path fill="#301800" d="M4584 2493l22 3-22-9-22-2zM4606 2502l23 2-23-8-22-3zM4584 2499l22 3-22-9-22-2zM4606 2508l23 2-23-8-22-3zM4584 2505l22 3-22-9-22-2zM4629 2516l22 3-22-9-23-2zM4606 2514l23 2-23-8-22-3zM4584 2511l22 3-22-9-22-2zM4629 2522l22 3-22-9-23-2zM4607 2520l22 2-23-8-22-3z"/>
<path fill="#180c00" d="M4871 2568l22 2-22-9-22-2zM4871 2574l22 2-22-8-22-3zM4893 2583l22 2-22-9-22-2zM4871 2580l22 3-22-9-22-2zM4849 2578l22 2-22-8-22-3zM4893 2589l22 2-22-8-22-3zM4871 2587l22 2-22-9-22-2zM4849 2584l22 3-22-9-22-3zM4893 2595l22 3-22-9-22-2zM4871 2593l22 2-22-8-22-3zM4849 2590l22 3-22-9-22-2zM4893 2602l22 2-22-9-22-2zM4871 2599l22 3-22-9-22-3z"/>
<path fill="#241200" d="M4739 2535l22 2-22-9-22-2zM4739 2541l22 2-22-8-22-3zM4717 2538l22 3-22-9-22-2zM4761 2549l22 3-22-9-22-2zM4739 2547l22 2-22-8-22-3zM4761 2556l22 2-22-9-22-2zM4717 2545l22 2-22-9-22-2zM4739 2553l22 3-22-9-22-2zM4717 2551l22 2-22-8-22-3zM4761 2562l22 2-22-8-22-3zM4739 2559l22 3-22-9-22-2z"/>
<path fill="#4e1e00" d="M4272 2423l23 2-23-8-22-3zM4228 2412l22 2-22-8-23-3zM4250 2420l22 3-22-9-22-2zM4205 2409l23 3-23-9-22-2zM4228 2417l22 3-22-8-23-3zM4205 2415l23 2-23-8-22-3zM4250 2426l22 2-22-8-22-3zM4183 2412l22 3-22-9-23-2zM4228 2423l22 3-22-9-23-2zM3570 2300l23 4-23-8-23-4z"/>
<path fill="#481e00" d="M4317 2434l23 2-23-8-22-3zM4295 2431l22 3-22-9-23-2zM4340 2442l22 2-22-8-23-2zM4272 2428l23 3-23-8-22-3zM4317 2439l23 3-23-8-22-3zM4295 2437l22 2-22-8-23-3zM4339 2448l23 2-22-8-23-3zM4272 2434l23 3-23-9-22-2zM4317 2445l22 3-22-9-22-2zM4295 2442l22 3-22-8-23-3zM4339 2453l23 3-23-8-22-3z"/>
<path fill="#541e00" d="M4183 2401l22 2-22-8-23-3zM4115 2387l23 3-23-8-22-3zM4160 2398l23 3-23-9-22-2zM4138 2395l22 3-22-8-23-3zM4183 2406l22 3-22-8-23-3zM4115 2393l23 2-23-8-22-3zM4160 2404l23 2-23-8-22-3zM4093 2390l22 3-22-9-23-2zM4138 2401l22 3-22-9-23-2zM3821 2340l23 3-23-9-23-2zM3798 2337l23 3-23-8-22-3zM3753 2326l23 3-23-9-23-3zM3730 2327l23 4-23-9-23-3zM3638 2315l23 3-22-8-23-3z"/>
<path fill="#421e00" d="M4362 2444l22 3-22-8-22-3zM4384 2453l22 2-22-8-22-3zM4429 2464l22 2-22-8-23-3zM4362 2450l22 3-22-9-22-2zM4406 2461l23 3-23-9-22-2zM4384 2459l22 2-22-8-22-3zM4362 2456l22 3-22-9-23-2zM4406 2467l23 3-23-9-22-2zM4384 2465l22 2-22-8-22-3zM4362 2462l22 3-22-9-23-3zM4406 2473l23 3-23-9-22-2z"/>
<path fill="#5a1e00" d="M4048 2373l22 3-22-8-23-3zM4093 2384l22 3-22-8-23-3zM4025 2371l23 2-23-8-22-2zM4070 2382l23 2-23-8-22-3zM4003 2368l22 3-22-8-23-3zM4048 2379l22 3-22-9-23-2zM3980 2365l23 3-23-8-23-3zM4025 2376l23 3-23-8-22-3zM3912 2351l23 3-23-8-23-3zM3957 2362l23 3-23-8-22-3zM3889 2348l23 3-23-8-22-3zM3935 2359l22 3-22-8-23-3zM3867 2346l22 2-22-8-23-3zM3912 2357l23 2-23-8-23-3zM3844 2343l23 3-23-9-23-3zM3889 2354l23 3-23-9-22-2z"/>
<path fill="#3c1e00" d="M4451 2472l22 3-22-9-22-2zM4429 2470l22 2-22-8-23-3zM4473 2481l23 2-23-8-22-3zM4496 2489l22 3-22-9-23-2zM4451 2478l22 3-22-9-22-2zM4429 2476l22 2-22-8-23-3zM4473 2487l23 2-23-8-22-3zM4451 2484l22 3-22-9-22-2z"/>
<path fill="#060600" d="M5046 2625l22 2-22-9-22-2zM5046 2631l22 3-22-9-22-3zM5046 2638l22 2-22-9-21-2zM5047 2644l21 3-22-9-21-3zM5068 2653l22 2-22-8-21-3zM5047 2651l21 2-21-9-22-2zM5069 2659l21 3-22-9-21-2zM5047 2657l22 2-22-8-22-3zM5091 2668l21 3-22-9-21-3zM5069 2666l22 2-22-9-22-2zM5047 2663l22 3-22-9-22-3zM5091 2675l21 2-21-9-22-2zM5069 2672l22 3-22-9-22-3zM5047 2669l22 3-22-9-22-2zM5069 2678l22 3-22-9-22-3zM5048 2676l21 2-22-9-21-2z"/>
<path fill="#5a2400" d="M4070 2387l23 3-23-8-22-3zM4002 2373l23 3-22-8-23-3zM4048 2384l22 3-22-8-23-3zM3980 2371l22 2-22-8-23-3zM4025 2382l23 2-23-8-23-3zM4070 2393l23 2-23-8-22-3zM3957 2368l23 3-23-9-22-3zM4002 2379l23 3-23-9-22-2zM4048 2390l22 3-22-9-23-2zM3935 2365l22 3-22-9-23-2zM3980 2376l22 3-22-8-23-3zM3866 2351l23 3-22-8-23-3zM3912 2362l23 3-23-8-23-3zM3957 2373l23 3-23-8-22-3zM3889 2359l23 3-23-8-23-3z"/>
<path fill="#542400" d="M4115 2398l23 3-23-8-22-3zM4160 2409l23 3-23-8-22-3zM4093 2395l22 3-22-8-23-3zM4138 2406l22 3-22-8-23-3zM4115 2404l23 2-23-8-22-3zM4160 2415l23 3-23-9-22-3zM4093 2401l22 3-22-9-23-2zM4138 2412l22 3-22-9-23-2zM3844 2348l22 3-22-8-23-3zM3776 2334l22 3-22-8-23-3zM3821 2345l23 3-23-8-23-3zM3866 2356l23 3-23-8-22-3zM3753 2331l23 3-23-8-23-4zM3798 2342l23 3-23-8-22-3z"/>
<path fill="#4e2400" d="M4205 2420l23 3-23-8-22-3zM4250 2431l22 3-22-8-22-3zM4183 2418l22 2-22-8-23-3zM4228 2429l22 2-22-8-23-3zM4205 2426l23 3-23-9-22-2zM4250 2437l22 3-22-9-22-2zM4183 2423l22 3-22-8-23-3zM4227 2434l23 3-22-8-23-3zM4160 2420l23 3-23-8-22-3zM4205 2431l22 3-22-8-22-3z"/>
<path fill="#361e00" d="M4518 2498l22 2-22-8-22-3zM4562 2509l22 2-22-8-22-3zM4496 2495l22 3-22-9-23-2zM4540 2506l22 3-22-9-22-2z"/>
<path fill="#2a1800" d="M4651 2531l22 3-22-9-22-3zM4673 2540l22 2-22-8-22-3zM4695 2548l22 3-22-9-22-2z"/>
<path fill="#1e1200" d="M4783 2564l22 3-22-9-22-2zM4783 2571l22 2-22-9-22-2zM4805 2579l22 3-22-9-22-2zM4827 2588l22 2-22-8-22-3z"/>
<path fill="#120c00" d="M4915 2598l22 2-22-9-22-2zM4915 2604l22 3-22-9-22-3zM4915 2610l22 3-22-9-22-2zM4937 2619l22 3-22-9-22-3zM4959 2628l22 2-22-8-22-3z"/>
<path fill="#482400" d="M4272 2440l23 2-23-8-22-3zM4317 2451l22 2-22-8-22-3zM4295 2448l22 3-22-9-23-2zM4272 2445l23 3-23-8-22-3zM4317 2456l22 3-22-8-22-3z"/>
<path fill="#301e00" d="M4584 2517l23 3-23-9-22-2zM4629 2528l22 3-22-9-22-2z"/>
<path fill="#3c2400" d="M4429 2481l22 3-22-8-23-3zM4473 2493l23 2-23-8-22-3z"/>
<path fill="#422400" d="M4339 2459l23 3-23-9-22-2zM4384 2470l22 3-22-8-22-3zM4362 2468l22 2-22-8-23-3z"/>
<path fill="#362400" d="M4518 2504l22 2-22-8-22-3zM4562 2515l22 2-22-8-22-3z"/>
<path fill="#302400" d="M4607 2526l22 2-22-8-23-3zM4584 2523l23 3-23-9-22-2zM4629 2534l22 3-22-9-22-2z"/>
<path fill="#2a1e00" d="M4651 2537l22 3-22-9-22-3zM4673 2546l22 2-22-8-22-3zM4695 2554l22 3-22-9-22-2z"/>
<path fill="#422a00" d="M4406 2479l23 2-23-8-22-3zM4339 2465l23 3-23-9-22-3z"/>
<path fill="#3c2a00" d="M4451 2490l22 3-22-9-22-3z"/>
<path fill="#362a00" d="M4496 2501l22 3-22-9-23-2zM4540 2512l22 3-22-9-22-2zM4518 2509l22 3-22-8-22-3zM4562 2521l22 2-22-8-22-3z"/>
<path fill="#241800" d="M4717 2557l22 2-22-8-22-3zM4761 2568l22 3-22-9-22-3zM4739 2565l22 3-22-9-22-2z"/>
<path fill="#540600" d="M3730 2312l23 3-22-8-23-3zM3684 2321l23 3-23-8-23-3z"/>
<path fill="#5a2a00" d="M4070 2398l23 3-23-8-22-3zM4025 2387l23 3-23-8-23-3zM4047 2395l23 3-22-8-23-3zM4002 2384l23 3-23-8-22-3zM3934 2370l23 3-22-8-23-3zM4025 2392l22 3-22-8-23-3zM3980 2381l22 3-22-8-23-3zM3912 2367l22 3-22-8-23-3zM3957 2378l23 3-23-8-23-3z"/>
<path fill="#542a00" d="M4115 2409l23 3-23-8-22-3zM4093 2406l22 3-22-8-23-3zM4138 2417l22 3-22-8-23-3zM4070 2403l23 3-23-8-23-3zM3844 2353l22 3-22-8-23-3zM3889 2364l23 3-23-8-23-3zM3775 2339l23 3-22-8-23-3zM3821 2350l23 3-23-8-23-3zM3753 2336l22 3-22-8-23-4z"/>
<path fill="#423000" d="M4384 2476l22 3-22-9-22-2zM4362 2473l22 3-22-8-23-3zM4406 2484l23 3-23-8-22-3z"/>
<path fill="#3c3000" d="M4429 2487l22 3-22-9-23-2zM4473 2498l23 3-23-8-22-3zM4451 2496l22 2-22-8-22-3z"/>
<path fill="#2a2400" d="M4651 2543l22 3-22-9-22-3zM4673 2552l22 2-22-8-22-3zM4695 2560l22 3-22-9-22-2z"/>
<path fill="#1e1800" d="M4783 2577l22 2-22-8-22-3zM4806 2585l21 3-22-9-22-2zM4828 2594l22 3-23-9-21-3z"/>
<path fill="#540000" d="M3707 2309l23 3-22-8-23-3zM3685 2306l22 3-22-8-23-3zM3662 2303l23 3-23-8-23-3zM3707 2314l23 3-23-8-22-3zM3639 2300l23 3-23-8-23-3zM3684 2311l23 3-22-8-23-3zM3616 2297l23 3-23-8-23-3zM3662 2308l22 3-22-8-23-3zM3639 2305l23 3-23-8-23-3zM3684 2316l23 3-23-8-22-3zM3661 2313l23 3-22-8-23-3z"/>
<path fill="#482a00" d="M4250 2443l22 2-22-8-23-3zM4295 2454l22 2-22-8-23-3z"/>
<path fill="#302a00" d="M4607 2532l22 2-22-8-23-3zM4629 2540l22 3-22-9-22-2z"/>
<path fill="#4e2a00" d="M4183 2429l22 2-22-8-23-3zM3501 2286l23 3-23-8-23-3z"/>
<path fill="#363000" d="M4496 2507l22 2-22-8-23-3zM4540 2518l22 3-22-9-22-3zM4562 2527l22 2-22-8-22-3z"/>
<path fill="#241e00" d="M4717 2563l22 2-22-8-22-3zM4761 2574l22 3-22-9-22-3zM4739 2572l22 2-22-9-22-2z"/>
<path fill="#4e3000" d="M4227 2440l23 3-23-9-22-3z"/>
<path fill="#483000" d="M4272 2451l23 3-23-9-22-2zM4317 2462l22 3-22-9-22-2z"/>
<path fill="#303000" d="M4584 2529l23 3-23-9-22-2zM4607 2538l22 2-22-8-23-3zM4585 2535l22 3-23-9-22-2zM4562 2532l23 3-23-8-22-3z"/>
<path fill="#181200" d="M4850 2597l21 2-22-9-22-2zM4893 2608l22 2-22-8-22-3zM4872 2605l21 3-22-9-21-2zM4894 2614l21 3-22-9-21-3z"/>
<path fill="#543000" d="M4115 2415l23 2-23-8-22-3zM3866 2361l23 3-23-8-22-3zM3730 2332l23 4-23-9-23-3z"/>
<path fill="#4e3600" d="M4160 2426l23 3-23-9-22-3zM4205 2437l22 3-22-9-22-2zM3547 2297l23 3-23-8-23-3z"/>
<path fill="#423600" d="M4339 2470l23 3-23-8-22-3zM4384 2482l22 2-22-8-22-3z"/>
<path fill="#3c3600" d="M4429 2493l22 3-22-9-23-3zM4473 2504l23 3-23-9-22-2z"/>
<path fill="#363600" d="M4518 2515l22 3-22-9-22-2zM4496 2513l22 2-22-8-23-3zM4540 2524l22 3-22-9-22-3z"/>
<path fill="#2a2a00" d="M4651 2549l22 3-22-9-22-3zM4673 2558l22 2-22-8-22-3zM4651 2555l22 3-22-9-22-3z"/>
<path fill="#1e1e00" d="M4784 2583l22 2-23-8-22-3zM4806 2591l22 3-22-9-22-2zM4784 2589l22 2-22-8-22-3zM4828 2600l22 3-22-9-22-3zM4806 2598l22 2-22-9-22-2z"/>
<path fill="#483600" d="M4250 2448l22 3-22-8-23-3zM4295 2459l22 3-22-8-23-3z"/>
<path fill="#121200" d="M4915 2617l22 2-22-9-22-2zM4937 2625l22 3-22-9-22-2zM4916 2623l21 2-22-8-21-3zM4959 2634l22 3-22-9-22-3zM4938 2632l21 2-22-9-21-2zM4916 2629l22 3-22-9-22-3z"/>
<path fill="#5a3000" d="M4002 2389l23 3-23-8-22-3zM3934 2375l23 3-23-8-22-3z"/>
<path fill="#5a3600" d="M4047 2400l23 3-23-8-22-3zM3980 2386l22 3-22-8-23-3z"/>
<path fill="#543c00" d="M4092 2412l23 3-22-9-23-3zM4137 2423l23 3-22-9-23-2zM3843 2358l23 3-22-8-23-3z"/>
<path fill="#4e3c00" d="M4182 2434l23 3-22-8-23-3zM3524 2294l23 3-23-8-23-3z"/>
<path fill="#4e4200" d="M4227 2445l23 3-23-8-22-3z"/>
<path fill="#484200" d="M4317 2468l22 2-22-8-22-3zM4272 2456l23 3-23-8-22-3z"/>
<path fill="#423c00" d="M4362 2479l22 3-22-9-23-3zM4406 2490l23 3-23-9-22-2z"/>
<path fill="#3c3c00" d="M4451 2501l22 3-22-8-22-3zM4429 2499l22 2-22-8-23-3z"/>
<path fill="#2a3000" d="M4629 2546l22 3-22-9-22-2zM4607 2544l22 2-22-8-22-3zM4585 2541l22 3-22-9-23-3z"/>
<path fill="#242400" d="M4717 2569l22 3-22-9-22-3zM4762 2580l22 3-23-9-22-2zM4740 2578l22 2-23-8-22-3z"/>
<path fill="#181800" d="M4850 2603l22 2-22-8-22-3zM4872 2611l22 3-22-9-22-2zM4850 2609l22 2-22-8-22-3zM4894 2620l22 3-22-9-22-3z"/>
<path fill="#0c0c00" d="M4981 2637l22 2-22-9-22-2zM5003 2646l22 2-22-9-22-2zM4981 2643l22 3-22-9-22-3zM5025 2654l22 3-22-9-22-2zM5003 2652l22 2-22-8-22-3zM4982 2649l21 3-22-9-21-3z"/>
<path fill="#5a4200" d="M4025 2398l22 2-22-8-23-3zM3957 2383l23 3-23-8-23-3z"/>
<path fill="#544200" d="M4070 2409l22 3-22-9-23-3zM4115 2420l22 3-22-8-23-3zM3775 2344l23 3-23-8-22-3zM3684 2326l23 3-23-8-23-3z"/>
<path fill="#544800" d="M4160 2431l22 3-22-8-23-3zM3569 2305l23 3-22-8-23-3z"/>
<path fill="#4e4800" d="M4205 2442l22 3-22-8-23-3z"/>
<path fill="#484800" d="M4250 2454l22 2-22-8-23-3zM4295 2465l22 3-22-9-23-3z"/>
<path fill="#424200" d="M4339 2476l23 3-23-9-22-2zM4384 2487l22 3-22-8-22-3z"/>
<path fill="#363c00" d="M4473 2510l23 3-23-9-22-3zM4406 2496l23 3-23-9-22-3z"/>
<path fill="#303600" d="M4518 2521l22 3-22-9-22-2zM4496 2518l22 3-22-8-23-3z"/>
<path fill="#242a00" d="M4695 2566l22 3-22-9-22-2zM4673 2564l22 2-22-8-22-3z"/>
<path fill="#4e0000" d="M3593 2294l23 3-23-8-23-3zM3570 2291l23 3-23-8-23-3zM3616 2302l23 3-23-8-23-3zM3547 2288l23 3-23-8-23-3zM3593 2299l23 3-23-8-23-3zM3639 2310l22 3-22-8-23-3zM3524 2284l23 4-23-8-23-4zM3570 2296l23 3-23-8-23-3zM3616 2307l23 3-23-8-23-3zM3501 2281l23 3-23-8-23-3zM3547 2292l23 4-23-8-23-4zM3593 2304l23 3-23-8-23-3zM3478 2278l23 3-23-8-23-3z"/>
<path fill="#5a3c00" d="M3912 2372l22 3-22-8-23-3z"/>
<path fill="#5a4800" d="M4002 2395l23 3-23-9-22-3zM3889 2369l23 3-23-8-23-3z"/>
<path fill="#5a4e00" d="M4047 2406l23 3-23-9-22-2zM3934 2380l23 3-23-8-22-3z"/>
<path fill="#544e00" d="M4092 2417l23 3-23-8-22-3zM4137 2428l23 3-23-8-22-3zM3821 2355l22 3-22-8-23-3zM3592 2308l23 4-22-8-23-4z"/>
<path fill="#4e4e00" d="M4182 2439l23 3-23-8-22-3zM3546 2302l23 3-22-8-23-3z"/>
<path fill="#484e00" d="M4227 2451l23 3-23-9-22-3zM4160 2436l22 3-22-8-23-3zM3592 2313l23 3-23-8-23-3z"/>
<path fill="#424800" d="M4272 2462l23 3-23-9-22-2zM4317 2473l22 3-22-8-22-3zM4250 2459l22 3-22-8-23-3z"/>
<path fill="#3c4200" d="M4362 2484l22 3-22-8-23-3z"/>
<path fill="#303c00" d="M4451 2507l22 3-22-9-22-2zM4429 2504l22 3-22-8-23-3z"/>
<path fill="#2a3600" d="M4540 2530l22 2-22-8-22-3zM4518 2527l22 3-22-9-22-3z"/>
<path fill="#243000" d="M4629 2552l22 3-22-9-22-2zM4562 2538l23 3-23-9-22-2zM4607 2549l22 3-22-8-22-3z"/>
<path fill="#1e2400" d="M4717 2575l23 3-23-9-22-3zM4762 2586l22 3-22-9-22-2zM4740 2583l22 3-22-8-23-3z"/>
<path fill="#543600" d="M3798 2347l23 3-23-8-23-3zM3707 2329l23 3-23-8-23-3zM3615 2312l23 3-22-8-23-3z"/>
<path fill="#5a5400" d="M3979 2392l23 3-22-9-23-3zM3866 2366l23 3-23-8-23-3z"/>
<path fill="#5a5a00" d="M4025 2403l22 3-22-8-23-3z"/>
<path fill="#545400" d="M4070 2414l22 3-22-8-23-3zM3752 2340l23 4-22-8-23-4zM3661 2323l23 3-23-8-23-3z"/>
<path fill="#4e5400" d="M4115 2425l22 3-22-8-23-3zM3798 2352l23 3-23-8-23-3z"/>
<path fill="#424e00" d="M4205 2448l22 3-22-9-23-3zM3569 2310l23 3-23-8-23-3z"/>
<path fill="#3c4800" d="M4295 2470l22 3-22-8-23-3zM4227 2456l23 3-23-8-22-3z"/>
<path fill="#364200" d="M4339 2482l23 2-23-8-22-3zM4384 2493l22 3-22-9-22-3z"/>
<path fill="#2a3c00" d="M4473 2515l23 3-23-8-22-3zM4407 2501l22 3-23-8-22-3zM4451 2513l22 2-22-8-22-3z"/>
<path fill="#1e2a00" d="M4651 2561l22 3-22-9-22-3zM4695 2572l22 3-22-9-22-2zM4629 2558l22 3-22-9-22-3zM4673 2569l22 3-22-8-22-3z"/>
<path fill="#181e00" d="M4784 2595l22 3-22-9-22-3zM4828 2606l22 3-22-9-22-2zM4806 2604l22 2-22-8-22-3z"/>
<path fill="#121800" d="M4872 2618l22 2-22-9-22-2zM4850 2615l22 3-22-9-22-3zM4894 2626l22 3-22-9-22-2zM4872 2624l22 2-22-8-22-3z"/>
<path fill="#0c1200" d="M4960 2640l21 3-22-9-21-2zM4938 2638l22 2-22-8-22-3zM4916 2635l22 3-22-9-22-3zM4960 2647l22 2-22-9-22-2zM4938 2644l22 3-22-9-22-3z"/>
<path fill="#545a00" d="M3911 2377l23 3-22-8-23-3zM3957 2388l22 4-22-9-23-3z"/>
<path fill="#4e5a00" d="M4002 2400l23 3-23-8-23-3zM4047 2411l23 3-23-8-22-3z"/>
<path fill="#485400" d="M4092 2422l23 3-23-8-22-3zM3843 2363l23 3-23-8-22-3zM3889 2374l22 3-22-8-23-3zM3730 2337l22 3-22-8-23-3zM3615 2316l23 4-23-8-23-4z"/>
<path fill="#425400" d="M4137 2434l23 2-23-8-22-3zM3638 2320l23 3-23-8-23-3z"/>
<path fill="#3c4e00" d="M4182 2445l23 3-23-9-22-3z"/>
<path fill="#364800" d="M4272 2467l23 3-23-8-22-3z"/>
<path fill="#304200" d="M4317 2479l22 3-22-9-22-3zM4362 2490l22 3-22-9-23-2z"/>
<path fill="#243600" d="M4496 2524l22 3-22-9-23-3zM4540 2535l22 3-22-8-22-3zM4473 2521l23 3-23-9-22-2z"/>
<path fill="#1e3000" d="M4585 2547l22 2-22-8-23-3zM4562 2544l23 3-23-9-22-3zM4607 2555l22 3-22-9-22-2z"/>
<path fill="#182400" d="M4718 2581l22 2-23-8-22-3zM4762 2592l22 3-22-9-22-3zM4696 2578l22 3-23-9-22-3zM4740 2589l22 3-22-9-22-2z"/>
<path fill="#060c00" d="M5025 2661l22 2-22-9-22-2zM5004 2658l21 3-22-9-21-3zM4982 2655l22 3-22-9-22-2zM5026 2667l21 2-22-8-21-3zM5004 2664l22 3-22-9-22-3zM5026 2673l22 3-22-9-22-3zM4982 2661l22 3-22-9-22-2z"/>
<path fill="#425a00" d="M3934 2385l23 3-23-8-23-3zM3979 2397l23 3-23-8-22-4zM4025 2408l22 3-22-8-23-3z"/>
<path fill="#3c5400" d="M4070 2419l22 3-22-8-23-3zM4115 2431l22 3-22-9-23-3zM3775 2349l23 3-23-8-23-4zM3821 2360l22 3-22-8-23-3zM3707 2334l23 3-23-8-23-3z"/>
<path fill="#364e00" d="M4160 2442l22 3-22-9-23-2zM3638 2324l23 4-23-8-23-4zM3615 2321l23 3-23-8-23-3zM3592 2318l23 3-23-8-23-3z"/>
<path fill="#304e00" d="M4205 2453l22 3-22-8-23-3zM4137 2439l23 3-23-8-22-3z"/>
<path fill="#304800" d="M4250 2464l22 3-22-8-23-3z"/>
<path fill="#2a4800" d="M4295 2476l22 3-22-9-23-3zM4227 2461l23 3-23-8-22-3z"/>
<path fill="#2a4200" d="M4339 2487l23 3-23-8-22-3zM4384 2498l23 3-23-8-22-3z"/>
<path fill="#243c00" d="M4429 2510l22 3-22-9-22-3z"/>
<path fill="#1e3600" d="M4518 2532l22 3-22-8-22-3zM4496 2530l22 2-22-8-23-3z"/>
<path fill="#182a00" d="M4651 2567l22 2-22-8-22-3zM4629 2564l22 3-22-9-22-3zM4673 2575l23 3-23-9-22-2z"/>
<path fill="#121e00" d="M4784 2601l22 3-22-9-22-3zM4828 2612l22 3-22-9-22-2zM4806 2609l22 3-22-8-22-3z"/>
<path fill="#000600" d="M5091 2681l22 2-22-8-22-3zM5091 2687l22 3-22-9-22-3zM5069 2685l22 2-22-9-21-2zM5048 2682l21 3-21-9-22-3zM5091 2693l22 3-22-9-22-2zM5070 2691l21 2-22-8-21-3zM5048 2688l22 3-22-9-22-3zM5092 2700l21 2-22-9-21-2zM5070 2697l22 3-22-9-22-3zM5092 2706l22 2-22-8-22-3zM5048 2694l22 3-22-9-22-3zM5070 2703l22 3-22-9-22-3zM5048 2700l22 3-22-9-22-3zM5092 2712l22 3-22-9-22-3zM5070 2709l22 3-22-9-22-3zM5049 2706l21 3-22-9-21-3zM5092 2718l22 3-22-9-22-3zM5071 2715l21 3-22-9-21-3zM5049 2712l22 3-22-9-22-3zM5093 2724l21 3-22-9-21-3zM5071 2721l22 3-22-9-22-3zM5049 2718l22 3-22-9-22-3zM5093 2730l22 3-22-9-22-3zM5071 2727l22 3-22-9-22-3zM5049 2724l22 3-22-9-22-3zM5093 2735l22 4-22-9-22-3zM5071 2732l22 3-22-8-22-3zM5050 2729l21 3-22-8-21-4zM5094 2741l21 3-22-9-22-3zM5028 2726l22 3-22-9-22-3zM5072 2738l22 3-23-9-21-3zM5094 2747l22 3-22-9-22-3zM5050 2735l22 3-22-9-22-3zM5072 2744l22 3-22-9-22-3zM5028 2732l22 3-22-9-22-3zM5050 2741l22 3-22-9-22-3zM5094 2753l22 3-22-9-22-3zM5072 2749l22 4-22-9-22-3zM5051 2746l21 3-22-8-21-4zM5094 2758l22 4-22-9-22-4zM5073 2755l21 3-22-9-21-3zM5095 2764l21 3-22-9-21-3zM5073 2761l22 3-22-9-22-3z"/>
<path fill="#365400" d="M3866 2371l23 3-23-8-23-3zM3911 2382l23 3-23-8-22-3zM3957 2394l22 3-22-9-23-3zM4002 2405l23 3-23-8-23-3z"/>
<path fill="#305400" d="M4047 2416l23 3-23-8-22-3zM4092 2427l23 4-23-9-22-3zM3661 2328l23 3-23-8-23-3z"/>
<path fill="#2a4e00" d="M4182 2450l23 3-23-8-22-3zM3615 2326l23 3-23-8-23-3z"/>
<path fill="#244800" d="M4272 2473l23 3-23-9-22-3zM4205 2458l22 3-22-8-23-3z"/>
<path fill="#244200" d="M4317 2484l22 3-22-8-22-3zM4362 2495l22 3-22-8-23-3z"/>
<path fill="#1e3c00" d="M4407 2507l22 3-22-9-23-3zM4451 2518l22 3-22-8-22-3zM4384 2504l23 3-23-9-22-3z"/>
<path fill="#183000" d="M4540 2541l22 3-22-9-22-3zM4585 2552l22 3-22-8-23-3zM4563 2550l22 2-23-8-22-3z"/>
<path fill="#122400" d="M4718 2587l22 2-22-8-22-3zM4762 2598l22 3-22-9-22-3zM4696 2584l22 3-22-9-23-3zM4740 2595l22 3-22-9-22-2z"/>
<path fill="#0c1800" d="M4850 2621l22 3-22-9-22-3zM4894 2632l22 3-22-9-22-2zM4872 2630l22 2-22-8-22-3z"/>
<path fill="#4e0600" d="M3524 2289l23 3-23-8-23-3z"/>
<path fill="#245400" d="M3752 2345l23 4-23-9-22-3zM3798 2357l23 3-23-8-23-3zM3843 2368l23 3-23-8-22-3zM3889 2379l22 3-22-8-23-3zM3934 2390l23 4-23-9-23-3zM3979 2402l23 3-23-8-22-3zM4025 2413l22 3-22-8-23-3zM4070 2424l22 3-22-8-23-3z"/>
<path fill="#244e00" d="M4115 2436l22 3-22-8-23-4zM4160 2447l22 3-22-8-23-3zM3661 2332l23 4-23-8-23-4zM3638 2329l23 3-23-8-23-3z"/>
<path fill="#1e4800" d="M4250 2470l22 3-22-9-23-3z"/>
<path fill="#1e4200" d="M4295 2481l22 3-22-8-23-3zM4339 2493l23 2-23-8-22-3z"/>
<path fill="#183c00" d="M4429 2515l22 3-22-8-22-3zM4407 2512l22 3-22-8-23-3z"/>
<path fill="#183600" d="M4474 2527l22 3-23-9-22-3zM4518 2538l22 3-22-9-22-2z"/>
<path fill="#123000" d="M4607 2561l22 3-22-9-22-3zM4540 2547l23 3-23-9-22-3zM4585 2558l22 3-22-9-22-2z"/>
<path fill="#122a00" d="M4651 2572l22 3-22-8-22-3zM4629 2570l22 2-22-8-22-3z"/>
<path fill="#0c1e00" d="M4784 2607l22 2-22-8-22-3zM4828 2618l22 3-22-9-22-3zM4762 2604l22 3-22-9-22-3zM4806 2615l22 3-22-9-22-2z"/>
<path fill="#061200" d="M4916 2641l22 3-22-9-22-3zM4960 2653l22 2-22-8-22-3zM4938 2650l22 3-22-9-22-3zM4916 2647l22 3-22-9-22-3zM4960 2659l22 2-22-8-22-3z"/>
<path fill="#125400" d="M3820 2365l23 3-22-8-23-3zM3729 2342l23 3-22-8-23-3zM3775 2353l23 4-23-8-23-4zM3866 2376l23 3-23-8-23-3z"/>
<path fill="#184e00" d="M4137 2444l23 3-23-8-22-3zM4182 2455l23 3-23-8-22-3zM3707 2339l22 3-22-8-23-3zM3661 2337l23 3-23-8-23-3zM3638 2334l23 3-23-8-23-3z"/>
<path fill="#2a5400" d="M3684 2331l23 3-23-8-23-3z"/>
<path fill="#185400" d="M3911 2387l23 3-23-8-22-3zM3957 2399l22 3-22-8-23-4zM4002 2410l23 3-23-8-23-3zM4047 2421l23 3-23-8-22-3zM4092 2433l23 3-23-9-22-3z"/>
<path fill="#184800" d="M4227 2467l23 3-23-9-22-3zM4272 2478l23 3-23-8-22-3z"/>
<path fill="#184200" d="M4317 2490l22 3-22-9-22-3zM4362 2501l22 3-22-9-23-2z"/>
<path fill="#123600" d="M4451 2524l23 3-23-9-22-3zM4496 2535l22 3-22-8-22-3zM4474 2532l22 3-22-8-23-3zM4518 2544l22 3-22-9-22-3z"/>
<path fill="#0c2a00" d="M4674 2581l22 3-23-9-22-3zM4607 2567l22 3-22-9-22-3zM4651 2578l23 3-23-9-22-2zM4629 2575l22 3-22-8-22-3z"/>
<path fill="#0c2400" d="M4718 2592l22 3-22-8-22-3zM4740 2601l22 3-22-9-22-3zM4696 2590l22 2-22-8-22-3z"/>
<path fill="#061800" d="M4850 2627l22 3-22-9-22-3zM4894 2638l22 3-22-9-22-2zM4828 2624l22 3-22-9-22-3zM4872 2636l22 2-22-8-22-3zM4850 2633l22 3-22-9-22-3zM4894 2644l22 3-22-9-22-2z"/>
<path fill="#065400" d="M3798 2361l22 4-22-8-23-4zM3843 2373l23 3-23-8-23-3zM3889 2384l22 3-22-8-23-3zM3934 2395l23 4-23-9-23-3zM3866 2381l23 3-23-8-23-3zM3911 2392l23 3-23-8-22-3zM3957 2404l22 3-22-8-23-4zM4002 2415l22 3-22-8-23-3zM4047 2426l23 4-23-9-23-3zM4024 2423l23 3-23-8-22-3z"/>
<path fill="#124e00" d="M4115 2441l22 3-22-8-23-3zM4160 2452l22 3-22-8-23-3zM3684 2340l22 4-22-8-23-4z"/>
<path fill="#123c00" d="M4384 2509l23 3-23-8-22-3zM4429 2521l22 3-22-9-22-3z"/>
<path fill="#061e00" d="M4784 2613l22 2-22-8-22-3zM4762 2610l22 3-22-9-22-3zM4806 2621l22 3-22-9-22-2z"/>
<path fill="#000c00" d="M5004 2670l22 3-22-9-22-3zM4982 2668l22 2-22-9-22-2zM5026 2679l22 3-22-9-22-3zM5004 2676l22 3-22-9-22-2zM4982 2674l22 2-22-8-22-3zM5026 2685l22 3-22-9-22-3zM5004 2682l22 3-22-9-22-2zM4983 2679l21 3-22-8-21-3zM5026 2691l22 3-22-9-22-3zM5005 2688l21 3-22-9-21-3zM5027 2697l21 3-22-9-21-3zM4983 2685l22 3-22-9-22-2zM4961 2682l22 3-22-8-22-3zM5005 2694l22 3-22-9-22-3zM4983 2691l22 3-22-9-22-3zM5027 2703l22 3-22-9-22-3zM4961 2688l22 3-22-9-22-3zM5005 2700l22 3-22-9-22-3zM4983 2697l22 3-22-9-22-3zM5027 2709l22 3-22-9-22-3zM4961 2694l22 3-22-9-22-3zM5005 2706l22 3-22-9-22-3zM5027 2715l22 3-22-9-22-3zM4984 2703l21 3-22-9-22-3zM5006 2712l21 3-22-9-21-3zM4962 2700l22 3-23-9-21-3zM4984 2709l22 3-22-9-22-3zM5028 2720l21 4-22-9-21-3zM4962 2705l22 4-22-9-22-3zM5006 2717l22 3-22-8-22-3zM4984 2714l22 3-22-8-22-4zM5006 2723l22 3-22-9-22-3z"/>
<path fill="#064e00" d="M3752 2350l23 3-23-8-23-3zM4092 2438l23 3-23-8-22-3zM4137 2449l23 3-23-8-22-3zM3729 2347l23 3-23-8-22-3zM4070 2435l22 3-22-8-23-4zM4115 2446l22 3-22-8-23-3zM4137 2454l23 3-23-8-22-3zM3706 2348l23 4-23-8-22-4zM3683 2345l23 3-22-8-23-3z"/>
<path fill="#0c5400" d="M3979 2407l23 3-23-8-22-3zM4024 2418l23 3-22-8-23-3zM4070 2430l22 3-22-9-23-3z"/>
<path fill="#124800" d="M4205 2464l22 3-22-9-23-3zM4250 2475l22 3-22-8-23-3z"/>
<path fill="#124200" d="M4295 2487l22 3-22-9-23-3zM4339 2498l23 3-23-8-22-3z"/>
<path fill="#0c3000" d="M4563 2555l22 3-22-8-23-3zM4540 2552l23 3-23-8-22-3zM4585 2564l22 3-22-9-22-3z"/>
<path fill="#004e00" d="M3775 2358l23 3-23-8-23-3zM3820 2370l23 3-23-8-22-4zM3798 2366l22 4-22-9-23-3zM3843 2378l23 3-23-8-23-3zM3866 2386l22 3-22-8-23-3zM4092 2443l23 3-23-8-22-3zM4070 2440l22 3-22-8-23-4zM4115 2451l22 3-22-8-23-3zM4047 2436l23 4-23-9-23-3zM4092 2448l23 3-23-8-22-3zM4115 2456l22 3-22-8-23-3zM3683 2350l23 3-23-8-23-3z"/>
<path fill="#064800" d="M4182 2461l23 3-23-9-22-3zM4160 2457l22 4-22-9-23-3zM4205 2469l22 3-22-8-23-3zM4250 2480l22 3-22-8-23-3zM4182 2466l23 3-23-8-22-4zM4227 2477l23 3-23-8-22-3z"/>
<path fill="#0c3c00" d="M4362 2506l22 3-22-8-23-3zM4407 2518l22 3-22-9-23-3z"/>
<path fill="#0c3600" d="M4451 2529l23 3-23-8-22-3zM4496 2541l22 3-22-9-22-3z"/>
<path fill="#062400" d="M4718 2598l22 3-22-9-22-2zM4696 2595l22 3-22-8-22-3zM4740 2607l22 3-22-9-22-3z"/>
<path fill="#1e4e00" d="M3684 2336l23 3-23-8-23-3z"/>
<path fill="#0c4800" d="M4227 2472l23 3-23-8-22-3z"/>
<path fill="#0c4200" d="M4272 2483l23 4-23-9-22-3zM4317 2495l22 3-22-8-22-3z"/>
<path fill="#062a00" d="M4674 2587l22 3-22-9-23-3zM4607 2572l22 3-22-8-22-3zM4652 2584l22 3-23-9-22-3zM4629 2581l23 3-23-9-22-3z"/>
<path fill="#001200" d="M4938 2656l22 3-22-9-22-3zM4960 2665l22 3-22-9-22-3zM4916 2653l22 3-22-9-22-3zM4939 2662l21 3-22-9-22-3zM4895 2650l21 3-22-9-22-2zM4917 2659l22 3-23-9-21-3zM4961 2671l21 3-22-9-21-3zM4895 2656l22 3-22-9-22-3zM4939 2668l22 3-22-9-22-3zM4917 2665l22 3-22-9-22-3zM4961 2677l22 2-22-8-22-3zM4895 2662l22 3-22-9-22-3zM4939 2674l22 3-22-9-22-3zM4917 2671l22 3-22-9-22-3zM4895 2668l22 3-22-9-22-3zM4939 2679l22 3-22-8-22-3zM4917 2676l22 3-22-8-22-3zM4895 2673l22 3-22-8-22-3zM4939 2685l22 3-22-9-22-3zM4917 2682l22 3-22-9-22-3zM4896 2679l21 3-22-9-22-3zM4940 2691l21 3-22-9-22-3zM4918 2688l22 3-23-9-21-3zM4940 2697l22 3-22-9-22-3z"/>
<path fill="#004e06" d="M3752 2355l23 3-23-8-23-3zM3729 2352l23 3-23-8-23-3zM3775 2363l23 3-23-8-23-3zM3820 2374l23 4-23-8-22-4zM3797 2371l23 3-22-8-23-3zM3843 2382l23 4-23-8-23-4zM3888 2394l23 3-23-8-22-3zM3934 2405l22 4-22-9-23-3zM3866 2391l22 3-22-8-23-4zM3911 2402l23 3-23-8-23-3zM3956 2413l23 4-23-8-22-4zM3706 2353l23 3-23-8-23-3zM3979 2422l23 3-23-8-23-4zM4070 2445l22 3-22-8-23-4zM3934 2410l22 3-22-8-23-3zM4002 2430l22 3-22-8-23-3zM4047 2441l23 4-23-9-23-3zM4092 2453l23 3-23-8-22-3zM4024 2438l23 3-23-8-22-3zM4069 2450l23 3-22-8-23-4zM4092 2458l23 3-23-8-23-3z"/>
<path fill="#005400" d="M3888 2389l23 3-22-8-23-3zM3934 2400l23 4-23-9-23-3zM3979 2412l23 3-23-8-22-3zM4047 2431l23 4-23-9-23-3zM3911 2397l23 3-23-8-23-3zM3956 2409l23 3-22-8-23-4zM4002 2420l22 3-22-8-23-3zM4024 2428l23 3-23-8-22-3zM3979 2417l23 3-23-8-23-3z"/>
<path fill="#064200" d="M4340 2503l22 3-23-8-22-3zM4295 2492l22 3-22-8-23-4zM4317 2500l23 3-23-8-22-3zM4272 2489l23 3-23-9-22-3z"/>
<path fill="#063c00" d="M4384 2515l23 3-23-9-22-3zM4362 2512l22 3-22-9-22-3zM4407 2523l22 3-22-8-23-3zM4340 2509l22 3-22-9-23-3zM4384 2520l23 3-23-8-22-3z"/>
<path fill="#063600" d="M4429 2526l22 3-22-8-22-3zM4474 2538l22 3-22-9-23-3zM4451 2535l23 3-23-9-22-3zM4496 2546l22 3-22-8-22-3zM4429 2532l22 3-22-9-22-3zM4474 2543l22 3-22-8-23-3z"/>
<path fill="#001e00" d="M4784 2618l22 3-22-8-22-3zM4762 2616l22 2-22-8-22-3zM4806 2627l22 3-22-9-22-3zM4784 2624l22 3-22-9-22-2zM4807 2633l22 3-23-9-22-3zM4762 2621l22 3-22-8-22-3zM4785 2630l22 3-23-9-22-3zM4740 2618l22 3-22-8-22-3zM4763 2627l22 3-23-9-22-3zM4807 2639l22 3-22-9-22-3zM4741 2624l22 3-23-9-22-3zM4785 2636l22 3-22-9-22-3zM4763 2633l22 3-22-9-22-3zM4807 2644l22 3-22-8-22-3zM4741 2629l22 4-22-9-22-3zM4785 2641l22 3-22-8-22-3zM4763 2638l22 3-22-8-22-4zM4741 2635l22 3-22-9-22-3zM4785 2647l22 3-22-9-22-3zM4763 2644l22 3-22-9-22-3zM4741 2640l22 4-22-9-22-3zM4785 2652l22 3-22-8-22-3z"/>
<path fill="#001800" d="M4828 2630l22 3-22-9-22-3zM4872 2642l22 2-22-8-22-3zM4851 2639l21 3-22-9-22-3zM4829 2636l22 3-23-9-22-3zM4873 2647l22 3-23-8-21-3zM4851 2645l22 2-22-8-22-3zM4829 2642l22 3-22-9-22-3zM4873 2653l22 3-22-9-22-2zM4851 2650l22 3-22-8-22-3zM4829 2647l22 3-22-8-22-3zM4873 2659l22 3-22-9-22-3zM4851 2656l22 3-22-9-22-3zM4829 2653l22 3-22-9-22-3zM4873 2665l22 3-22-9-22-3zM4807 2650l22 3-22-9-22-3zM4851 2662l22 3-22-9-22-3zM4829 2659l22 3-22-9-22-3zM4873 2670l22 3-22-8-22-3zM4807 2655l22 4-22-9-22-3zM4851 2667l22 3-22-8-22-3zM4830 2664l21 3-22-8-22-4zM4874 2676l22 3-23-9-22-3z"/>
<path fill="#0c4e00" d="M3706 2344l23 3-22-8-23-3zM3660 2342l23 3-22-8-23-3z"/>
<path fill="#063000" d="M4518 2549l22 3-22-8-22-3zM4563 2561l22 3-22-9-23-3zM4585 2569l22 3-22-8-22-3zM4541 2558l22 3-23-9-22-3zM4518 2555l23 3-23-9-22-3zM4563 2566l22 3-22-8-22-3z"/>
<path fill="#002400" d="M4674 2592l22 3-22-8-22-3zM4718 2604l22 3-22-9-22-3zM4696 2601l22 3-22-9-22-3zM4740 2613l22 3-22-9-22-3zM4674 2598l22 3-22-9-22-3zM4718 2610l22 3-22-9-22-3zM4696 2607l22 3-22-9-22-3zM4674 2604l22 3-22-9-22-3zM4718 2615l22 3-22-8-22-3zM4696 2612l22 3-22-8-22-3zM4674 2609l22 3-22-8-22-3zM4719 2621l22 3-23-9-22-3zM4652 2606l22 3-22-8-22-4zM4696 2618l23 3-23-9-22-3zM4674 2615l22 3-22-9-22-3zM4719 2626l22 3-22-8-23-3zM4652 2611l22 4-22-9-22-3zM4697 2623l22 3-23-8-22-3zM4719 2632l22 3-22-9-22-3zM4674 2620l23 3-23-8-22-4zM4697 2629l22 3-22-9-23-3zM4652 2617l22 3-22-9-22-3z"/>
<path fill="#004e0c" d="M3752 2360l23 3-23-8-23-3zM3729 2356l23 4-23-8-23-4zM3775 2368l22 3-22-8-23-3zM3820 2379l23 3-23-8-23-3zM3843 2387l23 4-23-9-23-3zM3888 2399l23 3-23-8-22-3zM3956 2418l23 4-23-9-22-3zM3865 2395l23 4-22-8-23-4zM3911 2407l23 3-23-8-23-3zM3706 2358l23 3-23-8-23-3zM3934 2415l22 3-22-8-23-3zM3979 2427l23 3-23-8-23-4zM3956 2423l23 4-23-9-22-3zM4002 2435l22 3-22-8-23-3zM4047 2446l22 4-22-9-23-3zM4024 2443l23 3-23-8-22-3zM4069 2454l23 4-23-8-22-4zM4047 2451l22 3-22-8-23-3zM4069 2459l23 4-23-9-22-3z"/>
<path fill="#004200" d="M4295 2497l22 3-22-8-23-3zM4250 2486l22 3-22-9-23-3zM4272 2494l23 3-23-8-22-3zM4317 2505l23 4-23-9-22-3zM4250 2491l22 3-22-8-23-4zM4295 2502l22 3-22-8-23-3zM4227 2488l23 3-23-9-22-3zM4272 2499l23 3-23-8-22-3zM4250 2496l22 3-22-8-23-3zM4295 2507l22 4-22-9-23-3z"/>
<path fill="#004800" d="M4160 2463l22 3-22-9-23-3zM4205 2474l22 3-22-8-23-3zM4137 2459l23 4-23-9-22-3zM4182 2471l23 3-23-8-22-3zM4227 2482l23 4-23-9-22-3zM4160 2468l22 3-22-8-23-4zM4205 2479l22 3-22-8-23-3zM4182 2476l23 3-23-8-22-3z"/>
<path fill="#002a00" d="M4607 2578l22 3-22-9-22-3zM4652 2589l22 3-22-8-23-3zM4630 2586l22 3-23-8-22-3zM4585 2575l22 3-22-9-22-3zM4607 2583l23 3-23-8-22-3zM4652 2595l22 3-22-9-22-3zM4585 2580l22 3-22-8-22-3zM4630 2592l22 3-22-9-23-3zM4608 2589l22 3-23-9-22-3zM4652 2601l22 3-22-9-22-3zM4585 2586l23 3-23-9-22-3zM4630 2597l22 4-22-9-22-3zM4608 2594l22 3-22-8-23-3zM4585 2591l23 3-23-8-22-3zM4630 2603l22 3-22-9-22-3zM4563 2588l22 3-22-8-22-4zM4608 2600l22 3-22-9-23-3zM4586 2596l22 4-23-9-22-3zM4630 2608l22 3-22-8-22-3zM4563 2593l23 3-23-8-22-3zM4608 2605l22 3-22-8-22-4z"/>
<path fill="#005406" d="M4002 2425l22 3-22-8-23-3zM4024 2433l23 3-23-8-22-3z"/>
<path fill="#003c00" d="M4362 2517l22 3-22-8-22-3zM4407 2529l22 3-22-9-23-3zM4340 2514l22 3-22-8-23-4zM4384 2525l23 4-23-9-22-3zM4317 2511l23 3-23-9-22-3zM4362 2522l22 3-22-8-22-3zM4340 2519l22 3-22-8-23-3zM4384 2531l23 3-23-9-22-3zM4317 2516l23 3-23-8-22-4zM4362 2527l22 4-22-9-22-3zM4384 2536l23 3-23-8-22-4z"/>
<path fill="#003000" d="M4541 2563l22 3-22-8-23-3zM4518 2560l23 3-23-8-22-3zM4563 2572l22 3-22-9-22-3zM4496 2557l22 3-22-8-22-3zM4541 2569l22 3-22-9-23-3zM4518 2566l23 3-23-9-22-3zM4563 2577l22 3-22-8-22-3zM4496 2562l22 4-22-9-22-3zM4541 2574l22 3-22-8-23-3zM4519 2571l22 3-23-8-22-4zM4563 2583l22 3-22-9-22-3zM4496 2568l23 3-23-9-22-3zM4541 2579l22 4-22-9-22-3zM4474 2564l22 4-22-9-22-3zM4519 2576l22 3-22-8-23-3zM4541 2585l22 3-22-9-22-3z"/>
<path fill="#003600" d="M4451 2540l23 3-23-8-22-3zM4496 2552l22 3-22-9-22-3zM4429 2537l22 3-22-8-22-3zM4474 2549l22 3-22-9-23-3zM4407 2534l22 3-22-8-23-4zM4451 2545l23 4-23-9-22-3zM4429 2542l22 3-22-8-22-3zM4474 2554l22 3-22-8-23-4zM4407 2539l22 3-22-8-23-3zM4452 2551l22 3-23-9-22-3zM4429 2548l23 3-23-9-22-3zM4474 2559l22 3-22-8-22-3zM4407 2544l22 4-22-9-23-3zM4452 2556l22 3-22-8-23-3z"/>
<path fill="#004e12" d="M3752 2364l23 4-23-8-23-4zM3797 2376l23 3-23-8-22-3zM3729 2361l23 3-23-8-23-3zM3774 2372l23 4-22-8-23-4zM3820 2384l23 3-23-8-23-3zM3843 2392l22 3-22-8-23-3zM3888 2403l23 4-23-8-23-4zM3865 2400l23 3-23-8-22-3zM3911 2412l23 3-23-8-23-4zM3888 2408l23 4-23-9-23-3zM3934 2420l22 3-22-8-23-3zM3979 2431l23 4-23-8-23-4zM3956 2428l23 3-23-8-22-3zM4002 2439l22 4-22-8-23-4zM3979 2436l23 3-23-8-23-3zM4024 2448l23 3-23-8-22-4zM4001 2444l23 4-22-9-23-3zM4047 2456l22 3-22-8-23-3zM4024 2452l23 4-23-8-23-4z"/>
<path fill="#004806" d="M4137 2464l23 4-23-9-22-3zM4115 2461l22 3-22-8-23-3zM4160 2473l22 3-22-8-23-4zM4205 2484l22 4-22-9-23-3zM4137 2469l23 4-23-9-22-3zM4182 2481l23 3-23-8-22-3zM4115 2466l22 3-22-8-23-3zM4160 2478l22 3-22-8-23-4zM4182 2486l23 3-23-8-22-3z"/>
<path fill="#004e1e" d="M3752 2369l22 3-22-8-23-3zM3729 2366l23 3-23-8-23-3zM3774 2377l23 3-23-8-22-3zM3797 2385l23 4-23-9-23-3zM3820 2393l23 4-23-8-23-4zM3843 2401l22 4-22-8-23-4zM3956 2437l23 4-23-8-23-4zM3979 2445l22 4-22-8-23-4zM4001 2454l23 3-23-8-22-4z"/>
<path fill="#004e18" d="M3797 2380l23 4-23-8-23-4zM3820 2389l23 3-23-8-23-4zM3843 2397l22 3-22-8-23-3zM3865 2405l23 3-23-8-22-3zM3911 2416l23 4-23-8-23-4zM3888 2413l23 3-23-8-23-3zM3933 2424l23 4-22-8-23-4zM3911 2421l22 3-22-8-23-3zM3956 2433l23 3-23-8-23-4zM3933 2429l23 4-23-9-22-3zM3979 2441l22 3-22-8-23-3zM4047 2461l22 3-22-8-23-4zM4001 2449l23 3-23-8-22-3zM4024 2457l23 4-23-9-23-3z"/>
<path fill="#004206" d="M4227 2493l23 3-23-8-22-4zM4272 2504l23 3-23-8-22-3zM4205 2489l22 4-22-9-23-3zM4250 2501l22 3-22-8-23-3zM4295 2513l22 3-22-9-23-3zM4227 2498l23 3-23-8-22-4zM4272 2509l23 4-23-9-22-3zM4205 2494l22 4-22-9-23-3zM4250 2506l22 3-22-8-23-3zM4272 2514l23 4-23-9-22-3z"/>
<path fill="#004824" d="M3751 2374l23 3-22-8-23-3zM3774 2382l23 3-23-8-23-3zM3797 2390l23 3-23-8-23-3zM3820 2398l23 3-23-8-23-3zM3842 2406l23 3-22-8-23-3zM3865 2414l23 3-23-8-23-3zM3888 2422l23 4-23-9-23-3zM3911 2430l22 4-22-8-23-4zM3933 2438l23 4-23-8-22-4zM3956 2446l23 4-23-8-23-4zM3979 2455l22 3-22-8-23-4zM4001 2463l23 3-23-8-22-3zM4024 2471l23 3-23-8-23-3zM4047 2479l22 4-22-9-23-3zM4069 2487l23 4-23-8-22-4z"/>
<path fill="#003c06" d="M4340 2524l22 3-22-8-23-3zM4317 2521l23 3-23-8-22-3zM4362 2533l22 3-22-9-22-3zM4295 2518l22 3-22-8-23-4zM4340 2529l22 4-22-9-23-3zM4317 2526l23 3-23-8-22-3zM4362 2538l23 3-23-8-22-4zM4295 2523l22 3-22-8-23-4zM4340 2534l22 4-22-9-23-3zM4317 2531l23 3-23-8-22-3zM4362 2543l23 3-23-8-22-4zM4340 2539l22 4-22-9-23-3z"/>
<path fill="#00480c" d="M4092 2463l23 3-23-8-23-4zM4137 2474l23 4-23-9-22-3zM4115 2471l22 3-22-8-23-3zM4160 2483l22 3-22-8-23-4zM4092 2468l23 3-23-8-23-4zM4137 2479l23 4-23-9-22-3zM4160 2487l22 4-22-8-23-4z"/>
<path fill="#003606" d="M4385 2541l22 3-23-8-22-3zM4429 2553l23 3-23-8-22-4zM4452 2561l22 3-22-8-23-3zM4407 2549l22 4-22-9-22-3zM4429 2558l23 3-23-8-22-4zM4385 2546l22 3-22-8-23-3zM4407 2554l22 4-22-9-22-3zM4452 2566l22 4-22-9-23-3zM4385 2551l22 3-22-8-23-3zM4429 2563l23 3-23-8-22-4zM4407 2560l22 3-22-9-22-3zM4430 2568l22 3-23-8-22-3z"/>
<path fill="#00481e" d="M3865 2409l23 4-23-8-22-4zM3888 2417l23 4-23-8-23-4zM3911 2426l22 3-22-8-23-4zM3933 2434l23 3-23-8-22-3zM3956 2442l23 3-23-8-23-3zM3979 2450l22 4-22-9-23-3zM4024 2462l23 3-23-8-23-3zM4001 2458l23 4-23-8-22-4zM4047 2470l22 3-22-8-23-3zM4024 2466l23 4-23-8-23-4zM4069 2478l23 4-23-9-22-3zM4047 2474l22 4-22-8-23-4zM4092 2486l23 4-23-8-23-4zM4069 2483l23 3-23-8-22-4z"/>
<path fill="#00420c" d="M4182 2491l23 3-23-8-22-3zM4227 2503l23 3-23-8-22-4zM4205 2499l22 4-22-9-23-3zM4250 2511l22 3-22-8-23-3zM4182 2496l23 3-23-8-22-4zM4227 2507l23 4-23-8-22-4zM4205 2504l22 3-22-8-23-3zM4250 2516l22 3-22-8-23-4zM4227 2512l23 4-23-9-22-3z"/>
<path fill="#003006" d="M4496 2573l23 3-23-8-22-4zM4474 2570l22 3-22-9-22-3zM4519 2581l22 4-22-9-23-3zM4496 2578l23 3-23-8-22-3zM4541 2590l22 3-22-8-22-4zM4474 2575l22 3-22-8-22-4zM4519 2587l22 3-22-9-23-3zM4452 2571l22 4-22-9-23-3zM4497 2583l22 4-23-9-22-3zM4519 2592l22 3-22-8-22-4zM4474 2580l23 3-23-8-22-4zM4497 2588l22 4-22-9-23-3zM4452 2576l22 4-22-9-22-3zM4474 2585l23 3-23-8-22-4zM4519 2597l22 3-22-8-22-4zM4497 2593l22 4-22-9-23-3z"/>
<path fill="#004812" d="M4069 2464l23 4-23-9-22-3zM4115 2476l22 3-22-8-23-3zM4092 2472l23 4-23-8-23-4zM4137 2484l23 3-23-8-22-3zM4115 2481l22 3-22-8-23-4zM4137 2489l23 3-23-8-22-3z"/>
<path fill="#002a06" d="M4586 2602l22 3-22-9-23-3zM4630 2614l22 3-22-9-22-3zM4563 2598l23 4-23-9-22-3zM4608 2610l22 4-22-9-22-3zM4541 2595l22 3-22-8-22-3zM4586 2607l22 3-22-8-23-4zM4564 2604l22 3-23-9-22-3zM4608 2615l22 4-22-9-22-3zM4541 2600l23 4-23-9-22-3zM4586 2612l22 3-22-8-22-3zM4564 2609l22 3-22-8-23-4zM4608 2621l23 3-23-9-22-3zM4542 2605l22 4-23-9-22-3zM4586 2617l22 4-22-9-22-3zM4519 2602l23 3-23-8-22-4zM4564 2614l22 3-22-8-22-4zM4608 2626l23 3-23-8-22-4zM4542 2610l22 4-22-9-23-3zM4586 2622l22 4-22-9-22-3zM4564 2619l22 3-22-8-22-4zM4586 2627l23 4-23-9-22-3z"/>
<path fill="#002406" d="M4675 2625l22 4-23-9-22-3zM4653 2622l22 3-23-8-22-3zM4697 2634l22 3-22-8-22-4zM4630 2619l23 3-23-8-22-4zM4675 2631l22 3-22-9-22-3zM4653 2627l22 4-22-9-23-3zM4697 2639l22 4-22-9-22-3zM4631 2624l22 3-23-8-22-4zM4675 2636l22 3-22-8-22-4zM4653 2633l22 3-22-9-22-3zM4697 2645l22 3-22-9-22-3zM4631 2629l22 4-22-9-23-3zM4675 2641l22 4-22-9-22-3zM4653 2638l22 3-22-8-22-4zM4697 2650l23 3-23-8-22-4zM4631 2634l22 4-22-9-23-3zM4675 2646l22 4-22-9-22-3zM4653 2643l22 3-22-8-22-4zM4609 2631l22 3-23-8-22-4zM4631 2639l22 4-22-9-22-3zM4676 2651l22 4-23-9-22-3zM4609 2636l22 3-22-8-23-4zM4653 2648l23 3-23-8-22-4zM4631 2644l22 4-22-9-22-3zM4676 2656l22 4-22-9-23-3z"/>
<path fill="#001e06" d="M4719 2637l22 3-22-8-22-3zM4763 2649l22 3-22-8-22-4zM4741 2646l22 3-22-9-22-3zM4786 2658l22 3-23-9-22-3zM4719 2643l22 3-22-9-22-3zM4763 2654l23 4-23-9-22-3zM4786 2663l22 3-22-8-23-4zM4741 2651l22 3-22-8-22-3zM4764 2660l22 3-23-9-22-3zM4719 2648l22 3-22-8-22-4zM4742 2656l22 4-23-9-22-3zM4786 2668l22 4-22-9-22-3zM4720 2653l22 3-23-8-22-3zM4764 2665l22 3-22-8-22-4zM4742 2662l22 3-22-9-22-3zM4720 2658l22 4-22-9-23-3zM4764 2670l22 4-22-9-22-3zM4698 2655l22 3-23-8-22-4zM4742 2667l22 3-22-8-22-4zM4720 2663l22 4-22-9-22-3zM4764 2676l22 3-22-9-22-3zM4742 2672l22 4-22-9-22-4zM4698 2660l22 3-22-8-22-4zM4720 2669l22 3-22-9-22-3zM4765 2681l22 3-23-8-22-4zM4742 2677l23 4-23-9-22-3z"/>
<path fill="#001806" d="M4852 2673l22 3-23-9-21-3zM4808 2661l22 3-23-9-22-3zM4830 2670l22 3-22-9-22-3zM4874 2682l22 3-22-9-22-3zM4808 2666l22 4-22-9-22-3zM4852 2678l22 4-22-9-22-3zM4830 2675l22 3-22-8-22-4zM4808 2672l22 3-22-9-22-3zM4852 2684l22 3-22-9-22-3zM4830 2680l22 4-22-9-22-3zM4808 2677l22 3-22-8-22-4zM4852 2689l22 3-22-8-22-4zM4786 2674l22 3-22-9-22-3zM4830 2686l22 3-22-9-22-3zM4808 2682l22 4-22-9-22-3zM4853 2694l22 4-23-9-22-3zM4786 2679l22 3-22-8-22-4zM4831 2691l22 3-23-8-22-4zM4809 2688l22 3-23-9-22-3zM4853 2700l22 3-22-9-22-3zM4787 2684l22 4-23-9-22-3zM4831 2696l22 4-22-9-22-3zM4853 2705l22 3-22-8-22-4zM4809 2693l22 3-22-8-22-4zM4787 2689l22 4-22-9-22-3zM4831 2701l22 4-22-9-22-3zM4809 2698l22 3-22-8-22-4zM4831 2707l22 3-22-9-22-3z"/>
<path fill="#003c0c" d="M4272 2519l23 4-23-9-22-3zM4295 2528l22 3-22-8-23-4zM4272 2524l23 4-23-9-22-3zM4317 2536l23 3-23-8-22-3zM4250 2521l22 3-22-8-23-4zM4340 2544l22 4-22-9-23-3zM4295 2532l22 4-22-8-23-4zM4272 2529l23 3-23-8-22-3zM4317 2541l23 3-23-8-22-4zM4295 2537l22 4-22-9-23-3zM4318 2546l22 3-23-8-22-4z"/>
<path fill="#001206" d="M4896 2685l22 3-22-9-22-3zM4918 2693l22 4-22-9-22-3zM4896 2690l22 3-22-8-22-3zM4940 2702l22 3-22-8-22-4zM4918 2699l22 3-22-9-22-3zM4874 2687l22 3-22-8-22-4zM4896 2696l22 3-22-9-22-3zM4940 2708l22 3-22-9-22-3zM4874 2692l22 4-22-9-22-3zM4918 2705l22 3-22-9-22-3zM4897 2701l21 4-22-9-22-4zM4941 2713l21 4-22-9-22-3zM4875 2698l22 3-23-9-22-3zM4919 2710l22 3-23-8-21-4zM4897 2707l22 3-22-9-22-3zM4941 2719l22 3-22-9-22-3zM4875 2703l22 4-22-9-22-4zM4919 2715l22 4-22-9-22-3zM4941 2724l22 3-22-8-22-4zM4897 2712l22 3-22-8-22-4zM4919 2721l22 3-22-9-22-3zM4875 2708l22 4-22-9-22-3zM4897 2717l22 4-22-9-22-4zM4875 2714l22 3-22-9-22-3zM4920 2726l21 3-22-8-22-4zM4853 2710l22 4-22-9-22-4zM4898 2722l22 4-23-9-22-3zM4876 2719l22 3-23-8-22-4zM4920 2731l22 4-22-9-22-4zM4854 2715l22 4-23-9-22-3zM4898 2728l22 3-22-9-22-3zM4876 2724l22 4-22-9-22-4zM4920 2736l22 4-22-9-22-3zM4898 2733l22 3-22-8-22-4z"/>
<path fill="#004818" d="M4069 2469l23 3-23-8-22-3zM4047 2465l22 4-22-8-23-4zM4092 2477l23 4-23-9-23-3zM4069 2473l23 4-23-8-22-4zM4115 2485l22 4-22-8-23-4zM4092 2482l23 3-23-8-23-4zM4115 2490l22 3-22-8-23-3z"/>
<path fill="#004212" d="M4160 2492l22 4-22-9-23-3zM4182 2501l23 3-23-8-22-4zM4160 2497l22 4-22-9-23-3zM4205 2509l22 3-22-8-23-3zM4227 2517l23 4-23-9-22-3zM4182 2505l23 4-23-8-22-4zM4205 2514l22 3-22-8-23-4zM4205 2518l22 4-22-8-23-4z"/>
<path fill="#00360c" d="M4362 2548l23 3-23-8-22-4zM4385 2556l22 4-22-9-23-3zM4362 2553l23 3-23-8-22-4zM4407 2564l23 4-23-8-22-4zM4340 2549l22 4-22-9-23-3zM4385 2561l22 3-22-8-23-3zM4430 2573l22 3-22-8-23-4zM4362 2558l23 3-23-8-22-4zM4407 2569l23 4-23-9-22-3zM4340 2554l22 4-22-9-22-3zM4385 2566l22 3-22-8-23-3zM4363 2562l22 4-23-8-22-4zM4407 2574l23 4-23-9-22-3zM4385 2571l22 3-22-8-22-4z"/>
<path fill="#000c06" d="M4962 2711l22 3-22-9-22-3zM4984 2720l22 3-22-9-22-3zM4962 2717l22 3-22-9-22-3zM5006 2729l22 3-22-9-22-3zM4985 2725l21 4-22-9-22-3zM4963 2722l22 3-23-8-21-4zM5007 2734l22 3-23-8-21-4zM4985 2731l22 3-22-9-22-3zM4963 2727l22 4-22-9-22-3zM5007 2740l22 3-22-9-22-3zM4985 2736l22 4-22-9-22-4zM5007 2745l22 3-22-8-22-4zM4963 2733l22 3-22-9-22-3zM4985 2742l22 3-22-9-22-3zM4941 2729l22 4-22-9-22-3zM4964 2738l21 4-22-9-22-4zM5008 2750l21 4-22-9-22-3zM4942 2735l22 3-23-9-21-3zM4986 2747l22 3-23-8-21-4zM4964 2743l22 4-22-9-22-3zM4942 2740l22 3-22-8-22-4z"/>
<path fill="#004218" d="M4137 2493l23 4-23-8-22-4zM4160 2502l22 3-22-8-23-4zM4137 2498l23 4-23-9-22-3zM4182 2510l23 4-23-9-22-3zM4115 2495l22 3-22-8-23-4zM4160 2506l22 4-22-8-23-4zM4137 2503l23 3-23-8-22-3zM4182 2515l23 3-23-8-22-4zM4160 2511l22 4-22-9-23-3zM4182 2519l23 4-23-8-22-4z"/>
<path fill="#003c12" d="M4250 2525l22 4-22-8-23-4zM4227 2522l23 3-23-8-22-3zM4273 2534l22 3-23-8-22-4zM4250 2530l23 4-23-9-23-3zM4295 2542l23 4-23-9-22-3zM4228 2527l22 3-23-8-22-4zM4273 2538l22 4-22-8-23-4zM4250 2535l23 3-23-8-22-3zM4295 2547l23 3-23-8-22-4zM4273 2543l22 4-22-9-23-3z"/>
<path fill="#00300c" d="M4452 2581l22 4-22-9-22-3zM4430 2578l22 3-22-8-23-4zM4475 2590l22 3-23-8-22-4zM4452 2586l23 4-23-9-22-3zM4497 2598l22 4-22-9-22-3zM4475 2595l22 3-22-8-23-4zM4430 2583l22 3-22-8-23-4zM4408 2579l22 4-23-9-22-3zM4452 2591l23 4-23-9-22-3zM4497 2603l22 4-22-9-22-3zM4430 2587l22 4-22-8-22-4zM4475 2600l22 3-22-8-23-4zM4452 2596l23 4-23-9-22-4zM4430 2592l22 4-22-9-22-3zM4475 2604l22 4-22-8-23-4zM4453 2601l22 3-23-8-22-4zM4475 2609l22 4-22-9-22-3z"/>
<path fill="#000606" d="M5029 2737l21 4-22-9-22-3zM5029 2743l22 3-22-9-22-3zM5051 2752l22 3-22-9-22-3zM5029 2748l22 4-22-9-22-3zM5051 2757l22 4-22-9-22-4zM5029 2754l22 3-22-9-22-3z"/>
<path fill="#00421e" d="M4092 2491l23 4-23-9-23-3zM4115 2499l22 4-22-8-23-4zM4137 2507l23 4-23-8-22-4zM4160 2515l22 4-22-8-23-4zM4115 2504l22 3-22-8-23-4zM4137 2512l23 3-23-8-22-3z"/>
<path fill="#003612" d="M4318 2550l22 4-22-8-23-4zM4340 2559l23 3-23-8-22-4zM4363 2567l22 4-22-9-23-3zM4318 2555l22 4-22-9-23-3zM4340 2563l23 4-23-8-22-4zM4385 2575l23 4-23-8-22-4zM4295 2551l23 4-23-8-22-4zM4318 2560l22 3-22-8-23-4zM4363 2572l22 3-22-8-23-4zM4340 2568l23 4-23-9-22-3zM4385 2580l23 4-23-9-22-3zM4363 2576l22 4-22-8-23-4zM4340 2573l23 3-23-8-22-4zM4363 2581l22 4-22-9-23-3z"/>
<path fill="#003c18" d="M4205 2523l23 4-23-9-23-3zM4228 2531l22 4-22-8-23-4zM4205 2527l23 4-23-8-23-4zM4250 2539l23 4-23-8-22-4zM4228 2536l22 3-22-8-23-4zM4273 2548l22 3-22-8-23-4zM4250 2544l23 4-23-9-22-3zM4228 2540l22 4-22-8-23-4zM4250 2548l23 4-23-8-22-4z"/>
<path fill="#002a0c" d="M4519 2607l23 3-23-8-22-4zM4542 2615l22 4-22-9-23-3zM4520 2612l22 3-23-8-22-4zM4564 2624l22 3-22-8-22-4zM4587 2632l22 4-23-9-22-3zM4497 2608l23 4-23-9-22-3zM4542 2620l22 4-22-9-22-3zM4564 2629l23 3-23-8-22-4zM4520 2616l22 4-22-8-23-4zM4497 2613l23 3-23-8-22-4zM4542 2625l22 4-22-9-22-4zM4520 2621l22 4-22-9-23-3zM4565 2633l22 4-23-8-22-4zM4498 2617l22 4-23-8-22-4zM4542 2630l23 3-23-8-22-4zM4520 2626l22 4-22-9-22-4zM4565 2638l22 4-22-9-23-3zM4542 2634l23 4-23-8-22-4zM4520 2631l22 3-22-8-22-4zM4543 2639l22 4-23-9-22-3z"/>
<path fill="#004224" d="M4092 2495l23 4-23-8-23-4z"/>
<path fill="#003c1e" d="M4182 2524l23 3-23-8-22-4zM4160 2520l22 4-22-9-23-3zM4205 2532l23 4-23-9-23-3zM4182 2528l23 4-23-8-22-4zM4205 2536l23 4-23-8-23-4zM4228 2545l22 3-22-8-23-4z"/>
<path fill="#003012" d="M4408 2584l22 3-22-8-23-4zM4408 2589l22 3-22-8-23-4zM4385 2585l23 4-23-9-22-4zM4430 2597l23 4-23-9-22-3zM4408 2593l22 4-22-8-23-4zM4453 2605l22 4-22-8-23-4zM4385 2589l23 4-23-8-22-4zM4430 2602l23 3-23-8-22-4zM4453 2610l22 4-22-9-23-3zM4408 2598l22 4-22-9-23-4zM4430 2606l23 4-23-8-22-4zM4386 2594l22 4-23-9-22-3zM4408 2602l22 4-22-8-22-4zM4431 2611l22 3-23-8-22-4z"/>
<path fill="#003618" d="M4295 2556l23 4-23-9-22-3zM4273 2552l22 4-22-8-23-4zM4318 2564l22 4-22-8-23-4zM4295 2561l23 3-23-8-22-4zM4318 2569l22 4-22-9-23-3zM4273 2557l22 4-22-9-23-4zM4295 2565l23 4-23-8-22-4zM4340 2577l23 4-23-8-22-4zM4318 2573l22 4-22-8-23-4zM4296 2569l22 4-23-8-22-4zM4341 2582l22 4-23-9-22-4zM4318 2578l23 4-23-9-22-4z"/>
<path fill="#00240c" d="M4609 2641l22 3-22-8-22-4zM4654 2653l22 3-23-8-22-4zM4587 2637l22 4-22-9-23-3zM4631 2649l23 4-23-9-22-3zM4676 2661l22 4-22-9-22-3zM4654 2658l22 3-22-8-23-4zM4609 2646l22 3-22-8-22-4zM4632 2654l22 4-23-9-22-3zM4587 2642l22 4-22-9-22-4zM4609 2650l23 4-23-8-22-4zM4654 2663l22 3-22-8-22-4zM4587 2647l22 3-22-8-22-4zM4632 2659l22 4-22-9-23-4zM4565 2643l22 4-22-9-23-4zM4610 2655l22 4-23-9-22-3zM4654 2667l22 4-22-8-22-4zM4587 2651l23 4-23-8-22-4zM4632 2664l22 3-22-8-22-4zM4565 2647l22 4-22-8-22-4zM4610 2660l22 4-22-9-23-4zM4588 2656l22 4-23-9-22-4zM4632 2668l22 4-22-8-22-4zM4565 2652l23 4-23-9-22-3zM4610 2664l22 4-22-8-22-4zM4588 2660l22 4-22-8-23-4zM4632 2673l23 4-23-9-22-4zM4610 2669l22 4-22-9-22-4zM4588 2665l22 4-22-9-23-3zM4610 2673l23 4-23-8-22-4z"/>
<path fill="#001e0c" d="M4698 2665l22 4-22-9-22-4zM4720 2674l22 3-22-8-22-4zM4765 2686l22 3-22-8-23-4zM4698 2670l22 4-22-9-22-4zM4743 2682l22 4-23-9-22-3zM4676 2666l22 4-22-9-22-3zM4721 2678l22 4-23-8-22-4zM4698 2675l23 3-23-8-22-4zM4743 2687l22 4-22-9-22-4zM4721 2683l22 4-22-9-23-3zM4676 2671l22 4-22-9-22-3zM4699 2680l22 3-23-8-22-4zM4743 2692l22 4-22-9-22-4zM4677 2676l22 4-23-9-22-4zM4721 2688l22 4-22-9-22-3zM4654 2672l23 4-23-9-22-3zM4699 2684l22 4-22-8-22-4zM4743 2697l23 4-23-9-22-4zM4677 2681l22 3-22-8-23-4zM4721 2693l22 4-22-9-22-4zM4655 2677l22 4-23-9-22-4zM4699 2689l22 4-22-9-22-3zM4722 2698l22 4-23-9-22-4zM4677 2685l22 4-22-8-22-4zM4655 2681l22 4-22-8-23-4zM4699 2694l23 4-23-9-22-4zM4633 2677l22 4-23-8-22-4zM4677 2690l22 4-22-9-22-4zM4722 2702l22 4-22-8-23-4zM4655 2686l22 4-22-9-22-4zM4700 2698l22 4-23-8-22-4zM4678 2694l22 4-23-8-22-4z"/>
<path fill="#00180c" d="M4787 2694l22 4-22-9-22-3zM4809 2703l22 4-22-9-22-4zM4765 2691l22 3-22-8-22-4zM4787 2699l22 4-22-9-22-3zM4832 2712l22 3-23-8-22-4zM4765 2696l22 3-22-8-22-4zM4810 2708l22 4-23-9-22-4zM4832 2717l22 3-22-8-22-4zM4788 2704l22 4-23-9-22-3zM4766 2701l22 3-23-8-22-4zM4810 2713l22 4-22-9-22-4zM4788 2709l22 4-22-9-22-3zM4832 2722l22 3-22-8-22-4zM4810 2718l22 4-22-9-22-4zM4766 2705l22 4-22-8-23-4zM4788 2714l22 4-22-9-22-4zM4744 2702l22 3-23-8-22-4zM4766 2710l22 4-22-9-22-3zM4744 2706l22 4-22-8-22-4z"/>
<path fill="#00361e" d="M4250 2553l23 4-23-9-22-3zM4273 2561l22 4-22-8-23-4z"/>
<path fill="#002a12" d="M4475 2614l23 3-23-8-22-4zM4498 2622l22 4-22-9-23-3zM4475 2618l23 4-23-8-22-4zM4453 2614l22 4-22-8-23-4zM4498 2627l22 4-22-9-23-4zM4520 2635l23 4-23-8-22-4zM4476 2623l22 4-23-9-22-4zM4498 2631l22 4-22-8-22-4zM4543 2644l22 3-22-8-23-4zM4453 2619l23 4-23-9-22-3zM4476 2627l22 4-22-8-23-4zM4521 2640l22 4-23-9-22-4zM4431 2615l22 4-22-8-23-4zM4453 2623l23 4-23-8-22-4zM4498 2636l23 4-23-9-22-4zM4476 2632l22 4-22-9-23-4zM4521 2644l22 4-22-8-23-4zM4498 2640l23 4-23-8-22-4zM4476 2636l22 4-22-8-23-4zM4499 2644l22 5-23-9-22-4z"/>
<path fill="#00120c" d="M4854 2720l22 4-22-9-22-3zM4876 2729l22 4-22-9-22-4zM4854 2725l22 4-22-9-22-3z"/>
<path fill="#003018" d="M4363 2586l22 3-22-8-23-4zM4363 2590l23 4-23-8-22-4zM4386 2598l22 4-22-8-23-4zM4341 2586l22 4-22-8-23-4zM4363 2594l23 4-23-8-22-4zM4408 2607l23 4-23-9-22-4zM4386 2603l22 4-22-9-23-4zM4408 2611l23 4-23-8-22-4z"/>
<path fill="#002412" d="M4543 2648l22 4-22-8-22-4zM4565 2657l23 3-23-8-22-4zM4543 2653l22 4-22-9-22-4zM4566 2661l22 4-23-8-22-4zM4521 2649l22 4-22-9-23-4zM4543 2657l23 4-23-8-22-4zM4588 2669l22 4-22-8-22-4zM4521 2653l22 4-22-8-22-5zM4566 2665l22 4-22-8-23-4zM4611 2678l22 4-23-9-22-4zM4544 2661l22 4-23-8-22-4zM4588 2674l23 4-23-9-22-4zM4566 2670l22 4-22-9-22-4zM4589 2678l22 4-23-8-22-4z"/>
<path fill="#002a18" d="M4431 2619l22 4-22-8-23-4zM4453 2628l23 4-23-9-22-4z"/>
<path fill="#001e12" d="M4633 2682l22 4-22-9-23-4zM4655 2690l23 4-23-8-22-4zM4633 2686l22 4-22-8-22-4zM4611 2682l22 4-22-8-23-4z"/>
</g>
<g fill="none" stroke-width="0.80" stroke-linecap="round" opacity="1.00">
<path stroke="#703000" d="M349.5 228.3h1.1M386.1 235.3h1.1M395.2 236.5h1.1M413.2 240.9h1.1M422.2 242.0h1.1M431.2 245.4h1.1M431.2 243.1h1.1M440.1 246.4h1.1"/>
<path stroke="#407000" d="M358.7 231.5h1.1M449.0 252.1h1.1"/>
<path stroke="#600000" d="M358.7 229.6h1.1M367.9 230.9h1.1"/>
<path stroke="#006000" d="M367.8 234.7h1.1M395.1 240.6h1.1M404.1 243.9h1.1M413.2 245.2h1.1M422.2 248.5h1.1M431.2 251.8h1.1M431.2 249.8h1.1M440.1 253.1h1.1M449.1 256.5h1.1M449.0 254.3h1.1M458.0 259.9h1.1M458.0 257.8h1.1"/>
<path stroke="#307000" d="M367.8 232.8h1.1"/>
<path stroke="#006030" d="M376.9 237.9h1.1M386.0 241.2h1.1M395.0 244.4h1.1M404.1 247.7h1.1M413.2 251.0h1.1M422.2 254.2h1.1M431.3 257.6h1.1M440.3 260.9h1.1M449.3 264.2h1.1M458.3 267.6h1.1"/>
<path stroke="#006010" d="M376.9 236.1h1.1M386.0 239.3h1.1M413.2 247.2h1.1M422.2 250.5h1.1M431.2 253.8h1.1M440.2 255.2h1.1M449.1 258.6h1.1M458.1 262.0h1.1"/>
<path stroke="#705000" d="M377.0 234.1h1.1M449.0 249.8h1.1"/>
<path stroke="#702000" d="M377.0 232.1h1.1M404.2 237.6h1.1M413.2 238.7h1.1M422.2 239.7h1.1M431.2 240.7h1.1M440.1 244.1h1.1M440.1 241.6h1.1"/>
<path stroke="#207000" d="M386.0 237.4h1.1M404.2 241.9h1.1M422.2 246.4h1.1M440.1 251.0h1.1"/>
<path stroke="#701000" d="M386.1 233.2h1.1M395.2 234.3h1.1M404.3 235.4h1.1M413.3 236.4h1.1M422.3 237.4h1.1M431.2 238.3h1.1M440.1 239.1h1.1"/>
<path stroke="#006020" d="M395.1 242.6h1.1M404.1 245.8h1.1M413.2 249.1h1.1M422.2 252.4h1.1M431.2 255.7h1.1M440.2 259.1h1.1M440.2 257.2h1.1M449.2 262.4h1.1M449.2 260.6h1.1M458.2 265.8h1.1M458.1 263.9h1.1"/>
<path stroke="#607000" d="M395.1 238.6h1.1"/>
<path stroke="#704000" d="M404.2 239.8h1.1"/>
<path stroke="#507000" d="M413.2 243.1h1.1M431.2 247.6h1.1"/>
<path stroke="#706000" d="M422.2 244.2h1.1M440.1 248.7h1.1"/>
<path stroke="#603000" d="M449.0 247.4h1.1M457.9 250.8h1.1"/>
<path stroke="#602000" d="M449.0 245.0h1.1M449.0 242.5h1.1M457.9 248.4h1.1M457.9 245.9h1.1"/>
<path stroke="#601000" d="M449.0 240.0h1.1M457.9 243.3h1.1M457.9 240.7h1.1"/>
<path stroke="#206000" d="M457.9 255.5h1.1"/>
<path stroke="#606000" d="M457.9 253.2h1.1"/>
<path stroke="#005030" d="M467.2 269.2h1.1"/>
<path stroke="#005020" d="M467.1 267.3h1.1M476.0 270.8h1.1M475.9 268.8h1.1"/>
<path stroke="#005010" d="M467.0 265.4h1.1M466.9 263.3h1.1M475.9 266.8h1.1M475.8 264.6h1.1"/>
<path stroke="#005000" d="M466.9 261.2h1.1M466.8 259.0h1.1M475.7 262.4h1.1"/>
<path stroke="#405000" d="M466.8 256.6h1.1"/>
<path stroke="#504000" d="M466.7 254.3h1.1"/>
<path stroke="#502000" d="M466.7 251.8h1.1M466.7 249.3h1.1M475.6 255.3h1.1M475.5 252.7h1.1"/>
<path stroke="#501000" d="M466.7 246.7h1.1M466.7 244.1h1.1M475.5 250.2h1.1M475.5 247.5h1.1"/>
<path stroke="#205000" d="M475.6 260.1h1.1"/>
<path stroke="#505000" d="M475.6 257.7h1.1"/>
<path stroke="#004020" d="M484.9 272.3h1.1"/>
<path stroke="#004010" d="M484.7 270.2h1.1M484.7 268.1h1.1"/>
<path stroke="#004000" d="M484.6 265.9h1.1M484.5 263.6h1.1"/>
<path stroke="#304000" d="M484.4 261.2h1.1"/>
<path stroke="#402000" d="M484.4 258.7h1.1M484.3 256.2h1.1"/>
<path stroke="#401000" d="M484.3 253.6h1.1M484.3 251.0h1.1M493.1 259.7h1.1"/>
<path stroke="#003020" d="M493.6 273.7h1.1"/>
<path stroke="#003010" d="M493.5 271.6h1.1M493.4 269.4h1.1M502.4 275.1h1.1M502.3 272.9h1.1"/>
<path stroke="#003000" d="M493.3 267.1h1.1M502.2 270.6h1.1M502.1 268.2h1.1"/>
<path stroke="#104000" d="M493.3 264.7h1.1"/>
<path stroke="#403000" d="M493.2 262.2h1.1"/>
<path stroke="#301000" d="M493.1 257.1h1.1M493.1 254.4h1.1M501.9 263.2h1.1M501.9 260.6h1.1M501.8 257.9h1.1"/>
<path stroke="#203000" d="M502.0 265.7h1.1"/>
<path stroke="#002010" d="M511.1 276.4h1.1M511.0 274.1h1.1M519.8 277.7h1.1"/>
<path stroke="#002000" d="M510.8 271.8h1.1M519.6 275.3h1.1M519.5 272.9h1.1"/>
<path stroke="#102000" d="M510.8 269.3h1.1"/>
<path stroke="#201000" d="M510.7 266.8h1.1M510.6 264.1h1.1M519.3 267.7h1.1"/>
<path stroke="#200000" d="M510.5 261.5h1.1M519.2 265.0h1.1"/>
<path stroke="#202000" d="M519.4 270.3h1.1"/>
<path stroke="#001010" d="M528.4 278.9h1.1"/>
<path stroke="#001000" d="M528.3 276.5h1.1M528.1 273.9h1.1"/>
<path stroke="#101000" d="M528.0 271.3h1.1"/>
<path stroke="#100000" d="M527.9 268.6h1.1"/>
</g>
<ellipse cx="345.5" cy="225.2" rx="1.9" ry="1.5" fill="#e60000" stroke="#900" stroke-width=".4"/>
<ellipse cx="397.7" cy="236.5" rx="1.9" ry="1.5" fill="#f6c4c4" stroke="#b55" stroke-width=".45"/>
<ellipse cx="458.5" cy="243.7" rx="1.9" ry="1.5" fill="#f6c4c4" stroke="#b55" stroke-width=".45"/>
<ellipse cx="516.8" cy="262.0" rx="1.9" ry="1.5" fill="#e60000" stroke="#900" stroke-width=".4"/>
<text x="299.6" y="212.7" font-size="21" class="b">d)</text>
<text x="340.0" y="221.1" font-size="7.1" text-anchor="end">8.2</text>
<text x="341.8" y="241.7" font-size="7.1" text-anchor="end">6.975</text>
<text x="342.4" y="262.6" font-size="7.1" text-anchor="end">5.75</text>
<text x="343.9" y="283.5" font-size="7.1" text-anchor="end">4.525</text>
<text x="344.8" y="304.1" font-size="7.1" text-anchor="end">3.3</text>
<text x="315.0" y="310.0" font-size="10.5" textLength="78.1" lengthAdjust="spacingAndGlyphs" class="t" transform="rotate(-90 315.0 310.0)">Wear rate (x10-6)</text>
<text x="344.5" y="328.8" font-size="7.1" text-anchor="middle">20</text>
<text x="371.0" y="339.6" font-size="7.1" text-anchor="middle">19</text>
<text x="397.6" y="349.2" font-size="7.1" text-anchor="middle">18</text>
<text x="423.4" y="358.2" font-size="7.1" text-anchor="middle">17</text>
<text x="450.5" y="367.3" font-size="7.1" text-anchor="middle">16</text>
<text x="463.7" y="367.3" font-size="7.1" text-anchor="middle">1</text>
<text x="493.3" y="358.3" font-size="7.1" text-anchor="middle">1.5</text>
<text x="516.8" y="349.1" font-size="7.1" text-anchor="middle">2</text>
<text x="546.4" y="339.2" font-size="7.1" text-anchor="middle">2.5</text>
<text x="570.0" y="329.3" font-size="7.1" text-anchor="middle">3</text>
<text x="316.9" y="363.3" font-size="11" textLength="93.2" lengthAdjust="spacingAndGlyphs" class="t">Nickel Sulphate (g/l)</text>
<text x="502.7" y="362.9" font-size="11" textLength="99.0" lengthAdjust="spacingAndGlyphs" class="t">Calcium Bromide (g/l)</text>
</svg></body></html>
